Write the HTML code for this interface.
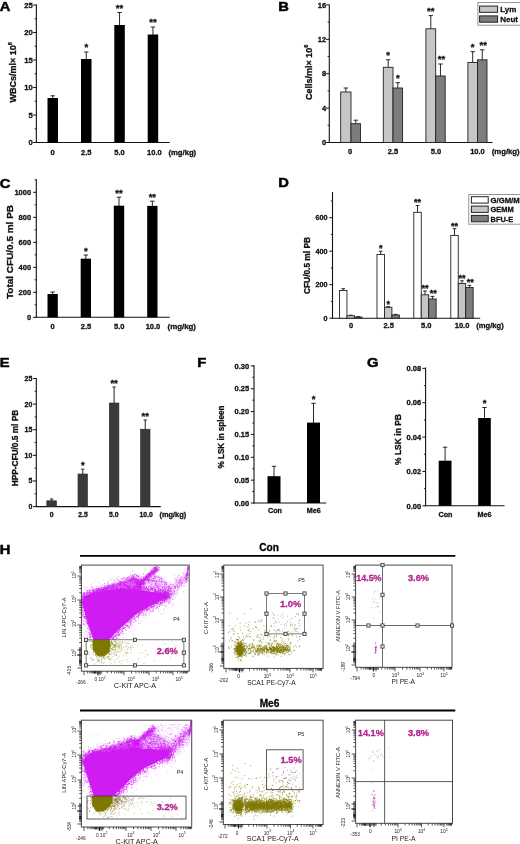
<!DOCTYPE html><html><head><meta charset="utf-8"><style>html,body{margin:0;padding:0;background:#fff}svg{display:block;filter:blur(0.35px)}</style></head><body><svg width="520" height="844" viewBox="0 0 520 844" font-family="Liberation Sans, sans-serif">
<rect width="520" height="844" fill="#fff"/>
<text x="-0.3" y="10.7" font-size="13.4" font-weight="bold" text-anchor="start" fill="#000" textLength="10.64" lengthAdjust="spacingAndGlyphs" stroke="#000" stroke-width="0.5">A</text>
<line x1="36.35" y1="4.5" x2="36.35" y2="143.0" stroke="#111" stroke-width="1.1"/>
<line x1="33.15" y1="142.5" x2="36.35" y2="142.5" stroke="#111" stroke-width="1"/>
<text x="32.75" y="145.272" font-size="7.7" font-weight="bold" text-anchor="end" fill="#111"  stroke="#111" stroke-width="0.3">0</text>
<line x1="33.15" y1="115.0" x2="36.35" y2="115.0" stroke="#111" stroke-width="1"/>
<text x="32.75" y="117.772" font-size="7.7" font-weight="bold" text-anchor="end" fill="#111"  stroke="#111" stroke-width="0.3">5</text>
<line x1="33.15" y1="87.5" x2="36.35" y2="87.5" stroke="#111" stroke-width="1"/>
<text x="32.75" y="90.272" font-size="7.7" font-weight="bold" text-anchor="end" fill="#111"  stroke="#111" stroke-width="0.3">10</text>
<line x1="33.15" y1="60.0" x2="36.35" y2="60.0" stroke="#111" stroke-width="1"/>
<text x="32.75" y="62.772" font-size="7.7" font-weight="bold" text-anchor="end" fill="#111"  stroke="#111" stroke-width="0.3">15</text>
<line x1="33.15" y1="32.5" x2="36.35" y2="32.5" stroke="#111" stroke-width="1"/>
<text x="32.75" y="35.272" font-size="7.7" font-weight="bold" text-anchor="end" fill="#111"  stroke="#111" stroke-width="0.3">20</text>
<line x1="33.15" y1="5.0" x2="36.35" y2="5.0" stroke="#111" stroke-width="1"/>
<text x="32.75" y="7.772" font-size="7.7" font-weight="bold" text-anchor="end" fill="#111"  stroke="#111" stroke-width="0.3">25</text>
<line x1="34.65" y1="128.75" x2="36.35" y2="128.75" stroke="#111" stroke-width="0.9"/>
<line x1="34.65" y1="101.25" x2="36.35" y2="101.25" stroke="#111" stroke-width="0.9"/>
<line x1="34.65" y1="73.75" x2="36.35" y2="73.75" stroke="#111" stroke-width="0.9"/>
<line x1="34.65" y1="46.25" x2="36.35" y2="46.25" stroke="#111" stroke-width="0.9"/>
<line x1="34.65" y1="18.75" x2="36.35" y2="18.75" stroke="#111" stroke-width="0.9"/>
<line x1="35.85" y1="142.5" x2="169.7" y2="142.5" stroke="#111" stroke-width="1.1"/>
<line x1="52.75" y1="95.8" x2="52.75" y2="99" stroke="#111" stroke-width="0.9"/>
<line x1="50.55" y1="95.8" x2="54.95" y2="95.8" stroke="#111" stroke-width="0.9"/>
<rect x="47.50" y="98.00" width="10.50" height="44.50" fill="#000"/>
<line x1="86.25" y1="52" x2="86.25" y2="60" stroke="#111" stroke-width="0.9"/>
<line x1="84.05" y1="52" x2="88.45" y2="52" stroke="#111" stroke-width="0.9"/>
<rect x="81.00" y="59.00" width="10.50" height="83.50" fill="#000"/>
<text x="86.25" y="50.4875" font-size="9.5" font-weight="bold" text-anchor="middle" fill="#111"  stroke="#111" stroke-width="0.3">*</text>
<line x1="119.55" y1="12.5" x2="119.55" y2="26" stroke="#111" stroke-width="0.9"/>
<line x1="117.35" y1="12.5" x2="121.75" y2="12.5" stroke="#111" stroke-width="0.9"/>
<rect x="114.30" y="25.00" width="10.50" height="117.50" fill="#000"/>
<text x="119.55" y="10.9875" font-size="9.5" font-weight="bold" text-anchor="middle" fill="#111"  stroke="#111" stroke-width="0.3">**</text>
<line x1="152.95" y1="27" x2="152.95" y2="35.5" stroke="#111" stroke-width="0.9"/>
<line x1="150.75" y1="27" x2="155.14999999999998" y2="27" stroke="#111" stroke-width="0.9"/>
<rect x="147.70" y="34.50" width="10.50" height="108.00" fill="#000"/>
<text x="152.95" y="25.4875" font-size="9.5" font-weight="bold" text-anchor="middle" fill="#111"  stroke="#111" stroke-width="0.3">**</text>
<text x="52.7" y="154.8" font-size="7.5" font-weight="bold" text-anchor="middle" fill="#111"  stroke="#111" stroke-width="0.3">0</text>
<text x="86.2" y="154.8" font-size="7.5" font-weight="bold" text-anchor="middle" fill="#111"  stroke="#111" stroke-width="0.3">2.5</text>
<text x="119.5" y="154.8" font-size="7.5" font-weight="bold" text-anchor="middle" fill="#111"  stroke="#111" stroke-width="0.3">5.0</text>
<text x="154.4" y="154.8" font-size="7.5" font-weight="bold" text-anchor="middle" fill="#111"  stroke="#111" stroke-width="0.3">10.0</text>
<text x="168.4" y="154.8" font-size="7.7" font-weight="bold" text-anchor="start" fill="#111" textLength="27.8" lengthAdjust="spacingAndGlyphs"  stroke="#111" stroke-width="0.3">(mg/kg)</text>
<text x="16.2" y="102.5" font-size="9" font-weight="bold" text-anchor="start" fill="#111" transform="rotate(-90 16.2 102.5)"  stroke="#111" stroke-width="0.3">WBCs/ml× 10<tspan dy="-4" font-size="5.6">6</tspan></text>
<text x="278.2" y="10.8" font-size="13.4" font-weight="bold" text-anchor="start" fill="#000" textLength="10.64" lengthAdjust="spacingAndGlyphs" stroke="#000" stroke-width="0.5">B</text>
<line x1="329.3" y1="4.5" x2="329.3" y2="143.0" stroke="#111" stroke-width="1.1"/>
<line x1="326.1" y1="142.5" x2="329.3" y2="142.5" stroke="#111" stroke-width="1"/>
<text x="326.1" y="145.2" font-size="7.5" font-weight="bold" text-anchor="end" fill="#111"  stroke="#111" stroke-width="0.3">0</text>
<line x1="326.1" y1="108.1" x2="329.3" y2="108.1" stroke="#111" stroke-width="1"/>
<text x="326.1" y="110.8" font-size="7.5" font-weight="bold" text-anchor="end" fill="#111"  stroke="#111" stroke-width="0.3">4</text>
<line x1="326.1" y1="73.7" x2="329.3" y2="73.7" stroke="#111" stroke-width="1"/>
<text x="326.1" y="76.4" font-size="7.5" font-weight="bold" text-anchor="end" fill="#111"  stroke="#111" stroke-width="0.3">8</text>
<line x1="326.1" y1="39.30000000000001" x2="329.3" y2="39.30000000000001" stroke="#111" stroke-width="1"/>
<text x="326.1" y="42.000000000000014" font-size="7.5" font-weight="bold" text-anchor="end" fill="#111"  stroke="#111" stroke-width="0.3">12</text>
<line x1="326.1" y1="4.900000000000006" x2="329.3" y2="4.900000000000006" stroke="#111" stroke-width="1"/>
<text x="326.1" y="7.600000000000005" font-size="7.5" font-weight="bold" text-anchor="end" fill="#111"  stroke="#111" stroke-width="0.3">16</text>
<line x1="327.6" y1="125.3" x2="329.3" y2="125.3" stroke="#111" stroke-width="0.9"/>
<line x1="327.6" y1="90.9" x2="329.3" y2="90.9" stroke="#111" stroke-width="0.9"/>
<line x1="327.6" y1="56.5" x2="329.3" y2="56.5" stroke="#111" stroke-width="0.9"/>
<line x1="327.6" y1="22.10000000000001" x2="329.3" y2="22.10000000000001" stroke="#111" stroke-width="0.9"/>
<line x1="328.8" y1="142.5" x2="492.5" y2="142.5" stroke="#111" stroke-width="1.1"/>
<line x1="345.85" y1="88" x2="345.85" y2="92" stroke="#111" stroke-width="0.9"/>
<line x1="343.65000000000003" y1="88" x2="348.05" y2="88" stroke="#111" stroke-width="0.9"/>
<line x1="355.75" y1="120.2" x2="355.75" y2="123.7" stroke="#111" stroke-width="0.9"/>
<line x1="353.55" y1="120.2" x2="357.95" y2="120.2" stroke="#111" stroke-width="0.9"/>
<rect x="340.70" y="92.00" width="10.30" height="50.50" fill="#c6c6c6" stroke="#222" stroke-width="0.9"/>
<rect x="351.00" y="123.70" width="9.50" height="18.80" fill="#7d7d7d" stroke="#222" stroke-width="0.9"/>
<line x1="388.15" y1="59.8" x2="388.15" y2="67.3" stroke="#111" stroke-width="0.9"/>
<line x1="385.95" y1="59.8" x2="390.34999999999997" y2="59.8" stroke="#111" stroke-width="0.9"/>
<line x1="397.8" y1="82.7" x2="397.8" y2="88" stroke="#111" stroke-width="0.9"/>
<line x1="395.6" y1="82.7" x2="400.0" y2="82.7" stroke="#111" stroke-width="0.9"/>
<rect x="383.30" y="67.30" width="9.70" height="75.20" fill="#c6c6c6" stroke="#222" stroke-width="0.9"/>
<rect x="393.00" y="88.00" width="9.60" height="54.50" fill="#7d7d7d" stroke="#222" stroke-width="0.9"/>
<text x="388.15" y="58.287499999999994" font-size="9.5" font-weight="bold" text-anchor="middle" fill="#111"  stroke="#111" stroke-width="0.3">*</text>
<text x="397.8" y="81.1875" font-size="9.5" font-weight="bold" text-anchor="middle" fill="#111"  stroke="#111" stroke-width="0.3">*</text>
<line x1="430.79999999999995" y1="15.6" x2="430.79999999999995" y2="28.8" stroke="#111" stroke-width="0.9"/>
<line x1="428.59999999999997" y1="15.6" x2="432.99999999999994" y2="15.6" stroke="#111" stroke-width="0.9"/>
<line x1="440.45" y1="64" x2="440.45" y2="76" stroke="#111" stroke-width="0.9"/>
<line x1="438.25" y1="64" x2="442.65" y2="64" stroke="#111" stroke-width="0.9"/>
<rect x="425.90" y="28.80" width="9.80" height="113.70" fill="#c6c6c6" stroke="#222" stroke-width="0.9"/>
<rect x="435.70" y="76.00" width="9.50" height="66.50" fill="#7d7d7d" stroke="#222" stroke-width="0.9"/>
<text x="430.79999999999995" y="14.087499999999999" font-size="9.5" font-weight="bold" text-anchor="middle" fill="#111"  stroke="#111" stroke-width="0.3">**</text>
<text x="441.45" y="62.4875" font-size="9.5" font-weight="bold" text-anchor="middle" fill="#111"  stroke="#111" stroke-width="0.3">**</text>
<line x1="472.7" y1="51.7" x2="472.7" y2="62.5" stroke="#111" stroke-width="0.9"/>
<line x1="470.5" y1="51.7" x2="474.9" y2="51.7" stroke="#111" stroke-width="0.9"/>
<line x1="482.25" y1="49.8" x2="482.25" y2="59.8" stroke="#111" stroke-width="0.9"/>
<line x1="480.05" y1="49.8" x2="484.45" y2="49.8" stroke="#111" stroke-width="0.9"/>
<rect x="467.90" y="62.50" width="9.60" height="80.00" fill="#c6c6c6" stroke="#222" stroke-width="0.9"/>
<rect x="477.50" y="59.80" width="9.50" height="82.70" fill="#7d7d7d" stroke="#222" stroke-width="0.9"/>
<text x="472.7" y="50.1875" font-size="9.5" font-weight="bold" text-anchor="middle" fill="#111"  stroke="#111" stroke-width="0.3">*</text>
<text x="483.25" y="48.287499999999994" font-size="9.5" font-weight="bold" text-anchor="middle" fill="#111"  stroke="#111" stroke-width="0.3">**</text>
<text x="350" y="153.5" font-size="7.5" font-weight="bold" text-anchor="middle" fill="#111"  stroke="#111" stroke-width="0.3">0</text>
<text x="393" y="153.5" font-size="7.5" font-weight="bold" text-anchor="middle" fill="#111"  stroke="#111" stroke-width="0.3">2.5</text>
<text x="436" y="153.5" font-size="7.5" font-weight="bold" text-anchor="middle" fill="#111"  stroke="#111" stroke-width="0.3">5.0</text>
<text x="477.5" y="153.5" font-size="7.5" font-weight="bold" text-anchor="middle" fill="#111"  stroke="#111" stroke-width="0.3">10.0</text>
<text x="491.7" y="153.5" font-size="7.6" font-weight="bold" text-anchor="start" fill="#111" textLength="28" lengthAdjust="spacingAndGlyphs"  stroke="#111" stroke-width="0.3">(mg/kg)</text>
<text x="311.9" y="100" font-size="9" font-weight="bold" text-anchor="start" fill="#111" transform="rotate(-90 311.9 100)"  stroke="#111" stroke-width="0.3">Cells/ml× 10<tspan dy="-4" font-size="5.6">6</tspan></text>
<rect x="477.90" y="2.60" width="43.10" height="22.60" fill="#fff" stroke="#8a8a8a" stroke-width="0.9"/>
<rect x="479.60" y="6.10" width="18.00" height="6.20" fill="#c6c6c6" stroke="#222" stroke-width="1.0"/>
<rect x="479.60" y="15.90" width="18.00" height="6.30" fill="#7d7d7d" stroke="#222" stroke-width="1.0"/>
<text x="500.2" y="12.2" font-size="8" font-weight="bold" text-anchor="start" fill="#111"  stroke="#111" stroke-width="0.3">Lym</text>
<text x="500.2" y="22.1" font-size="8" font-weight="bold" text-anchor="start" fill="#111"  stroke="#111" stroke-width="0.3">Neut</text>
<text x="-0.3" y="187.6" font-size="13.4" font-weight="bold" text-anchor="start" fill="#000" textLength="10.64" lengthAdjust="spacingAndGlyphs" stroke="#000" stroke-width="0.5">C</text>
<line x1="36.3" y1="179.3" x2="36.3" y2="317.8" stroke="#111" stroke-width="1.1"/>
<line x1="33.099999999999994" y1="317.3" x2="36.3" y2="317.3" stroke="#111" stroke-width="1"/>
<text x="31.099999999999998" y="320.0" font-size="7.5" font-weight="bold" text-anchor="end" fill="#111"  stroke="#111" stroke-width="0.3">0</text>
<line x1="33.099999999999994" y1="292.3" x2="36.3" y2="292.3" stroke="#111" stroke-width="1"/>
<text x="31.099999999999998" y="295.0" font-size="7.5" font-weight="bold" text-anchor="end" fill="#111"  stroke="#111" stroke-width="0.3">200</text>
<line x1="33.099999999999994" y1="267.3" x2="36.3" y2="267.3" stroke="#111" stroke-width="1"/>
<text x="31.099999999999998" y="270.0" font-size="7.5" font-weight="bold" text-anchor="end" fill="#111"  stroke="#111" stroke-width="0.3">400</text>
<line x1="33.099999999999994" y1="242.3" x2="36.3" y2="242.3" stroke="#111" stroke-width="1"/>
<text x="31.099999999999998" y="245.0" font-size="7.5" font-weight="bold" text-anchor="end" fill="#111"  stroke="#111" stroke-width="0.3">600</text>
<line x1="33.099999999999994" y1="217.3" x2="36.3" y2="217.3" stroke="#111" stroke-width="1"/>
<text x="31.099999999999998" y="220.0" font-size="7.5" font-weight="bold" text-anchor="end" fill="#111"  stroke="#111" stroke-width="0.3">800</text>
<line x1="33.099999999999994" y1="192.3" x2="36.3" y2="192.3" stroke="#111" stroke-width="1"/>
<text x="31.099999999999998" y="195.0" font-size="7.5" font-weight="bold" text-anchor="end" fill="#111"  stroke="#111" stroke-width="0.3">1000</text>
<line x1="34.599999999999994" y1="304.8" x2="36.3" y2="304.8" stroke="#111" stroke-width="0.9"/>
<line x1="34.599999999999994" y1="279.8" x2="36.3" y2="279.8" stroke="#111" stroke-width="0.9"/>
<line x1="34.599999999999994" y1="254.8" x2="36.3" y2="254.8" stroke="#111" stroke-width="0.9"/>
<line x1="34.599999999999994" y1="229.8" x2="36.3" y2="229.8" stroke="#111" stroke-width="0.9"/>
<line x1="34.599999999999994" y1="204.8" x2="36.3" y2="204.8" stroke="#111" stroke-width="0.9"/>
<line x1="34.599999999999994" y1="179.8" x2="36.3" y2="179.8" stroke="#111" stroke-width="0.9"/>
<line x1="35.8" y1="317.3" x2="169.7" y2="317.3" stroke="#111" stroke-width="1.1"/>
<line x1="52.65" y1="292" x2="52.65" y2="295" stroke="#111" stroke-width="0.9"/>
<line x1="50.449999999999996" y1="292" x2="54.85" y2="292" stroke="#111" stroke-width="0.9"/>
<rect x="47.50" y="294.00" width="10.30" height="23.30" fill="#000"/>
<line x1="85.85" y1="255" x2="85.85" y2="259.7" stroke="#111" stroke-width="0.9"/>
<line x1="83.64999999999999" y1="255" x2="88.05" y2="255" stroke="#111" stroke-width="0.9"/>
<rect x="80.70" y="258.70" width="10.30" height="58.60" fill="#000"/>
<text x="85.85" y="253.9875" font-size="9.5" font-weight="bold" text-anchor="middle" fill="#111"  stroke="#111" stroke-width="0.3">*</text>
<line x1="119.0" y1="197.2" x2="119.0" y2="206.7" stroke="#111" stroke-width="0.9"/>
<line x1="116.8" y1="197.2" x2="121.2" y2="197.2" stroke="#111" stroke-width="0.9"/>
<rect x="113.80" y="205.70" width="10.40" height="111.60" fill="#000"/>
<text x="119.0" y="196.1875" font-size="9.5" font-weight="bold" text-anchor="middle" fill="#111"  stroke="#111" stroke-width="0.3">**</text>
<line x1="152.35" y1="201.2" x2="152.35" y2="206.9" stroke="#111" stroke-width="0.9"/>
<line x1="150.15" y1="201.2" x2="154.54999999999998" y2="201.2" stroke="#111" stroke-width="0.9"/>
<rect x="147.20" y="205.90" width="10.30" height="111.40" fill="#000"/>
<text x="152.35" y="200.1875" font-size="9.5" font-weight="bold" text-anchor="middle" fill="#111"  stroke="#111" stroke-width="0.3">**</text>
<text x="52.7" y="329" font-size="7.5" font-weight="bold" text-anchor="middle" fill="#111"  stroke="#111" stroke-width="0.3">0</text>
<text x="86" y="329" font-size="7.5" font-weight="bold" text-anchor="middle" fill="#111"  stroke="#111" stroke-width="0.3">2.5</text>
<text x="119.3" y="329" font-size="7.5" font-weight="bold" text-anchor="middle" fill="#111"  stroke="#111" stroke-width="0.3">5.0</text>
<text x="153" y="329" font-size="7.5" font-weight="bold" text-anchor="middle" fill="#111"  stroke="#111" stroke-width="0.3">10.0</text>
<text x="167.5" y="329" font-size="7.6" font-weight="bold" text-anchor="start" fill="#111" textLength="28.5" lengthAdjust="spacingAndGlyphs"  stroke="#111" stroke-width="0.3">(mg/kg)</text>
<text x="12.6" y="299" font-size="9.9" font-weight="bold" text-anchor="start" fill="#111" transform="rotate(-90 12.6 299)" textLength="94" lengthAdjust="spacingAndGlyphs"  stroke="#111" stroke-width="0.3">Total CFU/0.5 ml PB</text>
<text x="278.2" y="187.2" font-size="13.4" font-weight="bold" text-anchor="start" fill="#000" textLength="10.64" lengthAdjust="spacingAndGlyphs" stroke="#000" stroke-width="0.5">D</text>
<line x1="332.5" y1="192.0" x2="332.5" y2="318.7" stroke="#111" stroke-width="1.1"/>
<line x1="329.3" y1="318.2" x2="332.5" y2="318.2" stroke="#111" stroke-width="1"/>
<text x="327.5" y="320.792" font-size="7.2" font-weight="bold" text-anchor="end" fill="#111"  stroke="#111" stroke-width="0.3">0</text>
<line x1="329.3" y1="284.7" x2="332.5" y2="284.7" stroke="#111" stroke-width="1"/>
<text x="327.5" y="287.292" font-size="7.2" font-weight="bold" text-anchor="end" fill="#111"  stroke="#111" stroke-width="0.3">200</text>
<line x1="329.3" y1="251.2" x2="332.5" y2="251.2" stroke="#111" stroke-width="1"/>
<text x="327.5" y="253.792" font-size="7.2" font-weight="bold" text-anchor="end" fill="#111"  stroke="#111" stroke-width="0.3">400</text>
<line x1="329.3" y1="217.7" x2="332.5" y2="217.7" stroke="#111" stroke-width="1"/>
<text x="327.5" y="220.292" font-size="7.2" font-weight="bold" text-anchor="end" fill="#111"  stroke="#111" stroke-width="0.3">600</text>
<line x1="330.8" y1="301.45" x2="332.5" y2="301.45" stroke="#111" stroke-width="0.9"/>
<line x1="330.8" y1="267.95" x2="332.5" y2="267.95" stroke="#111" stroke-width="0.9"/>
<line x1="330.8" y1="234.45" x2="332.5" y2="234.45" stroke="#111" stroke-width="0.9"/>
<line x1="330.8" y1="200.95" x2="332.5" y2="200.95" stroke="#111" stroke-width="0.9"/>
<line x1="332.0" y1="318.2" x2="480.2" y2="318.2" stroke="#111" stroke-width="1.1"/>
<line x1="343.225" y1="288.7" x2="343.225" y2="290.5" stroke="#111" stroke-width="0.9"/>
<line x1="341.425" y1="288.7" x2="345.02500000000003" y2="288.7" stroke="#111" stroke-width="0.9"/>
<rect x="339.50" y="290.50" width="7.45" height="27.70" fill="#fff" stroke="#222" stroke-width="0.9"/>
<line x1="350.67499999999995" y1="315.2" x2="350.67499999999995" y2="315.7" stroke="#111" stroke-width="0.9"/>
<line x1="348.87499999999994" y1="315.2" x2="352.47499999999997" y2="315.2" stroke="#111" stroke-width="0.9"/>
<rect x="346.95" y="315.70" width="7.45" height="2.50" fill="#c6c6c6" stroke="#222" stroke-width="0.9"/>
<line x1="358.125" y1="316.6" x2="358.125" y2="317" stroke="#111" stroke-width="0.9"/>
<line x1="356.325" y1="316.6" x2="359.925" y2="316.6" stroke="#111" stroke-width="0.9"/>
<rect x="354.40" y="317.00" width="7.45" height="1.20" fill="#7d7d7d" stroke="#222" stroke-width="0.9"/>
<line x1="380.725" y1="251.2" x2="380.725" y2="254.5" stroke="#111" stroke-width="0.9"/>
<line x1="378.925" y1="251.2" x2="382.52500000000003" y2="251.2" stroke="#111" stroke-width="0.9"/>
<rect x="377.00" y="254.50" width="7.45" height="63.70" fill="#fff" stroke="#222" stroke-width="0.9"/>
<text x="380.725" y="251.12499999999997" font-size="9" font-weight="bold" text-anchor="middle" fill="#111"  stroke="#111" stroke-width="0.3">*</text>
<line x1="388.17499999999995" y1="306.6" x2="388.17499999999995" y2="307.3" stroke="#111" stroke-width="0.9"/>
<line x1="386.37499999999994" y1="306.6" x2="389.97499999999997" y2="306.6" stroke="#111" stroke-width="0.9"/>
<rect x="384.45" y="307.30" width="7.45" height="10.90" fill="#c6c6c6" stroke="#222" stroke-width="0.9"/>
<text x="388.17499999999995" y="306.52500000000003" font-size="9" font-weight="bold" text-anchor="middle" fill="#111"  stroke="#111" stroke-width="0.3">*</text>
<line x1="395.625" y1="314.4" x2="395.625" y2="315" stroke="#111" stroke-width="0.9"/>
<line x1="393.825" y1="314.4" x2="397.425" y2="314.4" stroke="#111" stroke-width="0.9"/>
<rect x="391.90" y="315.00" width="7.45" height="3.20" fill="#7d7d7d" stroke="#222" stroke-width="0.9"/>
<line x1="417.525" y1="205.5" x2="417.525" y2="212.3" stroke="#111" stroke-width="0.9"/>
<line x1="415.72499999999997" y1="205.5" x2="419.325" y2="205.5" stroke="#111" stroke-width="0.9"/>
<rect x="413.80" y="212.30" width="7.45" height="105.90" fill="#fff" stroke="#222" stroke-width="0.9"/>
<text x="417.525" y="205.42499999999998" font-size="9" font-weight="bold" text-anchor="middle" fill="#111"  stroke="#111" stroke-width="0.3">**</text>
<line x1="424.975" y1="291" x2="424.975" y2="294.8" stroke="#111" stroke-width="0.9"/>
<line x1="423.175" y1="291" x2="426.77500000000003" y2="291" stroke="#111" stroke-width="0.9"/>
<rect x="421.25" y="294.80" width="7.45" height="23.40" fill="#c6c6c6" stroke="#222" stroke-width="0.9"/>
<text x="424.975" y="290.925" font-size="9" font-weight="bold" text-anchor="middle" fill="#111"  stroke="#111" stroke-width="0.3">**</text>
<line x1="432.42499999999995" y1="296.4" x2="432.42499999999995" y2="299" stroke="#111" stroke-width="0.9"/>
<line x1="430.62499999999994" y1="296.4" x2="434.22499999999997" y2="296.4" stroke="#111" stroke-width="0.9"/>
<rect x="428.70" y="299.00" width="7.45" height="19.20" fill="#7d7d7d" stroke="#222" stroke-width="0.9"/>
<text x="433.22499999999997" y="296.325" font-size="9" font-weight="bold" text-anchor="middle" fill="#111"  stroke="#111" stroke-width="0.3">**</text>
<line x1="454.525" y1="228.7" x2="454.525" y2="235.4" stroke="#111" stroke-width="0.9"/>
<line x1="452.72499999999997" y1="228.7" x2="456.325" y2="228.7" stroke="#111" stroke-width="0.9"/>
<rect x="450.80" y="235.40" width="7.45" height="82.80" fill="#fff" stroke="#222" stroke-width="0.9"/>
<text x="454.525" y="228.62499999999997" font-size="9" font-weight="bold" text-anchor="middle" fill="#111"  stroke="#111" stroke-width="0.3">**</text>
<line x1="461.975" y1="280.8" x2="461.975" y2="283.5" stroke="#111" stroke-width="0.9"/>
<line x1="460.175" y1="280.8" x2="463.77500000000003" y2="280.8" stroke="#111" stroke-width="0.9"/>
<rect x="458.25" y="283.50" width="7.45" height="34.70" fill="#c6c6c6" stroke="#222" stroke-width="0.9"/>
<text x="461.975" y="280.725" font-size="9" font-weight="bold" text-anchor="middle" fill="#111"  stroke="#111" stroke-width="0.3">**</text>
<line x1="469.42499999999995" y1="285.3" x2="469.42499999999995" y2="287.5" stroke="#111" stroke-width="0.9"/>
<line x1="467.62499999999994" y1="285.3" x2="471.22499999999997" y2="285.3" stroke="#111" stroke-width="0.9"/>
<rect x="465.70" y="287.50" width="7.45" height="30.70" fill="#7d7d7d" stroke="#222" stroke-width="0.9"/>
<text x="470.22499999999997" y="285.225" font-size="9" font-weight="bold" text-anchor="middle" fill="#111"  stroke="#111" stroke-width="0.3">**</text>
<text x="351.2" y="328" font-size="7.5" font-weight="bold" text-anchor="middle" fill="#111"  stroke="#111" stroke-width="0.3">0</text>
<text x="388.6" y="328" font-size="7.5" font-weight="bold" text-anchor="middle" fill="#111"  stroke="#111" stroke-width="0.3">2.5</text>
<text x="426.3" y="328" font-size="7.5" font-weight="bold" text-anchor="middle" fill="#111"  stroke="#111" stroke-width="0.3">5.0</text>
<text x="462.1" y="328" font-size="7.5" font-weight="bold" text-anchor="middle" fill="#111"  stroke="#111" stroke-width="0.3">10.0</text>
<text x="476.2" y="328" font-size="7.6" font-weight="bold" text-anchor="start" fill="#111" textLength="27.5" lengthAdjust="spacingAndGlyphs"  stroke="#111" stroke-width="0.3">(mg/kg)</text>
<text x="310.3" y="294" font-size="8.4" font-weight="bold" text-anchor="start" fill="#111" transform="rotate(-90 310.3 294)" textLength="57" lengthAdjust="spacingAndGlyphs"  stroke="#111" stroke-width="0.3">CFU/0.5 ml PB</text>
<rect x="468.80" y="194.50" width="52.20" height="29.70" fill="#fff" stroke="#8a8a8a" stroke-width="0.9"/>
<rect x="471.40" y="196.70" width="16.80" height="6.40" fill="#fff" stroke="#222" stroke-width="1.0"/>
<rect x="471.40" y="206.10" width="16.80" height="6.30" fill="#c6c6c6" stroke="#222" stroke-width="1.0"/>
<rect x="471.40" y="215.40" width="16.80" height="6.40" fill="#7d7d7d" stroke="#222" stroke-width="1.0"/>
<text x="490.6" y="202.8" font-size="7.4" font-weight="bold" text-anchor="start" fill="#111" textLength="29" lengthAdjust="spacingAndGlyphs"  stroke="#111" stroke-width="0.3">G/GM/M</text>
<text x="490.6" y="212.2" font-size="7.4" font-weight="bold" text-anchor="start" fill="#111"  stroke="#111" stroke-width="0.3">GEMM</text>
<text x="490.6" y="221.5" font-size="7.4" font-weight="bold" text-anchor="start" fill="#111"  stroke="#111" stroke-width="0.3">BFU-E</text>
<text x="-0.3" y="367.1" font-size="13.4" font-weight="bold" text-anchor="start" fill="#000" textLength="9.83" lengthAdjust="spacingAndGlyphs" stroke="#000" stroke-width="0.5">E</text>
<line x1="36.3" y1="378.0" x2="36.3" y2="507.1" stroke="#111" stroke-width="1.1"/>
<line x1="33.099999999999994" y1="506.6" x2="36.3" y2="506.6" stroke="#111" stroke-width="1"/>
<text x="32.4" y="509.12" font-size="7.0" font-weight="bold" text-anchor="end" fill="#111"  stroke="#111" stroke-width="0.3">0</text>
<line x1="33.099999999999994" y1="480.975" x2="36.3" y2="480.975" stroke="#111" stroke-width="1"/>
<text x="32.4" y="483.495" font-size="7.0" font-weight="bold" text-anchor="end" fill="#111"  stroke="#111" stroke-width="0.3">5</text>
<line x1="33.099999999999994" y1="455.35" x2="36.3" y2="455.35" stroke="#111" stroke-width="1"/>
<text x="32.4" y="457.87" font-size="7.0" font-weight="bold" text-anchor="end" fill="#111"  stroke="#111" stroke-width="0.3">10</text>
<line x1="33.099999999999994" y1="429.725" x2="36.3" y2="429.725" stroke="#111" stroke-width="1"/>
<text x="32.4" y="432.245" font-size="7.0" font-weight="bold" text-anchor="end" fill="#111"  stroke="#111" stroke-width="0.3">15</text>
<line x1="33.099999999999994" y1="404.1" x2="36.3" y2="404.1" stroke="#111" stroke-width="1"/>
<text x="32.4" y="406.62" font-size="7.0" font-weight="bold" text-anchor="end" fill="#111"  stroke="#111" stroke-width="0.3">20</text>
<line x1="33.099999999999994" y1="378.475" x2="36.3" y2="378.475" stroke="#111" stroke-width="1"/>
<text x="32.4" y="380.995" font-size="7.0" font-weight="bold" text-anchor="end" fill="#111"  stroke="#111" stroke-width="0.3">25</text>
<line x1="34.599999999999994" y1="493.7875" x2="36.3" y2="493.7875" stroke="#111" stroke-width="0.9"/>
<line x1="34.599999999999994" y1="468.1625" x2="36.3" y2="468.1625" stroke="#111" stroke-width="0.9"/>
<line x1="34.599999999999994" y1="442.5375" x2="36.3" y2="442.5375" stroke="#111" stroke-width="0.9"/>
<line x1="34.599999999999994" y1="416.9125" x2="36.3" y2="416.9125" stroke="#111" stroke-width="0.9"/>
<line x1="34.599999999999994" y1="391.2875" x2="36.3" y2="391.2875" stroke="#111" stroke-width="0.9"/>
<line x1="35.8" y1="506.6" x2="160.8" y2="506.6" stroke="#111" stroke-width="1.1"/>
<line x1="51.65" y1="499" x2="51.65" y2="501.8" stroke="#333" stroke-width="1.1"/>
<line x1="50.05" y1="499" x2="53.25" y2="499" stroke="#333" stroke-width="1.1"/>
<rect x="46.80" y="500.80" width="9.70" height="5.80" fill="#3a3a3a" stroke="#2a2a2a" stroke-width="0.6"/>
<line x1="82.75" y1="469.2" x2="82.75" y2="475" stroke="#333" stroke-width="1.1"/>
<line x1="81.15" y1="469.2" x2="84.35" y2="469.2" stroke="#333" stroke-width="1.1"/>
<rect x="78.00" y="474.00" width="9.50" height="32.60" fill="#3a3a3a" stroke="#2a2a2a" stroke-width="0.6"/>
<text x="82.75" y="468.1875" font-size="9.5" font-weight="bold" text-anchor="middle" fill="#111"  stroke="#111" stroke-width="0.3">*</text>
<line x1="114.1" y1="387" x2="114.1" y2="404" stroke="#333" stroke-width="1.1"/>
<line x1="112.5" y1="387" x2="115.69999999999999" y2="387" stroke="#333" stroke-width="1.1"/>
<rect x="109.30" y="403.00" width="9.60" height="103.60" fill="#3a3a3a" stroke="#2a2a2a" stroke-width="0.6"/>
<text x="114.1" y="385.9875" font-size="9.5" font-weight="bold" text-anchor="middle" fill="#111"  stroke="#111" stroke-width="0.3">**</text>
<line x1="145.25" y1="420" x2="145.25" y2="430.2" stroke="#333" stroke-width="1.1"/>
<line x1="143.65" y1="420" x2="146.85" y2="420" stroke="#333" stroke-width="1.1"/>
<rect x="140.50" y="429.20" width="9.50" height="77.40" fill="#3a3a3a" stroke="#2a2a2a" stroke-width="0.6"/>
<text x="145.25" y="418.9875" font-size="9.5" font-weight="bold" text-anchor="middle" fill="#111"  stroke="#111" stroke-width="0.3">**</text>
<text x="51.7" y="517" font-size="6.8" font-weight="bold" text-anchor="middle" fill="#111"  stroke="#111" stroke-width="0.3">0</text>
<text x="83" y="517" font-size="6.8" font-weight="bold" text-anchor="middle" fill="#111"  stroke="#111" stroke-width="0.3">2.5</text>
<text x="113.8" y="517" font-size="6.8" font-weight="bold" text-anchor="middle" fill="#111"  stroke="#111" stroke-width="0.3">5.0</text>
<text x="146.2" y="517" font-size="6.8" font-weight="bold" text-anchor="middle" fill="#111"  stroke="#111" stroke-width="0.3">10.0</text>
<text x="159.5" y="517" font-size="7.2" font-weight="bold" text-anchor="start" fill="#111" textLength="26.7" lengthAdjust="spacingAndGlyphs"  stroke="#111" stroke-width="0.3">(mg/kg)</text>
<text x="18.3" y="486.3" font-size="8.6" font-weight="bold" text-anchor="start" fill="#111" transform="rotate(-90 18.3 486.3)" textLength="76.5" lengthAdjust="spacingAndGlyphs"  stroke="#111" stroke-width="0.3">HPP-CFU/0.5 ml PB</text>
<text x="197.3" y="367.1" font-size="13.4" font-weight="bold" text-anchor="start" fill="#000" textLength="9.01" lengthAdjust="spacingAndGlyphs" stroke="#000" stroke-width="0.5">F</text>
<line x1="254" y1="365.2" x2="254" y2="503.5" stroke="#111" stroke-width="1.1"/>
<line x1="250.8" y1="503" x2="254" y2="503" stroke="#111" stroke-width="1"/>
<text x="249.1" y="505.7" font-size="7.5" font-weight="bold" text-anchor="end" fill="#111"  stroke="#111" stroke-width="0.3">0.00</text>
<line x1="250.8" y1="480.15" x2="254" y2="480.15" stroke="#111" stroke-width="1"/>
<text x="249.1" y="482.84999999999997" font-size="7.5" font-weight="bold" text-anchor="end" fill="#111"  stroke="#111" stroke-width="0.3">0.05</text>
<line x1="250.8" y1="457.3" x2="254" y2="457.3" stroke="#111" stroke-width="1"/>
<text x="249.1" y="460.0" font-size="7.5" font-weight="bold" text-anchor="end" fill="#111"  stroke="#111" stroke-width="0.3">0.10</text>
<line x1="250.8" y1="434.45" x2="254" y2="434.45" stroke="#111" stroke-width="1"/>
<text x="249.1" y="437.15" font-size="7.5" font-weight="bold" text-anchor="end" fill="#111"  stroke="#111" stroke-width="0.3">0.15</text>
<line x1="250.8" y1="411.6" x2="254" y2="411.6" stroke="#111" stroke-width="1"/>
<text x="249.1" y="414.3" font-size="7.5" font-weight="bold" text-anchor="end" fill="#111"  stroke="#111" stroke-width="0.3">0.20</text>
<line x1="250.8" y1="388.75" x2="254" y2="388.75" stroke="#111" stroke-width="1"/>
<text x="249.1" y="391.45" font-size="7.5" font-weight="bold" text-anchor="end" fill="#111"  stroke="#111" stroke-width="0.3">0.25</text>
<line x1="250.8" y1="365.9" x2="254" y2="365.9" stroke="#111" stroke-width="1"/>
<text x="249.1" y="368.59999999999997" font-size="7.5" font-weight="bold" text-anchor="end" fill="#111"  stroke="#111" stroke-width="0.3">0.30</text>
<line x1="252.3" y1="491.575" x2="254" y2="491.575" stroke="#111" stroke-width="0.9"/>
<line x1="252.3" y1="468.725" x2="254" y2="468.725" stroke="#111" stroke-width="0.9"/>
<line x1="252.3" y1="445.875" x2="254" y2="445.875" stroke="#111" stroke-width="0.9"/>
<line x1="252.3" y1="423.025" x2="254" y2="423.025" stroke="#111" stroke-width="0.9"/>
<line x1="252.3" y1="400.175" x2="254" y2="400.175" stroke="#111" stroke-width="0.9"/>
<line x1="252.3" y1="377.325" x2="254" y2="377.325" stroke="#111" stroke-width="0.9"/>
<line x1="253.5" y1="503" x2="326.3" y2="503" stroke="#111" stroke-width="1.1"/>
<line x1="274.0" y1="466.3" x2="274.0" y2="477.2" stroke="#111" stroke-width="0.9"/>
<line x1="271.8" y1="466.3" x2="276.2" y2="466.3" stroke="#111" stroke-width="0.9"/>
<rect x="267.50" y="476.20" width="13.00" height="26.80" fill="#000"/>
<line x1="313.5" y1="403.3" x2="313.5" y2="423.6" stroke="#111" stroke-width="0.9"/>
<line x1="311.3" y1="403.3" x2="315.7" y2="403.3" stroke="#111" stroke-width="0.9"/>
<rect x="307.00" y="422.60" width="13.00" height="80.40" fill="#000"/>
<text x="313.5" y="401.7875" font-size="9.5" font-weight="bold" text-anchor="middle" fill="#111"  stroke="#111" stroke-width="0.3">*</text>
<text x="275" y="512.6" font-size="7.2" font-weight="bold" text-anchor="middle" fill="#111"  stroke="#111" stroke-width="0.3">Con</text>
<text x="313.8" y="512.6" font-size="7.2" font-weight="bold" text-anchor="middle" fill="#111"  stroke="#111" stroke-width="0.3">Me6</text>
<text x="224.3" y="468.5" font-size="8.2" font-weight="bold" text-anchor="start" fill="#111" transform="rotate(-90 224.3 468.5)" textLength="63" lengthAdjust="spacingAndGlyphs"  stroke="#111" stroke-width="0.3">% LSK in spleen</text>
<text x="367" y="367.3" font-size="13.4" font-weight="bold" text-anchor="start" fill="#000" textLength="11.47" lengthAdjust="spacingAndGlyphs" stroke="#000" stroke-width="0.5">G</text>
<line x1="425.6" y1="367.5" x2="425.6" y2="506.3" stroke="#111" stroke-width="1.1"/>
<line x1="422.40000000000003" y1="505.8" x2="425.6" y2="505.8" stroke="#111" stroke-width="1"/>
<text x="421.20000000000005" y="508.5" font-size="7.5" font-weight="bold" text-anchor="end" fill="#111"  stroke="#111" stroke-width="0.3">0.00</text>
<line x1="422.40000000000003" y1="471.44" x2="425.6" y2="471.44" stroke="#111" stroke-width="1"/>
<text x="421.20000000000005" y="474.14" font-size="7.5" font-weight="bold" text-anchor="end" fill="#111"  stroke="#111" stroke-width="0.3">0.02</text>
<line x1="422.40000000000003" y1="437.08000000000004" x2="425.6" y2="437.08000000000004" stroke="#111" stroke-width="1"/>
<text x="421.20000000000005" y="439.78000000000003" font-size="7.5" font-weight="bold" text-anchor="end" fill="#111"  stroke="#111" stroke-width="0.3">0.04</text>
<line x1="422.40000000000003" y1="402.72" x2="425.6" y2="402.72" stroke="#111" stroke-width="1"/>
<text x="421.20000000000005" y="405.42" font-size="7.5" font-weight="bold" text-anchor="end" fill="#111"  stroke="#111" stroke-width="0.3">0.06</text>
<line x1="422.40000000000003" y1="368.36" x2="425.6" y2="368.36" stroke="#111" stroke-width="1"/>
<text x="421.20000000000005" y="371.06" font-size="7.5" font-weight="bold" text-anchor="end" fill="#111"  stroke="#111" stroke-width="0.3">0.08</text>
<line x1="423.90000000000003" y1="488.62" x2="425.6" y2="488.62" stroke="#111" stroke-width="0.9"/>
<line x1="423.90000000000003" y1="454.26" x2="425.6" y2="454.26" stroke="#111" stroke-width="0.9"/>
<line x1="423.90000000000003" y1="419.9" x2="425.6" y2="419.9" stroke="#111" stroke-width="0.9"/>
<line x1="423.90000000000003" y1="385.54" x2="425.6" y2="385.54" stroke="#111" stroke-width="0.9"/>
<line x1="425.1" y1="505.8" x2="504.5" y2="505.8" stroke="#111" stroke-width="1.1"/>
<line x1="445.1" y1="447.2" x2="445.1" y2="461.7" stroke="#111" stroke-width="0.9"/>
<line x1="442.90000000000003" y1="447.2" x2="447.3" y2="447.2" stroke="#111" stroke-width="0.9"/>
<rect x="438.70" y="460.70" width="12.80" height="45.10" fill="#000"/>
<line x1="484.5" y1="407.5" x2="484.5" y2="419" stroke="#111" stroke-width="0.9"/>
<line x1="482.3" y1="407.5" x2="486.7" y2="407.5" stroke="#111" stroke-width="0.9"/>
<rect x="478.20" y="418.00" width="12.60" height="87.80" fill="#000"/>
<text x="484.5" y="405.9875" font-size="9.5" font-weight="bold" text-anchor="middle" fill="#111"  stroke="#111" stroke-width="0.3">*</text>
<text x="445.5" y="516.8" font-size="7.2" font-weight="bold" text-anchor="middle" fill="#111"  stroke="#111" stroke-width="0.3">Con</text>
<text x="484.5" y="516.8" font-size="7.2" font-weight="bold" text-anchor="middle" fill="#111"  stroke="#111" stroke-width="0.3">Me6</text>
<text x="401" y="465" font-size="8.5" font-weight="bold" text-anchor="start" fill="#111" transform="rotate(-90 401 465)" textLength="51" lengthAdjust="spacingAndGlyphs"  stroke="#111" stroke-width="0.3">% LSK in PB</text>
<text x="-0.3" y="553.9" font-size="13.4" font-weight="bold" text-anchor="start" fill="#000" textLength="10.64" lengthAdjust="spacingAndGlyphs" stroke="#000" stroke-width="0.5">H</text>
<text x="269" y="551" font-size="10.1" font-weight="bold" text-anchor="middle" fill="#000"  stroke="#000" stroke-width="0.3">Con</text>
<text x="269.5" y="706.9" font-size="10.1" font-weight="bold" text-anchor="middle" fill="#000"  stroke="#000" stroke-width="0.3">Me6</text>
<line x1="80" y1="555.8" x2="455.3" y2="555.8" stroke="#000" stroke-width="1.7"/>
<line x1="80" y1="710.5" x2="455.3" y2="710.5" stroke="#000" stroke-width="1.9"/>
<defs><filter id="b6" x="-10%" y="-10%" width="120%" height="120%"><feGaussianBlur stdDeviation="0.6"/></filter><filter id="b10" x="-10%" y="-10%" width="120%" height="120%"><feGaussianBlur stdDeviation="1.0"/></filter><filter id="b8" x="-10%" y="-10%" width="120%" height="120%"><feGaussianBlur stdDeviation="0.8"/></filter><filter id="b3"><feGaussianBlur stdDeviation="0.35"/></filter></defs>
<clipPath id="c1"><rect x="81.4" y="565.1" width="107.79999999999998" height="106.10000000000002"/></clipPath><g clip-path="url(#c1)">
<path d="M158.7 594.0h0M130.2 611.4h0M101.1 592.3h0M86.5 606.4h0M120.3 589.3h0M124.8 624.2h0M87.0 598.2h0M141.3 590.2h0M119.6 628.5h0M81.1 603.0h0M131.0 620.1h0M157.6 603.4h0M114.4 592.9h0M155.0 600.2h0M84.7 601.9h0M150.6 605.7h0M132.7 616.4h0M161.2 593.1h0M78.9 602.8h0M84.2 616.6h0M106.1 638.7h0M122.2 631.2h0M84.5 599.3h0M149.4 605.4h0M91.0 594.0h0M159.0 598.1h0M116.9 591.6h0M115.4 588.6h0M131.9 591.6h0M128.3 627.4h0M114.4 630.1h0M82.0 601.0h0M109.9 593.4h0M83.3 602.8h0M165.5 595.2h0M166.3 597.7h0M165.2 596.3h0M156.2 603.5h0M152.9 593.7h0M147.4 607.8h0M92.5 593.7h0M150.3 588.9h0M131.7 588.7h0M120.5 587.5h0M122.0 585.5h0M113.8 586.5h0M112.4 590.1h0M88.1 628.0h0M106.8 636.9h0M164.8 596.3h0M117.9 592.4h0M109.6 634.7h0M109.0 630.7h0M109.7 595.2h0M153.0 590.8h0M161.2 600.5h0M104.9 592.6h0M157.5 607.2h0M145.6 609.7h0M85.7 593.9h0M86.0 598.7h0M112.7 592.3h0M141.2 588.9h0M136.3 621.0h0M163.2 590.8h0M143.7 609.2h0M129.4 614.3h0M97.6 591.7h0M86.9 593.3h0M153.3 592.5h0M85.7 599.0h0M81.9 612.7h0M81.2 604.0h0M142.4 612.7h0M148.9 609.6h0M134.7 589.2h0M161.1 602.9h0M81.5 605.1h0M146.2 590.7h0M161.0 600.5h0M150.9 603.2h0M157.8 602.0h0M161.9 593.5h0M131.3 614.7h0M138.3 611.6h0M126.3 590.9h0M86.5 614.8h0M158.2 594.4h0M169.3 593.7h0M152.8 593.5h0M160.7 600.6h0M87.4 605.9h0M84.1 607.7h0M135.5 615.0h0M86.4 617.8h0M96.1 599.7h0M111.4 634.4h0M138.2 616.6h0M128.4 590.0h0M108.3 593.8h0M166.1 598.6h0M120.1 586.3h0M119.2 635.3h0M80.6 594.2h0M170.0 600.1h0M138.4 613.8h0M135.4 592.4h0M99.4 634.0h0M138.5 617.2h0M108.7 591.3h0M149.7 603.7h0M94.1 636.9h0M129.2 622.0h0M120.3 588.6h0M87.4 590.8h0M166.1 593.5h0M143.7 590.9h0M138.7 607.0h0M90.3 591.9h0M84.8 624.4h0M94.0 638.7h0M87.2 623.4h0M153.7 599.8h0M79.8 603.7h0M101.0 636.7h0M83.3 607.3h0M125.3 589.2h0M168.1 594.0h0M85.3 614.4h0M84.1 593.8h0M116.0 632.5h0M135.2 591.4h0M147.8 605.1h0M158.1 603.0h0M148.1 591.8h0M151.1 600.4h0M133.7 586.9h0M85.3 607.4h0M162.2 591.0h0M84.4 604.6h0M153.3 611.2h0M164.1 595.7h0M157.7 592.1h0M112.5 589.3h0M156.4 597.0h0M81.8 607.6h0M91.0 621.5h0M142.5 605.7h0M162.2 596.7h0M131.1 617.0h0M163.8 594.8h0M143.6 589.4h0M94.6 595.4h0M110.2 634.5h0M133.0 621.3h0M86.5 606.1h0M117.1 593.6h0M166.3 598.5h0M153.6 595.1h0M130.9 623.6h0M164.0 595.4h0M153.6 593.2h0M157.1 593.7h0M104.7 590.3h0M115.7 635.7h0M143.9 608.6h0M139.2 612.5h0M87.0 606.6h0M83.5 594.5h0M159.4 600.7h0M89.1 595.5h0M145.2 589.7h0M162.8 600.1h0M137.2 615.1h0M110.3 626.8h0M130.3 586.1h0M148.1 606.3h0M161.8 600.0h0M144.9 607.3h0M123.2 588.9h0M85.1 611.6h0M167.6 591.3h0M142.3 609.1h0M105.3 595.9h0M133.0 588.1h0M120.3 589.3h0M116.4 630.9h0M118.7 630.0h0M166.0 593.7h0M86.4 597.0h0M94.9 592.6h0M141.5 593.2h0M154.1 593.4h0M85.0 606.4h0M106.7 589.0h0M165.7 595.7h0M129.0 623.1h0M148.9 606.7h0M167.2 595.3h0M87.4 615.1h0M149.1 598.1h0M87.0 618.3h0M127.1 586.4h0M89.6 598.3h0M170.8 594.1h0M92.2 599.5h0M146.0 588.2h0M153.9 594.5h0M119.7 633.4h0M117.0 587.4h0M138.5 615.4h0M84.9 608.0h0M146.3 608.4h0M84.2 594.1h0M128.0 619.1h0M135.8 589.8h0M126.8 591.7h0M87.5 596.2h0M86.7 606.2h0M123.7 591.5h0M83.4 623.7h0M155.9 604.2h0M78.7 598.7h0M110.0 593.9h0M156.5 598.8h0M90.5 635.9h0M101.6 592.6h0M124.7 583.9h0M87.5 628.6h0M118.1 635.2h0M128.0 619.8h0M100.0 638.7h0M94.0 601.5h0M106.5 638.9h0M119.4 628.2h0M162.0 596.2h0M92.4 634.1h0M85.8 604.4h0M93.6 595.1h0M164.5 593.4h0M142.2 610.8h0M103.0 594.1h0M105.8 590.7h0M147.6 603.2h0M79.2 599.2h0M99.9 590.2h0M114.1 632.8h0M103.4 591.3h0M160.9 597.9h0M98.0 590.2h0M84.6 616.7h0M154.7 600.8h0M164.7 600.7h0M162.3 594.4h0M109.6 635.7h0M112.2 634.2h0M152.0 606.9h0M157.7 594.8h0M92.4 628.2h0M156.5 593.2h0M134.3 609.3h0M93.6 626.6h0M85.9 600.7h0M97.8 591.1h0M163.8 596.8h0M117.6 629.2h0M132.9 613.8h0M115.2 632.7h0M93.7 592.2h0M161.0 597.4h0M88.8 600.4h0M151.5 599.8h0M78.0 599.7h0M165.1 593.8h0M163.7 595.0h0M118.6 635.0h0M132.9 588.7h0M95.1 635.3h0M114.0 588.1h0M144.3 611.3h0M114.7 633.0h0M158.7 593.6h0M161.3 598.1h0M113.7 634.5h0M121.0 590.0h0M90.5 592.8h0M138.2 592.0h0M160.6 592.8h0M138.3 617.8h0M90.0 623.8h0M91.5 594.4h0M131.2 621.2h0M135.6 611.5h0M116.9 632.0h0M83.8 606.6h0M138.3 610.0h0M158.5 599.4h0M82.2 599.8h0M131.1 593.5h0M168.2 595.9h0M144.8 591.0h0M144.3 610.7h0M113.7 587.8h0M166.9 601.3h0M114.2 638.7h0M134.1 613.8h0M91.1 629.7h0M142.4 593.8h0M119.9 628.6h0M87.4 605.5h0M85.5 613.0h0M122.9 633.2h0M133.1 622.6h0M166.7 596.4h0M88.2 607.9h0M81.4 601.6h0M83.8 597.7h0M138.0 591.2h0M137.6 591.7h0M154.9 591.5h0M145.3 591.9h0M165.7 600.5h0M87.4 621.4h0M82.7 607.7h0M143.4 602.5h0M95.4 636.6h0M95.7 588.5h0M144.4 609.2h0M113.9 591.7h0M101.8 639.1h0M127.5 618.0h0M170.1 594.2h0M162.5 600.4h0M127.3 589.5h0M108.4 637.0h0M113.3 634.8h0M86.8 596.4h0M145.9 594.0h0M123.5 626.3h0M119.4 594.1h0M118.9 631.4h0M154.1 594.5h0M113.0 589.1h0M103.2 593.6h0M89.2 592.9h0M104.7 590.7h0M171.6 596.3h0M158.4 599.4h0M159.7 604.8h0M92.3 626.9h0M119.3 621.7h0M101.4 636.5h0M118.5 624.3h0M156.8 606.0h0M161.8 600.3h0M90.9 595.6h0M109.4 633.9h0M100.2 592.7h0M146.9 609.5h0M104.8 585.6h0M143.3 608.0h0M107.1 590.3h0M157.9 597.7h0M115.6 592.9h0M81.0 596.6h0M127.1 590.1h0M157.9 597.4h0M125.8 627.6h0M142.9 613.1h0M161.7 604.5h0M109.1 632.8h0M83.5 593.3h0M162.7 601.8h0M84.9 596.5h0M115.9 591.3h0M157.5 599.9h0M126.9 588.0h0M147.0 603.1h0M160.1 596.2h0M86.7 600.6h0M85.8 599.2h0M112.5 638.5h0M126.0 587.7h0M98.3 593.9h0M169.4 601.3h0M117.2 638.1h0M130.1 618.3h0M108.3 588.1h0M83.4 601.6h0M84.6 595.5h0M88.9 597.5h0M118.2 634.5h0M153.1 603.0h0M151.7 605.0h0M81.6 610.9h0M88.2 624.9h0M160.2 595.0h0M83.8 594.3h0M147.8 590.2h0M141.6 610.2h0M148.5 591.1h0M136.6 591.1h0M131.9 591.8h0M145.3 609.7h0M136.9 590.4h0M84.4 617.6h0M126.9 622.0h0M107.8 591.0h0M88.2 610.7h0M116.0 626.2h0M91.6 621.7h0M94.0 629.9h0M131.0 617.8h0M83.9 621.3h0M81.7 616.3h0M165.4 597.6h0M83.5 624.8h0M77.3 602.4h0M116.2 635.4h0M85.4 596.6h0M86.9 601.8h0M119.0 583.9h0M163.7 589.7h0M80.9 606.1h0M92.3 624.7h0M116.7 633.2h0M102.9 589.1h0M149.9 591.3h0M107.8 639.3h0M112.7 633.1h0M154.3 600.5h0M135.2 588.2h0M111.0 626.5h0M87.2 598.8h0M117.1 586.6h0M122.9 589.8h0M130.6 594.7h0M90.8 624.4h0M130.7 621.8h0M132.2 617.7h0M80.8 605.5h0M120.2 590.8h0M113.2 590.0h0M170.5 598.4h0M79.0 605.0h0M140.1 610.2h0M105.7 595.3h0M160.8 597.9h0M88.6 595.8h0M82.2 600.6h0M153.4 595.6h0M121.4 624.2h0M133.0 588.5h0M112.5 635.7h0M114.0 590.4h0M88.2 614.0h0M79.1 598.3h0M80.4 606.0h0M167.9 594.9h0M85.4 610.0h0M128.6 620.0h0M133.9 606.1h0M88.0 623.2h0M109.2 594.0h0M111.1 637.5h0M81.2 602.3h0M92.5 593.4h0M114.6 594.5h0M86.4 598.3h0M95.1 594.1h0M164.7 594.6h0M152.0 593.8h0M161.1 594.7h0M159.5 606.6h0M128.8 590.5h0M119.4 629.0h0M149.4 605.3h0M95.8 597.0h0M90.5 637.8h0M83.8 603.2h0M135.0 589.9h0M142.4 595.2h0M134.2 588.5h0M141.8 610.5h0M141.7 610.7h0M164.0 597.1h0M96.6 595.0h0M121.3 631.2h0M147.3 608.8h0M99.7 636.4h0M100.5 589.0h0M85.2 618.4h0M109.0 639.0h0M151.1 602.9h0M119.2 628.7h0M165.2 592.5h0M155.6 604.9h0M124.6 588.0h0M168.3 594.9h0M81.1 598.3h0M139.0 614.0h0M84.4 608.8h0M130.5 589.9h0M106.8 588.3h0M156.1 601.2h0M85.1 599.4h0M148.3 605.5h0M85.6 602.9h0M112.2 588.0h0M104.6 592.6h0M162.2 598.7h0M84.2 614.4h0M158.4 590.3h0M158.3 592.6h0M142.3 607.2h0M163.5 599.4h0M88.7 596.1h0M90.5 637.4h0M157.7 597.7h0M87.2 622.4h0M96.4 636.2h0M85.9 618.3h0M166.4 598.1h0M166.6 596.9h0M139.8 614.8h0M81.8 596.3h0M162.2 603.2h0M129.7 616.9h0M122.6 593.6h0M153.0 606.4h0M133.6 591.9h0M132.4 616.3h0M163.2 593.1h0M152.2 600.3h0M138.1 590.9h0M112.3 634.7h0M164.0 600.2h0M146.8 608.7h0M86.3 595.5h0M112.3 586.9h0M147.4 604.5h0M148.4 602.6h0M89.1 598.4h0M124.3 618.2h0M127.3 620.8h0M112.8 634.6h0M156.6 603.4h0M138.1 612.9h0M148.9 608.9h0M85.8 598.0h0M154.6 588.4h0M145.3 594.9h0M147.4 588.7h0M159.4 598.4h0M170.3 596.9h0M152.1 601.0h0M79.5 600.2h0M127.1 625.1h0M160.4 589.8h0M156.3 592.0h0M166.8 593.4h0M141.9 607.7h0M163.3 593.0h0M157.8 598.5h0M108.7 592.5h0M112.8 638.7h0M92.3 634.8h0M139.9 591.3h0M89.6 636.7h0M135.3 588.4h0M86.9 597.0h0M95.7 593.4h0M79.2 607.4h0M117.2 628.0h0M165.3 594.7h0M128.2 625.3h0M96.4 636.6h0M85.3 616.5h0M86.5 621.3h0M90.0 624.0h0M122.7 625.7h0M80.7 610.2h0M115.5 592.3h0M89.8 629.2h0M167.8 594.4h0M169.0 598.2h0M162.6 590.3h0M160.0 601.5h0M106.0 593.4h0M130.2 591.4h0M84.3 602.6h0M83.4 597.3h0M113.7 593.3h0M164.7 595.2h0M149.3 609.2h0M93.9 595.1h0M154.7 604.0h0M118.5 635.1h0M99.3 639.1h0M166.0 593.6h0M93.3 634.5h0M117.2 588.8h0M129.6 616.6h0M101.7 593.6h0M87.6 597.0h0M158.6 599.7h0M91.5 597.4h0M99.1 639.2h0M159.7 599.4h0M111.4 637.6h0M113.9 632.8h0M82.0 617.2h0M89.0 597.4h0M107.5 638.6h0M147.0 610.1h0M101.5 639.1h0M116.3 637.8h0M118.2 632.6h0M86.6 618.1h0M83.2 597.0h0M113.2 635.2h0M162.1 601.1h0M106.3 637.7h0M101.1 590.7h0M89.9 602.5h0M127.2 613.6h0M93.1 594.8h0M134.7 587.9h0M151.3 608.2h0M156.5 597.9h0M92.2 597.9h0M157.6 594.9h0M102.1 599.0h0M168.3 598.1h0M168.4 595.8h0M135.9 588.0h0M79.7 602.3h0M136.7 590.8h0M151.0 597.3h0M121.1 618.2h0M151.2 604.8h0M79.0 600.1h0M109.4 637.4h0M157.9 590.0h0M107.5 634.8h0M118.6 635.3h0M154.6 596.8h0M130.4 590.7h0M111.9 639.3h0M81.5 610.3h0M98.5 589.8h0M90.2 598.3h0M169.1 595.9h0M103.9 592.0h0M113.9 631.6h0M138.9 591.9h0M155.2 592.5h0M101.6 594.2h0M153.0 600.3h0M151.2 607.0h0M132.9 615.4h0M115.1 631.9h0M102.2 636.8h0M156.6 600.8h0M142.5 591.1h0M104.1 587.6h0M86.2 598.5h0M164.5 601.1h0M128.3 594.6h0M130.4 624.3h0M110.0 635.2h0M148.1 605.9h0M86.7 597.2h0M162.6 598.1h0M138.9 607.1h0M86.7 598.6h0M153.1 604.4h0M109.0 589.5h0M118.6 631.7h0M93.0 628.2h0M78.9 601.6h0M112.8 636.4h0M161.0 591.5h0M142.2 610.9h0M83.6 614.1h0M162.1 597.1h0M88.4 626.3h0M93.2 633.1h0M86.9 600.2h0M165.0 595.6h0M135.9 590.6h0M86.8 596.6h0M85.6 620.8h0M114.7 631.5h0M159.8 599.3h0M81.5 606.3h0M89.7 596.7h0M163.2 597.2h0M160.5 596.6h0M107.3 591.9h0M85.7 613.5h0M164.4 595.5h0M121.2 624.9h0M85.6 610.0h0M109.1 587.7h0M165.5 592.9h0M87.3 600.1h0M161.6 592.5h0M127.8 622.7h0M107.1 639.4h0M168.8 586.7h0M90.4 597.8h0M153.7 604.6h0M99.6 596.5h0M125.7 588.2h0M151.1 597.6h0M119.1 619.0h0M164.6 591.1h0M82.2 604.5h0M130.1 586.4h0M122.4 592.3h0M112.5 593.2h0M82.3 594.4h0M122.8 631.2h0M125.6 625.2h0M132.8 618.8h0M107.1 634.4h0M90.7 595.2h0M111.5 630.3h0M166.0 595.6h0M155.6 592.8h0M115.0 632.0h0M82.1 608.5h0M96.6 638.3h0M115.5 636.1h0M147.0 605.4h0M125.6 621.8h0M139.7 613.2h0M129.4 613.5h0M159.1 591.9h0M81.8 601.3h0M130.1 616.9h0M117.4 632.5h0M94.0 596.7h0M149.6 604.0h0M164.3 596.0h0M93.3 637.0h0M108.2 637.1h0M115.5 592.9h0M131.5 592.6h0M155.7 591.5h0M150.0 604.4h0M135.0 592.0h0M78.3 607.4h0M89.2 589.9h0M110.4 589.6h0M160.7 590.9h0M163.1 600.0h0M93.0 632.1h0M92.7 598.7h0M81.3 599.5h0M168.1 596.2h0M161.6 594.0h0M113.0 639.0h0M119.2 585.8h0M82.2 614.4h0M87.3 597.6h0M92.5 635.5h0M133.5 619.0h0M151.1 611.7h0M121.9 591.3h0M129.1 589.5h0M84.5 617.5h0M95.0 635.4h0M139.0 584.4h0M127.5 592.4h0M84.8 598.6h0M88.9 593.9h0M136.5 616.7h0M168.5 593.6h0M84.1 597.4h0M83.2 617.0h0M153.5 608.8h0M89.7 630.1h0M157.0 592.9h0M111.3 636.9h0M80.1 605.8h0M104.1 638.3h0M143.8 610.9h0M129.2 627.7h0M141.9 612.0h0M163.8 598.2h0M163.6 599.5h0M167.1 599.1h0M81.6 597.7h0M142.6 592.5h0M152.5 603.9h0M101.2 595.9h0M161.1 591.2h0M141.3 610.7h0M101.3 595.5h0M143.7 593.8h0M114.4 591.1h0M146.6 610.6h0M142.1 592.0h0M161.6 602.9h0M162.3 597.3h0M113.3 587.0h0M116.3 587.3h0M82.7 605.2h0M154.4 601.3h0M113.2 639.1h0M152.8 601.1h0M154.1 605.9h0M89.4 593.0h0M110.5 592.2h0M131.0 618.0h0M88.2 610.0h0M84.5 598.4h0M157.9 597.0h0M141.7 606.7h0M125.5 622.9h0M110.2 638.6h0M89.9 636.0h0M83.6 612.2h0M135.6 614.0h0M141.4 587.4h0M134.0 616.3h0M133.9 617.1h0M128.3 621.4h0M153.0 603.4h0M153.9 594.7h0M149.0 594.8h0M111.9 587.3h0M157.0 600.2h0M98.9 593.4h0M91.5 619.2h0M154.6 603.3h0M94.3 590.0h0M143.7 591.4h0M106.5 591.3h0M79.4 604.1h0M128.8 591.1h0M85.7 611.7h0M158.4 604.9h0M156.1 590.9h0M128.7 588.6h0M165.4 599.0h0M84.9 609.2h0M159.8 596.3h0M84.7 603.0h0M139.5 613.6h0M147.0 607.3h0M130.1 588.4h0M79.6 608.7h0M119.5 593.0h0M80.8 603.3h0M151.0 603.5h0M144.9 588.9h0M136.4 616.6h0M87.3 623.9h0M82.9 605.2h0M98.1 593.2h0M108.0 639.2h0M82.9 602.9h0M132.0 592.0h0M98.8 593.8h0M97.9 588.8h0M120.3 589.3h0M85.4 600.7h0M125.5 621.9h0M92.4 595.2h0M169.2 598.4h0M81.1 600.6h0M109.0 633.4h0M114.7 591.0h0M107.8 586.3h0M149.2 588.7h0M93.4 594.0h0M166.9 595.7h0M140.2 613.9h0M89.1 595.6h0M83.4 598.9h0M148.2 607.3h0M115.8 636.3h0M168.4 597.0h0M164.7 591.6h0M154.9 599.2h0M87.7 609.2h0M123.2 625.1h0M145.1 609.4h0M116.4 634.8h0M132.9 588.6h0M123.7 627.8h0M164.2 590.9h0M169.7 597.8h0M158.2 591.5h0M133.6 590.4h0M81.5 598.9h0M139.5 592.7h0M161.8 594.3h0M148.5 596.1h0M155.4 601.5h0M115.1 591.9h0M94.2 595.1h0M95.9 592.0h0M164.2 600.4h0M118.3 628.7h0M145.3 607.8h0M120.0 588.0h0M168.5 594.1h0M141.7 615.2h0M134.2 591.8h0M157.6 603.6h0M114.4 636.4h0M82.2 610.8h0M95.7 635.3h0M131.6 619.4h0M89.0 595.1h0M159.9 593.0h0M123.4 587.9h0M85.9 612.5h0M130.9 594.6h0M95.5 632.7h0M164.1 596.1h0M126.2 626.0h0M85.9 596.5h0M145.4 593.6h0M90.5 614.8h0M166.9 597.0h0M150.3 607.4h0M82.3 601.0h0M152.5 610.7h0M155.3 603.1h0M147.9 595.2h0M98.5 635.8h0M128.0 587.4h0M148.0 593.7h0M95.3 636.0h0M159.2 600.1h0M85.7 604.8h0M159.7 594.1h0M101.3 592.3h0M79.1 602.7h0M150.4 592.6h0M101.1 596.2h0M163.4 598.5h0M157.0 592.6h0M87.7 623.8h0M165.8 590.9h0M98.0 638.3h0M146.4 587.0h0M166.5 597.2h0M111.3 632.5h0M115.6 592.5h0M83.4 605.7h0M146.4 593.5h0M160.8 602.5h0M134.0 618.9h0M159.8 604.5h0M157.7 593.2h0M130.4 624.6h0M127.2 626.2h0M89.3 629.9h0M112.5 637.1h0M165.0 595.0h0M87.4 611.8h0M124.3 589.9h0M156.0 601.4h0M106.9 593.8h0M149.6 594.2h0M92.9 636.8h0M112.9 594.6h0M150.0 589.7h0M115.8 634.1h0M86.8 623.6h0M132.8 616.8h0M110.5 637.6h0M97.6 593.2h0M151.9 607.5h0M157.1 596.1h0M152.8 594.0h0M87.9 595.1h0M166.4 596.0h0M117.6 588.1h0M161.3 598.2h0M167.7 597.6h0M127.5 626.2h0M88.8 607.3h0M129.6 618.9h0M124.7 620.9h0M102.3 594.3h0M87.3 597.1h0M153.7 600.2h0M151.1 601.4h0M148.8 600.6h0M116.8 590.7h0M120.8 627.8h0M84.8 598.9h0M93.0 629.0h0M108.7 636.9h0M112.7 590.6h0M128.7 588.5h0M80.8 606.0h0M122.5 590.2h0M84.8 598.1h0M91.2 598.2h0M85.9 599.2h0M97.3 639.2h0M80.9 603.2h0M138.4 615.2h0M138.8 588.2h0M104.1 587.8h0M157.5 597.1h0M131.0 616.6h0M124.1 588.7h0M160.9 596.0h0M152.4 606.3h0M111.8 635.1h0M116.1 636.7h0M84.9 598.9h0M94.2 633.8h0M90.5 620.8h0M85.2 599.5h0M153.4 593.9h0M106.6 638.7h0M151.3 595.1h0M89.8 633.8h0M148.3 590.1h0M156.3 593.0h0M152.6 593.5h0M85.9 600.8h0M139.8 611.8h0M104.5 586.2h0M133.5 594.2h0M114.4 627.9h0M144.6 593.6h0M96.0 635.4h0M110.4 632.2h0M114.4 636.6h0M84.6 609.1h0M156.6 592.2h0M108.3 637.5h0M160.6 602.4h0M165.7 606.4h0M81.8 599.1h0M102.8 590.3h0M110.9 588.6h0M90.4 627.3h0M94.1 626.6h0M169.3 597.3h0M93.4 624.0h0M88.4 597.8h0M92.7 592.7h0M158.3 589.3h0M90.6 597.2h0M124.6 586.9h0M163.1 592.7h0M91.2 634.6h0M114.5 590.4h0M83.1 598.9h0M88.5 597.3h0M164.5 599.2h0M163.0 596.6h0M89.0 627.6h0M128.1 625.9h0M169.3 594.1h0M117.7 589.6h0M82.2 607.4h0M157.9 606.7h0M159.6 590.9h0M130.4 590.0h0M134.4 609.9h0M86.6 619.4h0M116.2 631.6h0M158.4 591.2h0M84.8 604.3h0M89.0 597.6h0M110.5 592.4h0M91.1 634.3h0M166.1 593.4h0M110.6 595.6h0M106.0 589.4h0M149.6 594.5h0M91.2 629.1h0M94.5 634.0h0M148.0 605.3h0M120.0 592.4h0M92.3 596.7h0M86.9 622.5h0M154.6 606.6h0M125.5 589.1h0M161.7 599.2h0M93.0 627.8h0M97.3 593.9h0M143.5 589.1h0M80.2 600.1h0M102.3 635.6h0M105.5 590.0h0M165.7 593.5h0M120.8 589.3h0M86.8 605.5h0M110.3 590.3h0M150.7 599.1h0M92.7 599.8h0M169.4 596.7h0M168.3 595.8h0M159.9 594.2h0M122.1 588.9h0M141.2 610.9h0M81.3 606.5h0M132.2 613.6h0M98.1 588.9h0M97.7 596.3h0M143.4 588.9h0M120.6 632.7h0M143.6 592.3h0M156.7 601.0h0M110.9 588.7h0M133.9 615.8h0M91.7 596.3h0M91.8 586.8h0M101.8 594.4h0M151.4 587.2h0M150.0 592.9h0M90.8 611.2h0M89.1 593.3h0M145.8 599.8h0M86.8 610.8h0M144.6 596.2h0M150.9 603.6h0M155.0 601.5h0M80.2 603.6h0M91.9 636.1h0M110.8 634.1h0M139.9 610.6h0M157.3 601.6h0M149.0 591.2h0M88.3 616.3h0M95.2 637.4h0M152.7 597.0h0M152.0 593.1h0M84.1 596.1h0M95.2 638.7h0M136.0 610.2h0M145.6 592.3h0M170.8 597.8h0M141.5 612.5h0M159.6 601.7h0M157.7 594.7h0M131.4 615.3h0M145.5 588.4h0M155.5 594.0h0M83.8 598.4h0M97.4 590.9h0M116.6 587.2h0M154.6 590.8h0M134.7 618.7h0M169.9 595.0h0M143.3 592.7h0M91.8 594.2h0M141.7 612.3h0M143.8 601.1h0M118.7 634.7h0M155.7 592.3h0M89.0 626.4h0M135.6 586.3h0M148.5 597.3h0M160.0 592.3h0M136.4 596.2h0M162.1 596.3h0M122.6 589.0h0M99.6 590.9h0M109.2 637.5h0M117.7 593.9h0M166.7 596.9h0M94.9 593.9h0M135.4 620.2h0M130.3 620.3h0M155.9 601.9h0M153.5 593.1h0M91.6 626.4h0M118.3 627.5h0M154.5 605.5h0M162.7 591.5h0M147.7 609.6h0M166.3 596.5h0M143.6 609.2h0M86.1 617.3h0M89.7 598.4h0M136.7 613.9h0M114.6 639.2h0M165.0 596.8h0M164.7 599.9h0M96.1 593.1h0M84.7 599.6h0M95.5 592.7h0M80.3 603.0h0M112.2 588.0h0M111.2 589.6h0M84.7 597.8h0M88.1 598.3h0M164.7 597.1h0M90.9 626.6h0M120.7 594.6h0M122.3 588.8h0M123.4 628.6h0M113.5 638.3h0M146.8 608.0h0M85.5 600.8h0M162.2 598.4h0M133.3 614.2h0M106.1 589.8h0M165.7 599.6h0M82.9 607.6h0M133.8 591.0h0M126.0 624.0h0M104.6 590.9h0M113.2 583.5h0M166.1 592.9h0M161.8 597.4h0M138.4 610.1h0M162.3 590.5h0M164.7 602.3h0M90.4 627.2h0M163.4 594.5h0M159.4 596.0h0M91.6 627.7h0M130.2 588.4h0M126.4 625.2h0M80.5 602.9h0M125.5 588.7h0M151.6 604.2h0M104.1 590.2h0M139.1 591.5h0M78.6 596.4h0M85.9 607.5h0M87.0 611.2h0M82.8 603.0h0M91.5 595.3h0M80.8 605.2h0M92.9 596.1h0M118.1 630.5h0M81.9 599.1h0M128.4 590.0h0M86.8 592.9h0M156.1 601.7h0M156.6 602.1h0M152.1 602.2h0M167.0 596.7h0M127.6 617.7h0M102.9 593.1h0M137.9 611.2h0M165.3 591.9h0M119.1 628.8h0M112.9 585.7h0M119.7 630.5h0M130.4 593.1h0M130.9 623.2h0M83.8 605.0h0M156.5 597.1h0M123.0 624.9h0M122.4 628.4h0M78.7 601.6h0M123.4 590.5h0M86.2 615.3h0M111.8 634.6h0M139.2 613.2h0M120.2 624.8h0M149.7 609.9h0M100.4 636.5h0M89.6 592.8h0M135.2 590.9h0M85.5 603.6h0M103.5 591.9h0M140.3 590.3h0M88.7 592.3h0M145.3 614.8h0M119.9 587.9h0M90.6 619.2h0M78.2 603.6h0M156.0 602.7h0M156.1 591.2h0M155.0 601.9h0M125.1 586.7h0M171.5 593.9h0M148.7 608.8h0M134.0 617.1h0M154.2 598.3h0M87.1 598.8h0M122.4 626.0h0M110.2 590.3h0M167.3 593.1h0M164.6 593.5h0M137.1 586.9h0M130.1 622.1h0M105.9 587.3h0M119.1 584.3h0M110.3 590.5h0M86.2 610.9h0M119.0 626.3h0M124.2 628.4h0M100.8 594.0h0M85.3 598.6h0M150.0 598.5h0M97.2 632.2h0M86.4 596.7h0M160.9 592.8h0M81.6 606.8h0M93.9 594.9h0M162.6 595.1h0M85.4 596.4h0M138.1 589.7h0M163.7 594.4h0M119.3 594.2h0M121.1 593.1h0M145.5 608.0h0M85.3 616.8h0M153.3 604.7h0M92.6 598.9h0M87.6 608.9h0M85.2 604.8h0M79.9 600.0h0M82.4 599.8h0M90.7 616.7h0M100.1 590.5h0M90.6 622.0h0M110.0 594.3h0M163.2 598.5h0M160.4 603.1h0M104.7 590.7h0M161.7 597.9h0M110.6 592.5h0M87.0 609.6h0M135.8 592.1h0M155.8 608.6h0M118.9 633.2h0M154.7 605.7h0M97.6 636.4h0M85.5 611.6h0M152.0 598.6h0M127.3 587.5h0M124.9 590.4h0M84.1 592.6h0M108.2 637.5h0M80.0 604.0h0M93.9 636.5h0M145.6 597.2h0M122.7 616.7h0M111.4 635.9h0M138.9 591.5h0M154.9 591.2h0M113.9 630.5h0M163.2 598.1h0M138.4 586.8h0M163.3 600.3h0M137.9 610.7h0M80.9 612.6h0M113.6 587.4h0M157.7 597.5h0M115.0 590.1h0M135.0 614.5h0M112.1 626.2h0M114.0 590.6h0M94.6 595.0h0M154.4 605.9h0M158.4 601.0h0M147.3 589.1h0M166.3 591.6h0M148.8 592.8h0M165.9 595.2h0M82.4 604.5h0M115.0 634.9h0M97.4 594.0h0M150.4 589.2h0M101.2 590.0h0M119.2 594.7h0M114.0 588.2h0M146.6 590.8h0M116.4 629.8h0M155.7 602.8h0M117.6 589.8h0M163.0 596.5h0M84.3 616.0h0M138.9 608.6h0M82.3 615.3h0M100.9 589.9h0M173.3 593.4h0M155.2 602.2h0M115.7 592.9h0M91.9 595.2h0M145.4 593.9h0M90.6 594.5h0M147.4 596.9h0M162.7 592.8h0M133.1 593.1h0M160.3 600.4h0M155.4 593.0h0M120.7 593.1h0M94.5 593.9h0M167.5 595.6h0M154.8 590.4h0M145.4 607.5h0M98.0 596.7h0M89.4 592.1h0M147.5 591.6h0M117.7 631.7h0M105.2 587.9h0M118.2 623.8h0M154.8 590.4h0M156.7 603.2h0M80.3 599.0h0M137.8 617.2h0M101.0 592.1h0M108.5 636.3h0M157.5 601.0h0M113.5 637.1h0M86.9 603.1h0M87.4 624.1h0M85.6 602.6h0M130.9 590.1h0M142.2 594.0h0M127.5 614.1h0M162.2 597.4h0M156.1 602.7h0M132.7 588.5h0M139.8 592.8h0M161.2 596.7h0M113.7 628.3h0M164.2 596.7h0M157.5 600.8h0M110.0 594.1h0M82.3 601.9h0M137.7 590.1h0M162.8 598.2h0M85.0 594.2h0M90.7 599.3h0M81.9 594.5h0M160.5 597.2h0M85.5 606.1h0M152.4 590.4h0M84.1 592.8h0M93.2 592.9h0M146.3 615.3h0M110.2 588.7h0M84.4 604.2h0M137.7 588.0h0M95.7 595.2h0M83.9 603.8h0M129.8 588.8h0M121.8 628.5h0M84.9 605.7h0M92.6 597.0h0M163.5 592.1h0M126.8 592.5h0M156.9 594.5h0M105.1 593.7h0M84.8 600.7h0M103.0 634.7h0M153.5 600.3h0M167.1 598.3h0M122.7 628.0h0M79.1 605.4h0M91.4 636.8h0M109.1 592.7h0M154.4 593.8h0M84.7 618.9h0M144.6 590.2h0M88.6 606.4h0M93.3 625.8h0M113.5 631.3h0M79.9 602.0h0M155.7 602.6h0M102.7 587.4h0M161.9 594.3h0M122.0 623.4h0M100.8 594.0h0M158.2 593.5h0M133.3 593.6h0M163.3 594.8h0M142.7 593.5h0M85.9 599.7h0M86.6 630.9h0M85.3 610.8h0M79.6 602.1h0M85.2 605.9h0M127.7 596.3h0M126.1 630.5h0M165.9 598.5h0M165.2 594.0h0M130.3 593.4h0M90.6 634.2h0M129.6 590.0h0M140.5 612.4h0M136.9 614.9h0M120.5 588.5h0M119.2 634.1h0M136.4 586.7h0M87.9 591.2h0M135.7 617.7h0M160.4 592.8h0M157.5 599.3h0M80.9 598.6h0M168.9 603.3h0M167.9 600.0h0M128.1 617.2h0M121.9 625.9h0M92.0 587.1h0M163.2 602.6h0M87.6 602.1h0M130.8 590.9h0M117.9 626.4h0M131.0 620.1h0M117.7 626.0h0M142.9 607.6h0M159.4 594.6h0M109.4 591.4h0M163.1 597.3h0M96.0 637.3h0M118.1 592.4h0M124.1 627.9h0M108.7 595.7h0M80.8 596.9h0M119.3 624.3h0M164.4 594.8h0M172.7 599.3h0M94.8 636.2h0M139.2 596.6h0M165.1 594.8h0M111.0 639.1h0M136.5 611.9h0M158.4 592.0h0M80.8 595.8h0M86.6 601.1h0M116.7 590.0h0M89.1 621.1h0M96.2 593.9h0M145.7 607.5h0M124.1 586.3h0M116.2 587.9h0M83.5 614.7h0M112.0 634.6h0M96.6 634.9h0M152.0 606.2h0M121.5 630.2h0M110.7 635.7h0M132.4 618.4h0M106.9 635.0h0M118.3 626.1h0M137.4 587.8h0M134.0 590.2h0M117.0 590.1h0M108.1 637.0h0M135.2 613.0h0M119.0 625.0h0M129.3 617.8h0M151.2 605.0h0M149.5 592.1h0M85.5 618.7h0M99.6 595.1h0M120.9 582.6h0M158.3 596.6h0M80.5 600.6h0M156.2 595.4h0M149.1 592.1h0M156.3 607.7h0M86.2 631.8h0M86.0 608.0h0M146.7 592.6h0M159.5 606.0h0M87.4 599.2h0M129.4 591.6h0M126.3 585.2h0M113.1 630.7h0M88.8 598.9h0M105.6 637.1h0M131.9 593.4h0M165.8 598.9h0M94.1 636.2h0M102.6 638.2h0M81.4 602.4h0M102.5 590.7h0M82.5 612.8h0M92.9 636.9h0M162.6 596.4h0M92.5 596.5h0M144.9 593.8h0M139.9 587.4h0M144.7 588.1h0M157.0 601.7h0M153.4 607.1h0M104.5 639.2h0M149.1 602.4h0M155.2 595.2h0M81.5 600.5h0M141.3 613.7h0M151.7 588.6h0M146.8 605.8h0M132.6 588.2h0M89.5 634.8h0M115.5 592.2h0M110.1 589.6h0M162.2 594.9h0M154.9 603.6h0M87.0 609.9h0M159.0 597.7h0M121.6 587.9h0M157.0 604.8h0M156.6 600.6h0M83.2 607.2h0M153.0 604.2h0M84.3 609.2h0M91.2 593.2h0M82.8 610.8h0M82.0 601.7h0M166.1 599.0h0M115.8 590.2h0M157.1 601.3h0M86.7 594.1h0M134.6 616.3h0M129.0 589.1h0M150.9 591.1h0M94.7 629.5h0M162.3 598.1h0M134.7 588.3h0M151.3 599.7h0M168.6 592.6h0M89.5 627.3h0M132.7 625.4h0M147.2 610.5h0M89.2 632.9h0M84.5 597.6h0M99.3 594.9h0M146.6 597.6h0M111.0 594.6h0M77.6 596.8h0M135.5 590.6h0M152.7 608.0h0M129.3 610.4h0M162.7 601.4h0M116.8 637.0h0M123.8 592.5h0M150.3 594.0h0M117.0 628.3h0M137.6 610.1h0M110.9 632.7h0M159.0 595.5h0M83.0 602.9h0M110.8 593.8h0M146.3 605.7h0M110.5 593.8h0M151.4 604.2h0M125.0 590.2h0M98.9 589.8h0M91.2 596.7h0M155.8 591.8h0M166.5 594.9h0M146.5 611.3h0M77.2 600.8h0M126.1 593.6h0M79.4 599.7h0M160.6 596.9h0M84.0 616.7h0M157.6 600.1h0M129.5 621.6h0M111.5 587.8h0M86.2 604.1h0M91.9 615.9h0M152.5 602.1h0M88.9 632.1h0M130.5 589.6h0M108.3 592.2h0M90.7 630.1h0M79.1 597.4h0M89.8 621.7h0M87.7 594.2h0M89.5 595.6h0M80.3 608.5h0M128.5 619.5h0M101.5 592.5h0M150.9 593.2h0M93.8 593.5h0M98.0 635.3h0M143.5 590.5h0M100.3 638.0h0M164.1 596.6h0M82.6 599.5h0M156.4 590.0h0M134.4 613.9h0M125.9 590.2h0M125.2 625.0h0M81.3 605.2h0M166.2 597.5h0M122.3 629.8h0M167.1 597.2h0M92.8 621.4h0M143.5 586.7h0M123.4 591.7h0M150.6 607.2h0M154.4 589.6h0M156.5 603.2h0M103.8 588.3h0M150.5 606.0h0M82.6 596.3h0M117.8 579.9h0M123.6 625.9h0M145.3 588.9h0M147.8 608.1h0M160.4 593.6h0M112.7 629.9h0M157.7 600.3h0M145.8 597.1h0M125.5 588.7h0M85.7 595.4h0M118.2 631.2h0M113.2 594.8h0M137.1 591.5h0M160.5 597.5h0M128.6 588.6h0M106.3 592.6h0M167.6 592.2h0M118.5 632.2h0M166.6 597.4h0M81.8 598.0h0M126.9 585.5h0M98.1 635.7h0M122.4 626.8h0M97.6 592.5h0M108.6 638.6h0M129.1 620.1h0M138.3 589.7h0M110.4 635.4h0M88.7 597.5h0M113.7 631.0h0M130.9 594.6h0M82.3 606.1h0M164.1 601.8h0M107.0 639.2h0M121.1 628.9h0M117.0 589.7h0M160.0 600.3h0M83.7 610.6h0M119.3 631.2h0M86.5 604.5h0M110.6 634.0h0M85.7 597.2h0M136.3 590.0h0M167.3 592.6h0M116.6 630.4h0M127.6 614.1h0M129.5 626.3h0M159.5 593.5h0M99.7 588.4h0M130.5 593.3h0M82.4 601.6h0M157.8 599.9h0M158.3 594.5h0M86.2 616.7h0M162.5 593.8h0M131.0 591.9h0M90.3 623.0h0M137.2 613.3h0M91.4 596.1h0M98.9 636.2h0M89.3 625.7h0M124.7 588.6h0M79.8 596.6h0M121.9 624.6h0M120.2 593.7h0M148.0 608.9h0M85.6 597.0h0M148.1 606.5h0M148.2 605.1h0M91.8 630.2h0M82.6 609.8h0M125.2 619.3h0M139.4 615.2h0M113.4 591.0h0M158.9 593.1h0M98.3 639.1h0M116.3 591.1h0M89.9 635.3h0M132.0 612.2h0M120.8 623.6h0M153.2 604.2h0M114.7 628.5h0M90.6 624.0h0M90.8 596.9h0M120.5 629.6h0M162.5 587.9h0M151.0 587.8h0M88.8 596.7h0M85.8 605.7h0M126.3 591.2h0M165.1 598.3h0M89.7 637.6h0M105.8 633.9h0M166.5 601.6h0M94.3 634.7h0M90.4 633.1h0M143.8 615.1h0M83.4 606.5h0M84.1 598.8h0M160.4 602.2h0M131.2 619.0h0M148.9 604.9h0M131.5 617.0h0M91.6 630.7h0M153.4 604.4h0M141.2 591.1h0M134.7 619.3h0M90.4 630.9h0M165.1 599.2h0M162.1 603.1h0M85.8 602.9h0M82.0 603.3h0M97.8 592.9h0M167.2 597.7h0M109.2 634.5h0M81.8 601.5h0M83.6 595.4h0M153.3 609.7h0M148.4 605.6h0M110.2 634.4h0M121.5 588.0h0M157.9 602.9h0M146.4 601.8h0M105.6 589.5h0M79.5 607.7h0M111.2 637.4h0M169.0 595.8h0M89.9 624.2h0M165.0 593.6h0M119.1 629.3h0M93.0 624.2h0M143.9 608.6h0M89.5 600.0h0M158.7 603.5h0M88.7 621.7h0M90.8 600.4h0M106.8 635.3h0M130.7 622.5h0M99.2 637.8h0M94.0 628.1h0M147.4 603.3h0M79.0 604.2h0M127.0 619.9h0M115.7 590.1h0M141.7 606.1h0M122.4 621.9h0M118.9 589.9h0M85.6 616.6h0M151.4 605.2h0M102.2 593.5h0M120.2 586.4h0M127.8 622.0h0M83.6 609.9h0M88.3 613.5h0M86.9 616.6h0M113.4 630.3h0M120.4 594.1h0M113.6 637.2h0M141.7 609.5h0M122.4 588.0h0M111.2 634.6h0M116.9 634.6h0M89.0 597.6h0M114.9 636.2h0M87.9 635.0h0M153.1 606.0h0M149.4 594.5h0M86.6 594.3h0M146.9 606.3h0M150.6 610.8h0M81.8 597.6h0M83.9 604.8h0M107.8 589.0h0M84.3 607.6h0M135.3 588.9h0M154.4 591.1h0M167.3 598.1h0M84.0 601.8h0M81.8 599.9h0M125.6 588.5h0M109.6 590.5h0M94.5 595.7h0M157.4 594.0h0M123.3 628.7h0M121.7 625.0h0M158.8 592.2h0M152.1 589.3h0M135.5 611.3h0M100.2 636.0h0M84.5 608.0h0M126.3 622.8h0M150.5 602.1h0M163.7 600.6h0M161.0 603.7h0M150.2 608.1h0M141.2 609.4h0M137.2 590.9h0M98.4 593.1h0M128.7 590.9h0M92.8 631.4h0M84.8 600.8h0M148.6 605.5h0M113.6 592.5h0M87.4 596.4h0M81.8 612.1h0M156.0 591.7h0M124.4 624.3h0M161.2 604.9h0M159.4 593.7h0M143.6 605.9h0M79.1 599.2h0M162.6 596.9h0M86.0 606.9h0M121.8 587.9h0M133.8 589.6h0M99.2 595.8h0M114.9 630.1h0M82.6 596.2h0M115.9 586.5h0M147.3 593.0h0M98.3 589.4h0M119.4 628.7h0M120.4 581.2h0M91.0 593.2h0M141.4 583.5h0M87.1 592.0h0M140.3 587.0h0M141.2 584.5h0M138.3 579.0h0M96.6 590.5h0M94.0 592.1h0M101.4 589.2h0M100.8 590.4h0M127.1 593.6h0M133.2 578.9h0M140.7 580.5h0M92.5 597.0h0M134.6 574.9h0M141.1 594.0h0M118.7 585.5h0M102.8 589.3h0M101.1 590.5h0M91.0 593.7h0M104.0 595.2h0M139.6 582.9h0M119.5 584.6h0M127.7 577.5h0M140.2 579.6h0M98.0 589.0h0M137.9 583.4h0M137.8 579.4h0M143.4 587.4h0M124.5 577.6h0M141.8 591.8h0M106.7 586.2h0M140.5 586.9h0M133.6 577.7h0M96.7 590.1h0M93.9 594.3h0M124.0 582.8h0M92.6 595.1h0M138.4 593.1h0M107.1 594.3h0M138.3 581.4h0M142.9 583.8h0M136.0 581.2h0M128.6 594.3h0M105.7 589.0h0M117.5 593.6h0M141.3 579.2h0M85.6 595.8h0M108.1 581.5h0M85.7 598.1h0M142.2 584.2h0M135.4 579.0h0M113.7 593.0h0M133.5 579.3h0M144.1 587.3h0M124.1 580.2h0M111.3 593.1h0M97.2 589.6h0M127.2 595.4h0M129.7 576.7h0M131.5 580.5h0M100.6 588.4h0M98.3 589.8h0M96.9 596.6h0M132.5 575.4h0M141.7 593.0h0M99.4 591.3h0M93.7 590.3h0M143.8 584.1h0M100.6 597.2h0M99.9 593.5h0M129.4 580.2h0M96.9 593.0h0M115.6 584.4h0M97.6 589.1h0M140.6 581.4h0M133.9 578.7h0M96.2 598.1h0M130.9 575.9h0M133.7 578.3h0M133.8 578.2h0M139.9 591.3h0M87.6 593.5h0M83.1 596.7h0M137.2 583.5h0M138.2 579.6h0M127.0 592.6h0M92.4 589.7h0M84.5 596.9h0M129.2 592.9h0M139.2 574.5h0M121.9 579.0h0M83.2 596.1h0M96.5 588.8h0M128.2 579.2h0M145.3 588.9h0M138.5 580.1h0M119.1 582.8h0M132.9 592.2h0M103.3 587.7h0M144.2 583.1h0M111.1 579.7h0M137.8 594.4h0M139.2 588.5h0M125.3 594.6h0M112.8 584.7h0M132.4 576.4h0M132.9 580.6h0M92.8 589.9h0M132.3 579.1h0M106.2 594.4h0M94.3 593.1h0M88.0 601.2h0M120.2 581.9h0M105.6 594.4h0M138.7 585.6h0M142.3 588.1h0M135.5 579.1h0M98.7 590.7h0M124.1 594.5h0M93.2 589.8h0M141.2 591.2h0M102.8 589.1h0M128.0 579.8h0M108.8 585.9h0M128.3 576.5h0M131.3 578.0h0M91.5 589.9h0M135.9 582.0h0M97.3 596.5h0M84.9 596.8h0M99.5 588.4h0M132.9 592.2h0M139.3 589.7h0M139.1 582.6h0M132.9 575.3h0M143.7 584.7h0M140.2 590.9h0M107.0 596.4h0M116.7 577.9h0M93.7 597.8h0M142.4 590.8h0M143.6 587.1h0M109.0 597.1h0M105.7 587.1h0M140.0 586.7h0M137.1 581.2h0M128.1 597.6h0M99.0 592.2h0M90.1 594.3h0M136.1 582.4h0M102.8 594.1h0M140.0 588.6h0M90.1 594.5h0M84.8 597.7h0M136.2 579.3h0M142.3 588.4h0M141.2 588.9h0M133.4 577.0h0M116.3 590.4h0M139.7 585.4h0M109.4 591.8h0M131.3 578.4h0M136.3 580.8h0M138.1 575.9h0M124.0 583.2h0M105.4 588.4h0M114.5 585.2h0M94.3 595.1h0M129.1 580.1h0M117.6 593.8h0M116.6 593.5h0M116.8 591.6h0M138.3 576.8h0M101.9 592.0h0M129.1 589.7h0M126.1 579.0h0M95.9 589.6h0M101.2 585.6h0M94.5 595.5h0M107.4 588.6h0M103.7 591.0h0M120.2 584.1h0M138.3 580.9h0M125.4 597.6h0M119.2 582.0h0M133.4 576.4h0M86.2 594.1h0M134.9 576.2h0M88.0 596.2h0M104.6 593.4h0M132.1 577.5h0M135.6 592.6h0M131.0 592.2h0M140.4 590.7h0M141.5 589.9h0M142.7 579.2h0M134.1 579.4h0M84.7 592.9h0M139.9 593.6h0M112.2 596.1h0M104.5 583.6h0M84.8 596.8h0M122.4 594.3h0M136.2 575.9h0M137.8 582.0h0M130.0 580.8h0M127.9 578.6h0M92.9 595.5h0M138.6 580.6h0M129.6 580.8h0M105.1 592.9h0M135.1 582.7h0M134.6 592.7h0M131.5 581.2h0M120.3 592.7h0M140.6 577.4h0M86.6 592.5h0M136.7 575.6h0M142.0 589.6h0M140.1 584.3h0M98.6 593.9h0M136.9 578.8h0M134.4 592.5h0M133.5 574.6h0M95.9 591.9h0M121.8 592.6h0M138.2 576.2h0M93.8 590.6h0M142.1 583.7h0M85.0 599.6h0M109.3 585.8h0M113.1 587.2h0M122.2 593.9h0M101.1 595.2h0M111.9 594.5h0M107.7 584.9h0M105.9 590.4h0M120.4 590.4h0M91.5 598.0h0M142.4 584.0h0M84.6 596.8h0M93.1 595.5h0M121.5 582.7h0M115.1 596.4h0M133.9 590.5h0M129.4 595.4h0M117.0 584.5h0M101.6 587.7h0M122.9 591.2h0M137.5 590.7h0M92.9 593.9h0M126.2 579.8h0M120.1 583.8h0M130.5 574.6h0M143.0 584.3h0M105.9 585.4h0M135.2 574.5h0M125.8 595.2h0M82.1 602.2h0M94.1 598.3h0M139.4 580.7h0M127.0 577.7h0M132.2 580.3h0M89.1 590.9h0M86.0 595.9h0M107.4 583.3h0M123.6 578.5h0M108.2 589.4h0M93.4 591.5h0M95.0 591.4h0M101.4 587.2h0M88.0 593.7h0M82.8 598.0h0M117.1 579.6h0M92.4 591.6h0M142.3 591.9h0M99.6 596.4h0M141.0 579.3h0M109.9 593.7h0M81.7 599.0h0M83.5 597.5h0M141.3 576.9h0M120.1 582.1h0M102.8 589.3h0M142.6 580.0h0M140.4 590.0h0M117.3 592.6h0M108.3 584.0h0M113.6 587.2h0M106.6 589.6h0M97.2 593.5h0M130.9 578.5h0M81.8 596.7h0M93.7 590.9h0M96.8 586.8h0M87.0 597.3h0M124.8 585.0h0M113.1 584.6h0M139.8 581.4h0M142.6 582.9h0M102.2 590.6h0M134.7 592.3h0M120.7 584.1h0M138.5 576.6h0M86.8 590.9h0M137.4 579.5h0M129.4 577.8h0M139.0 580.6h0M134.0 582.7h0M139.2 582.4h0M138.2 585.0h0M117.4 586.0h0M106.4 587.0h0M88.9 596.4h0M97.1 590.3h0M83.8 596.0h0M136.0 579.4h0M104.5 596.8h0M138.7 583.2h0M89.8 596.5h0M119.0 594.7h0M111.0 585.0h0M144.4 586.0h0M145.2 588.1h0M125.9 582.0h0M134.5 577.3h0M138.3 591.4h0M120.3 597.5h0M141.1 584.6h0M136.2 578.7h0M144.9 591.8h0M141.6 581.2h0M113.6 593.2h0M141.7 579.7h0M118.0 592.2h0M134.1 578.7h0M137.8 580.3h0M132.1 578.8h0M96.6 588.4h0M100.1 589.7h0M142.9 583.4h0M138.1 582.3h0M86.4 597.9h0M102.9 591.7h0M133.8 584.0h0M94.7 590.8h0M90.7 595.1h0M87.9 594.8h0M140.8 583.3h0M104.9 590.8h0M142.3 586.0h0M132.1 580.2h0M123.3 594.3h0M88.5 598.4h0M92.3 590.1h0M90.9 594.0h0M114.6 594.0h0M134.3 577.8h0M90.9 593.9h0M88.0 595.9h0M130.4 581.2h0M127.6 581.0h0M88.5 595.4h0M141.2 591.5h0M89.0 596.5h0M117.4 585.0h0M109.0 587.2h0M136.0 574.1h0M139.5 591.9h0M141.7 584.4h0M89.3 590.2h0M95.3 590.9h0M113.8 586.1h0M104.3 587.7h0M84.3 593.5h0M137.8 582.3h0M89.2 600.3h0M140.0 578.4h0M143.9 582.4h0M139.6 582.5h0M133.3 577.5h0M136.0 577.2h0M132.0 577.7h0M125.1 595.6h0M126.5 578.1h0M135.6 579.4h0M140.6 586.6h0M95.0 595.6h0M133.2 579.9h0M97.7 595.7h0M113.1 595.0h0M132.5 580.4h0M140.3 590.1h0M86.3 600.7h0M88.5 598.0h0M142.7 593.4h0M122.6 582.5h0M113.6 596.5h0M137.6 580.6h0M135.4 580.2h0M123.2 577.9h0M100.9 595.2h0M103.6 590.4h0M81.3 599.8h0M107.9 587.0h0M128.3 584.0h0M91.6 595.3h0M82.6 603.1h0M132.3 570.9h0M112.9 593.3h0M140.9 587.7h0M136.6 582.8h0M110.4 585.1h0M138.8 576.9h0M136.5 575.5h0M121.6 595.6h0M134.2 579.7h0M127.9 582.4h0M87.3 592.6h0M89.7 590.9h0M136.1 593.1h0M110.0 590.8h0M137.3 581.8h0M137.9 576.4h0M93.6 593.0h0M108.6 592.4h0M141.7 590.5h0M136.7 575.8h0M141.1 584.6h0M111.4 587.9h0M121.4 590.4h0M137.1 580.0h0M107.3 588.4h0M105.7 596.4h0M118.9 580.6h0M88.9 598.2h0M129.3 577.8h0M95.6 595.6h0M116.6 583.9h0M134.8 581.1h0M115.0 581.9h0M91.8 596.1h0M141.6 580.3h0M98.6 587.7h0M92.5 596.5h0M115.0 594.2h0M134.6 578.6h0M122.0 581.9h0M94.0 589.1h0M124.7 594.5h0M136.6 584.7h0M143.0 582.4h0M141.9 580.2h0M140.4 592.2h0M88.7 595.6h0M96.7 596.6h0M95.3 593.0h0M122.5 578.9h0M111.7 586.6h0M132.0 577.1h0M144.1 581.0h0M90.2 590.5h0M109.0 593.9h0M142.0 579.6h0M108.2 593.6h0M141.4 582.9h0M121.5 582.8h0M106.3 595.5h0M114.4 580.5h0M140.4 587.5h0M126.9 579.9h0M137.5 589.2h0M137.8 591.0h0M142.1 591.3h0M140.0 579.9h0M128.3 582.5h0M119.2 583.1h0M125.0 595.0h0M84.3 596.1h0M99.1 591.5h0M121.4 590.7h0M99.5 591.9h0M127.8 592.2h0M121.3 585.9h0M129.4 594.1h0M118.3 595.0h0M93.7 594.8h0M113.5 586.1h0M139.2 591.8h0M103.5 589.6h0M114.8 583.4h0M122.3 594.4h0M93.9 589.7h0M108.4 585.8h0M135.9 580.2h0M106.4 587.6h0M121.0 581.9h0M121.2 582.5h0" fill="none" stroke="#cf1af2" stroke-width="0.8" stroke-linecap="square" opacity="0.7"/>
<path d="M163.1 593.9h0M91.7 595.9h0M83.3 623.8h0M85.8 607.3h0M163.9 601.8h0M77.6 604.7h0M164.6 604.1h0M94.7 595.7h0M126.5 625.5h0M113.8 583.7h0M107.4 588.8h0M165.0 596.0h0M89.7 593.3h0M88.3 605.2h0M146.2 607.3h0M160.0 602.5h0M135.4 619.0h0M100.0 583.5h0M66.5 602.1h0M103.7 630.4h0M77.3 606.8h0M162.0 614.2h0M109.9 638.4h0M141.2 605.8h0M152.3 581.4h0M139.8 622.9h0M106.7 587.8h0M141.7 619.8h0M133.2 608.3h0M163.4 593.6h0M157.8 586.5h0M139.8 611.3h0M85.4 590.1h0M168.9 596.7h0M168.4 601.5h0M69.8 627.5h0M152.6 593.7h0M112.7 622.3h0M153.7 603.4h0M84.7 616.9h0M143.5 615.2h0M159.8 598.8h0M69.9 604.3h0M105.6 592.1h0M89.4 632.5h0M78.5 601.3h0M118.3 628.4h0M100.2 625.0h0M129.5 599.7h0M157.7 591.1h0M127.8 621.7h0M89.8 593.9h0M103.5 595.4h0M110.0 625.0h0M84.5 626.0h0M77.2 605.8h0M88.6 600.8h0M145.7 612.9h0M138.3 615.5h0M109.3 629.7h0M172.9 594.7h0M85.6 597.3h0M91.1 637.7h0M83.8 607.3h0M168.7 597.4h0M132.3 616.7h0M132.9 597.1h0M89.5 599.8h0M121.7 599.1h0M86.9 601.2h0M121.8 590.0h0M84.5 599.5h0M108.4 587.5h0M164.2 609.3h0M104.4 628.4h0M123.3 628.9h0M104.2 635.9h0M155.8 596.8h0M85.6 611.5h0M172.0 593.2h0M87.7 614.8h0M155.3 602.7h0M110.5 592.9h0M126.9 615.6h0M134.3 629.4h0M90.5 593.0h0M148.2 605.8h0M116.1 639.1h0M124.5 590.2h0M153.1 590.0h0M135.2 592.4h0M88.5 602.3h0M133.5 596.5h0M91.7 618.9h0M109.8 587.5h0M138.9 604.8h0M170.4 589.9h0M152.1 602.9h0M160.8 589.2h0M163.1 598.5h0M92.8 599.7h0M115.5 586.3h0M79.6 590.9h0M87.9 612.6h0M139.3 592.2h0M82.1 593.0h0M86.1 620.3h0M139.3 613.1h0M153.2 596.7h0M97.8 631.5h0M106.5 623.1h0M171.3 601.7h0M147.8 606.7h0M73.8 600.4h0M142.7 606.8h0M121.0 593.9h0M165.4 600.0h0M141.7 583.0h0M127.1 578.8h0M96.7 631.8h0M117.4 633.7h0M76.9 606.9h0M106.3 595.7h0M79.0 598.1h0M173.9 599.2h0M105.0 593.7h0M121.8 634.1h0M96.5 591.4h0M71.5 607.0h0M167.9 607.8h0M164.6 591.9h0M80.3 600.3h0M81.4 591.4h0M110.4 628.2h0M78.8 602.8h0M136.5 607.2h0M96.6 637.0h0M163.4 597.2h0M144.6 593.3h0M155.7 591.1h0M141.6 590.0h0M136.3 587.4h0M119.5 602.4h0M170.6 588.4h0M91.9 587.3h0M124.6 619.1h0M130.8 603.7h0M160.1 603.1h0M148.9 612.6h0M163.5 595.6h0M159.0 608.5h0M81.5 622.0h0M163.4 592.4h0M125.1 622.8h0M151.9 593.5h0M147.1 603.5h0M76.6 602.2h0M168.2 599.8h0M158.3 597.4h0M104.1 572.9h0M162.9 587.3h0M111.2 627.2h0M112.2 624.9h0M134.3 586.7h0M149.2 614.7h0M135.3 622.0h0M99.7 594.8h0M121.8 591.8h0M138.8 597.5h0M87.7 601.8h0M98.6 588.6h0M102.8 597.1h0M133.2 634.1h0M170.3 584.2h0M159.4 593.5h0M159.8 610.7h0M162.3 596.1h0M161.1 597.5h0M159.6 595.3h0M160.8 602.2h0M86.7 589.4h0M123.5 597.8h0M164.1 594.4h0M97.4 633.2h0M155.3 597.7h0M152.2 599.6h0M133.3 594.2h0M114.2 633.4h0M120.9 584.3h0M92.8 593.7h0M161.5 599.5h0M131.8 594.8h0M87.9 610.3h0M165.8 592.9h0M137.0 607.2h0M108.3 586.8h0M89.6 608.1h0M84.8 587.7h0M78.6 602.3h0M119.2 591.0h0M116.2 639.1h0M125.9 619.3h0M75.9 617.6h0M135.9 614.7h0M155.7 590.0h0M110.0 622.2h0M135.0 607.9h0M87.3 586.9h0M130.9 620.8h0M113.7 621.9h0M112.3 593.2h0M93.3 638.3h0M152.4 611.0h0M171.2 603.7h0M89.1 610.9h0M127.6 621.0h0M119.7 638.5h0M135.6 591.2h0M166.1 596.4h0M87.7 590.7h0M78.6 598.9h0M86.3 606.3h0M80.8 629.2h0M127.8 625.1h0M84.9 587.5h0M104.1 592.7h0M153.0 596.1h0M90.7 591.2h0M102.9 584.9h0M130.6 589.0h0M158.2 602.7h0M154.2 597.9h0M103.1 634.3h0M85.8 608.1h0M169.2 587.3h0M143.6 614.0h0M89.6 638.7h0M151.4 592.0h0M158.8 591.1h0M144.1 604.1h0M85.0 614.6h0M137.9 610.9h0M163.5 586.8h0M112.1 586.3h0M158.8 590.3h0M164.7 601.0h0M133.3 618.1h0M69.6 614.7h0M135.3 613.0h0M139.1 606.8h0M159.5 590.7h0M89.8 608.8h0M119.8 635.3h0M133.1 595.9h0M107.4 632.7h0M86.2 598.9h0M76.2 617.7h0M163.1 593.8h0M154.1 607.6h0M88.7 629.3h0M90.4 607.2h0M120.5 623.2h0M102.8 584.6h0M125.3 627.5h0M157.2 607.6h0M145.0 613.2h0M153.5 602.0h0M140.5 607.9h0M174.0 592.5h0M125.4 629.2h0M173.0 605.2h0M138.1 623.3h0M114.9 591.8h0M78.9 618.5h0M117.7 622.0h0M119.0 588.4h0M120.4 633.8h0M151.4 607.0h0M171.6 598.2h0M134.1 621.6h0M165.8 598.3h0M96.4 594.9h0M127.6 617.8h0M127.4 618.6h0M134.9 582.8h0M166.3 587.0h0M131.9 576.1h0M78.9 603.0h0M158.7 590.5h0M128.0 613.6h0M164.0 608.8h0M140.2 607.1h0M139.9 593.9h0M151.0 585.6h0M89.8 596.3h0M130.2 622.9h0M106.2 589.3h0M76.0 608.5h0M84.3 636.7h0M125.5 613.9h0M167.5 595.4h0M141.5 579.9h0M159.4 592.9h0M145.3 599.7h0M119.6 622.8h0M116.9 600.7h0M131.6 610.0h0M147.5 604.7h0M126.5 635.3h0M146.5 610.6h0M143.4 600.5h0M124.3 583.7h0M137.7 587.5h0M98.5 635.9h0M92.1 625.3h0M124.0 618.8h0M109.4 586.3h0M164.1 602.7h0M112.1 595.6h0M98.8 597.7h0M151.7 606.2h0M93.2 633.1h0M163.3 589.5h0M126.6 594.0h0M92.0 593.2h0M78.1 606.8h0M88.5 603.6h0M125.0 633.8h0M158.8 587.8h0M102.3 632.8h0M163.2 598.7h0M170.1 601.9h0M131.1 611.3h0M165.7 598.9h0M113.6 627.2h0M158.1 612.3h0M81.3 617.7h0M84.4 592.9h0M162.8 590.8h0M92.4 606.2h0M133.9 613.0h0M82.8 612.6h0M115.7 624.5h0M156.9 596.6h0M166.3 605.3h0M179.7 600.1h0M131.1 625.7h0M161.9 594.1h0M91.8 636.9h0M97.7 628.6h0M162.5 593.9h0M78.4 597.8h0M76.7 604.3h0M88.5 613.5h0M74.3 600.9h0M156.7 600.6h0M82.0 596.7h0M83.9 612.7h0M96.0 597.1h0M122.3 634.1h0M149.5 591.1h0M116.7 623.4h0M169.0 602.1h0M133.7 593.4h0M111.7 630.7h0M167.8 590.2h0M84.0 618.7h0M156.8 594.5h0M130.6 581.2h0M88.0 605.5h0M100.3 634.2h0M152.3 596.8h0M131.6 620.0h0M156.6 584.2h0M86.6 607.9h0M91.5 617.6h0M126.7 587.1h0M160.0 599.5h0M116.0 629.2h0M88.0 601.1h0M159.1 586.0h0M140.6 583.4h0M120.9 588.1h0M160.1 595.6h0M162.7 600.6h0M142.6 610.4h0M131.4 598.7h0M107.2 622.4h0M99.4 628.6h0M91.9 607.2h0M98.3 589.9h0M78.6 590.2h0M151.3 604.7h0M159.9 599.0h0M149.1 593.9h0M124.6 614.6h0M95.2 631.9h0M174.0 604.5h0M158.6 597.2h0M165.9 576.6h0M120.1 634.0h0M113.7 635.5h0M164.7 605.5h0M161.0 599.3h0M129.2 628.7h0M172.4 602.3h0M88.7 606.3h0M165.0 600.6h0M98.4 582.0h0M160.9 602.5h0M172.6 599.0h0M85.8 604.3h0M138.4 606.6h0M92.9 622.0h0M113.1 579.2h0M78.4 584.2h0M138.0 607.5h0M83.5 593.6h0M135.1 615.1h0M97.1 624.4h0M92.1 603.1h0M170.6 594.1h0M167.5 597.6h0M96.0 594.7h0M85.5 606.1h0M80.6 592.6h0M87.4 601.4h0M137.9 580.6h0M131.8 609.2h0M94.5 629.9h0M100.4 594.6h0M135.3 591.1h0M110.6 594.9h0M79.8 586.3h0M88.3 592.0h0M129.6 614.4h0M138.4 591.7h0M127.4 585.5h0M157.8 609.0h0M92.5 592.9h0M164.3 593.1h0M155.3 588.5h0M130.4 621.0h0M77.7 619.9h0M86.3 621.4h0M72.4 608.7h0M139.4 599.3h0M126.4 595.3h0M92.9 633.2h0M82.2 593.8h0M121.5 632.4h0M85.8 626.9h0M84.4 608.2h0M168.6 594.2h0M173.6 595.3h0M95.6 621.3h0M151.7 588.5h0M84.3 632.6h0M118.1 599.2h0M119.3 622.8h0M129.7 626.5h0M91.5 594.9h0M114.9 636.4h0M172.2 606.5h0M93.4 588.6h0M122.8 622.6h0M145.7 599.8h0M127.9 595.7h0M145.1 600.2h0M167.4 593.4h0M78.9 587.9h0M124.2 628.2h0M131.2 617.5h0M119.8 635.0h0M105.8 601.9h0M123.0 637.0h0M123.8 637.3h0M168.4 596.6h0M85.5 609.3h0M128.2 590.7h0M146.9 611.9h0M162.8 605.6h0M75.2 593.7h0M158.8 600.6h0M121.2 590.5h0M148.6 590.8h0M144.1 613.1h0M120.2 584.0h0M138.2 593.7h0M126.7 594.9h0M103.2 580.5h0M139.6 604.5h0M118.5 596.6h0M106.6 597.3h0M139.2 589.6h0M80.2 601.7h0M138.4 620.1h0M137.1 588.3h0M118.8 591.3h0M82.6 621.9h0M85.9 622.9h0M110.1 595.8h0M119.0 585.7h0M124.9 601.8h0M159.4 598.7h0M87.3 622.1h0M157.6 623.0h0M163.5 613.1h0M133.5 613.8h0M125.5 629.2h0M88.1 628.8h0M75.5 588.5h0M140.6 623.3h0M112.8 636.7h0M165.9 581.1h0M160.2 595.7h0M71.1 613.6h0M103.4 596.3h0M159.0 602.9h0M83.8 614.8h0M164.0 597.3h0M151.0 606.6h0M125.4 619.3h0M148.3 601.5h0M92.8 603.6h0M94.8 616.1h0M161.6 581.3h0M135.1 592.9h0M77.6 596.2h0M86.6 600.1h0M132.4 614.9h0M154.8 594.4h0M79.6 593.3h0M94.8 581.0h0M120.3 587.2h0M78.0 589.0h0M117.3 586.5h0M163.3 598.4h0M147.7 607.0h0M83.1 620.3h0M113.0 591.3h0M116.2 626.4h0M127.9 624.9h0M82.6 599.5h0M123.5 633.6h0M143.2 604.8h0M159.4 594.8h0M164.2 598.6h0M101.6 636.5h0M160.2 613.7h0M118.8 576.6h0M140.4 586.8h0M84.8 634.6h0M91.8 611.0h0M128.5 587.6h0M161.6 596.2h0M142.7 611.5h0M142.9 617.3h0M111.8 594.7h0M167.3 588.6h0M159.9 599.1h0M160.7 603.6h0M126.1 615.1h0M169.5 586.6h0M93.9 624.7h0M130.6 592.2h0M129.8 627.3h0M160.7 585.0h0M162.5 595.1h0M140.5 590.7h0M125.9 625.3h0M114.8 587.6h0M151.7 611.4h0M100.7 597.6h0M92.6 582.7h0M119.0 630.3h0M139.7 579.7h0M108.7 626.9h0M109.7 635.9h0M139.5 614.3h0M138.4 600.0h0M137.8 614.5h0M145.6 594.1h0M117.5 629.1h0M92.8 629.6h0M146.9 599.6h0M100.7 595.9h0M118.0 638.5h0M91.0 584.5h0M125.5 601.9h0M91.3 619.4h0M113.1 590.5h0M77.9 601.1h0M161.4 601.9h0M166.9 595.7h0M162.4 595.6h0M112.6 637.9h0M87.6 636.2h0M169.4 599.7h0M169.9 595.8h0M120.0 636.6h0M114.2 592.1h0M124.8 628.0h0M125.5 625.6h0M120.5 578.5h0M138.5 592.2h0M96.4 602.9h0M78.8 606.1h0M107.3 636.4h0M125.2 593.1h0M91.5 628.8h0M99.2 586.4h0M96.1 638.1h0M154.4 593.9h0M162.4 596.7h0M80.7 593.6h0M114.2 637.5h0M145.7 606.1h0M151.4 590.0h0M76.5 595.5h0M81.0 636.6h0M171.3 588.8h0M116.5 590.7h0M87.2 621.1h0M133.5 614.8h0M82.6 619.8h0M124.5 626.6h0M133.4 591.9h0M112.3 634.1h0M105.5 639.2h0M91.3 594.8h0M108.6 584.4h0M112.2 581.4h0M152.8 596.3h0M148.6 600.9h0M86.0 639.2h0M121.7 588.8h0M169.0 603.3h0M159.5 598.4h0M126.7 586.9h0M85.8 599.1h0M111.9 596.2h0M92.5 593.2h0M148.4 597.1h0M152.5 599.4h0M164.8 601.3h0M150.1 599.4h0M118.5 625.1h0M99.6 588.4h0M120.8 625.1h0M143.9 604.2h0M96.3 626.4h0M120.2 589.2h0M136.3 596.2h0M154.2 602.6h0M85.3 604.7h0M145.6 616.9h0M83.3 606.7h0M115.3 586.1h0M116.5 633.6h0M137.7 616.4h0M140.4 604.4h0M134.1 609.7h0M125.3 578.8h0M111.8 583.7h0M131.9 592.6h0M158.9 589.4h0M168.8 603.5h0M88.2 596.2h0M126.8 590.4h0M145.0 595.0h0M98.0 634.6h0M120.9 625.6h0M121.4 614.1h0M152.0 607.0h0M122.0 631.9h0M88.5 606.1h0M84.1 604.6h0M167.5 595.1h0M136.8 591.1h0M94.8 635.3h0M119.2 628.7h0M162.5 597.8h0M88.1 605.6h0M160.9 604.8h0M103.8 634.4h0M86.1 616.2h0M104.2 589.4h0M113.2 639.0h0M90.4 598.5h0M158.1 600.8h0M127.1 619.8h0M85.6 625.5h0M153.3 599.4h0M122.1 612.8h0M113.0 639.0h0M94.8 605.1h0M85.1 600.5h0M156.7 593.7h0M135.1 613.3h0M158.4 604.7h0M112.8 631.6h0M90.0 632.9h0M143.4 587.9h0M124.7 602.1h0M137.7 605.6h0M87.3 616.0h0M128.1 618.1h0M109.7 585.3h0M73.3 603.4h0M157.9 597.4h0M131.2 625.0h0M82.5 598.2h0M170.5 594.4h0M99.2 596.0h0M97.5 631.6h0M101.2 627.5h0M106.3 638.1h0M148.7 604.7h0M156.2 609.4h0M79.2 601.8h0M124.3 589.8h0M144.1 586.4h0M92.1 605.6h0M115.4 589.9h0M82.4 596.7h0M128.2 590.3h0M109.6 623.6h0M118.3 599.1h0M122.3 630.6h0M94.8 625.5h0M158.9 602.6h0M102.0 600.7h0M93.3 597.6h0M163.9 592.8h0M140.4 613.5h0M141.3 591.8h0M145.7 609.5h0M151.3 600.0h0M135.1 590.5h0M146.7 593.4h0M105.3 620.8h0M159.1 593.2h0M94.9 625.2h0M78.2 591.0h0M96.9 638.8h0M79.5 629.1h0M90.5 611.8h0M126.1 602.6h0M150.9 588.5h0M167.1 599.1h0M142.4 589.6h0M133.0 598.7h0" fill="none" stroke="#cf1af2" stroke-width="0.7" stroke-linecap="square" opacity="0.4"/>
<polygon points="83.5,598.5 90.8,592.8 101.5,588.8 114.5,584.3 125.0,580.6 133.0,578.0 139.0,579.5 141.0,584.0 141.0,592.0 120.0,594.0 100.0,594.0" fill="#cf1af2" opacity="0.55" filter="url(#b10)" stroke="#cf1af2" stroke-width="1" stroke-linejoin="round"/>
<polygon points="141.0,584.0 150.0,576.0 156.0,574.0 165.0,580.0 170.0,588.0 168.0,594.5 141.0,592.0" fill="#cf1af2" opacity="0.15" filter="url(#b10)" stroke="#cf1af2" stroke-width="1" stroke-linejoin="round"/>
<path d="M105.2 588.5h0M127.7 586.7h0M132.2 589.5h0M128.0 590.8h0M126.7 582.4h0M126.4 592.9h0M123.2 584.5h0M98.7 592.4h0M137.8 591.5h0M125.2 581.2h0M119.7 589.8h0M103.5 589.3h0M93.6 594.5h0M138.7 591.8h0M134.8 582.1h0M133.4 585.1h0M129.2 586.9h0M122.4 588.3h0M86.6 597.3h0M106.8 588.4h0M137.9 581.6h0M119.8 591.7h0M126.0 589.3h0M90.9 593.9h0M107.8 587.5h0M133.3 588.2h0M130.3 583.5h0M106.6 592.9h0M124.5 585.0h0M90.2 596.0h0M135.3 589.1h0M103.2 592.6h0M128.1 590.5h0M115.2 592.6h0M130.3 581.5h0M138.6 584.7h0M124.9 585.6h0M130.8 582.3h0M114.3 587.5h0M115.4 589.2h0M127.6 591.2h0M120.8 583.1h0M124.6 583.5h0M118.1 590.0h0M116.9 590.7h0M136.2 587.3h0M117.6 589.2h0M128.5 586.8h0M96.9 590.6h0M126.8 585.4h0M109.1 591.6h0M97.7 590.8h0M124.4 590.2h0M133.6 589.2h0M128.0 586.1h0M126.7 585.1h0M112.6 585.5h0M126.9 582.5h0M123.9 581.9h0M136.0 583.0h0M133.0 579.1h0M113.7 591.9h0M119.5 590.2h0M117.0 591.6h0M86.5 597.6h0M127.3 592.6h0M127.3 592.1h0M128.4 593.2h0M102.8 593.1h0M116.9 588.1h0M93.1 592.3h0M109.8 587.7h0M136.0 582.9h0M117.1 586.7h0M133.6 589.8h0M112.5 585.6h0M130.7 582.4h0M136.7 582.1h0M112.1 591.1h0M120.1 584.5h0M95.3 595.1h0M121.7 590.0h0M107.5 591.2h0M119.1 592.2h0M125.7 584.8h0M124.7 583.4h0M93.5 594.6h0M93.1 592.8h0M113.7 586.2h0M104.2 593.9h0M131.5 589.8h0M131.9 586.8h0M114.3 590.2h0M140.1 588.5h0M97.2 592.2h0M128.9 587.6h0M121.2 584.0h0M137.9 581.2h0M99.0 592.8h0M118.7 588.6h0M132.2 582.1h0M136.9 589.9h0M131.5 590.3h0M140.2 588.5h0M94.0 593.9h0M129.2 592.1h0M96.3 592.4h0M98.3 592.7h0M134.9 579.8h0M125.9 591.7h0M135.9 586.7h0M124.5 592.7h0M129.5 591.2h0M111.3 586.1h0M86.4 596.5h0M120.6 590.9h0M128.8 587.1h0M137.5 589.7h0M140.7 586.7h0M108.7 587.9h0M134.4 589.0h0M133.5 587.4h0M124.9 585.5h0M96.0 594.7h0M139.8 586.1h0M130.6 584.6h0M121.2 590.8h0M110.9 585.7h0M105.5 591.0h0M117.7 592.6h0M104.6 588.0h0M139.5 591.2h0M129.5 587.5h0M123.0 590.7h0M133.0 588.9h0M126.2 581.3h0M107.7 591.5h0M129.3 588.0h0M102.0 593.2h0M118.2 590.5h0M128.8 590.4h0M122.5 592.4h0M113.8 588.3h0M124.3 592.1h0M117.7 589.0h0M101.8 592.8h0M88.7 595.4h0M135.7 587.4h0M94.0 593.2h0M88.1 595.4h0M109.9 586.8h0M121.8 590.3h0M117.9 583.7h0M140.1 584.6h0M125.8 581.9h0M122.9 582.7h0M132.9 590.3h0M111.4 587.9h0M118.2 592.9h0M90.5 596.4h0M96.4 592.4h0M139.9 587.2h0M129.7 581.2h0M122.1 592.0h0M113.3 585.0h0M129.0 592.3h0M109.0 587.0h0M138.1 590.9h0M88.1 595.6h0M127.2 586.2h0M116.6 590.2h0M111.8 585.3h0M112.8 586.8h0M101.2 591.0h0M115.5 590.6h0M136.1 590.6h0M122.0 585.9h0M125.5 590.0h0M111.2 589.0h0M129.8 585.5h0M99.5 593.5h0M102.7 592.3h0M137.6 591.9h0M136.8 588.3h0M117.7 593.8h0M136.1 581.7h0M121.3 590.9h0M121.8 582.7h0M120.8 585.2h0M123.1 593.6h0M103.5 590.2h0M128.8 591.6h0M117.6 588.1h0M128.3 588.9h0M131.7 589.3h0M124.3 585.7h0M99.8 589.8h0M120.0 583.2h0M138.4 585.6h0M137.3 591.1h0M128.2 586.9h0M118.9 593.6h0M122.5 593.7h0M109.4 592.4h0M135.2 588.2h0M100.9 590.9h0M134.0 578.9h0M118.3 591.6h0M132.7 589.4h0M126.2 586.3h0M116.2 591.7h0M102.8 593.0h0M107.5 589.3h0M138.6 580.0h0M113.4 593.0h0M137.4 579.6h0M123.7 591.3h0M108.9 590.5h0M117.7 590.3h0M99.9 593.4h0M133.9 584.7h0M124.0 583.3h0M139.9 587.6h0M131.1 579.6h0M117.4 588.8h0M140.9 585.0h0M113.6 586.3h0M136.2 590.4h0M106.1 593.1h0M140.4 585.8h0M103.7 589.5h0M127.9 580.5h0M134.9 590.7h0M134.5 583.2h0M137.1 579.0h0M123.8 581.9h0M130.5 586.4h0M124.1 586.0h0M135.5 581.5h0M123.8 585.8h0M128.8 580.9h0M110.0 592.9h0M114.2 592.5h0M124.4 591.4h0M90.5 596.0h0M132.9 583.8h0M114.4 585.6h0M128.2 586.2h0M115.1 593.8h0M130.2 587.8h0M109.3 586.8h0M134.5 581.8h0M137.9 584.3h0M131.4 590.3h0M138.4 590.0h0M134.7 579.2h0M132.7 586.6h0M105.1 592.8h0M99.4 590.9h0M130.6 579.5h0M123.9 582.5h0M138.0 582.7h0M126.8 592.1h0M110.5 593.4h0M106.6 589.7h0M90.8 595.3h0M105.9 592.3h0M133.9 580.6h0M121.5 591.9h0M137.2 590.1h0M110.0 591.3h0M131.2 591.8h0M140.7 588.2h0M129.0 592.1h0M135.4 590.3h0M122.2 588.7h0M107.3 589.9h0M123.4 589.5h0M121.8 582.8h0M140.7 590.6h0M105.6 592.3h0M102.2 592.9h0M140.8 583.6h0M126.6 584.0h0M117.5 591.0h0M93.4 592.2h0M130.4 588.3h0M138.4 589.5h0M139.6 590.3h0M139.9 587.5h0M110.3 593.9h0M95.8 591.0h0M109.5 586.8h0M121.6 590.8h0M133.4 582.3h0M111.4 589.0h0M131.9 581.1h0M125.1 584.7h0M127.5 588.2h0M101.3 590.6h0M111.4 594.0h0M124.5 584.6h0M107.8 591.3h0M114.8 588.9h0M137.9 581.7h0M117.1 588.9h0M120.3 584.2h0M91.3 594.0h0M125.2 592.7h0M132.3 583.7h0M134.4 586.6h0M105.3 590.8h0M135.1 585.1h0M133.9 582.9h0M100.1 593.5h0M87.9 595.9h0M97.8 591.8h0M94.8 594.0h0M109.4 593.6h0M124.2 588.6h0M118.6 584.9h0M125.1 592.9h0M122.2 588.9h0M123.1 585.9h0M130.7 579.9h0M87.5 596.9h0M121.5 584.3h0M128.1 585.7h0M98.2 590.1h0M131.5 585.8h0M108.5 586.6h0M131.5 580.6h0M119.9 592.1h0M117.4 583.4h0M107.3 587.6h0M120.8 585.1h0M136.2 579.1h0M99.8 591.7h0M104.5 588.5h0M129.1 587.1h0M118.7 589.6h0M131.2 587.9h0M120.9 588.6h0M129.5 589.4h0M108.1 587.6h0M101.4 588.8h0M85.8 597.0h0M121.9 589.0h0M116.4 586.2h0M93.5 592.0h0M122.9 585.2h0M138.1 588.8h0M123.7 591.1h0M132.3 581.7h0M115.2 592.6h0M133.5 589.2h0M102.6 589.8h0M115.4 585.3h0M116.5 588.0h0M131.4 579.1h0M95.2 593.3h0M105.3 590.9h0M113.5 591.9h0M97.3 593.9h0M128.1 583.0h0M103.8 589.1h0M135.9 590.3h0M105.1 591.3h0M97.2 591.0h0M123.5 590.5h0M137.6 586.3h0M94.0 592.2h0M102.0 590.8h0M130.1 591.7h0M129.7 584.9h0M128.2 589.6h0M118.0 591.2h0M104.6 590.6h0M125.8 589.9h0M92.7 593.9h0M130.0 584.3h0M127.7 587.1h0M140.8 589.4h0M137.3 591.3h0M113.7 584.9h0M118.6 590.6h0M113.0 584.9h0M125.9 592.7h0M130.4 579.7h0M118.0 585.8h0M131.3 579.2h0M103.5 593.3h0M127.3 587.8h0M136.9 583.4h0M132.7 591.1h0M132.1 585.9h0M99.6 593.0h0M112.6 591.7h0M112.8 589.2h0M125.3 582.4h0" fill="none" stroke="#cf1af2" stroke-width="0.8" stroke-linecap="square" opacity="0.8"/>
<path d="M146.6 588.8h0M148.3 589.5h0M155.5 590.3h0M153.8 578.6h0M154.2 578.4h0M145.1 586.0h0M158.7 587.5h0M153.1 588.9h0M146.9 579.1h0M162.9 590.1h0M154.0 580.5h0M149.0 580.6h0M152.0 592.8h0M152.2 578.7h0M157.7 586.8h0M150.5 589.7h0M157.7 587.7h0M144.5 591.0h0M155.0 588.3h0M147.9 590.7h0M160.1 582.1h0M164.0 581.6h0M158.1 581.3h0M159.4 583.1h0M154.6 576.3h0M144.1 591.8h0M163.3 586.5h0M145.1 592.1h0M160.7 589.7h0M151.8 588.9h0M154.7 585.0h0M157.6 578.0h0M142.9 586.6h0M147.4 591.9h0M167.9 590.4h0M152.3 589.3h0M163.8 582.0h0M154.9 583.4h0M153.0 580.4h0M149.3 592.4h0M141.8 589.0h0M148.6 582.4h0M158.6 584.6h0M161.7 579.2h0M152.7 588.3h0M160.9 577.7h0M161.7 590.4h0M153.5 586.9h0M150.9 576.7h0M153.5 580.6h0M147.4 588.7h0M141.7 585.1h0M160.5 590.2h0M155.0 577.0h0M165.3 588.8h0M153.1 578.6h0M160.0 588.9h0M156.4 581.2h0M160.0 580.8h0M155.3 583.0h0M155.2 589.7h0M152.5 592.1h0M162.8 579.1h0M155.8 585.5h0M153.7 587.1h0M158.1 586.2h0M164.5 592.4h0M161.6 581.2h0M166.6 587.5h0M159.5 579.4h0M156.9 587.2h0M162.0 589.1h0M155.8 576.3h0M152.2 580.6h0M158.7 577.7h0M156.9 582.0h0M155.4 578.4h0M162.7 593.7h0M167.1 593.0h0M145.3 584.5h0M142.6 591.4h0M159.9 588.6h0M151.9 583.3h0M151.3 587.2h0M148.9 579.3h0M165.6 582.5h0M146.2 588.3h0M155.5 584.3h0M152.8 581.0h0M154.6 576.7h0M144.5 591.1h0M164.9 584.3h0M152.1 581.3h0M148.6 587.0h0M163.7 591.5h0M148.6 581.3h0M150.0 579.9h0M158.4 587.1h0M168.6 588.7h0M161.0 578.6h0M145.1 583.3h0M141.7 586.2h0M161.8 586.4h0M156.3 581.8h0M160.3 590.8h0M141.6 591.0h0M154.3 592.6h0M159.1 593.3h0M148.5 592.7h0M148.6 577.4h0M166.0 592.3h0M152.1 584.2h0M166.2 588.9h0M159.2 577.3h0M166.0 593.5h0M165.2 589.8h0M145.4 592.2h0M168.4 593.0h0M165.9 582.6h0M153.8 577.8h0M151.5 580.9h0M149.9 592.5h0M158.6 588.9h0M164.9 586.1h0M163.1 593.2h0M162.6 589.2h0M151.5 584.4h0M166.4 590.3h0M148.3 589.3h0M165.8 588.0h0M146.4 586.9h0M157.5 583.8h0M158.1 592.1h0M154.7 588.2h0M150.0 580.3h0M152.5 588.2h0M157.4 593.0h0M150.9 576.9h0M151.6 579.5h0M150.6 587.1h0M162.3 587.5h0M147.4 589.7h0M157.0 585.5h0M161.9 581.5h0M166.8 584.5h0M161.4 578.8h0M155.4 589.7h0M169.7 588.1h0M156.7 585.5h0M164.5 587.5h0M162.3 584.5h0M159.9 590.6h0M156.9 590.6h0M143.0 591.5h0M164.9 585.7h0M155.6 591.3h0M166.3 583.9h0M156.5 583.8h0M156.0 580.6h0M159.7 586.0h0M148.3 590.0h0M144.2 586.5h0M156.1 587.8h0M148.6 581.1h0M154.3 575.9h0M148.5 588.3h0M158.7 577.1h0M166.7 585.4h0M148.9 582.7h0M145.4 580.4h0M159.5 580.2h0M151.5 589.9h0M160.0 584.3h0M156.5 580.6h0M164.6 587.2h0M148.9 592.4h0M162.0 593.8h0M146.3 587.8h0M151.7 577.2h0M144.9 590.6h0M146.0 588.3h0M156.8 585.8h0M165.2 584.2h0M166.1 583.1h0M161.3 582.9h0M147.7 579.6h0M154.5 580.1h0M155.2 586.3h0M149.2 583.3h0M160.8 586.4h0M148.7 586.6h0M144.4 589.0h0M149.7 579.5h0M146.4 583.1h0M159.6 592.1h0M149.3 581.2h0M164.4 583.2h0M161.2 592.6h0M153.0 581.5h0M153.1 586.5h0M150.6 582.0h0M143.1 584.7h0M150.4 590.2h0M156.6 576.6h0M158.8 588.3h0M165.0 587.5h0M153.1 588.6h0M147.4 579.3h0M155.3 582.0h0M149.8 585.8h0M162.2 581.8h0M166.9 592.1h0M158.4 581.3h0M153.9 590.6h0M167.7 586.5h0M165.2 593.7h0M141.0 587.2h0M143.5 584.3h0M155.0 581.4h0M143.6 586.8h0" fill="none" stroke="#cf1af2" stroke-width="0.8" stroke-linecap="square" opacity="0.7"/>
<line x1="137.5" y1="586.5" x2="156.5" y2="568.6" stroke="#cf1af2" stroke-width="3" opacity="0.72" stroke-linecap="round" filter="url(#b8)"/>
<path d="M145.0 579.9h0M156.4 572.1h0M154.3 567.8h0M149.7 573.7h0M156.9 569.8h0M149.7 575.2h0M154.1 568.9h0M144.8 578.3h0M146.4 577.3h0M147.6 578.3h0M157.5 570.1h0M147.5 578.2h0M143.4 584.0h0M136.7 585.8h0M137.0 586.0h0M156.2 568.6h0M144.6 578.5h0M136.8 583.7h0M149.7 575.8h0M145.9 578.9h0M137.8 583.6h0M143.5 581.9h0M155.8 570.7h0M149.3 579.2h0M149.3 574.6h0M138.2 584.0h0M140.8 586.3h0M156.7 568.5h0M156.8 571.2h0M147.3 579.8h0M137.8 584.5h0M150.6 573.9h0M145.3 577.6h0M143.7 584.3h0M144.3 580.8h0M141.4 583.3h0M156.6 570.6h0M141.1 581.5h0M140.9 583.8h0M150.2 575.4h0M140.8 582.4h0M148.5 575.7h0M153.5 572.4h0M150.5 572.7h0M147.9 580.0h0M155.8 570.2h0M139.0 584.2h0M139.0 584.4h0M151.7 572.6h0M142.6 580.8h0M145.1 577.8h0M143.8 580.3h0M144.3 579.6h0M139.6 584.8h0M141.8 583.1h0M159.5 569.4h0M133.5 586.9h0M151.6 572.4h0M145.6 577.0h0M142.8 583.4h0M155.8 567.7h0M136.5 589.3h0M143.4 580.1h0M146.3 576.0h0M141.9 581.9h0M150.1 572.7h0M146.3 578.0h0M149.2 579.7h0M155.0 571.1h0M147.0 581.1h0M155.1 568.2h0M155.0 572.1h0M147.0 577.5h0M147.9 577.3h0M148.6 574.9h0M149.9 574.7h0M147.0 576.1h0M153.2 571.2h0M136.2 585.8h0M149.8 579.4h0M143.9 578.9h0M146.4 575.2h0M154.1 569.9h0M138.9 589.4h0M140.0 587.2h0M138.9 584.9h0M141.0 584.4h0M151.9 572.6h0M152.0 572.8h0M139.4 585.0h0M156.9 570.6h0M138.6 586.7h0M148.1 576.5h0M148.9 573.3h0M154.2 567.3h0M143.7 576.6h0M134.3 588.1h0M154.8 571.9h0M143.3 578.0h0M139.9 586.1h0M147.8 578.6h0M147.6 579.1h0M139.5 583.3h0M141.3 582.0h0M152.4 569.3h0M147.5 575.9h0M154.1 574.2h0M144.2 583.7h0M152.6 571.3h0M139.8 582.1h0M147.6 580.3h0M144.6 582.6h0M155.1 572.4h0M145.2 578.6h0M149.3 574.4h0M153.3 570.7h0M143.4 584.2h0M145.3 580.1h0M159.5 567.3h0M156.9 569.5h0M153.6 572.6h0M155.3 570.4h0M154.6 570.0h0M155.7 568.6h0M146.9 576.2h0M152.3 572.3h0M146.2 576.6h0M147.9 573.9h0M142.3 578.7h0M150.5 574.4h0M141.3 584.4h0M145.0 579.9h0M139.5 585.2h0M150.8 572.9h0M143.3 580.1h0M149.7 575.6h0M157.0 570.5h0M146.5 578.6h0M152.7 573.6h0M149.3 579.7h0M149.9 575.7h0M142.9 580.1h0M156.7 569.4h0M136.8 586.9h0M143.7 577.8h0M139.3 583.7h0M146.0 579.6h0M153.9 574.6h0M142.4 582.6h0M146.4 576.8h0M139.9 583.4h0M141.3 581.9h0M147.9 578.0h0M151.8 575.4h0M153.7 573.4h0M157.0 569.2h0M152.2 571.1h0M153.4 567.9h0M151.9 572.7h0M144.5 579.2h0M150.9 572.9h0M140.7 581.2h0M148.5 573.6h0M150.9 574.0h0M149.2 577.0h0M153.3 568.6h0M157.0 566.2h0M135.6 586.1h0M138.5 587.8h0M139.6 583.8h0M155.8 568.8h0M148.4 575.1h0M147.6 574.4h0M155.6 567.7h0M143.0 580.5h0M146.1 577.8h0M147.7 573.7h0M149.3 573.6h0M149.0 577.5h0M136.7 584.2h0M145.9 577.2h0M135.5 585.9h0M153.6 572.6h0M140.5 581.5h0M143.0 581.6h0M156.0 565.7h0M151.9 574.3h0M150.1 575.9h0M135.1 586.5h0M154.9 573.9h0M148.5 576.7h0M139.2 583.7h0M148.4 580.6h0M145.9 576.2h0M136.6 584.2h0M141.0 584.4h0M150.6 571.2h0M151.6 571.1h0M143.5 579.6h0M144.0 581.1h0M143.5 574.0h0M149.5 573.7h0M143.9 579.2h0M151.2 570.0h0M147.1 578.1h0M143.4 582.2h0M156.0 568.4h0M154.9 570.7h0M156.2 567.0h0M140.1 586.5h0M154.4 570.6h0M140.2 585.2h0M143.1 583.0h0M157.7 570.6h0M157.6 571.7h0M154.0 571.6h0M151.3 574.7h0M141.7 582.0h0M152.7 574.4h0M155.0 568.7h0M149.9 575.8h0M154.9 567.4h0M141.3 581.2h0M151.6 571.6h0M146.5 579.9h0M141.3 583.6h0M155.5 570.4h0M153.2 573.5h0M154.6 571.3h0M139.2 585.8h0M154.7 571.5h0M155.6 569.1h0M139.4 585.0h0M156.2 568.1h0M139.8 586.5h0M144.9 583.0h0M138.7 587.2h0M149.4 573.5h0M158.3 567.6h0M154.2 572.4h0M141.5 581.7h0M155.5 568.8h0M152.0 571.9h0M140.5 580.3h0M140.2 584.4h0M158.4 563.9h0M153.9 573.7h0M158.6 569.0h0M157.0 566.4h0M148.0 574.4h0M153.8 570.7h0M153.3 572.1h0M146.2 579.7h0M153.5 572.4h0M158.6 570.2h0M138.5 585.9h0M154.3 572.5h0M146.0 576.0h0M139.6 584.8h0M141.2 580.6h0" fill="none" stroke="#cf1af2" stroke-width="0.8" stroke-linecap="square" opacity="0.8"/>
<polygon points="94.0,639.6 88.6,624.5 84.3,609.4 82.6,601.8 84.3,598.0 90.8,595.0 101.5,592.0 114.5,590.0 125.0,589.6 134.0,590.4 148.0,592.0 160.0,593.6 166.3,595.0 166.8,597.0 160.0,600.5 153.2,604.0 144.6,608.7 136.0,613.5 127.4,621.4 118.8,628.8 112.3,635.2 109.0,639.6" fill="#cf1af2" opacity="1" filter="url(#b6)" stroke="#cf1af2" stroke-width="1" stroke-linejoin="round"/>
<path d="M187.7 571.9h0M187.8 568.7h0M186.6 579.3h0M188.0 574.4h0M187.2 575.1h0M186.2 578.8h0M186.8 580.0h0M187.6 567.0h0M186.7 578.7h0M187.3 573.6h0M186.4 577.4h0M187.7 567.7h0M187.9 567.5h0M187.9 568.4h0M187.9 568.6h0M187.6 572.1h0M188.7 566.2h0M187.9 566.9h0M187.9 569.5h0M186.8 576.2h0M187.0 575.4h0M187.0 573.2h0M187.8 573.8h0M188.0 568.0h0M188.2 568.2h0M187.1 578.2h0M186.9 572.8h0M186.9 576.3h0M187.0 576.0h0M186.1 579.7h0M187.6 569.0h0M187.0 577.4h0M188.3 567.7h0M187.0 574.2h0M188.0 568.4h0M187.9 570.8h0M187.4 574.9h0M187.7 570.5h0M187.9 569.1h0M186.9 576.8h0M186.3 578.2h0M187.7 574.5h0M187.4 571.1h0M187.7 569.6h0M187.9 568.4h0M188.1 569.4h0M187.8 570.8h0M187.0 577.5h0M186.5 575.4h0M187.2 572.7h0M187.4 574.3h0M186.6 578.7h0M187.3 574.2h0M187.0 575.3h0M186.5 578.8h0M187.0 579.3h0M187.3 574.6h0M187.1 575.1h0M187.9 566.8h0M187.4 573.6h0M185.9 579.0h0M188.1 568.3h0M188.2 568.4h0M187.7 570.5h0M187.2 579.0h0M188.5 568.6h0M186.9 573.3h0M186.9 574.5h0M187.1 575.3h0M187.8 568.4h0M187.6 571.2h0M186.7 579.3h0M187.4 572.6h0M186.2 579.5h0M186.8 572.4h0M187.9 570.0h0M187.2 569.7h0M187.0 574.9h0M187.7 572.0h0M188.5 566.9h0M187.5 570.2h0M186.9 577.0h0M187.4 576.1h0M188.5 567.1h0M187.9 566.4h0M187.9 574.7h0M187.5 569.6h0M186.4 579.2h0M186.5 579.9h0M186.4 578.0h0" fill="none" stroke="#cf1af2" stroke-width="0.7" stroke-linecap="square" opacity="0.55"/>
<path d="M180.7 579.0h0M184.5 577.3h0M174.4 591.3h0M179.8 580.5h0M181.5 578.8h0M181.6 584.9h0M166.7 597.4h0M174.8 586.8h0M175.5 593.8h0M181.1 580.9h0M180.3 581.2h0M169.5 595.6h0M186.6 579.1h0M167.9 590.9h0M164.3 598.0h0M173.5 584.4h0M176.5 579.2h0M167.6 593.9h0M172.7 584.7h0M178.1 582.7h0M186.2 575.7h0M179.3 579.9h0M175.3 581.8h0M181.9 579.9h0M174.4 585.6h0M188.4 576.0h0M182.1 583.1h0M164.4 595.9h0M179.5 583.0h0M179.5 583.8h0M176.3 581.0h0M180.8 583.2h0M184.0 574.5h0M165.1 593.2h0M175.6 593.4h0M174.1 590.2h0M183.3 580.0h0M167.2 594.2h0M171.8 596.6h0M168.8 585.7h0M186.4 572.0h0M185.8 579.2h0M176.3 590.2h0M179.0 581.2h0M168.6 591.7h0M177.0 582.3h0M187.4 572.6h0M171.0 591.1h0M178.4 582.7h0M170.4 593.9h0M167.4 589.4h0M175.1 587.8h0M182.0 578.7h0M163.0 588.8h0M181.8 581.5h0M185.5 574.8h0M177.1 591.4h0M168.6 593.2h0M165.7 592.1h0M167.8 582.9h0M176.9 584.8h0M167.2 596.3h0M163.5 590.2h0M171.5 594.7h0M167.7 592.6h0M179.9 585.8h0M174.3 591.9h0M174.7 588.7h0M179.4 583.1h0M167.1 594.7h0M177.8 579.2h0M184.4 583.5h0M167.5 596.2h0M180.5 578.0h0M182.8 581.0h0M174.0 596.8h0M189.8 572.3h0M185.0 575.9h0M173.1 592.8h0M169.6 593.0h0M178.0 589.5h0M164.2 589.5h0M184.1 580.2h0M185.6 582.3h0M177.2 584.7h0M179.4 580.3h0M174.9 588.4h0M163.8 592.2h0M175.7 587.0h0M166.9 595.6h0M171.3 594.6h0M180.3 587.1h0M184.6 578.6h0M186.4 582.4h0M183.8 577.0h0M169.6 590.6h0M165.6 591.1h0M166.3 595.4h0M170.3 597.8h0M165.8 590.2h0M175.6 579.3h0M166.1 601.9h0M174.8 582.9h0M177.2 581.2h0M185.2 576.7h0M164.9 599.4h0M178.7 575.7h0M165.5 594.0h0M168.7 587.7h0M172.6 594.4h0M179.6 581.4h0M173.6 593.6h0M170.3 583.9h0M186.5 581.6h0M181.6 585.1h0M166.9 592.2h0M169.0 597.9h0M180.3 578.4h0M184.3 585.9h0M171.3 591.1h0M186.7 573.5h0M183.9 580.9h0M180.1 581.7h0M174.2 588.1h0M179.3 575.2h0M169.0 589.1h0M188.2 574.9h0M170.6 591.0h0M176.8 586.5h0M183.6 580.4h0M169.0 596.9h0M163.5 594.3h0M168.5 596.6h0M182.8 583.6h0M171.3 591.4h0M177.9 587.2h0M170.2 593.1h0M187.5 573.9h0M188.1 575.4h0M170.8 594.2h0M179.7 584.6h0M175.2 586.6h0M169.3 592.3h0M169.4 584.6h0M182.4 573.2h0M163.1 592.1h0M189.4 572.9h0M175.0 581.1h0M180.3 582.3h0M174.5 594.6h0M166.8 597.5h0M179.6 588.4h0M166.4 595.7h0M175.6 586.8h0M164.6 595.9h0M171.2 589.9h0M166.5 595.7h0M165.2 593.5h0M177.7 588.2h0M162.4 597.4h0M183.0 582.1h0M175.7 589.3h0M164.4 596.6h0M185.9 575.2h0M186.0 578.9h0M165.2 598.7h0M187.7 581.0h0M168.7 590.8h0M168.1 594.7h0M171.2 588.4h0M170.8 591.7h0M172.1 584.6h0M181.2 581.0h0M175.4 586.8h0M165.5 589.3h0M171.4 588.7h0M176.6 586.1h0M184.6 577.3h0M167.7 599.7h0M174.5 590.6h0M177.6 584.7h0M184.2 580.6h0M182.5 582.2h0M168.3 590.6h0M165.5 596.6h0M178.6 586.1h0M183.5 591.8h0M168.4 595.9h0M169.3 591.5h0M173.9 585.6h0M170.9 584.1h0M184.7 569.8h0M168.0 587.6h0M169.4 587.9h0M180.0 579.5h0M171.8 588.5h0M179.0 577.7h0M178.9 586.7h0M169.7 586.8h0M179.4 582.7h0M185.2 577.7h0M168.9 598.8h0M181.5 577.5h0M168.3 595.7h0M168.8 594.7h0M169.2 588.3h0M169.8 598.9h0M185.5 576.1h0M188.5 580.9h0M173.6 583.9h0M186.8 574.1h0M162.7 594.4h0M178.4 586.3h0M161.8 596.1h0M183.4 575.8h0M184.4 581.9h0M180.2 583.8h0M186.4 580.0h0M181.4 585.5h0M163.8 596.9h0M161.0 596.4h0M169.4 593.8h0M169.3 586.9h0M178.1 579.8h0M168.4 591.4h0M185.8 579.0h0M184.2 578.4h0M188.4 573.8h0M166.1 595.2h0M171.2 596.0h0M188.1 578.9h0M168.9 596.2h0M177.1 592.1h0M171.9 587.0h0M168.3 597.2h0M183.7 577.7h0M177.9 585.0h0M168.7 588.9h0M173.8 587.4h0M170.0 586.3h0M177.4 586.9h0M179.5 584.7h0M169.6 591.3h0M180.6 584.0h0M174.3 592.6h0M169.8 591.4h0M171.7 587.6h0M166.5 598.4h0M180.3 581.2h0M170.4 593.0h0M177.6 587.3h0M176.6 580.3h0M174.0 590.9h0M176.2 580.2h0M174.9 597.1h0M176.7 584.6h0M173.9 591.8h0M175.3 586.8h0M170.0 587.9h0M178.0 583.2h0M169.0 597.2h0M183.5 573.3h0M183.9 573.0h0M169.3 602.0h0M171.4 589.0h0M175.9 595.1h0M186.8 577.3h0M181.6 586.6h0M167.9 593.7h0M170.1 594.5h0M170.8 585.4h0M171.6 588.5h0M184.1 578.1h0M177.5 587.5h0M180.0 582.4h0M170.4 586.3h0M182.7 583.6h0M175.7 583.4h0M178.1 581.6h0M176.8 589.8h0M165.9 593.8h0M168.2 593.4h0M181.0 580.2h0M187.3 577.4h0M171.0 594.3h0M169.2 589.5h0M172.4 586.7h0M187.1 581.5h0M185.9 581.7h0M164.7 588.3h0M181.3 582.4h0M172.6 592.0h0M186.5 579.4h0M182.5 579.1h0M164.4 592.3h0M171.9 592.1h0M174.8 591.5h0M176.6 586.0h0M178.1 589.9h0M168.5 586.8h0M169.2 585.8h0M167.6 589.6h0M175.7 578.4h0M174.6 586.9h0M168.5 589.7h0M174.4 591.7h0M172.7 594.4h0M177.6 592.6h0M170.9 591.9h0M189.2 580.5h0M165.8 589.4h0M169.9 595.9h0M171.1 590.1h0M164.7 597.2h0M165.0 594.3h0M177.4 577.2h0M185.4 580.0h0M185.3 574.2h0M172.7 594.3h0M174.6 575.1h0M173.0 588.6h0M167.2 594.7h0M185.1 585.7h0M165.7 594.4h0M185.1 582.0h0M167.0 600.6h0M176.5 594.2h0M165.7 591.7h0M179.9 580.3h0M166.0 595.7h0M170.2 588.3h0M184.2 580.8h0M164.1 592.8h0M172.5 594.8h0M181.6 582.9h0M163.7 590.1h0M185.6 575.4h0M177.6 587.2h0M167.1 594.6h0M176.9 583.4h0M174.8 591.6h0M173.6 586.3h0M173.3 590.2h0M169.5 589.7h0M169.3 596.0h0M166.6 595.2h0M164.7 593.3h0M165.3 591.8h0M178.4 580.7h0M186.7 582.6h0M177.5 583.8h0M171.7 593.7h0M166.1 600.0h0M178.9 587.8h0M172.6 585.2h0M181.8 584.0h0M169.7 591.0h0M179.9 585.2h0M183.3 586.7h0M165.9 599.1h0M164.4 592.5h0M165.9 597.7h0M172.3 591.2h0M182.3 582.7h0M167.9 592.8h0M167.8 592.8h0M177.4 585.7h0M189.0 575.0h0M166.8 593.3h0M171.1 592.2h0M168.2 591.1h0M186.9 573.8h0M170.3 581.9h0M179.4 579.9h0M181.5 581.3h0M186.6 578.9h0M168.3 587.6h0M165.8 589.9h0M178.6 582.3h0M175.5 584.4h0M180.8 579.1h0M170.9 590.8h0M182.2 584.0h0M174.5 577.7h0M170.5 591.3h0M162.7 597.1h0M181.2 583.0h0M175.3 586.1h0M185.9 578.4h0M173.5 590.1h0M173.5 589.9h0M168.2 591.0h0M170.4 589.7h0M165.2 591.9h0M178.5 587.1h0M175.3 588.5h0M172.9 584.7h0M183.2 579.1h0M178.2 582.9h0M164.9 594.5h0M175.2 587.6h0M174.5 586.9h0M171.6 596.8h0M176.6 581.9h0M179.6 585.6h0M185.9 580.5h0M171.9 587.1h0M181.5 577.2h0M168.5 590.3h0M170.8 589.8h0M174.6 587.2h0M175.5 587.5h0M172.1 588.4h0M180.8 576.3h0M182.3 576.7h0M170.7 595.6h0M163.7 594.9h0M166.8 599.4h0M177.3 577.6h0M185.9 576.7h0" fill="none" stroke="#cf1af2" stroke-width="0.7" stroke-linecap="square" opacity="0.45"/>
<path d="M100.5 640.9h0M99.9 645.5h0M96.3 644.8h0M102.8 649.5h0M104.6 646.6h0M103.3 649.1h0M98.7 651.5h0M101.3 649.2h0M95.6 655.3h0M91.1 641.3h0M99.7 652.0h0M102.4 640.6h0M96.0 641.2h0M106.1 654.4h0M93.9 649.8h0M103.7 649.7h0M104.0 641.8h0M109.9 646.1h0M107.3 640.6h0M106.2 645.1h0M99.9 650.9h0M98.5 647.7h0M110.2 647.0h0M110.6 646.0h0M97.8 648.4h0M107.1 646.6h0M90.8 647.0h0M102.7 645.3h0M105.8 649.1h0M98.2 643.4h0M99.7 642.1h0M103.2 663.1h0M96.5 651.6h0M106.1 648.8h0M98.8 660.1h0M100.3 645.4h0M100.5 640.7h0M96.4 656.1h0M100.3 650.1h0M97.7 643.8h0M109.4 648.3h0M100.6 643.0h0M94.2 645.6h0M103.4 657.4h0M106.9 650.3h0M98.1 645.4h0M104.6 641.3h0M100.8 640.9h0M92.3 644.7h0M102.5 646.4h0M98.7 645.8h0M94.8 648.4h0M101.0 643.1h0M106.7 642.0h0M98.7 644.9h0M104.1 662.3h0M97.7 641.9h0M105.0 647.0h0M95.8 643.1h0M100.2 649.2h0M91.4 641.2h0M102.7 641.8h0M99.8 644.5h0M102.0 643.5h0M97.5 640.9h0M96.5 642.6h0M105.2 658.4h0M97.0 656.5h0M97.1 641.7h0M103.1 644.7h0M109.5 644.3h0M104.5 645.7h0M111.2 644.2h0M91.2 646.4h0M92.2 652.7h0M100.3 646.1h0M98.5 648.1h0M93.8 650.4h0M103.9 647.7h0M105.9 647.9h0M103.0 647.4h0M105.3 643.7h0M106.1 646.3h0M101.3 648.8h0M94.7 643.6h0M103.9 640.6h0M96.2 654.2h0M102.8 644.1h0M93.8 640.8h0M102.3 653.0h0M107.0 642.6h0M98.5 649.7h0M102.0 643.6h0M91.9 659.5h0M99.7 644.9h0M101.9 646.8h0M95.7 649.9h0M99.3 649.2h0M93.5 652.3h0M108.6 650.3h0M103.7 655.5h0M102.1 646.5h0M97.8 653.7h0M99.7 641.6h0M104.0 647.5h0M107.5 643.9h0M106.1 640.8h0M104.5 652.2h0M104.2 659.4h0M94.2 646.1h0M98.5 647.9h0M102.9 651.2h0M95.9 650.0h0M98.5 652.1h0M96.3 650.8h0M100.9 652.7h0M96.2 643.1h0M110.5 650.4h0M89.7 640.9h0M104.4 650.3h0M99.6 648.9h0M101.6 644.3h0M101.7 645.1h0M101.0 643.8h0M96.3 644.3h0M99.8 644.1h0M108.8 646.9h0M95.8 643.8h0M109.2 652.7h0M89.7 654.1h0M99.0 657.8h0M94.6 641.5h0M108.2 641.3h0M105.2 644.1h0M104.9 644.0h0M97.8 641.0h0M105.6 652.5h0M97.7 652.1h0M100.3 645.5h0M91.1 657.4h0M99.6 656.6h0M103.7 641.4h0M97.4 647.9h0M97.3 645.2h0M109.7 648.6h0M108.0 644.8h0M102.1 648.1h0M101.7 642.0h0M105.6 651.8h0M101.7 653.4h0M93.3 640.9h0M94.4 642.7h0M97.0 648.5h0M99.0 640.8h0M100.9 642.5h0M106.2 650.7h0M94.7 651.2h0M95.5 654.6h0M102.5 652.4h0M98.3 646.1h0M96.5 649.6h0M106.3 648.6h0M103.5 645.3h0M96.9 646.5h0M94.5 648.5h0M94.2 642.0h0M100.8 640.9h0M100.4 643.5h0M104.2 647.3h0M103.8 650.7h0M100.6 656.6h0M97.6 642.7h0M96.8 648.3h0M99.8 642.4h0M107.7 645.1h0M110.1 654.0h0M98.5 642.9h0M107.9 649.1h0M94.8 643.3h0M94.0 641.1h0M104.1 655.0h0M102.3 642.6h0M89.6 640.8h0M97.6 642.8h0M106.6 643.0h0M92.6 644.9h0M100.0 648.0h0M102.3 642.7h0M98.5 642.1h0M98.3 641.7h0M93.6 647.4h0M103.8 641.9h0M97.1 649.3h0M94.4 646.2h0M101.7 642.6h0M106.2 654.8h0M99.0 651.3h0M107.6 657.5h0M102.6 644.9h0M104.3 656.8h0M106.9 650.7h0M99.9 641.5h0M96.5 647.4h0M105.6 640.7h0M100.2 644.8h0M97.4 647.2h0M99.3 642.4h0M94.2 643.6h0M102.6 658.7h0M110.1 650.9h0M105.4 654.6h0M105.3 646.2h0M102.1 643.0h0M94.4 646.8h0M102.7 642.4h0M101.3 654.2h0M114.9 662.2h0M114.0 644.9h0M93.7 659.5h0M94.6 646.1h0M111.2 640.9h0M92.1 644.5h0M113.9 646.4h0M102.6 647.9h0M102.4 640.6h0M106.1 649.5h0M92.4 641.2h0M98.6 652.1h0M98.6 643.8h0M104.7 649.3h0M101.4 644.6h0M101.3 642.5h0M99.4 640.8h0M105.2 646.6h0M84.5 640.7h0M105.6 648.6h0M109.4 650.9h0M95.7 642.6h0M106.0 642.4h0M102.0 646.2h0M99.8 642.1h0M104.1 641.3h0M107.3 642.9h0M105.5 646.4h0M100.6 650.7h0M102.9 649.2h0M94.3 642.8h0M107.5 648.1h0M98.3 642.0h0M105.0 646.9h0M102.2 646.0h0M101.1 648.8h0M108.8 653.7h0M101.1 645.8h0M101.3 662.9h0M102.6 653.0h0M101.1 649.8h0M101.0 645.6h0M95.8 643.4h0M97.6 644.4h0M100.2 646.2h0M101.1 644.7h0M108.0 645.0h0M93.5 654.5h0M97.5 646.3h0M99.1 652.3h0M103.9 656.1h0M105.2 652.3h0M101.9 640.9h0M103.2 653.1h0M98.9 660.3h0M111.5 642.2h0M105.3 643.5h0M96.8 645.6h0M95.0 644.8h0M114.9 646.0h0M108.5 641.0h0M103.4 648.9h0M96.6 643.1h0M97.6 642.4h0M93.9 641.8h0M99.0 641.1h0M107.2 653.4h0M101.5 645.9h0M95.3 645.1h0M98.5 648.3h0M107.6 642.4h0M97.5 644.2h0M101.6 652.9h0M107.5 648.8h0M103.1 646.7h0M102.5 645.2h0M95.4 642.5h0M98.5 660.7h0M101.3 647.1h0M101.3 643.7h0M99.0 644.1h0M100.0 649.6h0M99.8 661.6h0M105.2 642.6h0M101.0 643.6h0M97.7 646.5h0M103.7 645.0h0M105.4 644.6h0M105.6 654.0h0M100.8 647.9h0M98.1 641.2h0M104.1 647.1h0M98.3 642.5h0M94.7 663.9h0M112.5 643.7h0M97.6 661.9h0M101.0 640.6h0M90.7 645.3h0M109.4 640.6h0M91.0 658.0h0M108.3 646.6h0M107.5 652.3h0M96.8 658.8h0M100.2 644.1h0M102.3 643.3h0M102.5 645.6h0M101.4 659.1h0M96.9 644.0h0M100.7 644.9h0M97.9 645.0h0M103.8 647.1h0M105.3 642.8h0M105.1 652.0h0M103.6 648.2h0M104.6 643.8h0M98.5 642.8h0M98.5 644.3h0M101.8 650.3h0M101.5 660.8h0M109.9 659.4h0M99.9 641.4h0M108.6 649.6h0M97.3 652.3h0M106.4 646.4h0M103.0 654.7h0M103.6 645.7h0M105.9 647.8h0M92.9 647.9h0M106.3 642.7h0M103.4 649.2h0M108.8 658.7h0M108.5 652.5h0M107.2 641.6h0M99.1 643.9h0M108.6 643.4h0M103.6 640.7h0M93.5 645.2h0M102.5 644.2h0M102.0 652.8h0M103.9 642.8h0M101.5 651.4h0M97.8 646.8h0M92.7 660.4h0M96.8 648.3h0M94.9 647.7h0M99.7 646.1h0M102.9 653.4h0M99.4 645.7h0M102.0 641.0h0M111.2 641.7h0M97.4 641.9h0M101.2 643.1h0M102.8 647.6h0M106.4 642.2h0M101.8 642.7h0M98.7 644.6h0M106.8 657.2h0M102.7 643.2h0M95.0 650.1h0M99.3 650.3h0M106.3 644.4h0M102.3 645.9h0M103.9 657.4h0M98.5 644.9h0M101.3 648.5h0M99.2 641.7h0M97.3 642.3h0M103.5 644.6h0M94.9 641.4h0M99.9 646.6h0M100.6 642.9h0M105.3 646.1h0M106.2 641.5h0M92.0 648.9h0M107.8 645.3h0M101.7 651.7h0M97.1 641.3h0M92.7 642.1h0M104.8 654.3h0M108.0 641.9h0M98.1 660.2h0M97.7 649.4h0M100.5 644.5h0M101.7 656.9h0M100.9 640.8h0M98.2 652.1h0M97.5 650.8h0M103.3 641.2h0M96.2 649.6h0M102.2 649.0h0M104.4 650.7h0M98.4 648.3h0M105.7 649.3h0M109.4 646.0h0M103.3 646.1h0M103.1 643.5h0M104.3 641.4h0M101.9 652.9h0M96.2 642.9h0M101.2 648.9h0M103.7 644.3h0" fill="none" stroke="#7f7800" stroke-width="0.8" stroke-linecap="square" opacity="0.75"/>
<path d="M111.9 651.8h0M119.9 661.2h0M118.1 646.2h0M119.3 647.5h0M111.3 642.8h0M113.7 652.9h0M111.1 653.7h0M111.0 642.6h0M109.7 641.5h0M112.6 643.7h0M109.3 651.0h0M114.4 647.2h0M108.1 653.5h0M117.2 641.2h0M127.5 649.6h0M115.4 650.6h0M109.0 651.5h0M128.4 652.6h0M118.9 647.9h0M116.1 649.6h0M109.5 643.4h0M116.2 643.3h0M108.5 658.9h0M116.6 644.7h0M120.4 650.7h0M108.2 643.2h0M108.2 653.1h0M109.4 644.8h0M115.6 647.9h0M108.3 643.2h0M113.2 644.0h0M119.5 642.9h0M109.1 641.8h0M108.2 656.5h0M114.4 653.3h0M112.5 644.2h0M110.5 644.5h0M118.0 644.4h0M109.0 641.4h0M112.3 642.8h0M126.6 652.2h0M126.0 642.9h0M115.6 645.6h0M109.7 651.2h0M126.1 652.7h0M110.0 644.6h0M121.1 643.8h0M109.6 654.5h0M114.4 650.9h0M113.8 647.2h0M118.1 648.6h0M115.2 644.7h0M121.2 646.8h0M113.1 645.5h0M142.3 652.6h0M140.0 653.1h0M122.2 642.5h0M109.0 654.7h0M119.1 662.1h0M119.1 643.6h0M121.3 663.1h0M117.7 646.7h0M118.3 658.5h0M117.0 644.9h0M127.2 652.3h0M114.4 644.5h0M111.5 649.2h0M117.2 655.8h0M121.2 651.6h0M109.3 661.3h0M108.0 643.5h0M124.5 641.8h0M120.4 642.0h0M111.7 641.5h0M119.5 645.4h0M108.4 643.6h0M121.1 648.3h0M118.9 652.0h0M117.4 643.2h0M116.2 642.5h0M118.6 646.7h0M108.9 647.9h0M123.7 647.3h0M128.8 647.4h0M109.2 644.8h0M115.8 646.6h0M108.1 647.8h0M113.8 649.8h0M118.8 651.5h0M117.6 651.3h0M116.0 642.4h0M109.3 656.8h0M114.6 645.2h0M118.5 645.9h0M108.3 645.2h0M115.9 646.1h0M109.8 659.3h0M133.3 647.4h0M122.5 642.2h0M112.9 649.8h0M113.3 642.6h0M116.3 655.2h0M108.0 643.1h0M110.0 650.5h0M132.3 646.1h0M112.1 653.9h0M114.9 648.4h0M125.9 647.1h0M130.5 646.2h0M122.5 642.9h0M116.5 646.6h0M111.8 660.2h0M120.2 644.7h0M108.2 649.6h0M112.9 649.4h0M127.7 643.1h0M128.7 643.3h0M113.4 647.2h0M131.1 647.6h0M120.4 645.6h0M122.2 641.8h0M116.0 652.7h0M108.1 650.7h0M142.7 645.5h0M108.6 642.4h0M112.4 649.5h0M115.9 643.8h0M109.5 641.4h0M131.2 653.0h0M124.2 653.0h0M108.2 648.3h0M109.8 645.3h0M116.0 655.0h0M114.2 641.4h0M108.5 641.5h0M108.7 642.8h0M121.7 647.5h0M122.6 649.8h0M128.2 643.3h0M115.1 641.0h0M114.7 651.2h0M113.1 649.6h0M116.9 652.0h0M115.2 641.1h0M131.0 649.4h0M111.0 644.8h0M111.0 648.5h0M112.8 647.9h0M110.7 643.3h0M112.3 656.6h0M108.3 650.4h0M108.3 642.0h0M112.3 647.8h0M133.1 642.3h0M108.8 644.2h0M108.2 641.7h0M115.9 647.4h0M123.4 656.0h0M111.2 642.0h0M121.8 645.0h0M115.3 644.6h0M125.1 650.2h0M118.6 644.8h0M113.9 645.4h0M119.7 649.1h0M115.9 654.8h0M113.3 646.3h0M110.8 646.7h0M114.5 655.0h0M111.1 663.3h0M108.7 642.0h0M111.0 644.9h0M108.3 652.1h0M115.5 649.9h0M119.5 646.6h0M109.5 644.3h0M126.6 646.1h0M114.2 645.8h0M112.1 643.0h0M111.2 648.4h0M109.0 643.7h0M114.9 645.2h0M130.7 647.9h0M126.0 643.5h0M109.3 651.1h0M109.2 642.3h0M111.8 641.6h0M109.2 652.2h0M115.4 641.6h0M108.1 656.3h0M115.2 641.4h0M145.6 650.5h0M111.4 648.6h0M111.1 657.8h0M127.8 661.8h0M127.1 653.2h0M125.8 646.5h0M112.8 649.1h0M128.0 648.2h0M165.4 644.5h0M147.0 654.6h0M136.7 662.8h0M170.5 657.9h0M164.1 651.4h0M119.5 656.2h0M145.1 657.1h0M174.7 654.3h0M126.2 654.9h0M163.9 642.7h0M174.8 647.8h0M121.7 648.8h0M148.1 654.5h0M183.9 655.5h0M113.8 659.6h0M143.2 663.3h0M126.9 659.5h0M138.6 661.1h0M172.0 641.6h0M145.1 662.6h0M182.8 642.9h0M118.7 641.5h0M122.5 660.4h0M168.5 647.3h0M116.4 659.0h0M138.3 658.6h0M173.7 653.7h0M174.8 645.3h0M137.6 645.4h0M154.4 660.8h0" fill="none" stroke="#7f7800" stroke-width="0.8" stroke-linecap="square" opacity="0.5"/>
<polygon points="93.0,640.4 109.3,640.4 110.0,646.0 108.3,652.0 104.0,656.0 97.5,655.6 93.2,650.0" fill="#7f7800" opacity="1" filter="url(#b6)" stroke="#7f7800" stroke-width="1" stroke-linejoin="round"/>
</g>
<rect x="81.40" y="565.10" width="107.80" height="106.10" fill="none" stroke="#4a4a4a" stroke-width="1.0"/>
<rect x="86.10" y="639.80" width="97.80" height="25.60" fill="none" stroke="#444" stroke-width="0.7"/>
<rect x="84.50" y="638.20" width="3.20" height="3.20" fill="#e4e4e4" stroke="#333" stroke-width="0.8"/>
<rect x="84.50" y="651.00" width="3.20" height="3.20" fill="#e4e4e4" stroke="#333" stroke-width="0.8"/>
<rect x="84.50" y="663.80" width="3.20" height="3.20" fill="#e4e4e4" stroke="#333" stroke-width="0.8"/>
<rect x="133.40" y="638.20" width="3.20" height="3.20" fill="#e4e4e4" stroke="#333" stroke-width="0.8"/>
<rect x="133.40" y="663.80" width="3.20" height="3.20" fill="#e4e4e4" stroke="#333" stroke-width="0.8"/>
<rect x="182.30" y="638.20" width="3.20" height="3.20" fill="#e4e4e4" stroke="#333" stroke-width="0.8"/>
<rect x="182.30" y="651.00" width="3.20" height="3.20" fill="#e4e4e4" stroke="#333" stroke-width="0.8"/>
<rect x="182.30" y="663.80" width="3.20" height="3.20" fill="#e4e4e4" stroke="#333" stroke-width="0.8"/>
<text x="167.3" y="654" font-size="9.3" font-weight="bold" text-anchor="middle" fill="#b3248f"  stroke="#b3248f" stroke-width="0.3">2.6%</text>
<text x="176.5" y="620.5" font-size="5.4" font-weight="normal" text-anchor="middle" fill="#222" >P4</text>
<line x1="84.0" y1="671.2" x2="84.0" y2="675.2" stroke="#222" stroke-width="0.75"/>
<line x1="87.61235994796778" y1="671.2" x2="87.61235994796778" y2="673.4000000000001" stroke="#222" stroke-width="0.75"/>
<line x1="89.72545505663595" y1="671.2" x2="89.72545505663595" y2="673.4000000000001" stroke="#222" stroke-width="0.75"/>
<line x1="91.22471989593555" y1="671.2" x2="91.22471989593555" y2="673.4000000000001" stroke="#222" stroke-width="0.75"/>
<line x1="92.38764005203222" y1="671.2" x2="92.38764005203222" y2="673.4000000000001" stroke="#222" stroke-width="0.75"/>
<line x1="93.33781500460373" y1="671.2" x2="93.33781500460373" y2="673.4000000000001" stroke="#222" stroke-width="0.75"/>
<line x1="94.14117648017108" y1="671.2" x2="94.14117648017108" y2="673.4000000000001" stroke="#222" stroke-width="0.75"/>
<line x1="94.83707984390333" y1="671.2" x2="94.83707984390333" y2="673.4000000000001" stroke="#222" stroke-width="0.75"/>
<line x1="95.4509101132719" y1="671.2" x2="95.4509101132719" y2="673.4000000000001" stroke="#222" stroke-width="0.75"/>
<line x1="100.0" y1="671.2" x2="100.0" y2="675.2" stroke="#222" stroke-width="0.75"/>
<line x1="107.22471989593555" y1="671.2" x2="107.22471989593555" y2="673.4000000000001" stroke="#222" stroke-width="0.75"/>
<line x1="111.4509101132719" y1="671.2" x2="111.4509101132719" y2="673.4000000000001" stroke="#222" stroke-width="0.75"/>
<line x1="114.4494397918711" y1="671.2" x2="114.4494397918711" y2="673.4000000000001" stroke="#222" stroke-width="0.75"/>
<line x1="116.77528010406445" y1="671.2" x2="116.77528010406445" y2="673.4000000000001" stroke="#222" stroke-width="0.75"/>
<line x1="118.67563000920745" y1="671.2" x2="118.67563000920745" y2="673.4000000000001" stroke="#222" stroke-width="0.75"/>
<line x1="120.28235296034217" y1="671.2" x2="120.28235296034217" y2="673.4000000000001" stroke="#222" stroke-width="0.75"/>
<line x1="121.67415968780665" y1="671.2" x2="121.67415968780665" y2="673.4000000000001" stroke="#222" stroke-width="0.75"/>
<line x1="122.9018202265438" y1="671.2" x2="122.9018202265438" y2="673.4000000000001" stroke="#222" stroke-width="0.75"/>
<line x1="124.0" y1="671.2" x2="124.0" y2="675.2" stroke="#222" stroke-width="0.75"/>
<line x1="131.52574989159953" y1="671.2" x2="131.52574989159953" y2="673.4000000000001" stroke="#222" stroke-width="0.75"/>
<line x1="135.92803136799157" y1="671.2" x2="135.92803136799157" y2="673.4000000000001" stroke="#222" stroke-width="0.75"/>
<line x1="139.05149978319906" y1="671.2" x2="139.05149978319906" y2="673.4000000000001" stroke="#222" stroke-width="0.75"/>
<line x1="141.47425010840047" y1="671.2" x2="141.47425010840047" y2="673.4000000000001" stroke="#222" stroke-width="0.75"/>
<line x1="143.4537812595911" y1="671.2" x2="143.4537812595911" y2="673.4000000000001" stroke="#222" stroke-width="0.75"/>
<line x1="145.12745100035642" y1="671.2" x2="145.12745100035642" y2="673.4000000000001" stroke="#222" stroke-width="0.75"/>
<line x1="146.5772496747986" y1="671.2" x2="146.5772496747986" y2="673.4000000000001" stroke="#222" stroke-width="0.75"/>
<line x1="147.85606273598313" y1="671.2" x2="147.85606273598313" y2="673.4000000000001" stroke="#222" stroke-width="0.75"/>
<line x1="149.0" y1="671.2" x2="149.0" y2="675.2" stroke="#222" stroke-width="0.75"/>
<line x1="156.22471989593555" y1="671.2" x2="156.22471989593555" y2="673.4000000000001" stroke="#222" stroke-width="0.75"/>
<line x1="160.4509101132719" y1="671.2" x2="160.4509101132719" y2="673.4000000000001" stroke="#222" stroke-width="0.75"/>
<line x1="163.4494397918711" y1="671.2" x2="163.4494397918711" y2="673.4000000000001" stroke="#222" stroke-width="0.75"/>
<line x1="165.77528010406445" y1="671.2" x2="165.77528010406445" y2="673.4000000000001" stroke="#222" stroke-width="0.75"/>
<line x1="167.67563000920745" y1="671.2" x2="167.67563000920745" y2="673.4000000000001" stroke="#222" stroke-width="0.75"/>
<line x1="169.28235296034217" y1="671.2" x2="169.28235296034217" y2="673.4000000000001" stroke="#222" stroke-width="0.75"/>
<line x1="170.67415968780665" y1="671.2" x2="170.67415968780665" y2="673.4000000000001" stroke="#222" stroke-width="0.75"/>
<line x1="171.9018202265438" y1="671.2" x2="171.9018202265438" y2="673.4000000000001" stroke="#222" stroke-width="0.75"/>
<line x1="173.0" y1="671.2" x2="173.0" y2="675.2" stroke="#222" stroke-width="0.75"/>
<line x1="177.51544993495972" y1="671.2" x2="177.51544993495972" y2="673.4000000000001" stroke="#222" stroke-width="0.75"/>
<line x1="180.15681882079494" y1="671.2" x2="180.15681882079494" y2="673.4000000000001" stroke="#222" stroke-width="0.75"/>
<line x1="182.03089986991944" y1="671.2" x2="182.03089986991944" y2="673.4000000000001" stroke="#222" stroke-width="0.75"/>
<line x1="183.48455006504028" y1="671.2" x2="183.48455006504028" y2="673.4000000000001" stroke="#222" stroke-width="0.75"/>
<line x1="184.67226875575466" y1="671.2" x2="184.67226875575466" y2="673.4000000000001" stroke="#222" stroke-width="0.75"/>
<line x1="185.67647060021386" y1="671.2" x2="185.67647060021386" y2="673.4000000000001" stroke="#222" stroke-width="0.75"/>
<line x1="186.54634980487916" y1="671.2" x2="186.54634980487916" y2="673.4000000000001" stroke="#222" stroke-width="0.75"/>
<line x1="187.31363764158988" y1="671.2" x2="187.31363764158988" y2="673.4000000000001" stroke="#222" stroke-width="0.75"/>
<line x1="77.4" y1="668.0" x2="81.4" y2="668.0" stroke="#222" stroke-width="0.75"/>
<line x1="79.2" y1="665.5917600346881" x2="81.4" y2="665.5917600346881" stroke="#222" stroke-width="0.75"/>
<line x1="79.2" y1="664.1830299622427" x2="81.4" y2="664.1830299622427" stroke="#222" stroke-width="0.75"/>
<line x1="79.2" y1="663.1835200693763" x2="81.4" y2="663.1835200693763" stroke="#222" stroke-width="0.75"/>
<line x1="79.2" y1="662.4082399653119" x2="81.4" y2="662.4082399653119" stroke="#222" stroke-width="0.75"/>
<line x1="79.2" y1="661.7747899969308" x2="81.4" y2="661.7747899969308" stroke="#222" stroke-width="0.75"/>
<line x1="79.2" y1="661.239215679886" x2="81.4" y2="661.239215679886" stroke="#222" stroke-width="0.75"/>
<line x1="79.2" y1="660.7752801040644" x2="81.4" y2="660.7752801040644" stroke="#222" stroke-width="0.75"/>
<line x1="79.2" y1="660.3660599244854" x2="81.4" y2="660.3660599244854" stroke="#222" stroke-width="0.75"/>
<line x1="77.4" y1="650.0" x2="81.4" y2="650.0" stroke="#222" stroke-width="0.75"/>
<line x1="79.2" y1="642.4742501084005" x2="81.4" y2="642.4742501084005" stroke="#222" stroke-width="0.75"/>
<line x1="79.2" y1="638.0719686320084" x2="81.4" y2="638.0719686320084" stroke="#222" stroke-width="0.75"/>
<line x1="79.2" y1="634.948500216801" x2="81.4" y2="634.948500216801" stroke="#222" stroke-width="0.75"/>
<line x1="79.2" y1="632.5257498915995" x2="81.4" y2="632.5257498915995" stroke="#222" stroke-width="0.75"/>
<line x1="79.2" y1="630.5462187404089" x2="81.4" y2="630.5462187404089" stroke="#222" stroke-width="0.75"/>
<line x1="79.2" y1="628.8725489996435" x2="81.4" y2="628.8725489996435" stroke="#222" stroke-width="0.75"/>
<line x1="79.2" y1="627.4227503252014" x2="81.4" y2="627.4227503252014" stroke="#222" stroke-width="0.75"/>
<line x1="79.2" y1="626.1439372640169" x2="81.4" y2="626.1439372640169" stroke="#222" stroke-width="0.75"/>
<line x1="77.4" y1="625.0" x2="81.4" y2="625.0" stroke="#222" stroke-width="0.75"/>
<line x1="79.2" y1="617.4742501084005" x2="81.4" y2="617.4742501084005" stroke="#222" stroke-width="0.75"/>
<line x1="79.2" y1="613.0719686320084" x2="81.4" y2="613.0719686320084" stroke="#222" stroke-width="0.75"/>
<line x1="79.2" y1="609.948500216801" x2="81.4" y2="609.948500216801" stroke="#222" stroke-width="0.75"/>
<line x1="79.2" y1="607.5257498915995" x2="81.4" y2="607.5257498915995" stroke="#222" stroke-width="0.75"/>
<line x1="79.2" y1="605.5462187404089" x2="81.4" y2="605.5462187404089" stroke="#222" stroke-width="0.75"/>
<line x1="79.2" y1="603.8725489996435" x2="81.4" y2="603.8725489996435" stroke="#222" stroke-width="0.75"/>
<line x1="79.2" y1="602.4227503252014" x2="81.4" y2="602.4227503252014" stroke="#222" stroke-width="0.75"/>
<line x1="79.2" y1="601.1439372640169" x2="81.4" y2="601.1439372640169" stroke="#222" stroke-width="0.75"/>
<line x1="77.4" y1="600.0" x2="81.4" y2="600.0" stroke="#222" stroke-width="0.75"/>
<line x1="79.2" y1="592.7752801040644" x2="81.4" y2="592.7752801040644" stroke="#222" stroke-width="0.75"/>
<line x1="79.2" y1="588.5490898867281" x2="81.4" y2="588.5490898867281" stroke="#222" stroke-width="0.75"/>
<line x1="79.2" y1="585.5505602081289" x2="81.4" y2="585.5505602081289" stroke="#222" stroke-width="0.75"/>
<line x1="79.2" y1="583.2247198959356" x2="81.4" y2="583.2247198959356" stroke="#222" stroke-width="0.75"/>
<line x1="79.2" y1="581.3243699907925" x2="81.4" y2="581.3243699907925" stroke="#222" stroke-width="0.75"/>
<line x1="79.2" y1="579.7176470396579" x2="81.4" y2="579.7176470396579" stroke="#222" stroke-width="0.75"/>
<line x1="79.2" y1="578.3258403121933" x2="81.4" y2="578.3258403121933" stroke="#222" stroke-width="0.75"/>
<line x1="79.2" y1="577.0981797734562" x2="81.4" y2="577.0981797734562" stroke="#222" stroke-width="0.75"/>
<line x1="77.4" y1="576.0" x2="81.4" y2="576.0" stroke="#222" stroke-width="0.75"/>
<line x1="79.2" y1="572.9897000433602" x2="81.4" y2="572.9897000433602" stroke="#222" stroke-width="0.75"/>
<line x1="79.2" y1="571.2287874528034" x2="81.4" y2="571.2287874528034" stroke="#222" stroke-width="0.75"/>
<line x1="79.2" y1="569.9794000867204" x2="81.4" y2="569.9794000867204" stroke="#222" stroke-width="0.75"/>
<line x1="79.2" y1="569.0102999566398" x2="81.4" y2="569.0102999566398" stroke="#222" stroke-width="0.75"/>
<line x1="79.2" y1="568.2184874961636" x2="81.4" y2="568.2184874961636" stroke="#222" stroke-width="0.75"/>
<line x1="79.2" y1="567.5490195998574" x2="81.4" y2="567.5490195998574" stroke="#222" stroke-width="0.75"/>
<line x1="79.2" y1="566.9691001300806" x2="81.4" y2="566.9691001300806" stroke="#222" stroke-width="0.75"/>
<line x1="79.2" y1="566.4575749056067" x2="81.4" y2="566.4575749056067" stroke="#222" stroke-width="0.75"/>
<line x1="94.5" y1="671.2" x2="94.5" y2="673.6" stroke="#222" stroke-width="0.6"/>
<line x1="95.4" y1="671.2" x2="95.4" y2="673.6" stroke="#222" stroke-width="0.6"/>
<line x1="96.30000000000001" y1="671.2" x2="96.30000000000001" y2="673.6" stroke="#222" stroke-width="0.6"/>
<line x1="97.20000000000002" y1="671.2" x2="97.20000000000002" y2="673.6" stroke="#222" stroke-width="0.6"/>
<line x1="98.10000000000002" y1="671.2" x2="98.10000000000002" y2="673.6" stroke="#222" stroke-width="0.6"/>
<line x1="99.00000000000003" y1="671.2" x2="99.00000000000003" y2="673.6" stroke="#222" stroke-width="0.6"/>
<line x1="99.90000000000003" y1="671.2" x2="99.90000000000003" y2="673.6" stroke="#222" stroke-width="0.6"/>
<line x1="100.80000000000004" y1="671.2" x2="100.80000000000004" y2="673.6" stroke="#222" stroke-width="0.6"/>
<line x1="101.70000000000005" y1="671.2" x2="101.70000000000005" y2="673.6" stroke="#222" stroke-width="0.6"/>
<line x1="98.0" y1="671.2" x2="98.0" y2="675.2" stroke="#111" stroke-width="1.2"/>
<line x1="79.0" y1="663" x2="81.4" y2="663" stroke="#222" stroke-width="0.6"/>
<line x1="79.0" y1="662.1" x2="81.4" y2="662.1" stroke="#222" stroke-width="0.6"/>
<line x1="79.0" y1="661.2" x2="81.4" y2="661.2" stroke="#222" stroke-width="0.6"/>
<line x1="79.0" y1="660.3000000000001" x2="81.4" y2="660.3000000000001" stroke="#222" stroke-width="0.6"/>
<line x1="79.0" y1="659.4000000000001" x2="81.4" y2="659.4000000000001" stroke="#222" stroke-width="0.6"/>
<line x1="79.0" y1="658.5000000000001" x2="81.4" y2="658.5000000000001" stroke="#222" stroke-width="0.6"/>
<line x1="79.0" y1="657.6000000000001" x2="81.4" y2="657.6000000000001" stroke="#222" stroke-width="0.6"/>
<line x1="79.0" y1="656.7000000000002" x2="81.4" y2="656.7000000000002" stroke="#222" stroke-width="0.6"/>
<line x1="79.0" y1="655.8000000000002" x2="81.4" y2="655.8000000000002" stroke="#222" stroke-width="0.6"/>
<line x1="79.0" y1="654.9000000000002" x2="81.4" y2="654.9000000000002" stroke="#222" stroke-width="0.6"/>
<line x1="79.0" y1="654.0000000000002" x2="81.4" y2="654.0000000000002" stroke="#222" stroke-width="0.6"/>
<line x1="79.0" y1="653.1000000000003" x2="81.4" y2="653.1000000000003" stroke="#222" stroke-width="0.6"/>
<line x1="79.0" y1="652.2000000000003" x2="81.4" y2="652.2000000000003" stroke="#222" stroke-width="0.6"/>
<line x1="79.0" y1="651.3000000000003" x2="81.4" y2="651.3000000000003" stroke="#222" stroke-width="0.6"/>
<line x1="79.0" y1="650.4000000000003" x2="81.4" y2="650.4000000000003" stroke="#222" stroke-width="0.6"/>
<line x1="79.0" y1="649.5000000000003" x2="81.4" y2="649.5000000000003" stroke="#222" stroke-width="0.6"/>
<line x1="79.0" y1="648.6000000000004" x2="81.4" y2="648.6000000000004" stroke="#222" stroke-width="0.6"/>
<line x1="79.0" y1="647.7000000000004" x2="81.4" y2="647.7000000000004" stroke="#222" stroke-width="0.6"/>
<line x1="77.2" y1="655.0" x2="81.4" y2="655.0" stroke="#111" stroke-width="1.2"/>
<text x="80.9" y="684.3000000000001" font-size="4.8" font-weight="normal" text-anchor="middle" fill="#222" >-266</text>
<text x="100" y="681.2" font-size="4.8" font-weight="normal" text-anchor="middle" fill="#222" >0 10<tspan dy="-2.6" font-size="3.4">2</tspan></text>
<text x="131" y="681.2" font-size="4.8" font-weight="normal" text-anchor="middle" fill="#222" >10<tspan dy="-2.6" font-size="3.4">3</tspan></text>
<text x="155.6" y="681.2" font-size="4.8" font-weight="normal" text-anchor="middle" fill="#222" >10<tspan dy="-2.6" font-size="3.4">4</tspan></text>
<text x="179" y="681.2" font-size="4.8" font-weight="normal" text-anchor="middle" fill="#222" >10<tspan dy="-2.6" font-size="3.4">5</tspan></text>
<text x="76.2" y="575" font-size="4.8" font-weight="normal" text-anchor="middle" fill="#222" transform="rotate(-90 76.2 575)" >10<tspan dy="-2.6" font-size="3.4">5</tspan></text>
<text x="76.2" y="599" font-size="4.8" font-weight="normal" text-anchor="middle" fill="#222" transform="rotate(-90 76.2 599)" >10<tspan dy="-2.6" font-size="3.4">4</tspan></text>
<text x="76.2" y="623.7" font-size="4.8" font-weight="normal" text-anchor="middle" fill="#222" transform="rotate(-90 76.2 623.7)" >10<tspan dy="-2.6" font-size="3.4">3</tspan></text>
<text x="76.2" y="653" font-size="4.8" font-weight="normal" text-anchor="middle" fill="#222" transform="rotate(-90 76.2 653)" >10<tspan dy="-2.6" font-size="3.4">2</tspan></text>
<text x="70.60000000000001" y="670.7" font-size="4.8" font-weight="normal" text-anchor="middle" fill="#222" transform="rotate(-90 70.60000000000001 670.7)" >-425</text>
<text x="135" y="687.7" font-size="6.3" font-weight="normal" text-anchor="middle" fill="#222" textLength="42.3" lengthAdjust="spacingAndGlyphs" >C-KIT APC-A</text>
<text x="66.3" y="617.5" font-size="5.8" font-weight="normal" text-anchor="middle" fill="#222" transform="rotate(-90 66.3 617.5)" textLength="40" lengthAdjust="spacingAndGlyphs" >LIN APC-Cy7-A</text>
<clipPath id="c2"><rect x="223.8" y="565.1" width="99.30000000000001" height="103.29999999999995"/></clipPath><g clip-path="url(#c2)">
<path d="M238.1 650.0h0M238.3 650.5h0M238.1 653.0h0M241.9 647.0h0M240.4 645.5h0M236.9 653.0h0M240.2 642.7h0M240.6 651.6h0M239.7 655.6h0M243.1 649.7h0M234.1 652.3h0M243.2 649.2h0M236.2 650.5h0M239.6 647.8h0M238.6 652.3h0M237.8 647.2h0M240.2 651.4h0M241.5 643.1h0M242.8 651.3h0M240.4 653.8h0M241.8 640.5h0M243.3 646.2h0M235.9 644.9h0M239.3 651.2h0M238.9 649.5h0M237.0 650.3h0M240.5 648.0h0M239.0 651.0h0M237.8 645.9h0M243.2 647.8h0M233.9 649.4h0M238.7 644.1h0M241.5 649.3h0M242.9 652.0h0M243.8 647.9h0M242.6 649.2h0M240.6 651.1h0M235.4 650.6h0M239.4 649.5h0M238.9 654.8h0M237.5 647.1h0M237.8 649.9h0M241.0 651.0h0M238.9 647.0h0M241.4 652.4h0M242.1 648.6h0M241.3 646.0h0M241.8 657.0h0M242.7 647.8h0M238.6 644.9h0M246.4 651.1h0M237.0 647.6h0M240.3 655.5h0M240.5 647.9h0M241.9 644.3h0M239.0 643.0h0M241.3 647.8h0M236.9 645.6h0M239.2 649.7h0M242.0 653.3h0M240.6 651.8h0M239.1 648.1h0M238.8 648.6h0M235.6 650.9h0M238.2 648.7h0M239.9 648.2h0M240.8 649.2h0M241.1 644.2h0M238.5 640.3h0M238.8 645.5h0M236.6 651.8h0M237.6 649.7h0M237.3 657.4h0M240.0 644.5h0M237.5 652.5h0M243.2 647.7h0M241.8 649.2h0M235.7 648.9h0M239.3 647.1h0M239.7 648.9h0M241.9 644.1h0M239.3 653.0h0M243.6 654.1h0M242.1 654.5h0M241.5 655.8h0M239.1 653.3h0M240.4 649.1h0M240.6 653.3h0M237.2 656.2h0M234.7 644.9h0M241.0 651.9h0M240.6 652.7h0M240.1 653.0h0M242.9 643.3h0M238.7 645.9h0M242.0 651.1h0M242.2 652.3h0M245.8 655.5h0M237.6 644.0h0M242.8 648.9h0M241.9 650.2h0M236.4 648.6h0M241.1 648.4h0M239.2 656.7h0M239.9 656.0h0M239.1 651.0h0M240.6 644.7h0M239.8 647.4h0M241.5 649.0h0M238.0 641.9h0M239.8 647.5h0M238.2 646.0h0M243.0 654.4h0M240.3 649.2h0M242.4 652.0h0M237.5 639.7h0M240.4 645.8h0M239.6 644.6h0M239.3 654.4h0M239.5 651.6h0M238.3 647.7h0M238.6 651.0h0M237.9 647.8h0M243.7 650.8h0M237.6 642.5h0M235.6 657.4h0M237.3 647.7h0M240.8 650.1h0M239.3 645.8h0M236.2 646.9h0M235.7 650.0h0M244.6 649.7h0M238.8 654.0h0M240.7 641.4h0M238.7 643.8h0M235.7 653.4h0M238.2 659.9h0M242.5 654.5h0M243.5 644.5h0M242.4 656.9h0M241.8 649.9h0M237.4 651.6h0M241.6 651.1h0M242.1 647.3h0M238.5 651.5h0M241.5 651.1h0M244.5 652.2h0M235.7 649.0h0M240.3 652.7h0M241.3 643.0h0M236.8 647.9h0M238.9 653.9h0M242.2 651.0h0M237.5 648.2h0M238.5 639.8h0M238.0 644.5h0M240.3 644.8h0M243.8 642.7h0M241.3 645.6h0M241.9 652.4h0M237.3 648.5h0M245.3 650.1h0M241.1 647.4h0M237.8 647.2h0M243.3 651.2h0M239.7 650.2h0M241.1 649.6h0M246.6 648.2h0M238.2 650.2h0M241.9 648.4h0M240.7 645.7h0M239.2 646.4h0M238.1 656.2h0M235.8 647.8h0M237.5 651.7h0M236.2 646.0h0M242.9 650.0h0M242.3 649.5h0M238.5 650.5h0M238.2 649.9h0M237.9 651.0h0M241.9 651.0h0M244.9 648.3h0M238.1 652.1h0M241.9 651.2h0M239.2 653.0h0M239.8 645.1h0M241.4 654.0h0M238.5 647.1h0M239.8 648.9h0M242.7 650.9h0M241.0 650.6h0M239.4 652.5h0M240.4 644.0h0M240.3 654.8h0M238.6 645.1h0M238.4 651.7h0M239.3 653.8h0M240.5 654.4h0M241.0 647.3h0M239.9 644.3h0M243.7 646.1h0M238.9 647.7h0M240.9 646.6h0M236.5 646.5h0M244.2 655.5h0M241.9 650.0h0M238.8 652.6h0M239.1 642.2h0M241.9 648.5h0M235.9 647.9h0M236.8 648.2h0M236.5 643.6h0M241.2 645.3h0M238.9 643.6h0M243.1 651.5h0M238.2 649.7h0M236.7 639.5h0M239.8 647.0h0M238.6 653.4h0M238.2 649.7h0M243.3 648.6h0M241.7 650.9h0M241.7 648.9h0M240.2 660.8h0M240.9 647.2h0M244.6 655.4h0M242.0 648.9h0M240.5 645.1h0M239.1 653.1h0M237.6 649.1h0M239.0 645.5h0M241.9 646.4h0M240.6 641.5h0M241.7 643.9h0M236.9 654.6h0M241.4 651.6h0M242.0 650.0h0M234.1 649.1h0M236.2 648.7h0M239.2 656.4h0M242.7 649.7h0M241.8 645.6h0M241.4 652.4h0M239.0 648.7h0M239.8 654.5h0M241.2 653.1h0M239.0 647.0h0M236.8 649.4h0M242.9 652.7h0M240.2 644.0h0M238.2 642.4h0M242.8 650.7h0M239.6 652.0h0M238.0 650.1h0M238.0 653.6h0M234.7 653.4h0M240.4 649.0h0M240.7 649.5h0M241.3 653.4h0M238.2 648.5h0M242.6 648.7h0M243.5 650.0h0M240.2 650.8h0M244.9 645.3h0M244.7 646.5h0M239.4 652.5h0M239.4 649.2h0M238.8 652.0h0M244.3 651.1h0M238.7 643.1h0M240.5 656.7h0M236.4 639.8h0M240.0 654.0h0M244.1 647.3h0M244.9 651.6h0M239.6 656.1h0M240.8 659.6h0M240.1 647.0h0M236.8 651.8h0M239.8 643.3h0M239.3 649.7h0M241.0 646.2h0M241.3 654.3h0M240.5 647.4h0M240.7 647.0h0M238.9 650.8h0M242.6 653.2h0M238.8 643.5h0M236.6 650.9h0M238.9 649.3h0M241.4 649.3h0M237.3 648.3h0M242.6 651.4h0M238.9 650.5h0M237.9 647.0h0M240.4 645.8h0M237.0 645.3h0M239.1 648.5h0M239.6 644.4h0M240.3 653.6h0M235.1 651.1h0M241.0 651.1h0M241.2 647.4h0M238.8 649.8h0M239.3 646.7h0M239.5 650.7h0M238.6 651.0h0M241.0 645.6h0M235.2 646.3h0M239.8 648.7h0M234.8 649.6h0M237.1 648.6h0M237.9 650.9h0M241.5 648.0h0M241.8 654.5h0M240.6 650.9h0M239.3 653.0h0M240.7 653.7h0M237.1 653.9h0M239.8 643.3h0M238.8 655.6h0M240.3 645.3h0M240.0 645.9h0M240.9 652.0h0M237.5 642.3h0M242.2 644.2h0M240.1 647.5h0M239.6 647.1h0M238.8 651.6h0M243.7 646.7h0M242.0 642.7h0M239.7 649.6h0M241.7 643.7h0M240.3 655.3h0M240.0 652.5h0M235.0 654.8h0M244.4 645.9h0M241.0 655.3h0M239.6 637.9h0M243.3 645.1h0M239.7 654.4h0M237.1 650.4h0M239.9 650.1h0M240.3 653.0h0M242.3 646.9h0M238.0 650.1h0M236.6 643.1h0M241.6 647.9h0M240.5 648.3h0M237.6 652.0h0M242.2 654.4h0M234.7 648.3h0M240.5 655.0h0M236.3 650.9h0M242.1 646.4h0M240.7 644.4h0M239.1 652.6h0M240.5 660.0h0M236.9 647.5h0M240.1 652.1h0M238.1 657.0h0M240.7 652.6h0M242.7 652.9h0M238.7 652.5h0M238.7 658.4h0M236.5 650.9h0M242.0 661.1h0M239.3 647.7h0M238.2 650.4h0M242.1 651.0h0M240.5 647.8h0M239.9 656.2h0M240.0 652.4h0M240.4 644.6h0M244.0 649.2h0M235.0 652.0h0M243.0 655.5h0M239.0 647.3h0M246.3 656.6h0M241.7 644.9h0M238.3 647.3h0M241.7 652.1h0M237.9 645.5h0M242.3 646.7h0M244.2 650.7h0M235.9 649.0h0M239.0 647.8h0M238.0 643.6h0M237.1 649.3h0M238.5 650.6h0M241.2 656.1h0M238.3 650.6h0M239.5 645.1h0M239.8 644.4h0M239.3 650.6h0M240.4 654.6h0M237.3 652.7h0M239.9 654.3h0M240.5 649.6h0M239.0 651.6h0M237.1 650.9h0M239.9 652.9h0M246.6 651.6h0M240.5 650.8h0M241.8 650.2h0M234.6 651.4h0M235.9 646.3h0M243.8 648.8h0M237.6 655.0h0M234.5 649.0h0M242.7 651.6h0M237.7 650.4h0M244.8 649.5h0M242.4 650.7h0M241.6 654.8h0M239.5 651.3h0M240.0 646.9h0M241.9 646.9h0M237.2 654.5h0M287.8 647.2h0M286.5 648.8h0M272.2 651.4h0M260.2 649.9h0M272.3 648.0h0M262.8 648.1h0M280.5 652.1h0M276.3 647.5h0M262.2 649.1h0M270.2 648.9h0M261.5 648.5h0M290.0 654.6h0M269.2 649.8h0M288.1 647.6h0M284.3 651.8h0M259.2 652.9h0M271.6 651.6h0M278.2 651.9h0M274.8 643.7h0M260.8 650.1h0M283.6 647.3h0M260.6 649.1h0M262.3 651.8h0M274.7 651.7h0M261.7 648.9h0M265.4 648.1h0M289.6 649.8h0M272.2 646.7h0M273.8 647.3h0M289.5 650.7h0M283.3 648.9h0M257.5 648.4h0M269.4 647.6h0M285.5 643.5h0M288.5 652.0h0M280.2 653.0h0M287.9 651.0h0M277.6 650.5h0M267.0 649.7h0M271.8 648.7h0M285.7 649.9h0M264.1 654.2h0M283.1 649.3h0M286.9 647.3h0M284.4 648.5h0M283.2 648.9h0M277.2 650.5h0M283.1 650.2h0M284.8 653.3h0M258.4 647.7h0M272.3 653.9h0M271.5 650.5h0M274.2 648.3h0M266.1 648.6h0M277.5 647.6h0M272.1 651.1h0M273.7 646.4h0M276.6 653.1h0M271.4 649.1h0M268.3 651.2h0M258.1 651.3h0M272.2 644.0h0M273.6 649.2h0M279.5 647.2h0M263.2 649.8h0M285.0 648.3h0M259.1 646.6h0M279.1 650.3h0M281.8 648.0h0M282.1 653.9h0M264.3 649.1h0M264.0 650.5h0M288.9 649.8h0M275.0 649.1h0M270.1 648.5h0M258.0 648.5h0M257.1 646.3h0M259.0 650.0h0M278.7 645.8h0M264.1 650.9h0M260.2 649.0h0M272.1 653.7h0M276.6 651.1h0M280.8 650.7h0M268.4 643.8h0M278.7 649.9h0M282.6 653.2h0M274.4 650.0h0M271.6 645.8h0M282.2 651.4h0M271.0 648.7h0M282.9 653.1h0M272.6 647.4h0M259.3 653.4h0M264.5 650.3h0M289.8 646.8h0M279.6 646.9h0M273.6 648.9h0M281.1 651.2h0M262.8 647.2h0M259.2 651.2h0M270.1 651.0h0M281.3 647.8h0M263.2 649.9h0M257.7 651.8h0M285.4 649.5h0M286.8 648.3h0M261.9 650.7h0M257.6 648.8h0M279.5 647.7h0M284.5 650.1h0M280.6 644.9h0M267.4 650.4h0M277.3 652.2h0M274.3 653.6h0M287.7 648.2h0M261.1 651.8h0M269.5 649.0h0M283.7 649.6h0M277.9 651.4h0M284.1 647.2h0M261.0 648.7h0M262.1 650.3h0M268.1 656.1h0M283.7 649.9h0M286.1 647.5h0M287.8 649.1h0M286.1 647.1h0M260.6 648.6h0M286.7 649.7h0M260.2 651.4h0M258.3 647.9h0M265.0 652.2h0M267.4 650.3h0M262.0 653.5h0M289.6 650.7h0M286.3 650.7h0M274.3 647.6h0M287.4 645.5h0M279.4 651.4h0M283.5 652.0h0M260.4 650.5h0M264.4 645.8h0M263.1 649.8h0M263.8 648.9h0M266.1 647.8h0M283.9 645.2h0M268.2 650.6h0M280.9 649.2h0M288.0 645.9h0M262.8 650.9h0M276.3 648.8h0M282.1 646.8h0M272.0 649.8h0M260.2 652.8h0M282.9 647.2h0M274.4 647.4h0M288.3 650.3h0M270.6 652.8h0M279.1 652.3h0M280.3 649.0h0M270.9 649.7h0M268.6 649.4h0M263.7 649.7h0M284.6 649.2h0M270.9 649.1h0M271.5 650.0h0M280.7 652.3h0M276.9 651.6h0M279.6 648.3h0M259.6 645.5h0M274.7 650.5h0M278.0 643.3h0M260.3 646.9h0M261.5 645.9h0M257.9 652.7h0M267.7 647.9h0M257.6 649.8h0M285.5 649.5h0M275.5 654.2h0M272.8 650.2h0M288.4 654.5h0M267.3 649.1h0M259.7 646.2h0M269.7 648.8h0M259.8 649.9h0M266.7 647.9h0M280.2 648.8h0M276.6 655.0h0M261.8 649.3h0M273.9 648.4h0M261.9 649.5h0M265.8 646.4h0M267.0 648.3h0M257.1 651.5h0M281.5 650.6h0M271.8 647.2h0M262.6 652.7h0M287.4 652.5h0M273.4 647.4h0M276.4 649.1h0M259.5 646.3h0M288.9 650.6h0M262.8 653.1h0M287.6 649.0h0M281.9 646.2h0M273.6 651.5h0M267.7 650.2h0M277.3 644.0h0M266.8 650.3h0M257.1 650.0h0M279.1 648.9h0M258.9 648.5h0M258.2 653.5h0M277.1 651.2h0M282.7 650.5h0M277.4 650.4h0M284.1 653.5h0M281.2 656.3h0M273.6 650.9h0M280.8 650.1h0M284.7 650.4h0M283.1 651.1h0M276.8 647.7h0M274.1 647.3h0M271.8 651.5h0M263.8 647.3h0M286.5 652.0h0M274.8 653.0h0M266.8 649.5h0M276.3 646.4h0M258.8 654.9h0M259.3 654.1h0M271.5 648.9h0M287.1 650.3h0M280.2 650.8h0M287.4 649.2h0M278.8 648.6h0M267.1 650.3h0M278.1 650.0h0M281.6 649.3h0M270.5 647.9h0M274.5 649.5h0M283.0 647.9h0M275.2 653.3h0M258.1 650.1h0M262.0 653.5h0M277.1 652.1h0M269.7 647.4h0M264.5 651.6h0M289.5 647.7h0M264.5 647.2h0M264.0 654.8h0M283.8 650.9h0M276.5 647.8h0M276.2 646.2h0M286.8 650.4h0M274.0 648.0h0M270.8 649.0h0M267.0 650.2h0M263.0 647.9h0M264.0 648.8h0M273.8 648.9h0M262.4 651.3h0M264.3 649.6h0M266.7 648.3h0M283.8 651.4h0M280.9 652.8h0M289.5 650.7h0M281.8 650.0h0M266.3 645.7h0M271.6 648.9h0M265.1 646.0h0M263.0 646.9h0M257.2 650.5h0M272.9 647.4h0M258.0 655.5h0M269.6 644.2h0M272.8 651.7h0M262.6 651.3h0M282.3 649.8h0M272.0 649.3h0M282.8 648.2h0M287.8 649.6h0M284.3 643.8h0M277.4 652.5h0M270.8 649.9h0M275.4 649.3h0M288.1 651.7h0M259.6 652.2h0M260.9 649.0h0M285.7 649.4h0M283.4 647.7h0M283.2 646.7h0M257.8 649.1h0M285.3 653.2h0M283.0 648.3h0M273.9 657.0h0M285.7 649.6h0M288.3 646.3h0M259.9 649.9h0M257.9 649.3h0M287.5 645.9h0M261.6 652.2h0M283.9 647.3h0M267.0 649.9h0M272.1 651.5h0M288.2 650.0h0M265.7 645.5h0M260.1 650.8h0M265.6 652.3h0M270.8 649.1h0M266.7 653.8h0M273.6 648.1h0M259.2 648.2h0M264.4 648.8h0M263.1 650.4h0M270.2 651.5h0M274.9 649.9h0M278.1 644.6h0M273.7 651.7h0M266.8 649.3h0M284.6 650.2h0M275.5 649.3h0M289.9 648.4h0M268.2 646.1h0M270.0 652.1h0M282.4 645.9h0M267.1 649.2h0M262.6 648.4h0M247.6 646.8h0M247.9 649.7h0M249.4 653.5h0M245.7 651.6h0M256.9 650.6h0M252.6 656.0h0M254.3 646.7h0M257.3 650.2h0M255.7 651.9h0M247.5 647.0h0M249.5 646.9h0M257.0 649.1h0M249.0 648.9h0M257.2 645.2h0M251.4 652.0h0M246.3 654.4h0M244.9 643.5h0M244.5 646.8h0M257.5 654.1h0M255.5 654.0h0M251.7 647.9h0M246.3 645.7h0M245.1 650.4h0M246.0 648.1h0M252.6 646.9h0M253.1 650.7h0M255.5 650.7h0M245.3 653.7h0M253.7 647.7h0M244.7 648.6h0M244.1 650.1h0M251.4 652.2h0M249.2 648.4h0M252.1 645.9h0M244.1 652.7h0M250.3 653.3h0M248.4 648.9h0M250.8 648.9h0M254.2 647.6h0M249.9 648.7h0M250.2 644.7h0M255.2 649.6h0M253.8 645.2h0M256.5 651.6h0M248.5 653.3h0M245.5 649.8h0M250.7 650.9h0M246.5 652.6h0M254.0 652.0h0M253.8 651.9h0M251.2 647.4h0M250.2 653.5h0M244.6 648.8h0M245.9 644.8h0M245.1 652.0h0M254.7 653.7h0M249.2 645.7h0M256.0 650.5h0M252.6 651.1h0M245.7 649.1h0M252.5 644.5h0M246.7 646.3h0M250.6 650.6h0M244.9 648.9h0M246.6 652.3h0M250.7 649.9h0M255.1 654.2h0M250.9 648.2h0M255.9 651.6h0M248.0 653.7h0M256.4 652.4h0M253.6 649.5h0M253.2 656.7h0M252.2 648.1h0M253.1 647.1h0M245.1 653.3h0M252.6 643.6h0M252.5 646.8h0M245.6 643.4h0M248.4 651.1h0M250.6 649.1h0M256.8 646.8h0M253.5 645.9h0M255.8 648.2h0M250.4 652.3h0M245.1 653.8h0M248.2 649.6h0M255.2 654.7h0M244.8 650.4h0M248.4 645.6h0M283.3 650.6h0M275.6 649.5h0M272.1 650.2h0M286.8 649.6h0M276.7 652.8h0M279.8 648.9h0M284.1 649.7h0M270.8 649.8h0M272.8 651.8h0M274.2 650.1h0M280.3 650.3h0M285.1 648.5h0M283.5 647.3h0M273.2 649.6h0M278.0 649.7h0M273.9 650.3h0M279.6 652.3h0M259.3 651.1h0M277.9 651.1h0M283.0 647.4h0M278.3 645.8h0M277.2 651.7h0M274.1 650.5h0M269.1 649.0h0M264.6 648.8h0M281.0 649.9h0M281.5 650.9h0M282.8 651.5h0M276.9 650.0h0M284.0 647.2h0M271.7 652.7h0M279.7 647.2h0M278.5 646.0h0M277.6 652.1h0M277.9 649.9h0M276.3 651.1h0M275.2 651.0h0M277.0 649.8h0M279.5 650.9h0M279.6 650.3h0M274.7 648.5h0M274.5 648.4h0M274.3 649.6h0M281.1 651.8h0M280.5 650.4h0M275.1 651.5h0M274.1 651.9h0M285.3 651.0h0M281.5 646.7h0M276.6 648.8h0M286.5 644.8h0M268.5 650.7h0M276.3 647.4h0M270.6 649.4h0M277.2 648.9h0M274.0 649.0h0M265.1 648.4h0M271.3 649.5h0M263.9 651.7h0M272.2 649.8h0M279.5 652.0h0M273.2 651.1h0M270.5 649.4h0M270.5 653.0h0M277.8 648.1h0M290.8 649.7h0M267.7 652.4h0M283.2 646.0h0M272.2 646.2h0M276.7 646.1h0M266.8 650.1h0M266.8 651.5h0M273.5 653.2h0M272.7 649.9h0M266.4 646.3h0M279.8 651.3h0M276.5 649.9h0M267.3 651.2h0M278.5 649.1h0M282.9 652.1h0M268.7 652.7h0M286.2 649.7h0M270.4 652.2h0M274.0 653.5h0M277.5 646.6h0M280.4 646.9h0M285.8 649.6h0M259.7 645.7h0M277.9 649.0h0M273.5 649.4h0M274.8 650.3h0M271.0 652.6h0M287.1 649.2h0M261.3 648.1h0M280.5 647.2h0M273.2 647.6h0M278.9 651.1h0M289.2 649.3h0M274.1 647.6h0M258.1 651.1h0M280.7 653.0h0M279.6 651.3h0M281.6 651.0h0M274.3 650.8h0M266.5 652.6h0M283.3 649.3h0M281.6 648.7h0M284.8 647.4h0M271.1 648.3h0M285.7 651.0h0M282.5 645.5h0M278.1 649.0h0M265.4 649.8h0M282.2 647.8h0M269.7 646.8h0M269.9 648.7h0M277.5 648.2h0M270.0 650.0h0M278.2 648.6h0M281.4 649.6h0M278.6 649.0h0M285.5 649.2h0M278.5 652.0h0M284.5 655.1h0M274.7 650.8h0M275.4 648.9h0M273.2 650.0h0M276.1 649.2h0M280.6 647.3h0M293.3 650.5h0M281.0 649.1h0M279.9 646.3h0M271.7 650.1h0M268.3 649.7h0M276.1 649.8h0M267.3 649.1h0M275.0 649.5h0M291.5 652.9h0M275.9 648.1h0M273.9 649.7h0M276.9 648.6h0M281.4 649.8h0M278.0 655.0h0M270.4 648.3h0M273.9 649.8h0M281.8 645.1h0M273.0 647.8h0M282.3 652.2h0M285.3 647.6h0M277.9 650.2h0M278.0 647.1h0M284.7 647.1h0M271.6 651.8h0M281.1 646.8h0M284.8 649.1h0M284.0 648.6h0M280.8 650.7h0M294.5 650.7h0M274.1 647.5h0M290.9 651.3h0M259.6 637.7h0M242.1 647.7h0M229.6 641.1h0M240.8 642.0h0M259.3 642.4h0M261.7 619.7h0M279.8 631.7h0M260.6 646.9h0M299.9 636.5h0M261.8 642.8h0M236.6 639.7h0M276.5 640.7h0M228.5 632.7h0M292.3 625.2h0M254.3 647.6h0M276.5 637.0h0M292.2 618.2h0M242.5 633.3h0M275.7 630.5h0M241.7 645.8h0M288.6 634.8h0M269.0 643.4h0M297.6 631.9h0M276.5 632.1h0M283.1 643.1h0M240.9 641.7h0M286.2 645.8h0M248.7 648.5h0M249.7 629.1h0M296.5 636.8h0M271.2 625.5h0M265.1 630.1h0M276.9 644.4h0M295.0 630.2h0M248.8 624.7h0M234.8 642.1h0M278.9 647.9h0M244.5 613.7h0M255.7 622.4h0M273.8 648.3h0M264.9 611.9h0M253.8 640.0h0M286.5 646.5h0M233.1 630.1h0M281.1 616.2h0M269.5 634.9h0M255.0 621.8h0M280.0 644.0h0M274.3 641.0h0M263.3 637.5h0M288.6 640.1h0M276.8 645.3h0M271.9 643.4h0M242.0 640.8h0M291.9 632.0h0M263.9 625.7h0M297.0 628.7h0M279.9 644.1h0M248.3 630.7h0M260.8 644.7h0M261.6 642.0h0M273.7 647.9h0M266.3 633.7h0M249.1 622.0h0M280.9 645.0h0M266.6 647.3h0M275.9 641.9h0M228.9 647.9h0M296.2 613.9h0M271.4 645.0h0M299.7 636.5h0M274.9 636.0h0M243.5 640.5h0M288.4 635.6h0M245.7 637.6h0M269.4 630.9h0M249.9 644.8h0M229.9 613.1h0M288.6 635.2h0M262.1 635.5h0M240.7 630.1h0M229.4 648.5h0M268.7 642.6h0M251.4 646.3h0M233.7 628.0h0M240.9 644.3h0M237.1 618.7h0M283.4 634.3h0M274.0 636.8h0M259.3 620.9h0M256.6 627.7h0M267.3 637.1h0M279.1 629.7h0M296.9 647.2h0M292.3 635.9h0M250.1 636.5h0M260.9 634.6h0M290.4 645.0h0M258.6 645.4h0M274.1 623.2h0M251.9 643.0h0M269.7 636.7h0M299.2 620.7h0M246.5 635.7h0M238.5 636.9h0M270.8 645.6h0M242.7 639.4h0M269.4 630.9h0M264.8 632.1h0M258.7 629.8h0M260.5 640.7h0M293.6 646.6h0M287.1 631.5h0M249.9 633.4h0M278.7 645.4h0M284.8 634.5h0M289.8 643.8h0M278.1 643.0h0M243.4 648.0h0M235.1 642.1h0M250.2 631.5h0M247.2 636.4h0M281.5 642.8h0M299.7 639.3h0M294.1 628.8h0M290.5 625.7h0M259.0 621.2h0M249.5 643.8h0M286.1 645.7h0M231.3 637.6h0M288.7 638.9h0M242.6 644.3h0M257.3 635.7h0M232.1 640.6h0M280.7 637.4h0M244.1 639.0h0M295.5 624.7h0M264.3 647.6h0M283.8 641.8h0M266.2 627.8h0M263.2 639.6h0M268.1 644.3h0M299.7 625.4h0M276.6 648.0h0M228.5 647.0h0M248.1 634.9h0M258.2 634.5h0M235.2 625.8h0M258.1 645.0h0M248.2 629.9h0M299.7 646.2h0M291.8 634.3h0M277.9 645.8h0M266.4 633.8h0M260.9 621.9h0M283.2 617.8h0M285.2 645.3h0M258.5 648.9h0M244.3 626.1h0M246.0 623.1h0M237.7 633.6h0M229.6 631.5h0M299.6 646.3h0M247.9 626.5h0M231.4 646.7h0M241.4 642.9h0M272.2 642.9h0M258.1 636.7h0M256.8 637.4h0M298.4 614.8h0M232.7 629.3h0M290.5 642.8h0M234.6 641.9h0M230.8 639.2h0M270.3 640.6h0M298.7 623.3h0M240.4 641.8h0M229.2 625.6h0M288.7 631.0h0M250.9 608.9h0M266.4 648.8h0M275.5 648.3h0M231.1 629.4h0M243.6 636.8h0M240.1 627.1h0M276.5 635.5h0M234.2 633.7h0M237.4 639.3h0M282.0 638.8h0M233.4 634.3h0M250.1 636.7h0M270.3 647.3h0M255.6 627.0h0M266.1 642.8h0M279.5 644.3h0M274.7 647.4h0M232.6 640.8h0M270.2 639.8h0M289.2 648.1h0M260.8 639.1h0M275.5 641.2h0M266.4 626.3h0M259.6 646.2h0M275.0 640.2h0M240.1 623.0h0M277.4 647.6h0M234.3 631.5h0M282.1 640.8h0M277.3 643.8h0M254.9 648.7h0M253.5 640.0h0M297.8 640.8h0M273.9 641.2h0M273.7 637.9h0M258.9 640.8h0M271.1 626.4h0M264.9 635.3h0M240.3 641.6h0M259.8 641.0h0M262.0 620.8h0M269.7 644.3h0M288.0 645.6h0M255.9 627.0h0M278.5 630.1h0M295.9 631.5h0M277.5 630.1h0M253.1 628.9h0M295.7 645.2h0M265.7 647.6h0M291.2 642.5h0" fill="none" stroke="#7f7800" stroke-width="0.8" stroke-linecap="square" opacity="0.8"/>
<ellipse cx="239.7" cy="649.8" rx="3.3" ry="5.8" fill="#7f7800" filter="url(#b6)"/>
<path d="M299.2 627.9h0M274.0 618.0h0M285.6 623.7h0M297.1 613.7h0M295.5 616.5h0M295.9 628.4h0M294.4 626.4h0M277.7 614.9h0M272.7 612.7h0M282.5 630.9h0M290.5 624.4h0M274.7 626.0h0M279.3 621.7h0M299.7 619.9h0M287.5 621.5h0M293.0 624.1h0M275.5 620.9h0M278.3 618.9h0M278.6 629.6h0M273.6 614.8h0M284.6 625.0h0M284.5 628.6h0M281.4 624.3h0M287.4 616.2h0M273.0 618.2h0M298.6 614.4h0M274.2 630.0h0M282.4 614.2h0M289.9 619.6h0M296.0 629.2h0M274.3 615.0h0M276.3 622.2h0M276.5 622.7h0M290.8 622.7h0M286.3 626.0h0" fill="none" stroke="#8a5aa0" stroke-width="0.8" stroke-linecap="square" opacity="0.7"/>
</g>
<rect x="223.80" y="565.10" width="99.30" height="103.30" fill="none" stroke="#4a4a4a" stroke-width="1.0"/>
<rect x="266.50" y="593.50" width="38.00" height="40.40" fill="none" stroke="#444" stroke-width="0.7"/>
<rect x="264.90" y="591.90" width="3.20" height="3.20" fill="#e4e4e4" stroke="#333" stroke-width="0.8"/>
<rect x="264.90" y="612.10" width="3.20" height="3.20" fill="#e4e4e4" stroke="#333" stroke-width="0.8"/>
<rect x="264.90" y="632.30" width="3.20" height="3.20" fill="#e4e4e4" stroke="#333" stroke-width="0.8"/>
<rect x="283.90" y="591.90" width="3.20" height="3.20" fill="#e4e4e4" stroke="#333" stroke-width="0.8"/>
<rect x="283.90" y="632.30" width="3.20" height="3.20" fill="#e4e4e4" stroke="#333" stroke-width="0.8"/>
<rect x="302.90" y="591.90" width="3.20" height="3.20" fill="#e4e4e4" stroke="#333" stroke-width="0.8"/>
<rect x="302.90" y="612.10" width="3.20" height="3.20" fill="#e4e4e4" stroke="#333" stroke-width="0.8"/>
<rect x="302.90" y="632.30" width="3.20" height="3.20" fill="#e4e4e4" stroke="#333" stroke-width="0.8"/>
<text x="290.6" y="607.3" font-size="9.3" font-weight="bold" text-anchor="middle" fill="#b3248f"  stroke="#b3248f" stroke-width="0.3">1.0%</text>
<text x="301.5" y="581.5" font-size="5.4" font-weight="normal" text-anchor="middle" fill="#222" >P5</text>
<line x1="226.0" y1="668.4" x2="226.0" y2="672.4" stroke="#222" stroke-width="0.75"/>
<line x1="229.3113299523038" y1="668.4" x2="229.3113299523038" y2="670.6" stroke="#222" stroke-width="0.75"/>
<line x1="231.2483338019163" y1="668.4" x2="231.2483338019163" y2="670.6" stroke="#222" stroke-width="0.75"/>
<line x1="232.6226599046076" y1="668.4" x2="232.6226599046076" y2="670.6" stroke="#222" stroke-width="0.75"/>
<line x1="233.6886700476962" y1="668.4" x2="233.6886700476962" y2="670.6" stroke="#222" stroke-width="0.75"/>
<line x1="234.55966375422008" y1="668.4" x2="234.55966375422008" y2="670.6" stroke="#222" stroke-width="0.75"/>
<line x1="235.29607844015683" y1="668.4" x2="235.29607844015683" y2="670.6" stroke="#222" stroke-width="0.75"/>
<line x1="235.93398985691138" y1="668.4" x2="235.93398985691138" y2="670.6" stroke="#222" stroke-width="0.75"/>
<line x1="236.49666760383258" y1="668.4" x2="236.49666760383258" y2="670.6" stroke="#222" stroke-width="0.75"/>
<line x1="242.0" y1="668.4" x2="242.0" y2="672.4" stroke="#222" stroke-width="0.75"/>
<line x1="249.52574989159953" y1="668.4" x2="249.52574989159953" y2="670.6" stroke="#222" stroke-width="0.75"/>
<line x1="253.92803136799157" y1="668.4" x2="253.92803136799157" y2="670.6" stroke="#222" stroke-width="0.75"/>
<line x1="257.05149978319906" y1="668.4" x2="257.05149978319906" y2="670.6" stroke="#222" stroke-width="0.75"/>
<line x1="259.4742501084005" y1="668.4" x2="259.4742501084005" y2="670.6" stroke="#222" stroke-width="0.75"/>
<line x1="261.4537812595911" y1="668.4" x2="261.4537812595911" y2="670.6" stroke="#222" stroke-width="0.75"/>
<line x1="263.1274510003564" y1="668.4" x2="263.1274510003564" y2="670.6" stroke="#222" stroke-width="0.75"/>
<line x1="264.57724967479857" y1="668.4" x2="264.57724967479857" y2="670.6" stroke="#222" stroke-width="0.75"/>
<line x1="265.85606273598313" y1="668.4" x2="265.85606273598313" y2="670.6" stroke="#222" stroke-width="0.75"/>
<line x1="267.0" y1="668.4" x2="267.0" y2="672.4" stroke="#222" stroke-width="0.75"/>
<line x1="273.92368990027154" y1="668.4" x2="273.92368990027154" y2="670.6" stroke="#222" stroke-width="0.75"/>
<line x1="277.9737888585522" y1="668.4" x2="277.9737888585522" y2="670.6" stroke="#222" stroke-width="0.75"/>
<line x1="280.84737980054314" y1="668.4" x2="280.84737980054314" y2="670.6" stroke="#222" stroke-width="0.75"/>
<line x1="283.07631009972846" y1="668.4" x2="283.07631009972846" y2="670.6" stroke="#222" stroke-width="0.75"/>
<line x1="284.8974787588238" y1="668.4" x2="284.8974787588238" y2="670.6" stroke="#222" stroke-width="0.75"/>
<line x1="286.4372549203279" y1="668.4" x2="286.4372549203279" y2="670.6" stroke="#222" stroke-width="0.75"/>
<line x1="287.7710697008147" y1="668.4" x2="287.7710697008147" y2="670.6" stroke="#222" stroke-width="0.75"/>
<line x1="288.9475777171045" y1="668.4" x2="288.9475777171045" y2="670.6" stroke="#222" stroke-width="0.75"/>
<line x1="290.0" y1="668.4" x2="290.0" y2="672.4" stroke="#222" stroke-width="0.75"/>
<line x1="296.92368990027154" y1="668.4" x2="296.92368990027154" y2="670.6" stroke="#222" stroke-width="0.75"/>
<line x1="300.9737888585522" y1="668.4" x2="300.9737888585522" y2="670.6" stroke="#222" stroke-width="0.75"/>
<line x1="303.84737980054314" y1="668.4" x2="303.84737980054314" y2="670.6" stroke="#222" stroke-width="0.75"/>
<line x1="306.07631009972846" y1="668.4" x2="306.07631009972846" y2="670.6" stroke="#222" stroke-width="0.75"/>
<line x1="307.8974787588238" y1="668.4" x2="307.8974787588238" y2="670.6" stroke="#222" stroke-width="0.75"/>
<line x1="309.4372549203279" y1="668.4" x2="309.4372549203279" y2="670.6" stroke="#222" stroke-width="0.75"/>
<line x1="310.7710697008147" y1="668.4" x2="310.7710697008147" y2="670.6" stroke="#222" stroke-width="0.75"/>
<line x1="311.9475777171045" y1="668.4" x2="311.9475777171045" y2="670.6" stroke="#222" stroke-width="0.75"/>
<line x1="313.0" y1="668.4" x2="313.0" y2="672.4" stroke="#222" stroke-width="0.75"/>
<line x1="315.7092699609758" y1="668.4" x2="315.7092699609758" y2="670.6" stroke="#222" stroke-width="0.75"/>
<line x1="317.29409129247693" y1="668.4" x2="317.29409129247693" y2="670.6" stroke="#222" stroke-width="0.75"/>
<line x1="318.41853992195166" y1="668.4" x2="318.41853992195166" y2="670.6" stroke="#222" stroke-width="0.75"/>
<line x1="319.2907300390242" y1="668.4" x2="319.2907300390242" y2="670.6" stroke="#222" stroke-width="0.75"/>
<line x1="320.0033612534528" y1="668.4" x2="320.0033612534528" y2="670.6" stroke="#222" stroke-width="0.75"/>
<line x1="320.6058823601283" y1="668.4" x2="320.6058823601283" y2="670.6" stroke="#222" stroke-width="0.75"/>
<line x1="321.12780988292747" y1="668.4" x2="321.12780988292747" y2="670.6" stroke="#222" stroke-width="0.75"/>
<line x1="321.5881825849539" y1="668.4" x2="321.5881825849539" y2="670.6" stroke="#222" stroke-width="0.75"/>
<line x1="219.8" y1="666.0" x2="223.8" y2="666.0" stroke="#222" stroke-width="0.75"/>
<line x1="221.60000000000002" y1="663.5917600346881" x2="223.8" y2="663.5917600346881" stroke="#222" stroke-width="0.75"/>
<line x1="221.60000000000002" y1="662.1830299622427" x2="223.8" y2="662.1830299622427" stroke="#222" stroke-width="0.75"/>
<line x1="221.60000000000002" y1="661.1835200693763" x2="223.8" y2="661.1835200693763" stroke="#222" stroke-width="0.75"/>
<line x1="221.60000000000002" y1="660.4082399653119" x2="223.8" y2="660.4082399653119" stroke="#222" stroke-width="0.75"/>
<line x1="221.60000000000002" y1="659.7747899969308" x2="223.8" y2="659.7747899969308" stroke="#222" stroke-width="0.75"/>
<line x1="221.60000000000002" y1="659.239215679886" x2="223.8" y2="659.239215679886" stroke="#222" stroke-width="0.75"/>
<line x1="221.60000000000002" y1="658.7752801040644" x2="223.8" y2="658.7752801040644" stroke="#222" stroke-width="0.75"/>
<line x1="221.60000000000002" y1="658.3660599244854" x2="223.8" y2="658.3660599244854" stroke="#222" stroke-width="0.75"/>
<line x1="219.8" y1="646.0" x2="223.8" y2="646.0" stroke="#222" stroke-width="0.75"/>
<line x1="221.60000000000002" y1="638.1732201127365" x2="223.8" y2="638.1732201127365" stroke="#222" stroke-width="0.75"/>
<line x1="221.60000000000002" y1="633.5948473772888" x2="223.8" y2="633.5948473772888" stroke="#222" stroke-width="0.75"/>
<line x1="221.60000000000002" y1="630.346440225473" x2="223.8" y2="630.346440225473" stroke="#222" stroke-width="0.75"/>
<line x1="221.60000000000002" y1="627.8267798872635" x2="223.8" y2="627.8267798872635" stroke="#222" stroke-width="0.75"/>
<line x1="221.60000000000002" y1="625.7680674900253" x2="223.8" y2="625.7680674900253" stroke="#222" stroke-width="0.75"/>
<line x1="221.60000000000002" y1="624.0274509596293" x2="223.8" y2="624.0274509596293" stroke="#222" stroke-width="0.75"/>
<line x1="221.60000000000002" y1="622.5196603382095" x2="223.8" y2="622.5196603382095" stroke="#222" stroke-width="0.75"/>
<line x1="221.60000000000002" y1="621.1896947545775" x2="223.8" y2="621.1896947545775" stroke="#222" stroke-width="0.75"/>
<line x1="219.8" y1="620.0" x2="223.8" y2="620.0" stroke="#222" stroke-width="0.75"/>
<line x1="221.60000000000002" y1="613.0763100997284" x2="223.8" y2="613.0763100997284" stroke="#222" stroke-width="0.75"/>
<line x1="221.60000000000002" y1="609.0262111414478" x2="223.8" y2="609.0262111414478" stroke="#222" stroke-width="0.75"/>
<line x1="221.60000000000002" y1="606.1526201994569" x2="223.8" y2="606.1526201994569" stroke="#222" stroke-width="0.75"/>
<line x1="221.60000000000002" y1="603.9236899002716" x2="223.8" y2="603.9236899002716" stroke="#222" stroke-width="0.75"/>
<line x1="221.60000000000002" y1="602.1025212411762" x2="223.8" y2="602.1025212411762" stroke="#222" stroke-width="0.75"/>
<line x1="221.60000000000002" y1="600.5627450796721" x2="223.8" y2="600.5627450796721" stroke="#222" stroke-width="0.75"/>
<line x1="221.60000000000002" y1="599.2289302991853" x2="223.8" y2="599.2289302991853" stroke="#222" stroke-width="0.75"/>
<line x1="221.60000000000002" y1="598.0524222828956" x2="223.8" y2="598.0524222828956" stroke="#222" stroke-width="0.75"/>
<line x1="219.8" y1="597.0" x2="223.8" y2="597.0" stroke="#222" stroke-width="0.75"/>
<line x1="221.60000000000002" y1="590.0763100997284" x2="223.8" y2="590.0763100997284" stroke="#222" stroke-width="0.75"/>
<line x1="221.60000000000002" y1="586.0262111414478" x2="223.8" y2="586.0262111414478" stroke="#222" stroke-width="0.75"/>
<line x1="221.60000000000002" y1="583.1526201994569" x2="223.8" y2="583.1526201994569" stroke="#222" stroke-width="0.75"/>
<line x1="221.60000000000002" y1="580.9236899002716" x2="223.8" y2="580.9236899002716" stroke="#222" stroke-width="0.75"/>
<line x1="221.60000000000002" y1="579.1025212411762" x2="223.8" y2="579.1025212411762" stroke="#222" stroke-width="0.75"/>
<line x1="221.60000000000002" y1="577.5627450796721" x2="223.8" y2="577.5627450796721" stroke="#222" stroke-width="0.75"/>
<line x1="221.60000000000002" y1="576.2289302991853" x2="223.8" y2="576.2289302991853" stroke="#222" stroke-width="0.75"/>
<line x1="221.60000000000002" y1="575.0524222828956" x2="223.8" y2="575.0524222828956" stroke="#222" stroke-width="0.75"/>
<line x1="219.8" y1="574.0" x2="223.8" y2="574.0" stroke="#222" stroke-width="0.75"/>
<line x1="221.60000000000002" y1="571.5917600346881" x2="223.8" y2="571.5917600346881" stroke="#222" stroke-width="0.75"/>
<line x1="221.60000000000002" y1="570.1830299622427" x2="223.8" y2="570.1830299622427" stroke="#222" stroke-width="0.75"/>
<line x1="221.60000000000002" y1="569.1835200693763" x2="223.8" y2="569.1835200693763" stroke="#222" stroke-width="0.75"/>
<line x1="221.60000000000002" y1="568.4082399653119" x2="223.8" y2="568.4082399653119" stroke="#222" stroke-width="0.75"/>
<line x1="221.60000000000002" y1="567.7747899969308" x2="223.8" y2="567.7747899969308" stroke="#222" stroke-width="0.75"/>
<line x1="221.60000000000002" y1="567.239215679886" x2="223.8" y2="567.239215679886" stroke="#222" stroke-width="0.75"/>
<line x1="221.60000000000002" y1="566.7752801040644" x2="223.8" y2="566.7752801040644" stroke="#222" stroke-width="0.75"/>
<line x1="221.60000000000002" y1="566.3660599244854" x2="223.8" y2="566.3660599244854" stroke="#222" stroke-width="0.75"/>
<line x1="235.5" y1="668.4" x2="235.5" y2="670.8" stroke="#222" stroke-width="0.6"/>
<line x1="236.4" y1="668.4" x2="236.4" y2="670.8" stroke="#222" stroke-width="0.6"/>
<line x1="237.3" y1="668.4" x2="237.3" y2="670.8" stroke="#222" stroke-width="0.6"/>
<line x1="238.20000000000002" y1="668.4" x2="238.20000000000002" y2="670.8" stroke="#222" stroke-width="0.6"/>
<line x1="239.10000000000002" y1="668.4" x2="239.10000000000002" y2="670.8" stroke="#222" stroke-width="0.6"/>
<line x1="240.00000000000003" y1="668.4" x2="240.00000000000003" y2="670.8" stroke="#222" stroke-width="0.6"/>
<line x1="240.90000000000003" y1="668.4" x2="240.90000000000003" y2="670.8" stroke="#222" stroke-width="0.6"/>
<line x1="241.80000000000004" y1="668.4" x2="241.80000000000004" y2="670.8" stroke="#222" stroke-width="0.6"/>
<line x1="242.70000000000005" y1="668.4" x2="242.70000000000005" y2="670.8" stroke="#222" stroke-width="0.6"/>
<line x1="243.60000000000005" y1="668.4" x2="243.60000000000005" y2="670.8" stroke="#222" stroke-width="0.6"/>
<line x1="239.5" y1="668.4" x2="239.5" y2="672.4" stroke="#111" stroke-width="1.2"/>
<line x1="221.4" y1="661" x2="223.8" y2="661" stroke="#222" stroke-width="0.6"/>
<line x1="221.4" y1="660.1" x2="223.8" y2="660.1" stroke="#222" stroke-width="0.6"/>
<line x1="221.4" y1="659.2" x2="223.8" y2="659.2" stroke="#222" stroke-width="0.6"/>
<line x1="221.4" y1="658.3000000000001" x2="223.8" y2="658.3000000000001" stroke="#222" stroke-width="0.6"/>
<line x1="221.4" y1="657.4000000000001" x2="223.8" y2="657.4000000000001" stroke="#222" stroke-width="0.6"/>
<line x1="221.4" y1="656.5000000000001" x2="223.8" y2="656.5000000000001" stroke="#222" stroke-width="0.6"/>
<line x1="221.4" y1="655.6000000000001" x2="223.8" y2="655.6000000000001" stroke="#222" stroke-width="0.6"/>
<line x1="221.4" y1="654.7000000000002" x2="223.8" y2="654.7000000000002" stroke="#222" stroke-width="0.6"/>
<line x1="221.4" y1="653.8000000000002" x2="223.8" y2="653.8000000000002" stroke="#222" stroke-width="0.6"/>
<line x1="221.4" y1="652.9000000000002" x2="223.8" y2="652.9000000000002" stroke="#222" stroke-width="0.6"/>
<line x1="221.4" y1="652.0000000000002" x2="223.8" y2="652.0000000000002" stroke="#222" stroke-width="0.6"/>
<line x1="221.4" y1="651.1000000000003" x2="223.8" y2="651.1000000000003" stroke="#222" stroke-width="0.6"/>
<line x1="221.4" y1="650.2000000000003" x2="223.8" y2="650.2000000000003" stroke="#222" stroke-width="0.6"/>
<line x1="221.4" y1="649.3000000000003" x2="223.8" y2="649.3000000000003" stroke="#222" stroke-width="0.6"/>
<line x1="221.4" y1="648.4000000000003" x2="223.8" y2="648.4000000000003" stroke="#222" stroke-width="0.6"/>
<line x1="221.4" y1="647.5000000000003" x2="223.8" y2="647.5000000000003" stroke="#222" stroke-width="0.6"/>
<line x1="221.4" y1="646.6000000000004" x2="223.8" y2="646.6000000000004" stroke="#222" stroke-width="0.6"/>
<line x1="221.4" y1="645.7000000000004" x2="223.8" y2="645.7000000000004" stroke="#222" stroke-width="0.6"/>
<line x1="221.4" y1="644.8000000000004" x2="223.8" y2="644.8000000000004" stroke="#222" stroke-width="0.6"/>
<line x1="221.4" y1="643.9000000000004" x2="223.8" y2="643.9000000000004" stroke="#222" stroke-width="0.6"/>
<line x1="221.4" y1="643.0000000000005" x2="223.8" y2="643.0000000000005" stroke="#222" stroke-width="0.6"/>
<line x1="219.60000000000002" y1="652.0" x2="223.8" y2="652.0" stroke="#111" stroke-width="1.2"/>
<text x="223.3" y="681.5" font-size="4.8" font-weight="normal" text-anchor="middle" fill="#222" >-202</text>
<text x="238.5" y="678.4" font-size="4.8" font-weight="normal" text-anchor="middle" fill="#222" >0</text>
<text x="267.3" y="678.4" font-size="4.8" font-weight="normal" text-anchor="middle" fill="#222" >10<tspan dy="-2.6" font-size="3.4">3</tspan></text>
<text x="290.2" y="678.4" font-size="4.8" font-weight="normal" text-anchor="middle" fill="#222" >10<tspan dy="-2.6" font-size="3.4">4</tspan></text>
<text x="313" y="678.4" font-size="4.8" font-weight="normal" text-anchor="middle" fill="#222" >10<tspan dy="-2.6" font-size="3.4">5</tspan></text>
<text x="218.60000000000002" y="574.4" font-size="4.8" font-weight="normal" text-anchor="middle" fill="#222" transform="rotate(-90 218.60000000000002 574.4)" >10<tspan dy="-2.6" font-size="3.4">5</tspan></text>
<text x="218.60000000000002" y="596.7" font-size="4.8" font-weight="normal" text-anchor="middle" fill="#222" transform="rotate(-90 218.60000000000002 596.7)" >10<tspan dy="-2.6" font-size="3.4">4</tspan></text>
<text x="218.60000000000002" y="619.6" font-size="4.8" font-weight="normal" text-anchor="middle" fill="#222" transform="rotate(-90 218.60000000000002 619.6)" >10<tspan dy="-2.6" font-size="3.4">3</tspan></text>
<text x="218.60000000000002" y="649" font-size="4.8" font-weight="normal" text-anchor="middle" fill="#222" transform="rotate(-90 218.60000000000002 649)" >10<tspan dy="-2.6" font-size="3.4">2</tspan></text>
<text x="213.0" y="667.9" font-size="4.8" font-weight="normal" text-anchor="middle" fill="#222" transform="rotate(-90 213.0 667.9)" >-266</text>
<text x="271.4" y="684.8" font-size="6.3" font-weight="normal" text-anchor="middle" fill="#222" textLength="48.5" lengthAdjust="spacingAndGlyphs" >SCA1 PE-Cy7-A</text>
<text x="207.8" y="618" font-size="5.8" font-weight="normal" text-anchor="middle" fill="#222" transform="rotate(-90 207.8 618)" textLength="32" lengthAdjust="spacingAndGlyphs" >C-KIT APC-A</text>
<rect x="355.60" y="565.10" width="96.40" height="102.20" fill="none" stroke="#4a4a4a" stroke-width="1.0"/>
<line x1="382.5" y1="565.1" x2="382.5" y2="667.3" stroke="#444" stroke-width="0.8"/>
<line x1="355.6" y1="625.5" x2="452" y2="625.5" stroke="#444" stroke-width="0.8"/>
<rect x="380.90" y="563.50" width="3.20" height="3.20" fill="#e4e4e4" stroke="#333" stroke-width="0.8"/>
<rect x="380.90" y="593.20" width="3.20" height="3.20" fill="#e4e4e4" stroke="#333" stroke-width="0.8"/>
<rect x="366.90" y="623.90" width="3.20" height="3.20" fill="#e4e4e4" stroke="#333" stroke-width="0.8"/>
<rect x="380.90" y="623.90" width="3.20" height="3.20" fill="#e4e4e4" stroke="#333" stroke-width="0.8"/>
<rect x="415.90" y="623.90" width="3.20" height="3.20" fill="#e4e4e4" stroke="#333" stroke-width="0.8"/>
<rect x="450.40" y="623.90" width="3.20" height="3.20" fill="#e4e4e4" stroke="#333" stroke-width="0.8"/>
<rect x="380.90" y="644.90" width="3.20" height="3.20" fill="#e4e4e4" stroke="#333" stroke-width="0.8"/>
<path d="M375.8 646.7h0M375.7 647.4h0M375.6 651.1h0M375.5 643.1h0M376.5 647.4h0M375.6 648.2h0M375.7 650.4h0M375.7 653.5h0M375.3 647.8h0M375.6 651.4h0M375.6 652.5h0M375.7 642.9h0M375.6 648.9h0M376.1 650.6h0M376.1 646.1h0M375.2 647.5h0M377.0 647.9h0M374.4 652.7h0M375.7 650.1h0M375.7 650.1h0M375.7 648.0h0M375.6 649.4h0" fill="none" stroke="#c030c0" stroke-width="0.8" stroke-linecap="square" opacity="0.85"/>
<path d="M373.9 617.7h0M375.3 591.5h0M379.8 612.3h0M373.4 602.4h0M378.5 606.6h0M373.2 601.6h0M373.8 592.9h0M377.2 607.0h0M378.4 603.2h0M371.5 607.7h0M377.7 590.9h0M379.6 597.5h0M376.2 602.6h0M375.7 599.7h0M375.1 607.8h0M377.3 606.2h0M378.0 606.1h0M373.0 598.8h0" fill="none" stroke="#999" stroke-width="0.8" stroke-linecap="square" opacity="0.7"/>
<text x="368.9" y="581.2" font-size="9.3" font-weight="bold" text-anchor="middle" fill="#b3248f" textLength="25.3" lengthAdjust="spacingAndGlyphs"  stroke="#b3248f" stroke-width="0.3">14.5%</text>
<text x="418.5" y="581.2" font-size="9.3" font-weight="bold" text-anchor="middle" fill="#b3248f"  stroke="#b3248f" stroke-width="0.3">3.6%</text>
<line x1="357.0" y1="667.3" x2="357.0" y2="671.3" stroke="#222" stroke-width="0.75"/>
<line x1="361.21441993929574" y1="667.3" x2="361.21441993929574" y2="669.5" stroke="#222" stroke-width="0.75"/>
<line x1="363.6796975660753" y1="667.3" x2="363.6796975660753" y2="669.5" stroke="#222" stroke-width="0.75"/>
<line x1="365.4288398785915" y1="667.3" x2="365.4288398785915" y2="669.5" stroke="#222" stroke-width="0.75"/>
<line x1="366.78558006070426" y1="667.3" x2="366.78558006070426" y2="669.5" stroke="#222" stroke-width="0.75"/>
<line x1="367.894117505371" y1="667.3" x2="367.894117505371" y2="669.5" stroke="#222" stroke-width="0.75"/>
<line x1="368.8313725601996" y1="667.3" x2="368.8313725601996" y2="669.5" stroke="#222" stroke-width="0.75"/>
<line x1="369.6432598178872" y1="667.3" x2="369.6432598178872" y2="669.5" stroke="#222" stroke-width="0.75"/>
<line x1="370.35939513215055" y1="667.3" x2="370.35939513215055" y2="669.5" stroke="#222" stroke-width="0.75"/>
<line x1="376.0" y1="667.3" x2="376.0" y2="671.3" stroke="#222" stroke-width="0.75"/>
<line x1="381.7195699176156" y1="667.3" x2="381.7195699176156" y2="669.5" stroke="#222" stroke-width="0.75"/>
<line x1="385.06530383967356" y1="667.3" x2="385.06530383967356" y2="669.5" stroke="#222" stroke-width="0.75"/>
<line x1="387.4391398352313" y1="667.3" x2="387.4391398352313" y2="669.5" stroke="#222" stroke-width="0.75"/>
<line x1="389.2804300823844" y1="667.3" x2="389.2804300823844" y2="669.5" stroke="#222" stroke-width="0.75"/>
<line x1="390.78487375728923" y1="667.3" x2="390.78487375728923" y2="669.5" stroke="#222" stroke-width="0.75"/>
<line x1="392.05686276027086" y1="667.3" x2="392.05686276027086" y2="669.5" stroke="#222" stroke-width="0.75"/>
<line x1="393.1587097528469" y1="667.3" x2="393.1587097528469" y2="669.5" stroke="#222" stroke-width="0.75"/>
<line x1="394.1306076793472" y1="667.3" x2="394.1306076793472" y2="669.5" stroke="#222" stroke-width="0.75"/>
<line x1="395.0" y1="667.3" x2="395.0" y2="671.3" stroke="#222" stroke-width="0.75"/>
<line x1="402.5257498915995" y1="667.3" x2="402.5257498915995" y2="669.5" stroke="#222" stroke-width="0.75"/>
<line x1="406.92803136799154" y1="667.3" x2="406.92803136799154" y2="669.5" stroke="#222" stroke-width="0.75"/>
<line x1="410.05149978319906" y1="667.3" x2="410.05149978319906" y2="669.5" stroke="#222" stroke-width="0.75"/>
<line x1="412.4742501084005" y1="667.3" x2="412.4742501084005" y2="669.5" stroke="#222" stroke-width="0.75"/>
<line x1="414.4537812595911" y1="667.3" x2="414.4537812595911" y2="669.5" stroke="#222" stroke-width="0.75"/>
<line x1="416.1274510003564" y1="667.3" x2="416.1274510003564" y2="669.5" stroke="#222" stroke-width="0.75"/>
<line x1="417.57724967479857" y1="667.3" x2="417.57724967479857" y2="669.5" stroke="#222" stroke-width="0.75"/>
<line x1="418.85606273598313" y1="667.3" x2="418.85606273598313" y2="669.5" stroke="#222" stroke-width="0.75"/>
<line x1="420.0" y1="667.3" x2="420.0" y2="671.3" stroke="#222" stroke-width="0.75"/>
<line x1="427.22471989593555" y1="667.3" x2="427.22471989593555" y2="669.5" stroke="#222" stroke-width="0.75"/>
<line x1="431.4509101132719" y1="667.3" x2="431.4509101132719" y2="669.5" stroke="#222" stroke-width="0.75"/>
<line x1="434.4494397918711" y1="667.3" x2="434.4494397918711" y2="669.5" stroke="#222" stroke-width="0.75"/>
<line x1="436.77528010406445" y1="667.3" x2="436.77528010406445" y2="669.5" stroke="#222" stroke-width="0.75"/>
<line x1="438.67563000920745" y1="667.3" x2="438.67563000920745" y2="669.5" stroke="#222" stroke-width="0.75"/>
<line x1="440.28235296034217" y1="667.3" x2="440.28235296034217" y2="669.5" stroke="#222" stroke-width="0.75"/>
<line x1="441.67415968780665" y1="667.3" x2="441.67415968780665" y2="669.5" stroke="#222" stroke-width="0.75"/>
<line x1="442.9018202265438" y1="667.3" x2="442.9018202265438" y2="669.5" stroke="#222" stroke-width="0.75"/>
<line x1="444.0" y1="667.3" x2="444.0" y2="671.3" stroke="#222" stroke-width="0.75"/>
<line x1="446.40823996531185" y1="667.3" x2="446.40823996531185" y2="669.5" stroke="#222" stroke-width="0.75"/>
<line x1="447.8169700377573" y1="667.3" x2="447.8169700377573" y2="669.5" stroke="#222" stroke-width="0.75"/>
<line x1="448.8164799306237" y1="667.3" x2="448.8164799306237" y2="669.5" stroke="#222" stroke-width="0.75"/>
<line x1="449.59176003468815" y1="667.3" x2="449.59176003468815" y2="669.5" stroke="#222" stroke-width="0.75"/>
<line x1="450.22521000306915" y1="667.3" x2="450.22521000306915" y2="669.5" stroke="#222" stroke-width="0.75"/>
<line x1="450.76078432011406" y1="667.3" x2="450.76078432011406" y2="669.5" stroke="#222" stroke-width="0.75"/>
<line x1="451.22471989593555" y1="667.3" x2="451.22471989593555" y2="669.5" stroke="#222" stroke-width="0.75"/>
<line x1="451.6339400755146" y1="667.3" x2="451.6339400755146" y2="669.5" stroke="#222" stroke-width="0.75"/>
<line x1="351.6" y1="665.0" x2="355.6" y2="665.0" stroke="#222" stroke-width="0.75"/>
<line x1="353.40000000000003" y1="662.8927900303521" x2="355.6" y2="662.8927900303521" stroke="#222" stroke-width="0.75"/>
<line x1="353.40000000000003" y1="661.6601512169624" x2="355.6" y2="661.6601512169624" stroke="#222" stroke-width="0.75"/>
<line x1="353.40000000000003" y1="660.7855800607043" x2="355.6" y2="660.7855800607043" stroke="#222" stroke-width="0.75"/>
<line x1="353.40000000000003" y1="660.1072099696479" x2="355.6" y2="660.1072099696479" stroke="#222" stroke-width="0.75"/>
<line x1="353.40000000000003" y1="659.5529412473145" x2="355.6" y2="659.5529412473145" stroke="#222" stroke-width="0.75"/>
<line x1="353.40000000000003" y1="659.0843137199003" x2="355.6" y2="659.0843137199003" stroke="#222" stroke-width="0.75"/>
<line x1="353.40000000000003" y1="658.6783700910564" x2="355.6" y2="658.6783700910564" stroke="#222" stroke-width="0.75"/>
<line x1="353.40000000000003" y1="658.3203024339248" x2="355.6" y2="658.3203024339248" stroke="#222" stroke-width="0.75"/>
<line x1="351.6" y1="646.0" x2="355.6" y2="646.0" stroke="#222" stroke-width="0.75"/>
<line x1="353.40000000000003" y1="638.1732201127365" x2="355.6" y2="638.1732201127365" stroke="#222" stroke-width="0.75"/>
<line x1="353.40000000000003" y1="633.5948473772888" x2="355.6" y2="633.5948473772888" stroke="#222" stroke-width="0.75"/>
<line x1="353.40000000000003" y1="630.346440225473" x2="355.6" y2="630.346440225473" stroke="#222" stroke-width="0.75"/>
<line x1="353.40000000000003" y1="627.8267798872635" x2="355.6" y2="627.8267798872635" stroke="#222" stroke-width="0.75"/>
<line x1="353.40000000000003" y1="625.7680674900253" x2="355.6" y2="625.7680674900253" stroke="#222" stroke-width="0.75"/>
<line x1="353.40000000000003" y1="624.0274509596293" x2="355.6" y2="624.0274509596293" stroke="#222" stroke-width="0.75"/>
<line x1="353.40000000000003" y1="622.5196603382095" x2="355.6" y2="622.5196603382095" stroke="#222" stroke-width="0.75"/>
<line x1="353.40000000000003" y1="621.1896947545775" x2="355.6" y2="621.1896947545775" stroke="#222" stroke-width="0.75"/>
<line x1="351.6" y1="620.0" x2="355.6" y2="620.0" stroke="#222" stroke-width="0.75"/>
<line x1="353.40000000000003" y1="613.0763100997284" x2="355.6" y2="613.0763100997284" stroke="#222" stroke-width="0.75"/>
<line x1="353.40000000000003" y1="609.0262111414478" x2="355.6" y2="609.0262111414478" stroke="#222" stroke-width="0.75"/>
<line x1="353.40000000000003" y1="606.1526201994569" x2="355.6" y2="606.1526201994569" stroke="#222" stroke-width="0.75"/>
<line x1="353.40000000000003" y1="603.9236899002716" x2="355.6" y2="603.9236899002716" stroke="#222" stroke-width="0.75"/>
<line x1="353.40000000000003" y1="602.1025212411762" x2="355.6" y2="602.1025212411762" stroke="#222" stroke-width="0.75"/>
<line x1="353.40000000000003" y1="600.5627450796721" x2="355.6" y2="600.5627450796721" stroke="#222" stroke-width="0.75"/>
<line x1="353.40000000000003" y1="599.2289302991853" x2="355.6" y2="599.2289302991853" stroke="#222" stroke-width="0.75"/>
<line x1="353.40000000000003" y1="598.0524222828956" x2="355.6" y2="598.0524222828956" stroke="#222" stroke-width="0.75"/>
<line x1="351.6" y1="597.0" x2="355.6" y2="597.0" stroke="#222" stroke-width="0.75"/>
<line x1="353.40000000000003" y1="590.0763100997284" x2="355.6" y2="590.0763100997284" stroke="#222" stroke-width="0.75"/>
<line x1="353.40000000000003" y1="586.0262111414478" x2="355.6" y2="586.0262111414478" stroke="#222" stroke-width="0.75"/>
<line x1="353.40000000000003" y1="583.1526201994569" x2="355.6" y2="583.1526201994569" stroke="#222" stroke-width="0.75"/>
<line x1="353.40000000000003" y1="580.9236899002716" x2="355.6" y2="580.9236899002716" stroke="#222" stroke-width="0.75"/>
<line x1="353.40000000000003" y1="579.1025212411762" x2="355.6" y2="579.1025212411762" stroke="#222" stroke-width="0.75"/>
<line x1="353.40000000000003" y1="577.5627450796721" x2="355.6" y2="577.5627450796721" stroke="#222" stroke-width="0.75"/>
<line x1="353.40000000000003" y1="576.2289302991853" x2="355.6" y2="576.2289302991853" stroke="#222" stroke-width="0.75"/>
<line x1="353.40000000000003" y1="575.0524222828956" x2="355.6" y2="575.0524222828956" stroke="#222" stroke-width="0.75"/>
<line x1="351.6" y1="574.0" x2="355.6" y2="574.0" stroke="#222" stroke-width="0.75"/>
<line x1="353.40000000000003" y1="571.5917600346881" x2="355.6" y2="571.5917600346881" stroke="#222" stroke-width="0.75"/>
<line x1="353.40000000000003" y1="570.1830299622427" x2="355.6" y2="570.1830299622427" stroke="#222" stroke-width="0.75"/>
<line x1="353.40000000000003" y1="569.1835200693763" x2="355.6" y2="569.1835200693763" stroke="#222" stroke-width="0.75"/>
<line x1="353.40000000000003" y1="568.4082399653119" x2="355.6" y2="568.4082399653119" stroke="#222" stroke-width="0.75"/>
<line x1="353.40000000000003" y1="567.7747899969308" x2="355.6" y2="567.7747899969308" stroke="#222" stroke-width="0.75"/>
<line x1="353.40000000000003" y1="567.239215679886" x2="355.6" y2="567.239215679886" stroke="#222" stroke-width="0.75"/>
<line x1="353.40000000000003" y1="566.7752801040644" x2="355.6" y2="566.7752801040644" stroke="#222" stroke-width="0.75"/>
<line x1="353.40000000000003" y1="566.3660599244854" x2="355.6" y2="566.3660599244854" stroke="#222" stroke-width="0.75"/>
<line x1="369.5" y1="667.3" x2="369.5" y2="669.6999999999999" stroke="#222" stroke-width="0.6"/>
<line x1="370.4" y1="667.3" x2="370.4" y2="669.6999999999999" stroke="#222" stroke-width="0.6"/>
<line x1="371.29999999999995" y1="667.3" x2="371.29999999999995" y2="669.6999999999999" stroke="#222" stroke-width="0.6"/>
<line x1="372.19999999999993" y1="667.3" x2="372.19999999999993" y2="669.6999999999999" stroke="#222" stroke-width="0.6"/>
<line x1="373.0999999999999" y1="667.3" x2="373.0999999999999" y2="669.6999999999999" stroke="#222" stroke-width="0.6"/>
<line x1="373.9999999999999" y1="667.3" x2="373.9999999999999" y2="669.6999999999999" stroke="#222" stroke-width="0.6"/>
<line x1="374.89999999999986" y1="667.3" x2="374.89999999999986" y2="669.6999999999999" stroke="#222" stroke-width="0.6"/>
<line x1="375.79999999999984" y1="667.3" x2="375.79999999999984" y2="669.6999999999999" stroke="#222" stroke-width="0.6"/>
<line x1="376.6999999999998" y1="667.3" x2="376.6999999999998" y2="669.6999999999999" stroke="#222" stroke-width="0.6"/>
<line x1="377.5999999999998" y1="667.3" x2="377.5999999999998" y2="669.6999999999999" stroke="#222" stroke-width="0.6"/>
<line x1="378.4999999999998" y1="667.3" x2="378.4999999999998" y2="669.6999999999999" stroke="#222" stroke-width="0.6"/>
<line x1="373.5" y1="667.3" x2="373.5" y2="671.3" stroke="#111" stroke-width="1.2"/>
<line x1="353.20000000000005" y1="661" x2="355.6" y2="661" stroke="#222" stroke-width="0.6"/>
<line x1="353.20000000000005" y1="660.1" x2="355.6" y2="660.1" stroke="#222" stroke-width="0.6"/>
<line x1="353.20000000000005" y1="659.2" x2="355.6" y2="659.2" stroke="#222" stroke-width="0.6"/>
<line x1="353.20000000000005" y1="658.3000000000001" x2="355.6" y2="658.3000000000001" stroke="#222" stroke-width="0.6"/>
<line x1="353.20000000000005" y1="657.4000000000001" x2="355.6" y2="657.4000000000001" stroke="#222" stroke-width="0.6"/>
<line x1="353.20000000000005" y1="656.5000000000001" x2="355.6" y2="656.5000000000001" stroke="#222" stroke-width="0.6"/>
<line x1="353.20000000000005" y1="655.6000000000001" x2="355.6" y2="655.6000000000001" stroke="#222" stroke-width="0.6"/>
<line x1="353.20000000000005" y1="654.7000000000002" x2="355.6" y2="654.7000000000002" stroke="#222" stroke-width="0.6"/>
<line x1="353.20000000000005" y1="653.8000000000002" x2="355.6" y2="653.8000000000002" stroke="#222" stroke-width="0.6"/>
<line x1="353.20000000000005" y1="652.9000000000002" x2="355.6" y2="652.9000000000002" stroke="#222" stroke-width="0.6"/>
<line x1="353.20000000000005" y1="652.0000000000002" x2="355.6" y2="652.0000000000002" stroke="#222" stroke-width="0.6"/>
<line x1="353.20000000000005" y1="651.1000000000003" x2="355.6" y2="651.1000000000003" stroke="#222" stroke-width="0.6"/>
<line x1="353.20000000000005" y1="650.2000000000003" x2="355.6" y2="650.2000000000003" stroke="#222" stroke-width="0.6"/>
<line x1="353.20000000000005" y1="649.3000000000003" x2="355.6" y2="649.3000000000003" stroke="#222" stroke-width="0.6"/>
<line x1="353.20000000000005" y1="648.4000000000003" x2="355.6" y2="648.4000000000003" stroke="#222" stroke-width="0.6"/>
<line x1="353.20000000000005" y1="647.5000000000003" x2="355.6" y2="647.5000000000003" stroke="#222" stroke-width="0.6"/>
<line x1="353.20000000000005" y1="646.6000000000004" x2="355.6" y2="646.6000000000004" stroke="#222" stroke-width="0.6"/>
<line x1="353.20000000000005" y1="645.7000000000004" x2="355.6" y2="645.7000000000004" stroke="#222" stroke-width="0.6"/>
<line x1="353.20000000000005" y1="644.8000000000004" x2="355.6" y2="644.8000000000004" stroke="#222" stroke-width="0.6"/>
<line x1="353.20000000000005" y1="643.9000000000004" x2="355.6" y2="643.9000000000004" stroke="#222" stroke-width="0.6"/>
<line x1="353.20000000000005" y1="643.0000000000005" x2="355.6" y2="643.0000000000005" stroke="#222" stroke-width="0.6"/>
<line x1="351.40000000000003" y1="652.0" x2="355.6" y2="652.0" stroke="#111" stroke-width="1.2"/>
<text x="355.1" y="680.4" font-size="4.8" font-weight="normal" text-anchor="middle" fill="#222" >-794</text>
<text x="373.8" y="677.3" font-size="4.8" font-weight="normal" text-anchor="middle" fill="#222" >0</text>
<text x="395.4" y="677.3" font-size="4.8" font-weight="normal" text-anchor="middle" fill="#222" >10<tspan dy="-2.6" font-size="3.4">3</tspan></text>
<text x="420.2" y="677.3" font-size="4.8" font-weight="normal" text-anchor="middle" fill="#222" >10<tspan dy="-2.6" font-size="3.4">4</tspan></text>
<text x="443.9" y="677.3" font-size="4.8" font-weight="normal" text-anchor="middle" fill="#222" >10<tspan dy="-2.6" font-size="3.4">5</tspan></text>
<text x="350.40000000000003" y="574.4" font-size="4.8" font-weight="normal" text-anchor="middle" fill="#222" transform="rotate(-90 350.40000000000003 574.4)" >10<tspan dy="-2.6" font-size="3.4">5</tspan></text>
<text x="350.40000000000003" y="596.7" font-size="4.8" font-weight="normal" text-anchor="middle" fill="#222" transform="rotate(-90 350.40000000000003 596.7)" >10<tspan dy="-2.6" font-size="3.4">4</tspan></text>
<text x="350.40000000000003" y="619.6" font-size="4.8" font-weight="normal" text-anchor="middle" fill="#222" transform="rotate(-90 350.40000000000003 619.6)" >10<tspan dy="-2.6" font-size="3.4">3</tspan></text>
<text x="350.40000000000003" y="648" font-size="4.8" font-weight="normal" text-anchor="middle" fill="#222" transform="rotate(-90 350.40000000000003 648)" >10<tspan dy="-2.6" font-size="3.4">2</tspan></text>
<text x="344.8" y="666.8" font-size="4.8" font-weight="normal" text-anchor="middle" fill="#222" transform="rotate(-90 344.8 666.8)" >-199</text>
<text x="403.3" y="684.3" font-size="6.3" font-weight="normal" text-anchor="middle" fill="#222" textLength="23.4" lengthAdjust="spacingAndGlyphs" >PI PE-A</text>
<text x="340.3" y="616" font-size="5.8" font-weight="normal" text-anchor="middle" fill="#222" transform="rotate(-90 340.3 616)" textLength="51.7" lengthAdjust="spacingAndGlyphs" >ANNEXIN V FITC-A</text>
<clipPath id="c4"><rect x="81.4" y="720.2" width="110.29999999999998" height="106.79999999999995"/></clipPath><g clip-path="url(#c4)">
<path d="M112.2 749.6h0M112.1 794.4h0M131.1 781.5h0M134.5 749.6h0M129.7 752.3h0M127.1 749.3h0M170.9 748.7h0M120.8 749.3h0M136.0 780.6h0M95.4 755.7h0M138.5 770.0h0M86.5 764.4h0M131.9 749.0h0M162.1 749.2h0M93.8 754.2h0M165.4 761.8h0M115.9 792.6h0M172.3 757.2h0M133.5 748.9h0M89.3 767.8h0M164.4 757.5h0M167.4 752.4h0M88.8 770.8h0M142.2 750.7h0M126.7 748.6h0M154.3 752.3h0M87.6 765.4h0M113.3 754.0h0M155.2 762.4h0M93.9 754.0h0M92.4 788.3h0M128.3 750.6h0M162.0 750.1h0M138.1 756.4h0M123.7 790.5h0M149.3 758.3h0M129.6 783.5h0M115.3 749.9h0M84.7 780.9h0M135.9 775.1h0M125.3 750.0h0M109.3 795.3h0M144.2 766.0h0M100.5 750.6h0M116.4 789.5h0M127.0 780.8h0M139.0 767.9h0M128.2 784.4h0M164.1 755.4h0M87.7 763.7h0M150.3 762.2h0M101.9 795.4h0M108.0 753.4h0M113.7 794.9h0M91.4 756.1h0M157.1 763.9h0M158.9 760.4h0M171.0 755.2h0M144.7 772.3h0M114.1 787.4h0M82.2 768.2h0M147.5 750.8h0M152.1 746.1h0M133.1 777.9h0M118.4 751.0h0M154.5 749.7h0M97.2 791.8h0M79.2 756.6h0M92.2 785.5h0M163.0 758.2h0M130.1 773.1h0M168.1 756.9h0M115.4 750.0h0M122.5 790.8h0M125.9 788.9h0M136.8 748.1h0M118.4 749.4h0M87.7 756.7h0M92.1 776.2h0M91.6 754.3h0M140.2 766.1h0M164.3 754.4h0M174.0 750.1h0M120.6 749.4h0M88.1 753.1h0M130.2 747.5h0M155.1 767.8h0M156.7 763.0h0M154.9 762.3h0M134.3 776.7h0M108.0 749.4h0M134.5 773.0h0M157.4 758.5h0M118.0 794.1h0M89.3 750.2h0M83.4 763.8h0M87.3 757.7h0M119.6 790.8h0M170.3 757.7h0M95.3 792.7h0M142.1 766.7h0M165.3 757.8h0M151.0 767.5h0M123.6 786.8h0M82.7 760.3h0M88.2 772.2h0M119.2 787.8h0M157.6 763.6h0M82.3 762.0h0M168.3 761.9h0M99.2 795.7h0M137.1 768.0h0M133.8 743.6h0M147.9 768.9h0M117.6 795.8h0M162.6 760.6h0M142.0 767.3h0M147.0 747.8h0M167.9 754.2h0M103.5 752.5h0M163.7 753.1h0M149.4 751.0h0M159.4 758.3h0M155.7 750.7h0M88.3 755.4h0M90.7 753.6h0M88.4 764.8h0M130.6 782.3h0M104.1 754.5h0M119.4 790.7h0M123.6 782.8h0M121.1 748.8h0M108.0 754.0h0M129.3 752.0h0M136.1 747.7h0M98.3 757.3h0M103.4 755.4h0M170.0 759.5h0M113.4 749.4h0M96.1 790.0h0M119.6 793.0h0M85.9 766.8h0M145.3 770.4h0M91.9 757.8h0M131.4 780.6h0M119.2 748.0h0M155.8 752.2h0M136.2 770.7h0M146.7 765.1h0M85.0 771.9h0M131.7 748.4h0M153.5 759.6h0M123.6 785.8h0M123.9 783.6h0M129.2 749.0h0M154.2 763.8h0M91.2 782.4h0M91.9 756.1h0M163.4 748.9h0M110.0 751.8h0M166.1 753.9h0M152.6 762.2h0M98.2 794.2h0M103.1 754.1h0M132.0 749.7h0M87.7 764.2h0M121.4 749.0h0M135.4 775.7h0M85.5 771.0h0M92.7 754.1h0M110.7 793.5h0M92.4 750.6h0M123.0 783.6h0M156.6 762.2h0M111.4 794.1h0M128.6 747.3h0M171.8 756.0h0M118.5 795.2h0M94.2 787.1h0M167.6 748.0h0M132.1 748.4h0M92.1 758.5h0M135.0 745.9h0M134.5 745.0h0M165.8 754.0h0M144.6 749.3h0M166.8 759.8h0M82.8 760.0h0M135.3 774.3h0M89.5 781.7h0M161.6 748.5h0M83.1 760.2h0M151.0 748.6h0M130.7 747.0h0M167.8 757.5h0M128.3 752.4h0M137.4 770.5h0M168.7 757.5h0M157.8 745.3h0M125.9 753.7h0M95.8 755.8h0M123.9 784.0h0M83.5 765.0h0M151.2 761.9h0M148.7 745.7h0M110.9 753.7h0M168.2 753.1h0M124.2 751.5h0M118.9 791.2h0M139.8 767.6h0M90.2 756.3h0M97.5 794.6h0M133.7 774.0h0M127.2 784.8h0M159.9 748.1h0M136.9 750.3h0M141.9 762.9h0M114.9 749.9h0M87.0 764.8h0M98.8 757.5h0M168.0 758.7h0M119.0 791.6h0M100.7 751.7h0M159.1 749.2h0M129.6 750.1h0M108.5 752.4h0M118.5 751.9h0M107.0 751.2h0M91.6 772.2h0M153.9 747.4h0M88.7 755.5h0M158.9 753.1h0M118.2 794.3h0M93.6 789.4h0M150.5 748.0h0M82.6 766.1h0M134.2 778.1h0M133.4 749.5h0M141.0 774.8h0M160.7 755.0h0M103.1 794.5h0M150.8 749.7h0M96.2 784.6h0M135.2 775.7h0M91.2 786.9h0M124.3 748.3h0M89.9 753.6h0M121.7 789.9h0M169.0 760.0h0M169.4 758.5h0M166.7 758.4h0M85.6 757.4h0M83.0 765.7h0M107.4 753.1h0M133.0 779.1h0M114.3 748.9h0M119.7 782.5h0M147.5 745.7h0M87.0 763.5h0M137.1 749.4h0M94.9 787.2h0M132.9 747.7h0M167.1 754.5h0M133.0 750.1h0M114.4 794.5h0M171.9 751.2h0M132.6 773.1h0M149.7 766.3h0M143.2 769.6h0M134.9 754.7h0M125.4 783.7h0M156.7 753.2h0M113.0 791.7h0M92.1 788.1h0M160.7 752.3h0M120.6 752.5h0M118.5 788.4h0M95.7 792.9h0M91.4 760.1h0M117.2 749.2h0M104.8 793.8h0M141.8 747.4h0M170.5 755.0h0M132.1 777.1h0M150.5 764.6h0M151.2 761.7h0M151.7 750.2h0M132.3 776.4h0M135.6 770.3h0M166.2 753.4h0M125.0 780.0h0M86.1 764.8h0M130.6 771.2h0M88.7 773.8h0M119.3 753.3h0M88.1 771.7h0M117.9 785.3h0M161.0 762.6h0M146.2 766.3h0M122.0 787.5h0M156.8 743.3h0M123.4 792.6h0M165.1 752.5h0M164.3 748.8h0M114.3 791.7h0M131.5 784.7h0M123.7 783.3h0M147.0 766.7h0M119.6 791.4h0M126.3 789.1h0M115.4 795.6h0M108.9 754.7h0M170.1 755.7h0M111.4 793.0h0M96.9 795.2h0M93.5 755.8h0M102.9 756.3h0M138.5 775.3h0M164.1 747.2h0M167.0 754.2h0M136.8 741.5h0M144.9 764.4h0M85.5 768.0h0M118.6 791.0h0M141.0 763.8h0M151.3 759.1h0M144.4 765.4h0M163.8 744.3h0M165.1 750.4h0M157.5 754.2h0M155.6 760.5h0M151.0 767.2h0M91.6 757.7h0M168.9 750.8h0M158.7 750.7h0M83.1 763.5h0M138.4 772.6h0M153.4 763.4h0M89.0 757.0h0M85.4 767.3h0M92.3 789.0h0M91.7 794.2h0M109.9 747.6h0M151.7 762.9h0M129.7 749.6h0M86.0 758.7h0M90.3 774.6h0M83.1 761.7h0M168.4 750.9h0M131.8 750.2h0M89.4 752.1h0M119.7 750.4h0M112.3 753.7h0M160.7 746.2h0M86.2 764.1h0M114.9 794.5h0M147.0 765.4h0M84.7 777.0h0M130.2 779.4h0M151.0 753.0h0M86.6 782.1h0M134.8 771.9h0M130.6 748.1h0M160.4 762.0h0M137.3 750.4h0M133.4 781.0h0M84.8 782.8h0M119.1 792.8h0M168.4 755.7h0M153.3 751.8h0M89.6 765.3h0M91.7 784.1h0M161.4 753.5h0M166.3 762.0h0M103.7 793.8h0M102.2 754.7h0M113.3 752.9h0M140.2 772.1h0M125.6 784.8h0M88.6 759.1h0M124.0 751.5h0M152.3 755.0h0M121.3 780.9h0M115.3 791.1h0M135.9 782.3h0M137.5 771.1h0M140.4 774.0h0M129.3 749.1h0M125.9 754.0h0M100.2 754.3h0M123.1 747.5h0M90.5 788.9h0M120.0 752.3h0M134.7 749.6h0M92.5 782.8h0M85.1 755.6h0M103.6 752.0h0M124.9 789.3h0M168.0 750.7h0M92.0 791.5h0M161.1 759.0h0M83.0 762.1h0M119.1 791.7h0M84.9 758.2h0M142.4 748.8h0M105.9 754.0h0M96.2 758.1h0M151.2 749.1h0M102.4 754.0h0M92.9 794.6h0M103.7 753.3h0M117.6 785.3h0M133.9 752.7h0M167.0 746.9h0M91.4 787.0h0M127.3 786.8h0M119.9 787.1h0M143.0 768.0h0M133.2 780.9h0M127.9 754.2h0M109.4 755.6h0M134.8 745.0h0M153.3 750.1h0M92.4 752.6h0M83.5 760.7h0M134.7 774.5h0M78.4 763.4h0M153.8 763.8h0M92.0 753.6h0M89.3 760.9h0M132.4 775.0h0M167.8 755.9h0M92.8 784.6h0M166.7 749.9h0M95.1 754.4h0M167.8 754.6h0M150.7 761.6h0M100.9 794.3h0M111.7 750.5h0M112.3 793.8h0M111.4 756.3h0M100.4 795.5h0M135.0 780.5h0M128.4 775.3h0M166.9 757.5h0M164.6 757.9h0M113.9 791.8h0M118.9 788.5h0M84.8 756.9h0M97.0 784.4h0M126.9 777.2h0M140.3 772.7h0M127.2 787.8h0M125.6 781.1h0M150.7 751.3h0M114.8 794.1h0M161.8 760.4h0M118.0 790.6h0M88.7 764.0h0M137.0 746.1h0M154.7 750.6h0M146.7 764.8h0M164.4 752.3h0M109.6 752.2h0M105.3 748.6h0M165.5 757.6h0M122.2 788.2h0M163.0 753.6h0M89.7 758.6h0M160.4 749.3h0M128.7 783.7h0M163.8 761.1h0M84.1 770.5h0M95.0 759.1h0M129.0 752.8h0M126.9 745.6h0M110.9 795.6h0M83.1 762.5h0M150.8 747.9h0M105.6 795.3h0M130.8 776.7h0M169.6 756.4h0M138.9 770.0h0M157.6 763.0h0M165.1 752.2h0M87.9 777.3h0M89.0 751.2h0M83.6 764.5h0M131.2 772.8h0M140.3 772.0h0M139.8 770.6h0M96.9 753.0h0M89.6 757.5h0M139.9 770.6h0M98.2 792.0h0M126.8 776.6h0M158.4 747.7h0M86.4 775.2h0M124.3 789.3h0M92.8 780.9h0M143.9 766.7h0M85.7 763.0h0M149.5 760.5h0M100.7 752.2h0M142.3 750.2h0M90.1 755.6h0M169.9 757.5h0M169.8 753.9h0M163.0 750.3h0M133.6 750.8h0M160.3 752.8h0M130.8 751.8h0M112.0 792.0h0M162.3 759.7h0M156.1 750.3h0M152.6 747.2h0M103.5 794.9h0M169.4 752.4h0M117.3 791.4h0M130.8 748.2h0M109.6 791.8h0M168.0 756.3h0M111.1 792.5h0M135.7 778.0h0M152.9 747.7h0M86.9 767.4h0M168.0 753.2h0M131.1 784.1h0M144.4 751.9h0M122.2 788.4h0M88.1 768.0h0M128.9 783.7h0M89.4 757.4h0M152.6 749.3h0M125.8 785.9h0M168.6 759.2h0M164.1 753.1h0M145.7 749.7h0M139.2 748.8h0M83.5 779.1h0M120.8 791.3h0M135.5 748.1h0M166.6 755.6h0M108.5 750.4h0M116.3 751.0h0M83.9 755.7h0M150.8 749.7h0M85.1 768.7h0M160.8 756.1h0M92.1 792.2h0M86.3 768.7h0M161.7 748.8h0M94.7 791.9h0M159.9 761.4h0M116.0 795.5h0M131.2 781.0h0M166.8 753.8h0M161.9 759.3h0M109.5 748.9h0M162.3 746.9h0M89.3 760.8h0M133.6 746.8h0M155.9 761.0h0M91.8 758.4h0M163.9 758.4h0M161.3 757.5h0M157.0 756.7h0M122.8 750.3h0M89.6 772.6h0M167.1 753.3h0M119.8 750.7h0M116.1 794.5h0M161.6 760.0h0M140.7 770.7h0M152.2 747.2h0M145.2 765.2h0M160.3 758.8h0M113.4 751.2h0M132.6 747.6h0M166.3 752.4h0M167.4 753.0h0M113.4 793.0h0M105.8 751.8h0M96.4 752.0h0M110.7 749.6h0M104.7 754.7h0M82.4 777.7h0M116.0 788.5h0M156.1 760.3h0M98.5 751.3h0M131.1 777.7h0M126.0 745.0h0M125.0 784.3h0M85.1 759.2h0M110.5 794.2h0M118.6 785.6h0M127.4 751.0h0M88.5 766.1h0M84.6 762.4h0M116.8 751.1h0M116.5 795.2h0M122.5 748.7h0M86.2 756.7h0M135.3 747.1h0M151.1 764.5h0M170.3 752.7h0M81.9 761.8h0M166.7 751.9h0M83.4 763.3h0M121.9 792.4h0M113.0 792.3h0M133.8 780.4h0M84.2 767.8h0M89.1 761.7h0M91.1 791.8h0M160.3 750.0h0M163.5 756.1h0M130.9 750.9h0M159.7 754.6h0M123.9 750.2h0M80.0 760.4h0M161.7 748.2h0M150.2 754.9h0M82.2 770.6h0M154.7 765.9h0M157.2 761.4h0M145.3 772.7h0M159.6 759.8h0M80.8 756.7h0M152.4 749.0h0M119.5 788.8h0M83.2 761.2h0M116.3 790.7h0M151.5 751.3h0M136.4 770.2h0M93.0 751.2h0M88.8 779.6h0M109.6 794.6h0M96.5 757.9h0M135.8 750.2h0M116.7 790.4h0M137.9 773.4h0M161.2 760.6h0M156.8 757.8h0M84.8 765.1h0M150.5 748.6h0M115.1 795.2h0M79.5 763.2h0M115.2 788.3h0M131.7 752.0h0M104.6 757.6h0M85.8 763.0h0M125.5 777.5h0M80.8 759.0h0M89.9 784.1h0M87.2 760.1h0M164.9 756.7h0M145.5 761.2h0M114.3 746.5h0M138.8 772.4h0M98.9 752.7h0M130.7 750.1h0M117.4 791.7h0M83.2 757.8h0M117.2 749.7h0M164.3 758.1h0M81.6 763.0h0M164.2 755.7h0M120.3 789.2h0M147.4 753.2h0M86.6 762.1h0M88.5 773.4h0M149.2 761.7h0M131.6 748.5h0M159.9 757.6h0M126.0 750.1h0M89.4 761.1h0M119.9 792.6h0M130.2 747.5h0M87.5 767.3h0M112.9 752.6h0M82.5 761.2h0M124.3 781.4h0M163.3 754.2h0M167.8 752.1h0M121.4 786.7h0M151.4 749.1h0M117.6 789.6h0M92.8 781.1h0M90.0 773.5h0M132.2 778.6h0M139.3 747.2h0M86.6 773.2h0M125.7 780.7h0M165.8 754.3h0M137.1 766.8h0M84.1 752.3h0M125.0 787.1h0M164.9 746.9h0M141.6 768.5h0M132.8 784.0h0M92.2 789.6h0M90.4 780.6h0M165.3 756.5h0M111.2 753.6h0M145.6 747.5h0M124.2 782.0h0M100.5 755.1h0M90.0 755.2h0M102.1 752.6h0M168.4 757.4h0M93.6 750.9h0M131.7 750.0h0M166.8 748.6h0M123.3 790.3h0M127.7 781.9h0M84.9 760.4h0M122.1 785.8h0M170.0 757.3h0M167.1 752.0h0M95.5 752.9h0M80.5 762.3h0M148.8 749.8h0M167.3 756.7h0M85.4 778.2h0M87.9 761.8h0M110.1 752.5h0M107.8 795.5h0M147.5 749.5h0M165.4 756.1h0M118.9 749.0h0M88.3 781.3h0M130.9 747.8h0M144.2 763.6h0M127.4 748.7h0M127.4 781.0h0M138.9 775.3h0M111.2 795.5h0M125.1 784.3h0M165.8 753.2h0M123.9 780.7h0M168.6 754.0h0M171.3 755.3h0M100.2 753.4h0M158.7 750.7h0M149.1 748.6h0M164.8 746.4h0M127.1 781.5h0M164.4 750.0h0M129.7 747.0h0M120.2 787.9h0M136.1 771.8h0M84.1 755.8h0M157.0 748.6h0M114.9 795.6h0M90.2 755.4h0M115.5 795.8h0M90.6 787.5h0M159.2 749.0h0M90.3 778.2h0M166.8 756.0h0M92.9 789.0h0M106.4 754.9h0M83.4 754.7h0M158.3 757.5h0M88.2 752.3h0M128.2 775.9h0M113.4 747.1h0M172.4 758.4h0M84.5 759.4h0M171.3 753.1h0M82.1 757.4h0M138.0 747.7h0M119.8 751.2h0M149.6 750.9h0M93.2 776.7h0M134.3 776.3h0M113.7 753.9h0M166.3 757.5h0M172.3 751.7h0M154.7 750.4h0M120.2 789.0h0M166.2 756.4h0M131.4 753.9h0M162.4 758.0h0M127.7 775.9h0M141.4 749.6h0M85.4 769.1h0M130.2 749.3h0M86.3 765.9h0M88.4 779.2h0M166.7 750.8h0M154.3 764.0h0M129.6 778.1h0M92.8 753.1h0M88.8 751.8h0M162.6 749.8h0M165.8 749.0h0M88.6 754.4h0M121.9 786.3h0M124.3 789.9h0M121.9 751.4h0M84.2 763.6h0M90.0 757.7h0M89.3 758.8h0M118.8 789.7h0M93.1 754.7h0M160.8 759.4h0M114.1 795.4h0M96.9 754.1h0M124.4 748.4h0M153.9 761.8h0M174.4 757.0h0M131.3 751.7h0M171.0 754.9h0M101.5 755.9h0M164.3 754.8h0M141.8 767.6h0M94.4 791.7h0M85.7 767.8h0M82.7 763.8h0M102.0 750.6h0M124.0 786.8h0M84.6 763.0h0M124.4 781.1h0M144.7 753.9h0M165.5 750.1h0M159.3 757.5h0M128.1 780.3h0M93.8 753.1h0M160.2 761.5h0M144.7 765.5h0M140.7 744.5h0M116.8 790.1h0M169.3 760.0h0M87.8 757.7h0M107.1 793.0h0M143.3 750.8h0M143.8 765.2h0M117.1 792.0h0M100.0 755.2h0M84.4 766.3h0M119.9 787.7h0M95.4 755.2h0M166.2 749.1h0M87.5 776.7h0M161.6 746.0h0M127.8 785.9h0M96.2 794.0h0M88.8 752.3h0M151.0 747.9h0M92.0 754.6h0M84.7 760.2h0M88.7 765.7h0M129.0 779.2h0M139.9 770.4h0M135.3 773.0h0M166.8 754.2h0M152.4 765.2h0M82.6 758.3h0M91.3 778.6h0M89.4 759.9h0M134.3 746.0h0M97.1 755.8h0M84.3 754.9h0M154.0 770.0h0M142.0 770.7h0M139.2 773.4h0M80.0 755.3h0M144.4 772.1h0M151.0 761.4h0M123.9 791.6h0M150.0 749.3h0M126.3 784.5h0M80.8 771.8h0M159.9 749.5h0M97.4 755.3h0M91.8 769.1h0M83.7 762.5h0M140.3 770.8h0M108.2 791.3h0M120.6 745.4h0M120.4 757.5h0M90.7 784.8h0M81.8 766.3h0M132.9 750.8h0M162.8 748.1h0M146.2 765.8h0M161.1 762.2h0M175.5 761.1h0M91.9 794.3h0M91.9 754.8h0M128.5 781.8h0M97.2 757.7h0M164.8 757.5h0M140.2 769.0h0M111.8 791.9h0M165.3 752.8h0M115.6 789.1h0M131.8 775.8h0M155.3 762.3h0M122.6 786.6h0M167.7 760.3h0M114.7 793.0h0M86.5 755.8h0M162.4 761.0h0M84.1 774.3h0M138.7 748.1h0M82.8 768.9h0M128.1 751.7h0M131.6 748.9h0M126.7 783.7h0M132.9 746.3h0M135.8 780.7h0M120.2 745.8h0M159.5 758.5h0M165.1 759.8h0M101.8 755.5h0M79.9 762.4h0M149.9 765.0h0M161.4 758.5h0M157.5 747.4h0M162.4 763.6h0M165.8 752.0h0M171.4 754.1h0M143.6 768.6h0M99.7 750.9h0M144.7 750.9h0M83.9 769.4h0M132.9 748.4h0M147.6 770.2h0M153.6 761.0h0M131.2 780.0h0M111.6 754.2h0M118.1 791.2h0M80.9 767.5h0M86.7 755.6h0M161.6 755.5h0M154.1 765.5h0M123.8 784.8h0M86.4 755.7h0M139.6 770.1h0M89.1 755.6h0M94.9 752.7h0M169.3 753.7h0M89.8 757.3h0M119.0 750.4h0M134.4 770.3h0M164.7 755.1h0M123.8 753.1h0M82.0 770.4h0M92.8 754.7h0M165.3 755.9h0M118.5 790.5h0M141.8 752.1h0M101.8 754.0h0M171.4 760.2h0M157.7 750.7h0M96.7 754.6h0M123.1 790.1h0M121.6 749.2h0M118.6 790.6h0M81.3 764.1h0M154.6 745.4h0M92.4 787.6h0M153.8 761.1h0M119.7 754.8h0M164.9 757.7h0M110.5 752.0h0M118.9 787.0h0M154.1 751.0h0M92.6 788.6h0M87.3 780.3h0M86.6 774.2h0M163.9 751.1h0M121.0 748.2h0M132.9 752.0h0M169.5 757.0h0M124.5 786.7h0M146.7 745.9h0M123.6 787.0h0M148.7 765.4h0M94.0 793.7h0M112.4 794.3h0M158.4 747.6h0M84.0 750.8h0M127.9 772.0h0M83.3 762.7h0M163.6 758.5h0M116.2 748.8h0M165.0 753.9h0M157.5 751.6h0M121.9 787.1h0M130.9 747.5h0M113.6 792.1h0M120.2 750.3h0M115.9 792.7h0M90.1 771.9h0M102.9 753.1h0M149.7 752.8h0M124.1 749.7h0M168.0 750.3h0M82.1 764.7h0M101.3 753.6h0M150.6 760.2h0M159.9 761.3h0M152.5 766.6h0M170.1 751.9h0M156.3 753.8h0M109.3 792.0h0M100.4 753.0h0M90.7 758.0h0M87.0 768.2h0M85.6 780.7h0M91.3 792.5h0M108.2 794.4h0M93.4 751.1h0M163.9 750.3h0M112.5 789.1h0M135.6 751.3h0M111.9 792.7h0M114.3 790.2h0M134.4 747.4h0M98.4 753.1h0M82.3 762.4h0M124.1 784.8h0M90.1 783.2h0M88.4 757.8h0M130.8 775.4h0M85.5 768.6h0M114.6 790.0h0M94.5 794.1h0M126.3 747.9h0M165.2 752.7h0M148.7 749.2h0M88.6 763.2h0M171.1 753.5h0M85.5 768.5h0M135.7 771.7h0M172.8 756.9h0M171.7 751.1h0M163.2 751.8h0M122.0 782.2h0M91.9 784.5h0M149.4 753.9h0M165.2 754.2h0M166.7 750.5h0M80.5 760.8h0M127.1 750.4h0M97.2 793.2h0M85.5 754.0h0M142.9 744.9h0M126.0 779.4h0M170.4 756.9h0M84.8 765.3h0M137.0 775.1h0M138.8 773.2h0M159.5 754.7h0M127.7 752.8h0M113.2 792.9h0M139.9 767.3h0M92.5 778.8h0M83.2 759.4h0M148.1 764.7h0M158.0 754.8h0M95.8 795.5h0M161.8 757.3h0M121.1 783.3h0M132.3 774.4h0M84.6 768.2h0M146.7 769.1h0M103.5 753.3h0M171.2 751.3h0M158.6 757.3h0M106.1 752.6h0M93.0 753.8h0M152.3 761.9h0M85.0 775.9h0M92.0 776.7h0M113.8 792.8h0M133.8 782.5h0M93.6 791.8h0M132.2 749.2h0M91.4 768.3h0M170.0 751.8h0M118.1 785.7h0M85.7 753.2h0M112.8 793.4h0M125.4 744.1h0M151.6 767.0h0M138.4 753.1h0M96.1 792.7h0M100.5 753.5h0M87.8 762.0h0M166.4 753.1h0M92.1 759.4h0M149.1 752.6h0M166.6 751.3h0M162.9 747.7h0M87.0 758.7h0M158.1 752.9h0M112.7 793.5h0M124.3 751.5h0M158.0 755.2h0M129.2 783.2h0M122.2 749.5h0M132.9 750.7h0M84.3 758.7h0M82.4 761.8h0M111.0 794.9h0M129.0 750.1h0M89.7 757.2h0M136.1 774.2h0M80.2 760.8h0M121.7 750.9h0M129.8 776.3h0M112.0 794.7h0M151.2 764.5h0M134.0 748.3h0M109.6 752.7h0M141.3 768.2h0M128.4 781.3h0M146.5 749.8h0M115.9 752.7h0M90.1 784.7h0M148.6 746.0h0M87.1 765.0h0M86.1 771.5h0M143.6 763.1h0M131.5 773.9h0M114.1 794.0h0M133.5 750.2h0M126.1 787.4h0M131.2 751.5h0M120.7 780.3h0M136.4 778.2h0M110.4 792.4h0M134.8 753.6h0M161.8 750.8h0M132.7 775.1h0M141.1 750.1h0M155.8 757.8h0M88.4 760.4h0M120.5 756.1h0M122.5 754.3h0M172.3 757.2h0M101.4 753.1h0M116.1 792.5h0M107.8 749.5h0M165.8 757.3h0M118.6 750.1h0M133.0 777.4h0M147.5 767.8h0M164.8 756.1h0M123.6 786.0h0M167.1 758.8h0M118.8 793.6h0M148.8 764.3h0M117.5 750.4h0M154.3 761.9h0M86.1 764.5h0M132.7 752.4h0M131.8 746.9h0M140.5 773.5h0M105.2 750.2h0M115.9 790.9h0M166.6 750.4h0M110.2 752.1h0M105.4 752.1h0M114.9 795.5h0M137.9 770.0h0M85.1 761.1h0M80.8 761.8h0M83.4 756.1h0M114.4 794.8h0M128.9 749.2h0M147.6 749.8h0M169.1 750.7h0M167.9 757.6h0M168.9 749.3h0M85.9 763.9h0M134.5 782.5h0M94.5 755.5h0M84.2 771.9h0M168.8 752.8h0M160.0 758.9h0M124.4 780.6h0M145.6 761.2h0M101.4 752.4h0M123.6 748.6h0M81.9 759.4h0M145.1 768.6h0M111.2 749.5h0M138.3 751.3h0M156.7 762.7h0M100.2 749.5h0M153.6 766.2h0M98.8 754.8h0M93.1 753.9h0M91.8 791.4h0M119.4 793.6h0M132.4 779.4h0M157.3 747.7h0M128.8 750.3h0M123.1 749.5h0M147.2 765.6h0M87.0 771.2h0M82.2 757.1h0M89.4 781.0h0M110.2 792.0h0M141.9 752.1h0M161.3 756.7h0M140.1 771.1h0M140.2 744.9h0M98.4 793.0h0M121.3 794.0h0M164.2 753.3h0M164.9 752.4h0M131.9 787.5h0M96.3 750.8h0M108.3 749.7h0M118.4 788.5h0M168.1 758.7h0M135.1 778.2h0M165.6 755.2h0M86.5 764.9h0M116.6 790.6h0M132.5 784.4h0M167.8 753.6h0M147.8 753.3h0M154.8 747.1h0M90.6 783.5h0M88.2 759.6h0M167.7 750.4h0M159.6 764.3h0M94.6 749.2h0M143.4 769.6h0M132.3 749.2h0M122.4 750.5h0M92.6 751.5h0M141.6 769.8h0M151.9 761.2h0M154.9 768.6h0M86.4 761.8h0M158.8 752.0h0M130.5 747.6h0M80.4 759.6h0M109.1 750.6h0M158.7 752.7h0M170.2 757.6h0M84.4 760.4h0M122.1 745.4h0M116.8 752.4h0M85.3 769.9h0M133.8 778.1h0M136.7 768.2h0M113.8 748.7h0M132.3 771.0h0M131.6 751.7h0M138.7 751.0h0M94.2 759.0h0M110.4 792.4h0M140.5 749.5h0M162.3 751.3h0M89.1 792.6h0M94.1 791.0h0M163.8 751.4h0M83.7 763.2h0M120.9 748.4h0M124.4 751.0h0M162.4 755.8h0M87.9 768.0h0M86.1 755.7h0M149.2 767.4h0M156.1 755.3h0M145.9 772.6h0M83.7 763.1h0M122.0 784.8h0M158.0 747.6h0M169.4 754.3h0M90.3 756.3h0M143.7 771.0h0M138.4 774.1h0M102.2 792.2h0M119.6 749.2h0M115.3 752.7h0M146.5 764.6h0M168.7 752.3h0M134.0 773.1h0M161.6 753.7h0M88.2 756.2h0M84.7 774.9h0M150.6 751.8h0M94.2 794.6h0M100.9 795.8h0M87.2 773.9h0M103.3 749.8h0M136.3 747.4h0M145.8 767.1h0M121.4 791.9h0M121.5 791.8h0M168.3 751.4h0M159.9 763.7h0M129.7 749.2h0M111.5 793.3h0M166.2 754.2h0M151.9 759.4h0M152.2 751.9h0M159.6 758.5h0M143.7 771.0h0M154.1 762.8h0M94.0 793.9h0M148.3 759.9h0M158.6 762.9h0M104.0 752.2h0M105.5 750.0h0M98.5 753.4h0M122.0 786.6h0M161.2 751.7h0M141.8 750.7h0M154.3 765.6h0M86.5 773.8h0M118.8 747.5h0M166.8 753.5h0M155.3 748.2h0M116.0 790.5h0M130.8 777.0h0M124.1 785.5h0M145.2 766.8h0M88.1 781.1h0M117.6 791.1h0M128.5 783.3h0M118.0 752.3h0M131.4 770.2h0M95.8 753.8h0M85.1 769.2h0M148.2 747.6h0M103.4 752.0h0M164.7 757.0h0M149.6 749.9h0M143.7 770.4h0M137.4 780.2h0M81.8 767.5h0M112.9 791.1h0M146.8 767.6h0M130.3 768.8h0M123.5 785.5h0M130.8 784.8h0M126.2 782.1h0M162.6 762.8h0M109.8 793.3h0M108.8 794.6h0M121.2 780.4h0M169.1 752.4h0M143.0 771.1h0M114.0 793.4h0M85.4 770.3h0M166.7 757.0h0M169.3 750.4h0M168.7 751.1h0M88.9 763.9h0M153.0 760.7h0M130.1 751.8h0M125.1 752.2h0M134.3 749.9h0M120.4 785.5h0M116.5 754.7h0M155.4 760.6h0M168.4 758.2h0M120.0 751.0h0M114.8 791.7h0M163.9 750.4h0M127.4 746.5h0M88.9 756.5h0M84.5 764.8h0M159.5 761.3h0M165.7 751.7h0M125.4 751.5h0M160.3 748.9h0M109.3 748.2h0M121.1 791.3h0M113.5 752.1h0M82.8 771.5h0M150.5 749.3h0M107.8 754.2h0M163.0 762.5h0M168.6 748.3h0M134.0 745.8h0M81.2 754.3h0M122.4 788.2h0M163.4 757.9h0M153.7 750.7h0M165.6 752.9h0M89.9 762.5h0M133.0 754.8h0M119.4 746.8h0M81.7 771.0h0M148.5 761.4h0M84.5 771.9h0M151.5 750.3h0M114.4 753.3h0M119.0 752.2h0M85.1 754.8h0M156.5 761.9h0M115.7 752.3h0M87.4 757.7h0M88.8 782.1h0M82.8 755.9h0M132.4 772.4h0M102.4 757.1h0M145.7 762.8h0M150.7 763.8h0M120.5 747.5h0M161.2 759.5h0M132.4 748.0h0M117.6 794.3h0M167.3 754.4h0M90.0 784.3h0M132.6 776.4h0M163.2 751.8h0M157.3 759.4h0M123.9 787.0h0M148.9 765.3h0M101.5 794.1h0M132.5 747.7h0M89.6 759.2h0M145.0 764.7h0M140.7 748.0h0M128.5 747.7h0M145.7 751.0h0M91.0 757.2h0M111.5 756.4h0M147.9 761.8h0M109.0 793.1h0M92.8 790.6h0M118.4 789.0h0M148.9 745.2h0M132.0 769.7h0M145.3 771.1h0M133.2 774.3h0M123.7 788.2h0M103.7 754.2h0M124.7 779.1h0M85.4 772.0h0M98.3 752.2h0M166.5 756.2h0M157.9 753.5h0M96.0 754.8h0M129.4 751.1h0M85.0 759.5h0M101.3 756.3h0M132.4 748.0h0M125.0 749.7h0M80.8 768.0h0M90.4 794.5h0M168.5 754.6h0M91.0 789.2h0M153.6 751.3h0M90.5 791.4h0M165.1 752.2h0M114.8 795.6h0M140.4 766.5h0M96.3 756.9h0M87.1 782.4h0M146.0 747.3h0M138.8 764.8h0M84.4 762.5h0M86.4 760.2h0M119.3 752.9h0M128.2 780.1h0M115.8 795.4h0M90.1 755.3h0M113.6 750.1h0M92.6 785.5h0M144.5 766.5h0M134.5 749.8h0M151.6 766.3h0M86.0 764.0h0M163.1 748.9h0M159.1 747.6h0M94.8 792.6h0M92.1 786.0h0M146.1 771.0h0M114.6 795.6h0M100.5 795.1h0M156.9 749.9h0M156.2 748.2h0M92.0 758.1h0M158.6 756.2h0M150.8 753.2h0M120.2 749.0h0M84.5 760.6h0M113.3 749.6h0M108.8 750.4h0M103.5 795.3h0M164.0 750.6h0M120.2 788.8h0M155.7 751.2h0M149.7 762.0h0M112.2 753.6h0M111.2 794.4h0M82.0 758.7h0M100.2 747.9h0M107.4 794.2h0M88.9 766.5h0M166.4 756.2h0M129.1 747.0h0M90.3 786.7h0M87.4 776.4h0M100.6 752.7h0M100.0 754.1h0M110.6 793.6h0M113.1 791.3h0M124.6 751.3h0M97.2 753.7h0M129.3 783.7h0M122.0 786.5h0M95.3 793.3h0M103.2 752.1h0M164.7 757.6h0M88.2 771.9h0M127.1 750.1h0M88.4 775.2h0M132.3 747.5h0M85.5 771.7h0M116.4 785.9h0M85.7 760.9h0M84.6 762.6h0M161.9 759.1h0M166.6 750.4h0M162.5 759.1h0M113.1 788.1h0M125.4 749.4h0M85.2 763.1h0M163.3 748.8h0M103.8 754.5h0M152.6 759.6h0M120.1 752.1h0M106.0 794.8h0M94.3 753.3h0M148.5 752.4h0M88.2 756.1h0M159.5 749.0h0M156.4 762.8h0M139.3 773.2h0M127.2 744.7h0M170.8 751.3h0M119.2 786.4h0M151.3 759.7h0M88.3 759.1h0M107.9 750.7h0M86.0 762.3h0M122.2 782.6h0M88.6 753.3h0M124.0 747.9h0M158.9 752.8h0M116.1 795.2h0M83.8 759.8h0M81.9 771.6h0M158.7 760.3h0M95.9 753.6h0M93.1 758.8h0M141.8 749.9h0M160.1 755.7h0M85.0 772.1h0M167.7 750.7h0M111.0 749.2h0M114.9 751.6h0M114.1 791.2h0M102.2 752.4h0M85.6 756.6h0M166.4 751.7h0M150.4 765.5h0M92.1 758.8h0M162.1 752.8h0M116.5 784.3h0M159.4 754.3h0M157.4 750.1h0M164.0 752.1h0M164.1 751.7h0M118.3 749.8h0M125.8 782.7h0M141.4 748.8h0M163.3 754.0h0M86.0 763.9h0M86.5 756.2h0M133.8 750.0h0M87.7 758.2h0M120.0 752.6h0M99.4 746.2h0M87.6 756.9h0M135.3 777.3h0M131.6 755.6h0M165.3 751.7h0M102.0 757.0h0M153.5 763.3h0M121.7 748.9h0M90.8 790.3h0M85.3 754.2h0M168.0 752.6h0M128.4 778.5h0M157.0 753.7h0M93.4 790.3h0M94.4 787.5h0M119.9 790.8h0M119.2 791.9h0M146.9 766.2h0M144.5 766.9h0M79.7 764.1h0M124.9 751.7h0M88.1 759.7h0M79.9 763.7h0M92.8 795.6h0M96.1 795.4h0M98.4 752.8h0M120.9 749.4h0M168.9 757.5h0M111.8 751.3h0M162.8 750.4h0M103.4 745.2h0M123.5 790.3h0M127.8 782.0h0M126.7 780.7h0M168.2 753.5h0M113.8 793.0h0M133.7 780.1h0M149.7 763.6h0M118.0 789.8h0M167.4 757.3h0M129.7 749.2h0M114.3 753.8h0M153.6 753.2h0M129.8 781.7h0M165.4 757.1h0M80.2 765.9h0M86.8 782.2h0M154.6 764.9h0M124.8 780.1h0M108.9 754.5h0M118.0 789.8h0M117.8 794.7h0M86.2 764.0h0M147.9 766.1h0M167.8 749.0h0M138.2 771.4h0M164.6 748.7h0M135.3 751.6h0M122.5 787.6h0M140.4 767.3h0M168.7 749.3h0M95.8 752.7h0M107.0 795.7h0M106.7 757.7h0M139.2 772.0h0M163.1 757.3h0M95.6 755.7h0M144.2 766.9h0M94.0 757.9h0M118.7 790.4h0M85.5 759.8h0M101.9 750.5h0M159.1 749.9h0M147.6 767.7h0M165.4 754.0h0M161.4 754.4h0M104.9 753.1h0M106.5 747.7h0M88.1 765.0h0M158.9 760.2h0M115.2 758.0h0M87.1 772.4h0M81.6 780.7h0M150.8 762.9h0M126.3 786.6h0M168.3 756.5h0M164.2 751.3h0M84.6 771.5h0M143.4 774.1h0M132.9 748.8h0M133.8 747.9h0M162.0 754.3h0M165.2 748.9h0M164.3 749.4h0M90.2 760.9h0M89.5 758.6h0M87.9 759.3h0M130.4 748.2h0M119.5 790.9h0M162.0 752.7h0M126.3 788.1h0M142.3 771.1h0M86.5 764.0h0M82.3 763.5h0M163.3 757.7h0M91.3 755.7h0M151.7 751.8h0M170.0 758.2h0M142.2 751.6h0M145.2 742.5h0M169.8 747.9h0M86.0 772.9h0M117.2 743.1h0M119.3 756.0h0M84.3 765.3h0M99.8 753.0h0M142.2 772.6h0M123.3 788.8h0M88.0 756.0h0M146.7 752.4h0M136.9 773.3h0M88.8 758.3h0M92.0 787.6h0M115.3 794.5h0M149.6 763.7h0M156.7 750.9h0M152.2 768.5h0M120.7 788.7h0M127.4 790.1h0M147.9 749.6h0M84.0 754.7h0M127.0 780.2h0M84.2 766.3h0M82.3 761.0h0M161.7 759.0h0M119.7 792.4h0M167.0 759.0h0M95.0 754.2h0M92.6 794.7h0M140.3 764.4h0M101.2 795.7h0M151.2 764.6h0M168.4 746.4h0M90.2 791.6h0M158.9 766.7h0M133.6 748.3h0M158.8 755.9h0M117.7 750.3h0M172.1 754.2h0M156.3 761.2h0M152.3 764.5h0M160.2 756.3h0M162.0 749.4h0M106.8 754.8h0M120.4 793.9h0M117.7 754.3h0M83.9 763.8h0M165.7 752.4h0M165.6 756.1h0M138.9 777.9h0M83.1 758.7h0M167.6 755.3h0M119.5 791.8h0M141.2 766.4h0M127.1 784.3h0M122.9 788.6h0M80.2 763.1h0M114.6 788.7h0M128.8 747.9h0M163.7 755.4h0M151.8 763.4h0M138.2 772.2h0M121.8 788.1h0M164.2 760.3h0M117.7 785.9h0M148.0 748.2h0M87.2 757.1h0M135.9 769.6h0M124.8 783.3h0M130.3 751.1h0M126.3 749.5h0M118.9 754.0h0M85.6 760.4h0M80.3 762.1h0M149.2 767.2h0M166.3 756.0h0M124.4 780.7h0M82.3 754.2h0M163.6 757.2h0M166.2 751.9h0M151.0 759.9h0M127.8 785.2h0M116.9 790.6h0M130.5 749.9h0M89.3 761.6h0M127.0 776.5h0M126.1 789.8h0M170.4 756.4h0M91.2 760.2h0M158.2 755.2h0M116.8 788.6h0M139.6 765.4h0M155.1 765.4h0M102.5 795.2h0M165.3 751.6h0M85.9 766.0h0M166.5 760.6h0M120.2 790.9h0M157.6 760.6h0M116.6 795.2h0M168.8 754.2h0M107.5 753.2h0M105.3 757.5h0M89.6 756.4h0M92.1 754.8h0M86.5 762.6h0M120.2 788.8h0M119.6 752.6h0M147.4 768.5h0M131.9 775.3h0M164.1 759.5h0M112.6 752.0h0M167.4 754.5h0M151.8 745.4h0M144.5 771.7h0M136.5 771.7h0M95.8 752.6h0M87.4 754.2h0M154.2 762.1h0M82.0 757.8h0M147.6 755.3h0M118.8 784.4h0M88.6 758.8h0M89.4 775.9h0M89.3 795.0h0M144.8 747.0h0M106.6 794.0h0M96.8 793.2h0M113.7 748.7h0M83.5 753.1h0M161.8 752.4h0M118.5 793.8h0M114.6 793.5h0M114.6 789.4h0M107.4 749.9h0M123.8 783.5h0M151.5 760.0h0M106.4 752.2h0M89.4 759.2h0M159.1 746.6h0M106.0 756.3h0M109.9 791.4h0M157.0 754.9h0M89.2 786.6h0M135.3 749.5h0M85.5 780.8h0M98.1 754.6h0M102.0 792.1h0M161.1 749.0h0M169.6 753.6h0M149.7 750.6h0M124.6 776.8h0M165.9 753.6h0M94.0 756.6h0M124.9 782.8h0M86.5 760.2h0M87.7 778.5h0M163.4 751.5h0M142.0 768.0h0M89.0 787.2h0M143.9 765.8h0M118.1 793.6h0M127.1 749.5h0M114.8 747.6h0M130.6 749.8h0M166.4 754.0h0M142.1 772.6h0M148.3 750.2h0M161.5 753.2h0M82.9 761.2h0M162.0 749.6h0M98.6 757.3h0M123.8 750.1h0M85.1 760.0h0M112.6 750.3h0M163.1 749.8h0M135.3 772.8h0M124.2 781.2h0M141.5 747.5h0M116.1 793.3h0M152.0 761.4h0M135.7 779.6h0M151.6 766.5h0M88.2 757.9h0M131.6 782.5h0M129.0 753.4h0M133.4 748.8h0M133.5 783.0h0M81.6 764.5h0M126.1 742.5h0M92.7 754.0h0M152.6 763.6h0M134.8 746.9h0M147.7 748.5h0M155.5 750.0h0M164.2 752.0h0M112.1 791.8h0M94.1 756.9h0M115.8 791.8h0M109.8 793.4h0M161.1 762.8h0M155.9 748.9h0M122.8 750.7h0M119.3 793.4h0M118.1 794.0h0M151.4 766.2h0M100.2 756.4h0M128.4 747.7h0M127.8 748.6h0M143.5 750.1h0M167.4 757.8h0M123.2 780.1h0M139.5 748.2h0M110.7 794.1h0M103.7 793.4h0M159.8 758.0h0M163.0 750.7h0M131.5 747.7h0M166.4 758.7h0M169.9 756.3h0M133.7 740.0h0M91.6 756.6h0M102.3 748.9h0M93.9 759.1h0M136.2 741.5h0M141.6 744.4h0M140.2 742.8h0M93.7 752.8h0M127.5 738.3h0M114.5 745.3h0M134.7 752.3h0M103.4 749.8h0M139.4 741.7h0M130.3 738.3h0M130.1 741.0h0M138.6 740.7h0M101.1 756.8h0M139.4 745.6h0M95.4 749.6h0M108.8 748.7h0M129.6 741.4h0M122.4 752.4h0M136.8 741.7h0M89.6 754.5h0M131.5 752.4h0M96.8 752.8h0M85.4 756.0h0M110.6 749.7h0M131.4 740.8h0M129.3 739.5h0M137.4 742.8h0M141.5 742.6h0M90.3 756.9h0M139.4 744.0h0M91.7 756.2h0M104.7 749.3h0M93.2 760.2h0M113.7 740.4h0M132.9 741.1h0M89.7 750.8h0M126.2 752.2h0M131.2 737.1h0M111.1 746.9h0M119.0 743.2h0M112.3 744.4h0M136.0 741.4h0M133.8 737.5h0M95.1 752.0h0M131.2 736.3h0M137.4 739.4h0M94.6 751.3h0M134.5 753.0h0M99.9 758.2h0M107.9 745.3h0M131.5 737.1h0M138.6 753.5h0M138.4 749.5h0M137.2 742.1h0M121.6 746.7h0M98.8 755.7h0M134.4 740.3h0M137.3 743.5h0M121.1 744.3h0M99.3 751.8h0M136.8 741.5h0M134.7 744.1h0M134.6 740.4h0M87.1 754.3h0M95.8 758.6h0M94.5 753.9h0M102.3 748.7h0M95.0 757.4h0M91.7 751.7h0M112.8 747.9h0M128.6 741.1h0M129.9 742.6h0M85.5 757.8h0M129.2 740.7h0M130.8 740.1h0M129.1 742.1h0M127.1 741.4h0M134.5 741.1h0M138.4 751.2h0M103.3 745.7h0M129.7 752.2h0M89.8 753.4h0M98.9 752.2h0M113.6 753.0h0M109.4 743.5h0M141.8 744.5h0M87.1 755.5h0M135.4 743.5h0M100.9 750.2h0M112.3 748.2h0M120.1 744.2h0M138.9 743.8h0M97.2 755.4h0M139.0 745.5h0M115.0 749.0h0M101.3 753.0h0M96.1 753.8h0M87.6 761.0h0M137.9 748.6h0M124.5 738.9h0M139.0 741.9h0M136.8 740.8h0M97.8 750.4h0M131.5 752.5h0M134.6 738.5h0M110.3 742.5h0M93.8 752.5h0M123.1 742.8h0M134.8 744.4h0M119.4 751.5h0M90.2 754.5h0M87.5 759.6h0M106.4 754.1h0M117.8 741.7h0M136.5 751.8h0M101.9 753.4h0M135.9 739.4h0M115.4 746.3h0M94.7 750.2h0M89.2 749.4h0M106.0 751.9h0M135.1 738.6h0M118.9 753.6h0M140.0 749.9h0M120.7 752.9h0M104.0 748.9h0M124.5 756.3h0M100.5 750.2h0M141.5 745.7h0M126.3 753.4h0M121.7 742.2h0M140.1 750.5h0M137.5 743.3h0M89.6 759.4h0M132.9 742.0h0M113.5 745.2h0M100.9 750.5h0M126.9 754.0h0M118.6 741.3h0M142.8 743.9h0M90.8 755.8h0M139.5 741.2h0M135.7 738.2h0M85.9 757.1h0M131.1 740.2h0M94.0 752.1h0M98.9 757.4h0M137.4 743.8h0M121.7 745.9h0M105.2 745.3h0M104.6 750.7h0M139.7 745.8h0M140.2 750.0h0M121.8 745.0h0M89.6 756.8h0M137.1 741.1h0M90.8 752.9h0M131.6 740.9h0M132.4 749.8h0M91.9 750.3h0M126.9 739.8h0M127.8 741.7h0M86.9 757.9h0M110.9 751.7h0M126.0 740.8h0M93.1 755.3h0M94.5 749.4h0M138.7 741.9h0M134.4 735.7h0M135.3 745.8h0M122.5 750.5h0M93.5 757.9h0M111.8 746.4h0M89.1 752.8h0M109.3 754.5h0M138.7 753.3h0M136.1 751.2h0M107.3 750.2h0M130.6 752.6h0M118.5 743.0h0M134.4 740.0h0M137.9 740.5h0M101.5 752.4h0M139.2 743.5h0M134.7 745.5h0M126.7 750.0h0M133.6 743.4h0M126.8 743.2h0M138.6 750.9h0M112.7 754.4h0M90.7 748.1h0M115.0 746.1h0M110.9 746.7h0M133.2 740.2h0M83.9 758.7h0M109.3 749.5h0M89.0 754.3h0M136.2 750.0h0M126.5 741.4h0M128.3 741.3h0M115.2 746.5h0M113.9 741.6h0M129.2 742.2h0M98.0 751.6h0M132.1 736.0h0M124.7 752.5h0M128.2 737.7h0M110.8 745.4h0M116.6 755.6h0M101.8 747.8h0M140.5 748.1h0M85.1 754.6h0M106.5 752.7h0M118.4 744.2h0M137.4 740.1h0M125.2 753.8h0M137.9 742.4h0M139.1 752.0h0M93.0 752.3h0M134.2 740.0h0M132.2 739.4h0M141.2 747.2h0M131.2 735.7h0M89.6 755.6h0M104.3 751.3h0M132.2 741.1h0M97.1 749.3h0M140.2 743.6h0M131.1 739.8h0M88.0 756.3h0M99.5 752.3h0M135.9 736.3h0M139.2 746.8h0M118.7 753.0h0M99.4 750.7h0M137.1 743.4h0M95.2 751.0h0M97.8 750.1h0M138.6 739.3h0M132.2 740.5h0M135.9 752.8h0M134.0 741.5h0M107.5 743.3h0M137.5 742.4h0M119.4 742.8h0M132.2 741.2h0M84.9 756.5h0M114.7 749.2h0M134.6 738.0h0M137.8 742.0h0M123.9 740.9h0M95.8 757.4h0M108.2 754.0h0M126.4 742.0h0M139.9 741.9h0M119.9 741.4h0M107.3 753.3h0M126.9 740.4h0M139.4 748.3h0M91.6 755.4h0M102.0 755.9h0M130.3 738.4h0M98.7 749.3h0M101.0 748.0h0M89.5 756.4h0M93.1 759.1h0M129.6 739.9h0M104.2 753.5h0M131.1 747.9h0M92.1 756.0h0M135.1 739.4h0M137.4 748.8h0M113.3 742.8h0M118.6 751.0h0M90.6 758.3h0M138.6 744.3h0M86.0 759.2h0M87.6 754.0h0M140.9 740.4h0M139.3 743.1h0M136.2 746.2h0M131.9 737.2h0M130.4 741.2h0M123.7 744.4h0M87.0 758.4h0M139.9 746.9h0M133.6 737.5h0M129.7 738.7h0M120.3 740.9h0M123.7 738.2h0M98.7 755.7h0M142.0 749.5h0M101.0 756.3h0M95.5 760.2h0M104.0 743.8h0M141.6 743.2h0M123.7 741.2h0M85.7 758.2h0M132.0 751.3h0M87.3 755.2h0M103.2 748.8h0M118.9 741.7h0M118.8 750.0h0M131.5 749.4h0M95.8 748.9h0M136.2 743.2h0M126.3 741.7h0M116.2 753.6h0M107.6 745.7h0M104.6 755.1h0M121.3 751.1h0M91.2 753.8h0M99.4 750.5h0M111.8 753.8h0M92.5 754.6h0M106.3 746.5h0M101.5 754.3h0M122.1 754.3h0M140.9 746.6h0M130.1 746.0h0M114.2 743.0h0M126.1 739.0h0M97.2 751.7h0M134.2 740.5h0M106.7 747.6h0M111.9 751.6h0M137.4 745.4h0M131.1 742.5h0M90.1 754.3h0M87.9 752.1h0M115.3 756.6h0M92.3 756.9h0M114.6 742.0h0M95.2 751.4h0M138.5 749.1h0M129.8 751.6h0M105.2 757.3h0M131.4 752.8h0M102.1 756.5h0M108.8 749.3h0M95.4 756.8h0M126.6 742.5h0M118.9 750.2h0M131.4 738.9h0M138.7 744.3h0M138.5 749.6h0M137.5 742.6h0M130.1 750.5h0M98.0 752.4h0M140.7 746.8h0M134.9 746.9h0M90.3 753.6h0M127.9 738.8h0M85.4 757.0h0M119.0 738.3h0M104.6 749.8h0M116.1 746.4h0M138.4 743.8h0M93.1 751.1h0M135.1 740.3h0M138.3 741.2h0M127.7 740.5h0M121.2 744.3h0M138.5 742.9h0M137.7 747.4h0M95.9 754.7h0M125.1 748.3h0M113.5 746.4h0M97.3 752.0h0M88.9 751.9h0M135.8 743.6h0M92.8 753.3h0M114.1 747.9h0M135.5 741.8h0M111.4 748.0h0M89.4 751.3h0M137.5 743.2h0M100.7 749.9h0M137.7 745.2h0M141.2 747.9h0M91.2 755.6h0M119.1 747.8h0M93.8 753.2h0M101.4 746.9h0M111.9 745.8h0M116.8 752.2h0M139.5 747.2h0M137.2 748.2h0M122.3 751.8h0M120.0 744.5h0M93.2 750.0h0M139.7 748.0h0M102.7 751.7h0M141.7 745.9h0M133.6 752.0h0M110.3 748.9h0M104.0 754.4h0M138.0 748.9h0M90.1 754.9h0M96.3 758.1h0M88.9 756.7h0M91.0 755.8h0M112.2 755.4h0M86.4 755.0h0M140.1 752.8h0M113.4 745.4h0M137.2 743.4h0M135.9 746.8h0M109.8 746.4h0M130.3 739.1h0M96.4 751.2h0M92.0 754.7h0M89.1 758.2h0M117.9 745.4h0M132.0 739.9h0M132.2 742.9h0M87.9 754.8h0M139.0 744.3h0M122.7 751.4h0M96.6 755.1h0M140.0 740.0h0M87.2 757.7h0M106.4 748.6h0M113.0 751.9h0M143.6 746.3h0M137.7 743.2h0M138.1 747.2h0M86.2 760.3h0M132.0 750.6h0M128.1 755.7h0M138.1 744.7h0M103.2 750.5h0M134.7 742.6h0M109.2 748.3h0M102.0 746.1h0M85.4 753.8h0M140.8 742.1h0M127.6 739.2h0M95.3 754.1h0M115.1 748.1h0M107.9 756.7h0M102.7 748.5h0M97.1 756.5h0M122.7 753.8h0M129.0 739.4h0M109.8 754.9h0M112.2 745.2h0M100.9 747.5h0M129.3 742.0h0M95.2 758.1h0M110.7 752.7h0M105.9 754.1h0M117.8 744.0h0M111.9 758.2h0M124.3 739.7h0M108.0 747.6h0M97.5 755.8h0M114.7 745.9h0M91.0 750.6h0M84.5 756.6h0M105.1 749.8h0M130.4 753.2h0M88.3 747.2h0M96.6 753.6h0M121.4 749.0h0M102.0 748.3h0M139.1 745.8h0M134.0 739.7h0M138.0 750.1h0M110.2 749.4h0M88.3 757.7h0M109.1 743.6h0M97.1 749.0h0M123.0 741.4h0M97.1 752.6h0M137.0 750.1h0M90.1 758.0h0M89.2 757.9h0M100.5 746.1h0M135.5 752.3h0M105.6 744.0h0M105.9 752.6h0M137.5 744.2h0M99.4 753.5h0M92.5 755.3h0M137.7 743.0h0M106.4 745.4h0M106.0 751.0h0M87.2 758.0h0M139.5 748.7h0M115.9 744.6h0M98.4 752.0h0M137.4 749.2h0M109.3 747.8h0M95.7 751.3h0M137.2 743.8h0" fill="none" stroke="#cf1af2" stroke-width="0.8" stroke-linecap="square" opacity="0.7"/>
<path d="M165.7 755.6h0M130.6 751.6h0M83.3 757.3h0M76.0 756.1h0M93.9 767.8h0M116.4 784.1h0M101.2 760.7h0M160.7 757.3h0M86.4 755.5h0M92.2 767.9h0M139.5 780.1h0M77.2 752.0h0M127.8 780.1h0M117.4 794.5h0M167.2 755.1h0M86.5 753.5h0M166.5 753.8h0M91.5 758.9h0M137.1 770.7h0M148.1 754.6h0M137.6 761.4h0M132.0 787.4h0M106.5 790.4h0M143.4 751.7h0M147.8 749.5h0M83.1 751.3h0M84.0 784.2h0M114.9 795.6h0M156.6 760.5h0M85.3 778.9h0M98.3 762.0h0M123.8 757.2h0M92.7 752.7h0M149.7 754.9h0M101.1 754.8h0M80.9 759.7h0M161.6 757.0h0M159.2 752.2h0M82.4 785.1h0M128.3 757.0h0M110.3 748.5h0M92.6 774.8h0M92.9 755.5h0M104.5 757.9h0M123.4 795.8h0M78.4 789.8h0M150.9 763.9h0M119.9 750.6h0M159.4 752.3h0M164.7 767.2h0M123.7 783.5h0M166.1 756.3h0M167.5 751.0h0M138.5 753.4h0M164.9 764.0h0M146.2 757.4h0M99.4 760.2h0M105.8 791.4h0M174.8 752.2h0M163.0 766.3h0M157.5 747.4h0M131.6 745.1h0M139.9 764.2h0M118.4 750.9h0M87.8 762.8h0M109.4 795.8h0M108.6 793.3h0M140.6 751.8h0M148.6 751.3h0M167.2 761.3h0M90.6 774.4h0M159.9 759.0h0M86.5 772.8h0M173.6 752.9h0M169.9 747.8h0M155.3 765.7h0M159.3 757.1h0M121.5 774.9h0M154.1 758.6h0M84.0 756.8h0M105.0 749.3h0M146.8 758.6h0M84.4 754.7h0M148.6 773.4h0M146.4 759.1h0M119.9 754.7h0M163.6 751.3h0M92.9 777.5h0M91.2 755.6h0M165.1 752.8h0M173.8 750.8h0M145.8 761.5h0M96.1 753.0h0M133.2 754.3h0M154.1 751.1h0M84.3 781.9h0M144.8 754.4h0M143.0 776.5h0M134.7 776.0h0M116.2 760.5h0M130.8 773.1h0M73.4 756.5h0M169.8 747.8h0M117.0 788.7h0M154.6 765.5h0M142.3 759.7h0M109.7 791.6h0M156.1 767.7h0M81.7 756.5h0M137.4 773.6h0M127.3 781.2h0M99.9 789.5h0M126.6 778.9h0M162.7 762.1h0M106.4 754.5h0M83.7 770.4h0M72.9 757.1h0M121.7 789.3h0M93.5 747.0h0M168.7 759.9h0M95.0 756.3h0M161.0 757.0h0M103.9 754.5h0M115.1 778.9h0M138.4 767.7h0M96.5 757.7h0M146.3 750.2h0M107.9 781.2h0M103.7 754.5h0M139.7 764.2h0M145.8 763.6h0M170.6 750.1h0M162.1 747.0h0M86.5 753.0h0M109.9 742.0h0M133.4 781.7h0M135.8 754.9h0M116.6 785.6h0M94.8 755.8h0M147.9 776.6h0M142.4 742.0h0M77.9 769.1h0M161.5 739.1h0M143.2 738.2h0M137.0 743.5h0M151.5 750.3h0M80.1 790.8h0M97.2 745.7h0M106.9 749.1h0M82.0 760.8h0M129.0 780.0h0M104.9 740.3h0M155.4 751.2h0M159.6 764.3h0M89.9 757.1h0M161.5 753.7h0M111.4 795.0h0M101.7 752.1h0M130.2 784.5h0M142.0 755.2h0M116.5 749.5h0M77.6 763.6h0M127.5 742.8h0M84.6 760.5h0M97.1 794.3h0M120.7 759.5h0M167.5 763.7h0M132.7 770.9h0M130.9 757.6h0M113.5 795.4h0M101.6 778.2h0M83.2 791.3h0M164.7 758.1h0M119.6 758.0h0M128.2 745.6h0M97.7 761.2h0M127.9 782.3h0M165.4 760.2h0M142.5 764.9h0M129.1 759.7h0M163.9 743.0h0M126.9 791.4h0M87.6 781.8h0M105.0 761.7h0M89.5 752.0h0M113.1 749.6h0M157.4 754.2h0M88.9 764.7h0M127.5 775.3h0M85.2 762.2h0M81.6 757.2h0M128.6 786.8h0M79.3 767.5h0M96.9 744.7h0M123.7 751.3h0M141.6 758.0h0M162.6 762.2h0M148.0 749.5h0M90.2 766.9h0M162.8 760.2h0M142.5 747.8h0M86.7 778.9h0M84.9 752.6h0M174.6 759.2h0M113.4 792.4h0M156.0 767.4h0M83.4 786.2h0M89.2 776.3h0M107.1 746.4h0M163.3 761.6h0M111.7 751.9h0M127.4 744.3h0M123.6 745.5h0M110.5 751.5h0M152.2 762.8h0M91.1 735.6h0M145.4 776.4h0M86.0 760.2h0M89.4 766.3h0M92.3 751.2h0M94.1 754.8h0M82.2 757.2h0M138.7 750.2h0M81.1 765.0h0M79.2 750.7h0M140.1 768.8h0M129.5 744.6h0M169.4 758.5h0M133.0 754.6h0M87.2 793.7h0M115.6 747.7h0M88.4 788.9h0M137.0 775.2h0M101.8 743.0h0M151.8 748.3h0M98.4 785.8h0M111.0 790.5h0M115.5 754.8h0M88.8 771.3h0M151.9 758.7h0M125.7 778.5h0M118.6 794.7h0M81.9 786.4h0M91.5 769.1h0M87.8 758.1h0M81.1 777.9h0M85.6 766.4h0M147.0 771.6h0M75.7 767.2h0M123.4 793.2h0M83.3 761.2h0M139.4 776.2h0M120.8 780.9h0M117.9 787.8h0M165.0 760.1h0M140.1 771.2h0M132.1 755.2h0M107.7 756.7h0M146.2 768.2h0M122.2 773.8h0M87.5 757.7h0M105.1 755.7h0M136.3 749.2h0M143.7 757.8h0M96.9 767.3h0M109.7 790.4h0M93.7 774.0h0M168.4 761.1h0M102.4 752.6h0M137.2 749.6h0M114.5 779.0h0M86.8 764.0h0M170.0 762.7h0M113.9 760.1h0M153.0 762.9h0M127.8 748.9h0M95.5 759.3h0M116.4 752.2h0M102.9 763.5h0M92.3 765.6h0M155.1 758.1h0M82.3 764.8h0M154.9 757.2h0M153.5 758.1h0M90.2 754.2h0M90.7 766.0h0M159.6 767.0h0M78.0 748.4h0M98.4 762.0h0M108.2 761.4h0M145.3 776.5h0M122.2 744.1h0M146.3 776.9h0M105.6 787.9h0M89.4 763.7h0M148.9 763.4h0M109.5 768.5h0M128.7 743.7h0M146.8 771.8h0M124.4 747.1h0M109.8 759.4h0M174.6 747.2h0M132.0 767.4h0M117.8 788.9h0M78.5 756.4h0M137.1 770.1h0M167.7 755.8h0M154.6 756.2h0M84.0 785.3h0M109.2 780.9h0M155.9 775.0h0M153.9 758.7h0M118.3 789.4h0M149.5 757.0h0M147.3 766.1h0M87.8 754.1h0M101.9 794.8h0M85.7 764.8h0M112.6 748.9h0M85.1 765.9h0M129.5 740.8h0M130.5 744.7h0M117.1 756.0h0M115.3 753.9h0M173.8 751.5h0M118.3 773.9h0M163.1 753.9h0M114.4 749.7h0M116.0 762.1h0M120.4 790.5h0M157.3 750.6h0M81.9 742.6h0M93.2 784.0h0M129.4 746.9h0M100.5 745.5h0M139.7 749.2h0M164.7 742.2h0M80.7 763.6h0M166.1 750.7h0M131.6 786.3h0M106.3 760.2h0M138.3 762.4h0M126.8 792.5h0M126.1 791.5h0M141.3 765.3h0M81.4 751.7h0M95.1 767.9h0M119.5 786.5h0M81.1 768.1h0M119.2 751.4h0M173.7 761.1h0M113.0 750.2h0M163.0 754.1h0M143.4 744.5h0M93.8 753.2h0M118.9 759.3h0M159.1 756.1h0M170.3 752.7h0M169.0 747.5h0M102.9 789.7h0M104.8 752.8h0M101.6 788.5h0M132.4 793.6h0M154.4 772.1h0M129.3 751.6h0M126.1 758.4h0M82.4 790.3h0M81.0 765.8h0M86.1 761.6h0M116.4 752.1h0M104.7 747.7h0M125.3 772.4h0M142.9 747.2h0M133.9 775.4h0M102.6 745.3h0M85.4 767.7h0M156.8 751.2h0M164.1 753.9h0M127.9 757.5h0M100.1 790.9h0M99.3 755.6h0M113.6 791.1h0M116.2 795.5h0M127.6 748.2h0M92.0 760.3h0M122.4 793.5h0M83.9 766.1h0M146.8 757.0h0M165.7 754.0h0M152.7 754.2h0M152.4 756.9h0M99.9 754.3h0M88.1 750.1h0M106.2 788.1h0M124.5 775.8h0M116.9 790.2h0M82.2 763.1h0M167.8 744.7h0M110.2 746.6h0M148.9 757.0h0M163.1 756.4h0M108.5 750.2h0M118.0 757.0h0M86.2 752.7h0M95.0 775.8h0M121.5 792.1h0M132.4 738.6h0M148.1 772.8h0M88.1 772.7h0M147.5 762.1h0M88.9 765.7h0M85.8 758.5h0M92.3 762.2h0M164.7 753.7h0M140.5 764.7h0M143.4 768.9h0M140.9 771.4h0M112.3 788.1h0M77.5 757.1h0M85.9 774.3h0M146.6 761.9h0M136.3 751.2h0M162.0 751.7h0M123.6 760.8h0M155.5 729.4h0M95.0 751.2h0M111.2 755.3h0M140.6 765.6h0M159.2 755.8h0M111.6 793.6h0M110.4 794.6h0M123.1 748.9h0M114.7 745.4h0M84.6 766.7h0M143.1 743.1h0M101.2 786.0h0M168.8 748.0h0M165.1 755.2h0M116.1 738.5h0M91.5 750.3h0M162.1 748.3h0M95.5 777.1h0M80.9 758.6h0M90.2 791.1h0M130.9 766.8h0M87.8 759.6h0M131.4 743.0h0M129.6 780.0h0M115.6 755.6h0M151.1 751.3h0M133.6 774.2h0M164.3 760.4h0M94.4 764.9h0M72.6 768.7h0M89.5 793.7h0M168.6 758.7h0M137.6 782.6h0M124.8 743.4h0M157.3 759.7h0M93.7 757.9h0M116.0 793.7h0M136.5 749.3h0M143.2 780.8h0M131.8 781.9h0M93.9 753.0h0M122.8 743.6h0M112.2 793.2h0M112.6 787.2h0M138.2 768.4h0M150.6 767.0h0M88.3 760.4h0M138.2 765.3h0M147.9 749.8h0M126.1 759.2h0M129.4 755.0h0M85.2 777.4h0M92.9 766.1h0M85.9 765.9h0M119.5 781.0h0M95.6 754.9h0M156.7 768.6h0M101.0 792.9h0M170.6 755.3h0M153.1 763.1h0M102.2 752.6h0M151.6 777.4h0M121.5 778.2h0M113.1 751.5h0M124.8 778.2h0M145.9 753.9h0M152.9 758.7h0M129.5 753.1h0M111.8 749.2h0M112.1 755.8h0M72.6 768.7h0M113.6 752.1h0M124.9 794.2h0M138.9 770.6h0M89.4 755.5h0M170.9 765.6h0M133.5 747.9h0M116.4 783.0h0M125.2 771.4h0M83.8 751.0h0M110.5 748.0h0M125.3 752.1h0M113.3 789.8h0M171.2 747.4h0M126.2 786.3h0M105.2 755.5h0M86.4 754.9h0M149.3 749.4h0M82.6 751.9h0M149.8 750.8h0M123.6 791.5h0M84.0 748.5h0M87.0 787.7h0M131.4 754.2h0M140.0 763.3h0M106.7 748.2h0M85.7 765.2h0M157.2 751.9h0M89.1 786.6h0M91.2 758.5h0M137.4 749.8h0M157.1 746.6h0M133.0 746.1h0M81.8 753.9h0M111.9 788.3h0M129.8 752.6h0M136.3 761.1h0M136.2 789.7h0M165.1 743.2h0M83.2 771.1h0M80.2 759.3h0M125.7 747.1h0M121.9 751.1h0M140.2 778.2h0M115.1 784.8h0M165.3 750.0h0M83.3 763.0h0M100.7 752.0h0M110.4 748.0h0M91.8 752.5h0M105.5 786.0h0M163.3 753.8h0M90.2 773.5h0M80.0 745.1h0M88.8 765.8h0M172.4 750.9h0M86.2 754.2h0M98.1 735.4h0M96.3 758.4h0M152.1 751.9h0M162.0 758.9h0M130.2 736.3h0M96.3 794.3h0M129.3 739.6h0M105.7 757.5h0M90.1 776.3h0M158.8 755.7h0M132.7 741.2h0M110.6 747.3h0M123.1 750.8h0M70.6 757.8h0M89.0 751.0h0M165.2 749.0h0M133.2 775.9h0M171.7 767.4h0M171.4 755.7h0M152.3 745.6h0M168.0 746.6h0M131.2 752.0h0M149.3 753.9h0M152.3 756.5h0M83.3 774.7h0M151.8 767.9h0M106.3 793.6h0M122.8 752.7h0M82.8 760.1h0M113.1 777.5h0M87.2 768.3h0M113.9 790.7h0M99.4 754.6h0M83.6 751.5h0M140.5 778.0h0M108.4 788.3h0M129.9 748.8h0M153.9 768.2h0M117.9 747.6h0M127.8 783.9h0M129.1 740.4h0M104.5 792.0h0M136.3 784.3h0M86.5 761.0h0M134.3 756.0h0M164.5 762.9h0M174.1 751.2h0M146.4 740.6h0M159.7 758.9h0M156.6 766.6h0M150.9 741.2h0M159.4 757.5h0M135.7 746.3h0M162.8 755.5h0M170.7 763.5h0M94.1 792.8h0M146.3 774.9h0M95.8 749.7h0M173.2 749.3h0M126.5 784.7h0M131.7 749.8h0M131.9 771.4h0M161.2 753.7h0M164.1 756.2h0M102.9 763.6h0M95.3 761.1h0M158.7 756.8h0M79.8 761.4h0M163.2 749.7h0M163.6 747.4h0M134.2 758.7h0M147.8 748.1h0M152.9 753.4h0M93.6 793.6h0M100.5 752.3h0M152.4 744.7h0M120.5 781.0h0M120.1 794.5h0M117.1 789.1h0M148.4 748.1h0M147.4 740.0h0M91.8 778.7h0M90.5 753.3h0M160.2 753.9h0M100.6 758.2h0M144.7 767.0h0M103.0 750.1h0M121.6 790.3h0M81.7 777.7h0M104.0 750.0h0M151.1 761.2h0M163.7 750.3h0M82.8 783.5h0M159.3 763.1h0M107.1 759.3h0M165.4 745.0h0M163.9 756.4h0M141.6 747.9h0M136.4 770.9h0M131.5 748.0h0M157.9 755.7h0M99.2 754.2h0M128.5 743.4h0M164.2 759.0h0M89.0 786.0h0M83.6 779.4h0M151.1 743.7h0M103.4 762.1h0M153.4 746.4h0M131.5 788.8h0M84.3 760.7h0M81.3 765.3h0M80.3 757.7h0M86.6 776.7h0M135.1 763.7h0M132.3 746.6h0M86.9 760.3h0M100.1 778.4h0M99.1 790.9h0M124.7 782.0h0M124.9 746.6h0M167.6 771.4h0M140.5 760.6h0M136.5 748.9h0M88.7 781.8h0M89.3 750.9h0M115.3 777.9h0M109.1 791.9h0M156.1 761.3h0M93.9 795.7h0M166.7 749.0h0M100.0 754.7h0M154.2 757.5h0M171.8 754.2h0M114.4 779.0h0M115.1 755.3h0M111.1 758.1h0M161.0 757.7h0M172.1 759.7h0M133.6 773.3h0M97.4 746.8h0M110.7 783.0h0M151.1 758.8h0M95.8 783.6h0M111.4 748.5h0M135.5 760.6h0M111.7 791.5h0M134.1 746.8h0M113.0 792.7h0M147.9 756.5h0M154.6 745.5h0M159.2 758.1h0M90.5 754.0h0M163.9 751.6h0M117.8 786.9h0M86.0 768.9h0M141.6 766.6h0M80.5 756.5h0M154.1 735.7h0M148.0 755.0h0M117.3 756.6h0M111.8 790.2h0M118.5 757.0h0M86.3 745.9h0M165.8 745.8h0M139.6 748.5h0M82.0 760.5h0M96.0 749.4h0M120.4 757.0h0M147.4 767.7h0M105.7 752.3h0M98.4 747.7h0M179.1 753.5h0M114.6 752.9h0M171.9 760.7h0M90.6 794.5h0M138.9 749.1h0M159.6 747.5h0M94.1 762.6h0M116.5 761.6h0M171.2 745.1h0M148.8 758.4h0M108.1 790.5h0M164.7 752.2h0M167.5 761.6h0M98.1 743.0h0M89.2 774.7h0M134.9 744.5h0M78.8 792.5h0M76.8 770.5h0M183.0 745.5h0M93.9 752.2h0M143.3 758.4h0M120.6 783.5h0M115.2 757.6h0M153.3 755.6h0M140.6 763.8h0M153.5 767.7h0M165.3 750.1h0M139.2 771.5h0M120.9 756.4h0M157.0 758.6h0M93.1 792.5h0M136.9 745.2h0M89.9 755.7h0M163.6 756.2h0M133.4 771.4h0M172.1 748.9h0M109.6 751.7h0M166.6 759.3h0M114.4 748.9h0M113.9 794.7h0M72.8 757.1h0" fill="none" stroke="#cf1af2" stroke-width="0.7" stroke-linecap="square" opacity="0.4"/>
<path d="M181.1 735.1h0M183.6 731.4h0M174.4 749.1h0M163.2 754.5h0M163.5 753.9h0M168.6 752.8h0M178.9 742.6h0M171.2 747.1h0M174.4 752.2h0M182.0 738.0h0M181.5 741.6h0M174.2 751.9h0M169.5 759.8h0M179.7 740.6h0M185.7 735.7h0M180.1 746.0h0M170.8 749.5h0M168.7 751.4h0M183.0 739.9h0M192.3 727.2h0M174.5 741.2h0M170.2 747.4h0M168.9 746.5h0M168.4 748.9h0M173.6 753.7h0M171.1 748.1h0M169.8 743.2h0M180.2 735.2h0M170.2 756.0h0M185.9 728.2h0M174.9 755.5h0M183.6 735.8h0M179.7 734.4h0M173.3 745.2h0M178.8 740.7h0M175.5 740.9h0M168.3 753.8h0M176.5 744.5h0M167.7 755.4h0M189.4 735.4h0M177.8 747.3h0M170.7 744.6h0M177.6 738.7h0M174.1 746.2h0M187.9 732.9h0M169.7 751.5h0M194.1 738.1h0M172.9 743.4h0M176.0 744.5h0M180.9 733.0h0M173.3 754.9h0M187.5 732.6h0M179.0 738.1h0M171.4 750.4h0M177.8 736.0h0M166.9 750.1h0M169.1 746.9h0M171.4 752.9h0M178.0 752.4h0M180.1 737.9h0M175.5 742.0h0M185.4 725.3h0M186.6 728.6h0M166.0 755.1h0M176.9 748.8h0M179.7 743.9h0M170.6 750.0h0M169.5 756.0h0M188.3 731.3h0M167.2 757.4h0M180.8 733.5h0M185.0 737.1h0M172.2 754.6h0M169.5 751.6h0M172.7 749.4h0M173.1 747.7h0M188.6 729.6h0M173.5 749.9h0M175.1 736.0h0M191.1 732.6h0M191.8 740.6h0M175.1 738.2h0M166.2 756.3h0M180.8 744.0h0M167.1 750.4h0M186.2 737.2h0M174.9 750.9h0M182.2 744.5h0M171.1 749.5h0M173.4 743.2h0M175.7 748.0h0M167.1 757.1h0M174.5 742.8h0M172.7 746.9h0M175.9 740.9h0M180.3 745.9h0M184.8 730.3h0M171.9 752.3h0M170.5 751.0h0M184.1 733.1h0M175.0 751.7h0M172.7 748.6h0M184.8 734.1h0M184.3 732.5h0M182.3 749.4h0M178.8 741.0h0M182.3 729.8h0M176.4 739.1h0M184.7 739.7h0M166.6 750.5h0M184.7 742.8h0M185.2 730.5h0M186.3 735.3h0M171.5 750.0h0M169.3 757.3h0M173.8 748.5h0M180.4 733.3h0M170.7 748.4h0M170.7 749.1h0M178.2 742.4h0M170.1 755.9h0M173.6 752.3h0M169.6 749.6h0M176.2 742.4h0M178.1 742.3h0M187.3 732.8h0M166.9 753.3h0M181.6 740.6h0M173.5 746.4h0M168.7 748.6h0M181.0 740.0h0M181.9 744.4h0M167.8 754.4h0M169.0 750.2h0M172.8 748.9h0M171.5 748.7h0M167.0 744.4h0M169.9 751.6h0M172.8 745.1h0M174.7 751.3h0M164.5 749.1h0M169.1 742.4h0M189.4 740.1h0M164.4 741.6h0M179.2 749.5h0M179.9 740.2h0M166.0 752.9h0M173.4 755.0h0M178.2 751.2h0M169.2 755.7h0M168.3 753.3h0M173.1 740.5h0M174.6 738.7h0M176.6 745.2h0M187.4 730.5h0M177.3 743.5h0M168.3 749.2h0M183.7 744.8h0M185.3 732.8h0M167.4 750.2h0M174.6 757.5h0M187.2 729.4h0M174.8 750.9h0M183.5 742.0h0M170.7 747.3h0M176.6 743.9h0M175.5 748.0h0M181.6 740.4h0M188.6 739.5h0M183.5 738.5h0M166.0 760.4h0M177.3 745.9h0M183.6 739.3h0M182.2 738.1h0M171.9 752.6h0M171.4 745.4h0M170.1 743.3h0M182.8 737.0h0M175.2 751.7h0M179.4 739.6h0M181.8 740.3h0M185.3 732.4h0M169.5 751.8h0M175.8 744.1h0M186.4 725.2h0M183.4 738.0h0M182.4 733.3h0M169.5 751.2h0M168.9 750.6h0M183.1 732.2h0M168.4 751.9h0M168.3 757.8h0M184.0 732.8h0M174.0 749.0h0M190.2 731.3h0M187.6 735.0h0M175.5 749.9h0M168.1 760.0h0M180.9 740.8h0M171.7 748.1h0M183.6 734.0h0M185.5 730.7h0M183.4 745.5h0M172.3 751.6h0M171.9 748.0h0M162.1 746.7h0M172.9 745.8h0M185.7 732.4h0M170.4 754.8h0M178.8 748.9h0M171.7 752.6h0M176.0 747.1h0M180.6 737.2h0M169.2 755.2h0M188.2 734.7h0M188.6 732.9h0M165.2 754.1h0M181.0 742.7h0M192.0 734.3h0M182.4 742.7h0M179.7 742.1h0M168.6 754.9h0M179.6 737.2h0M171.5 752.2h0M171.7 746.3h0M169.9 751.4h0M182.6 736.5h0M182.4 736.1h0M171.4 754.8h0M173.5 752.7h0M178.8 741.7h0M166.8 758.8h0M187.2 733.0h0M168.3 754.5h0M178.0 754.3h0M186.7 738.6h0M174.8 743.6h0M180.4 739.9h0M187.1 740.5h0M173.6 754.1h0M175.4 740.7h0M179.3 745.3h0M188.1 737.1h0M188.5 729.9h0M189.1 728.9h0M185.3 736.9h0M171.7 742.3h0M170.2 754.2h0M175.2 742.2h0M170.2 749.8h0M169.3 753.7h0M169.5 750.9h0M177.2 755.2h0M186.4 734.7h0M191.0 730.6h0M182.8 745.2h0M167.2 750.0h0M189.5 736.1h0M173.5 743.9h0M175.5 750.2h0M183.8 736.3h0M178.9 742.1h0M183.7 739.4h0M178.9 745.1h0M184.3 751.7h0M174.3 745.8h0M181.6 743.7h0M188.6 732.4h0M168.4 751.7h0M179.6 746.0h0M175.9 747.5h0M166.9 756.2h0M174.5 742.9h0M169.0 749.7h0M181.5 738.6h0M180.3 741.1h0M186.7 727.5h0M189.5 726.6h0M167.9 754.5h0M175.4 746.9h0M167.5 751.7h0M172.8 739.7h0M176.2 746.4h0M172.1 750.8h0M174.8 735.3h0M188.0 731.4h0M166.9 747.2h0M170.7 758.4h0M181.0 746.6h0M180.1 751.4h0M183.4 733.9h0M167.3 761.5h0M171.1 743.5h0M178.7 739.8h0M180.7 736.9h0M170.6 748.3h0M167.2 750.2h0M174.5 748.8h0M173.4 755.6h0M181.4 739.4h0M172.8 749.9h0M182.1 736.3h0M175.4 736.9h0M172.6 747.0h0M173.5 745.7h0M190.5 733.3h0M191.6 735.2h0M172.7 747.1h0M180.1 734.2h0M169.4 740.3h0M175.6 741.6h0M183.2 739.4h0M168.0 752.1h0M183.1 742.7h0M186.5 742.3h0M170.8 749.3h0M174.3 745.1h0M171.5 744.5h0M170.7 746.7h0M189.5 736.7h0M166.4 756.4h0M178.0 746.6h0M189.1 735.0h0M173.9 749.2h0M185.3 730.8h0M170.8 749.2h0M163.4 755.1h0M171.1 751.7h0M189.8 739.2h0M184.4 737.8h0M188.3 731.5h0M165.6 751.5h0M169.9 749.8h0M174.1 743.2h0M181.4 736.9h0M167.4 750.7h0M182.8 730.2h0M186.3 732.6h0M182.1 746.9h0M165.9 752.5h0M179.8 739.4h0M168.0 748.3h0M173.0 740.2h0M185.6 733.3h0M171.3 753.5h0M177.9 739.9h0M186.9 739.5h0M181.7 740.6h0M172.7 749.0h0M173.5 750.7h0M175.0 743.3h0M169.0 757.2h0M166.2 749.7h0M177.5 743.4h0M179.9 743.9h0M172.4 748.7h0M188.6 734.4h0M176.2 745.1h0M192.0 730.6h0M168.3 750.8h0M180.3 743.2h0M181.2 747.3h0M168.4 757.8h0M168.7 751.8h0M173.3 746.6h0M180.4 743.4h0M182.4 735.4h0M179.0 738.5h0M184.4 734.0h0M167.6 751.7h0M183.6 739.3h0M186.2 733.0h0M169.2 751.5h0M175.8 745.1h0M166.6 740.9h0M172.4 749.1h0M176.2 750.6h0M174.0 746.1h0M174.4 745.4h0M178.7 739.8h0M180.6 740.6h0M175.9 738.8h0M175.9 741.6h0M166.5 747.1h0M172.9 746.0h0M188.3 730.0h0M188.9 731.2h0M171.8 754.9h0M176.6 750.3h0M179.3 744.1h0M179.7 739.6h0M171.5 756.1h0M180.1 744.9h0M169.1 743.1h0M183.4 733.8h0M176.7 744.9h0M172.5 750.1h0M190.6 728.8h0M174.8 741.2h0M188.2 735.9h0M183.2 740.9h0M186.3 727.5h0M178.8 745.5h0M178.0 735.1h0M169.1 746.8h0M173.9 745.7h0M181.0 739.0h0M167.2 755.9h0M181.0 744.9h0M170.6 750.8h0M184.2 734.4h0M189.4 729.4h0M188.4 731.7h0M170.5 749.0h0M174.3 744.8h0M176.1 746.3h0M179.3 740.0h0M185.8 733.4h0M173.1 742.8h0M183.0 736.4h0M169.5 753.2h0M184.6 732.9h0M171.9 747.3h0M172.1 748.8h0M167.9 754.4h0M165.0 756.1h0M172.0 749.8h0M178.8 742.0h0M184.4 733.4h0M172.4 743.5h0M189.6 734.5h0M172.1 751.0h0M182.7 744.4h0M183.2 736.2h0M187.7 728.7h0M169.3 749.7h0M180.1 738.2h0M168.7 758.0h0M166.6 760.3h0M169.9 750.9h0M175.2 749.2h0M190.5 738.2h0M183.2 735.0h0M173.9 745.4h0M184.0 738.3h0M188.6 726.9h0M175.8 752.1h0M169.7 758.2h0M171.1 749.1h0M174.6 745.1h0M172.9 739.3h0M183.3 738.4h0M180.0 742.3h0M176.2 741.2h0M182.0 741.8h0M166.8 758.6h0M172.1 746.7h0M189.9 727.9h0M179.4 744.9h0M172.2 755.0h0M171.7 754.7h0M186.9 725.7h0M189.6 735.3h0M174.3 757.2h0M187.1 743.8h0M189.5 733.4h0M188.7 734.6h0M185.5 734.4h0M184.9 728.1h0M176.3 740.0h0M176.6 747.4h0M196.9 729.9h0M186.5 734.1h0M177.0 743.6h0M189.2 728.1h0M164.5 748.7h0M167.0 751.8h0M171.5 752.6h0M171.2 750.1h0M171.8 739.3h0M171.1 749.4h0M172.7 754.8h0M164.9 751.5h0M180.0 750.2h0M179.1 744.0h0M176.1 743.7h0M175.3 746.6h0M181.7 740.4h0M175.7 750.8h0M181.7 743.1h0M176.4 748.9h0M188.0 737.9h0M170.8 752.8h0M175.1 745.7h0M170.4 755.7h0M182.9 730.9h0M169.4 748.8h0M170.3 747.3h0M167.2 750.8h0M175.6 746.2h0M185.7 739.0h0M181.0 741.2h0M175.5 746.6h0M177.2 744.4h0M184.2 733.4h0M169.6 753.4h0M179.3 733.2h0M164.5 752.5h0M184.0 747.1h0M166.0 753.0h0M179.1 743.3h0M175.2 740.6h0M185.7 732.4h0M188.4 738.1h0M163.9 760.9h0M169.9 751.9h0M165.7 747.3h0M179.0 740.3h0M174.2 744.3h0M187.3 746.2h0M165.9 754.6h0M190.3 725.0h0M174.7 745.1h0M170.9 752.9h0M184.0 736.5h0M173.6 763.1h0M169.6 755.5h0M172.9 747.4h0M178.9 741.3h0M185.4 741.0h0M172.9 754.7h0M188.9 731.0h0M175.2 745.0h0M176.2 746.4h0M172.0 750.0h0M173.2 750.5h0M185.5 736.3h0M169.0 746.1h0M179.0 744.6h0M181.4 754.1h0M173.8 755.6h0M182.0 733.5h0M187.6 731.1h0M170.8 748.8h0M178.5 742.6h0M184.6 738.8h0M180.9 736.4h0M188.7 730.1h0M189.5 732.6h0M180.8 740.3h0M168.0 745.8h0M165.1 753.0h0M175.5 741.5h0M168.3 751.1h0M179.8 747.4h0M165.3 748.3h0M176.3 746.4h0M183.9 735.0h0M172.1 756.4h0M175.5 748.7h0M169.3 756.2h0M164.6 753.7h0M186.6 731.9h0M165.5 752.3h0M182.8 739.6h0M176.3 752.1h0M167.9 749.6h0M172.7 739.9h0M180.1 743.6h0M187.1 733.5h0M183.5 748.1h0M181.1 735.2h0M171.3 749.4h0M183.7 736.8h0M188.1 739.5h0M185.0 735.2h0M180.3 745.5h0M179.1 741.3h0M178.1 743.0h0M176.6 745.2h0M171.5 754.2h0M178.9 741.3h0M177.5 738.0h0M175.9 734.8h0M186.9 734.7h0M166.5 756.9h0M178.5 744.9h0M184.0 744.9h0M184.1 734.6h0M184.9 736.3h0M175.1 741.5h0M189.4 732.6h0M183.7 735.5h0M190.1 729.5h0M177.6 749.9h0M183.0 732.0h0M170.3 747.9h0M167.1 755.9h0M184.1 736.4h0M183.8 736.4h0M177.6 749.3h0M173.9 750.2h0M175.4 746.4h0M175.9 742.8h0M173.6 746.7h0M187.8 729.9h0M184.1 731.4h0M169.9 757.3h0M180.3 736.8h0M169.0 756.0h0M185.0 728.3h0M167.9 757.5h0M186.1 732.0h0M175.4 748.7h0M179.4 738.7h0M168.5 742.9h0M183.9 741.9h0M186.2 737.2h0M173.6 753.2h0M177.0 741.6h0M165.6 758.3h0M169.8 742.8h0M166.3 752.7h0M174.3 748.4h0M180.3 733.3h0M185.3 731.8h0M175.4 746.6h0M179.8 737.1h0M170.2 749.3h0M188.3 735.1h0M178.7 741.5h0M164.7 760.1h0M177.1 738.2h0M182.4 745.8h0M167.0 746.9h0M175.0 745.2h0M173.4 751.3h0M180.0 736.9h0M180.1 740.3h0M185.9 745.1h0M179.3 737.1h0M174.0 743.6h0M176.2 745.5h0M187.1 731.4h0M172.8 758.4h0M166.9 748.6h0M173.9 753.6h0M170.7 754.4h0M181.2 736.6h0M178.0 736.7h0M182.3 735.8h0M188.6 727.0h0M176.6 748.0h0M175.4 748.6h0M180.5 736.2h0M175.7 740.6h0M165.1 754.8h0M176.8 741.7h0M181.0 744.5h0M171.7 745.7h0M170.7 750.5h0M183.8 736.3h0M178.8 743.8h0M176.8 739.1h0M177.2 749.6h0M178.9 747.1h0M172.3 747.3h0M164.2 751.5h0M178.7 745.7h0M177.6 739.4h0M177.3 740.9h0M192.1 732.3h0M183.8 735.7h0M172.4 742.1h0M170.7 751.5h0M179.2 742.1h0M172.4 748.8h0M188.4 735.4h0M171.2 743.7h0M182.2 729.6h0M170.3 752.9h0M170.9 751.5h0M178.5 747.6h0M189.8 734.3h0M174.9 757.7h0M176.0 741.4h0M188.0 735.7h0M179.5 738.5h0M186.8 731.3h0M195.5 731.3h0M182.5 742.2h0M179.3 747.7h0M184.9 734.2h0M169.6 748.0h0M174.9 736.5h0M185.3 742.5h0M168.1 756.5h0M186.1 729.9h0M181.6 744.9h0M165.9 753.5h0M170.3 748.1h0M174.6 748.0h0M168.6 757.6h0M179.1 745.0h0M180.5 739.2h0M167.3 751.9h0M179.1 741.1h0M177.3 738.3h0M174.5 741.4h0M180.9 739.7h0M172.8 740.8h0M171.4 755.0h0M184.9 734.8h0M178.3 739.2h0M183.6 736.6h0M174.6 738.7h0M181.6 738.9h0M189.4 728.0h0M181.3 737.7h0M182.4 741.4h0M169.2 746.0h0M178.5 741.4h0M186.3 733.7h0M166.6 755.9h0M181.8 742.4h0M168.1 753.8h0M169.0 755.6h0M173.4 748.1h0M188.1 737.2h0M162.6 760.2h0M179.6 739.2h0M187.3 736.2h0M182.3 736.2h0M177.0 735.2h0M185.3 735.1h0M166.5 756.8h0M161.8 755.3h0M185.7 725.5h0M166.8 764.5h0M183.7 744.7h0M173.5 753.9h0M193.0 729.5h0M170.5 741.6h0M168.0 757.4h0M172.6 754.7h0M190.8 735.1h0M167.5 762.7h0M178.6 740.8h0M186.8 727.6h0M181.4 733.9h0M183.2 736.8h0M168.7 747.6h0M177.4 744.0h0M182.8 737.6h0M165.3 755.0h0M188.4 730.2h0M171.6 744.6h0M168.6 749.4h0M167.2 755.8h0M176.3 743.8h0M186.5 739.3h0M175.2 748.3h0M166.1 747.3h0M184.6 727.4h0M169.6 750.8h0M188.0 729.4h0M182.7 731.5h0M171.2 754.0h0M184.7 740.4h0M170.3 756.8h0M179.6 751.8h0M181.5 735.9h0M176.5 744.4h0M184.0 737.7h0M173.4 746.2h0M171.4 744.1h0M190.2 735.9h0M186.5 732.7h0M163.8 749.9h0M176.4 740.2h0M187.3 734.4h0M180.4 734.1h0M178.5 737.6h0M168.9 748.6h0M174.5 748.5h0M179.0 748.0h0M186.1 728.9h0M180.2 740.9h0M183.0 739.6h0M188.4 732.2h0M189.5 733.9h0M174.1 739.7h0M178.4 731.7h0M176.8 744.4h0M182.3 726.9h0M175.4 741.4h0M182.2 739.1h0M189.7 733.3h0M180.0 742.3h0M184.0 735.1h0M165.3 738.3h0M153.5 724.5h0M173.4 740.6h0M169.2 730.0h0M184.5 727.6h0M170.9 738.9h0M151.1 734.3h0M178.2 732.2h0M158.0 741.7h0M189.1 737.0h0M168.6 742.6h0M150.6 738.4h0M171.2 727.7h0M153.7 731.7h0M182.6 740.2h0M163.4 732.3h0M161.2 725.8h0M170.3 737.5h0M154.6 728.7h0M153.2 725.9h0M170.1 734.4h0M188.2 744.9h0M180.5 741.6h0M159.6 739.8h0M156.7 744.5h0M182.6 733.3h0M180.9 734.0h0M175.6 736.5h0M162.7 725.2h0M160.1 743.8h0M185.7 728.2h0M187.3 724.8h0M184.8 732.4h0M150.4 733.9h0M159.3 732.0h0M188.0 740.3h0M187.4 730.2h0M170.9 733.3h0M187.7 742.4h0M186.3 733.4h0M181.9 731.4h0M168.1 740.1h0M168.4 743.6h0M158.9 739.9h0M171.0 733.9h0M181.4 740.7h0M169.8 728.4h0M178.2 738.0h0M153.9 739.5h0M151.8 738.0h0M156.6 738.4h0M150.7 736.2h0M178.6 727.8h0M167.3 741.7h0M182.0 733.7h0M151.0 740.2h0M161.5 725.0h0M182.8 741.7h0M172.7 743.6h0M150.8 729.9h0M174.5 743.4h0M181.1 741.5h0M169.5 735.0h0M154.9 739.9h0M178.7 743.8h0M177.8 725.3h0M172.1 737.6h0M167.3 744.9h0M177.1 728.8h0M162.0 727.8h0M175.4 724.6h0M181.6 729.4h0M171.7 725.1h0M171.2 740.7h0M167.9 733.1h0M166.4 738.1h0M158.3 726.9h0M176.0 741.6h0M157.1 728.6h0M158.8 726.1h0M179.1 737.0h0M165.4 730.5h0M153.7 739.3h0M185.4 741.0h0M151.6 725.6h0M183.0 744.4h0M159.9 740.1h0M161.5 729.6h0M178.7 743.2h0M189.7 731.4h0M184.6 742.2h0M165.1 737.7h0M183.5 727.2h0M188.1 742.0h0M157.6 740.1h0M151.0 742.6h0M179.6 739.5h0M153.2 734.9h0M157.7 742.4h0M161.0 741.3h0M186.8 744.0h0M171.9 729.0h0M172.0 730.3h0M154.6 734.1h0M163.7 726.8h0M150.9 744.1h0M173.3 725.6h0M188.4 733.6h0M154.0 736.6h0M161.0 744.9h0M166.4 736.5h0M162.7 738.3h0M162.8 736.0h0M150.9 737.2h0M157.1 728.1h0M183.4 731.1h0M150.8 732.1h0M153.0 730.1h0M178.1 728.8h0M189.7 729.0h0M163.2 730.9h0M169.7 734.3h0M161.8 729.2h0M171.5 738.7h0M173.0 731.9h0M159.8 742.2h0M188.2 733.6h0M176.5 736.8h0M184.5 730.7h0M187.0 733.3h0M150.3 731.7h0M185.4 737.7h0M168.8 726.9h0M179.4 741.5h0M151.3 732.6h0M168.3 739.2h0M158.2 731.0h0M161.2 744.4h0M185.8 731.9h0M167.6 728.7h0M160.1 741.2h0M180.7 734.3h0M173.0 742.2h0M182.7 742.1h0M151.1 736.8h0M160.7 724.1h0M187.3 724.8h0M184.8 725.2h0M163.1 739.2h0M168.3 737.5h0M174.1 724.3h0M187.1 743.1h0M186.8 735.1h0M190.6 743.5h0M158.3 730.9h0M175.4 735.8h0M171.6 724.3h0M188.6 730.9h0M155.8 744.5h0M153.1 733.5h0M189.0 729.5h0M188.6 729.6h0M167.6 741.2h0M178.4 737.8h0M175.4 740.2h0M160.9 734.4h0M173.6 740.1h0M151.4 740.6h0M178.2 739.6h0M171.3 734.7h0M158.6 730.2h0M154.8 743.1h0M174.5 727.6h0M156.6 728.1h0M171.9 725.0h0M164.9 739.8h0M154.9 737.5h0M156.1 730.7h0M189.3 742.6h0M179.3 724.8h0M167.0 744.8h0M175.9 727.3h0M169.1 728.1h0M169.5 724.6h0M157.7 730.2h0M158.7 731.0h0M180.8 734.6h0M169.8 741.5h0M183.4 741.8h0M163.9 738.8h0M159.2 740.7h0M180.2 738.1h0M184.3 739.4h0M155.8 739.8h0M166.2 740.7h0M154.0 731.4h0M190.2 728.6h0M159.1 728.1h0M186.2 724.4h0M165.4 741.8h0M150.3 725.6h0M157.4 742.7h0M165.8 725.1h0M151.0 735.6h0M154.8 731.9h0M180.5 730.1h0M155.3 731.7h0M167.9 736.7h0M179.9 739.2h0M184.3 735.4h0M180.3 742.5h0M161.8 730.2h0M165.4 735.6h0M189.3 729.4h0M180.2 724.0h0M171.6 743.9h0M190.6 725.3h0M160.6 743.0h0M182.0 736.6h0M163.1 739.7h0" fill="none" stroke="#cf1af2" stroke-width="0.7" stroke-linecap="square" opacity="0.45"/>
<polygon points="85.5,757.8 93.3,752.0 104.3,749.0 117.6,744.5 128.7,740.5 134.0,739.0 138.0,741.0 139.0,745.0 139.0,750.5 120.0,753.5 100.0,755.0" fill="#cf1af2" opacity="0.55" filter="url(#b10)" stroke="#cf1af2" stroke-width="1" stroke-linejoin="round"/>
<polygon points="139.0,745.0 148.0,734.0 154.0,732.0 164.0,738.0 170.0,746.0 168.5,752.0 139.0,750.5" fill="#cf1af2" opacity="0.25" filter="url(#b10)" stroke="#cf1af2" stroke-width="1" stroke-linejoin="round"/>
<path d="M124.2 750.7h0M128.4 746.4h0M100.8 754.5h0M129.0 744.7h0M131.5 745.8h0M94.1 755.8h0M114.6 750.1h0M110.2 751.2h0M103.2 753.9h0M117.2 747.3h0M132.5 745.1h0M92.1 755.3h0M108.1 754.2h0M113.4 752.0h0M116.3 749.7h0M131.8 749.5h0M136.4 749.8h0M112.6 751.4h0M129.8 747.7h0M131.2 744.7h0M99.9 753.9h0M127.1 751.3h0M94.3 754.6h0M116.5 748.0h0M129.6 740.9h0M133.3 742.4h0M120.9 748.1h0M123.0 745.6h0M111.4 747.9h0M120.0 751.9h0M122.4 751.9h0M130.7 745.0h0M97.2 751.2h0M133.3 748.9h0M131.4 739.8h0M100.3 755.0h0M129.4 742.8h0M136.1 744.9h0M130.5 749.2h0M109.5 750.4h0M133.6 741.2h0M117.2 748.7h0M121.7 747.9h0M119.0 752.7h0M94.2 752.1h0M126.7 751.4h0M126.4 750.6h0M128.5 745.5h0M113.8 748.2h0M103.9 749.5h0M126.5 751.0h0M97.7 752.9h0M118.9 752.1h0M126.4 745.9h0M138.6 748.4h0M135.3 746.6h0M112.7 753.6h0M130.0 744.8h0M126.4 746.7h0M106.3 752.2h0M127.6 743.1h0M126.9 747.3h0M135.5 742.5h0M105.2 748.7h0M125.3 749.2h0M108.5 749.4h0M137.3 747.3h0M106.6 751.8h0M134.6 741.9h0M136.7 741.0h0M116.8 750.6h0M117.4 747.1h0M91.5 753.5h0M136.8 746.0h0M91.2 754.4h0M118.6 751.3h0M109.8 750.0h0M126.8 748.7h0M132.8 742.0h0M124.1 750.8h0M113.4 751.2h0M110.1 749.2h0M137.7 748.4h0M106.9 752.3h0M130.7 740.9h0M118.4 747.5h0M113.1 752.1h0M120.2 747.2h0M137.8 741.6h0M134.3 745.1h0M137.0 745.7h0M109.2 753.8h0M104.3 752.3h0M103.4 754.2h0M116.3 751.7h0M127.8 746.0h0M89.3 755.4h0M120.9 744.3h0M105.6 753.0h0M104.5 752.5h0M113.0 749.3h0M128.5 744.9h0M130.8 740.6h0M117.0 747.8h0M137.8 748.2h0M132.6 739.8h0M100.8 752.3h0M93.2 752.2h0M115.3 747.9h0M138.7 748.3h0M115.1 750.8h0M111.6 751.0h0M114.7 750.3h0M101.8 752.0h0M130.0 744.4h0M93.8 751.9h0M132.4 743.1h0M106.6 751.1h0M106.7 749.8h0M127.0 747.9h0M128.1 746.6h0M137.8 744.6h0M136.6 748.9h0M122.5 748.9h0M138.4 745.5h0M135.0 743.0h0M123.7 745.2h0M120.0 750.5h0M130.9 748.5h0M130.5 751.7h0M121.0 744.6h0M90.3 754.5h0M104.5 754.4h0M112.4 751.0h0M105.1 754.1h0M111.0 747.8h0M134.7 749.1h0M121.1 746.5h0M110.7 748.2h0M109.7 750.8h0M104.4 749.1h0M137.4 744.7h0M131.3 748.1h0M116.6 745.5h0M131.2 750.9h0M120.8 744.4h0M118.4 750.4h0M116.9 751.5h0M109.2 753.4h0M136.4 750.6h0M135.9 747.4h0M126.7 743.1h0M134.6 750.9h0M111.4 753.1h0M113.7 751.2h0M114.7 752.5h0M134.4 742.8h0M133.3 750.5h0M100.6 751.3h0M137.5 749.0h0M105.5 752.8h0M118.6 750.8h0M134.2 749.3h0M91.1 756.2h0M108.1 752.6h0M112.7 748.0h0M104.1 752.0h0M106.7 753.0h0M125.0 743.3h0M131.6 744.2h0M135.7 744.2h0M103.1 754.0h0M97.7 755.3h0M109.9 753.0h0M115.7 747.2h0M127.5 751.6h0M120.3 749.2h0M92.7 754.7h0M125.4 746.1h0M90.2 755.6h0M122.9 752.2h0M136.5 743.6h0M119.2 753.4h0M126.2 747.3h0M123.9 746.7h0M138.7 748.5h0M128.8 744.3h0M131.9 750.9h0M109.4 749.2h0M91.7 756.5h0M109.7 754.2h0M93.9 753.6h0M124.5 743.8h0M114.8 751.8h0M115.2 750.7h0M126.4 745.1h0M120.2 752.4h0M123.6 742.6h0M97.4 753.2h0M127.7 741.7h0M91.7 754.8h0M116.3 750.3h0M134.5 743.0h0M105.5 750.6h0M117.7 750.5h0M132.5 743.3h0M129.4 743.9h0M133.6 747.2h0M138.2 747.7h0M114.3 747.7h0M137.5 743.4h0M89.7 755.4h0M129.4 749.8h0M127.1 751.6h0M110.7 753.1h0M133.3 747.2h0M128.3 744.9h0M133.1 746.9h0M122.1 749.7h0M102.5 753.0h0M127.0 743.5h0M135.4 749.1h0M124.4 746.9h0M131.8 740.9h0M129.6 745.5h0M127.8 744.5h0M131.0 746.8h0M134.3 742.5h0M98.2 753.9h0M124.3 742.8h0M106.1 750.6h0M119.8 749.7h0M137.9 747.7h0M138.3 749.1h0M91.8 756.2h0M119.8 745.5h0M121.2 745.0h0M100.7 750.6h0M127.4 751.8h0M121.5 748.1h0M128.1 745.0h0M129.4 746.5h0M91.5 754.1h0M94.4 753.4h0M110.0 753.5h0M115.2 753.1h0M132.2 744.8h0M95.4 753.4h0M125.0 747.1h0M132.5 745.0h0M100.7 754.6h0M134.1 746.6h0M116.0 752.7h0M112.4 751.1h0M125.6 751.8h0M134.6 748.2h0M106.0 751.1h0M94.8 751.9h0M92.9 753.1h0M90.1 756.1h0M135.7 746.3h0M103.1 750.7h0M134.2 741.5h0M134.6 741.3h0M106.2 749.2h0M111.4 750.2h0M128.9 751.3h0M124.4 746.8h0M137.4 743.5h0M98.8 751.0h0M95.9 755.4h0M127.6 742.1h0M88.9 756.2h0M133.3 745.6h0M90.8 754.8h0M131.7 740.9h0M93.3 752.2h0M132.0 748.9h0M105.9 748.9h0M124.1 751.5h0M134.5 750.1h0M124.1 747.0h0M124.2 748.5h0M118.4 752.1h0M119.8 744.4h0M122.1 744.7h0M106.2 751.0h0M136.5 744.8h0M94.4 755.7h0M109.7 751.9h0M129.1 744.6h0M117.1 747.3h0M120.9 744.1h0M97.0 754.4h0M123.8 751.4h0M92.5 754.5h0M135.1 745.4h0M128.8 746.9h0M133.3 744.1h0M112.3 750.4h0M107.8 752.4h0M110.8 747.1h0M138.5 746.2h0M106.3 751.6h0M101.7 750.0h0M128.5 744.7h0M138.6 744.4h0M106.5 752.9h0M132.0 742.1h0M96.8 754.4h0M114.6 750.4h0M91.4 754.1h0M129.5 745.8h0M121.9 744.5h0M100.9 751.6h0M97.3 755.2h0M109.6 754.1h0M117.1 751.9h0M106.9 752.9h0M119.1 746.5h0M136.2 741.7h0M114.4 749.5h0M119.9 753.2h0M91.1 756.0h0M114.7 746.8h0M129.9 747.7h0M126.0 744.1h0M123.1 749.0h0M128.3 742.8h0M123.9 746.3h0M123.4 747.6h0M119.0 749.4h0M115.1 748.3h0M99.5 754.8h0M107.7 749.9h0M91.7 755.8h0M138.5 750.2h0M126.9 751.2h0M108.0 754.3h0M119.9 744.0h0M121.3 753.3h0M125.9 752.2h0M114.2 750.7h0M129.2 747.9h0M123.2 746.8h0M122.6 751.1h0M129.9 751.2h0M127.8 743.0h0M92.0 755.4h0M116.9 752.7h0M122.3 743.3h0M123.5 745.6h0M135.4 741.9h0M133.1 746.0h0M134.2 750.3h0M125.4 747.0h0M125.0 750.2h0M97.5 751.6h0M129.7 748.7h0M101.2 751.3h0M113.5 750.5h0M127.9 742.7h0M138.7 744.4h0M121.2 743.4h0M101.7 752.9h0M90.3 755.1h0M135.1 740.5h0M130.4 750.0h0M111.7 752.5h0M128.2 746.3h0M135.3 746.1h0M105.6 748.6h0M109.0 748.7h0M91.7 756.3h0M120.1 752.0h0M133.6 750.6h0M136.0 749.4h0M132.7 751.1h0M138.6 745.5h0M137.0 747.6h0M121.6 752.0h0M96.1 753.8h0M104.5 754.6h0M106.4 754.0h0M117.6 750.1h0M109.5 748.1h0M117.8 747.3h0M129.3 746.2h0M96.6 751.4h0M127.4 744.1h0M120.2 753.3h0M129.8 747.6h0M136.0 740.6h0M118.8 752.8h0M131.0 749.5h0M99.6 751.5h0M96.6 751.8h0M109.0 753.5h0M102.8 750.7h0M129.8 741.7h0" fill="none" stroke="#cf1af2" stroke-width="0.8" stroke-linecap="square" opacity="0.8"/>
<path d="M165.4 745.3h0M164.4 740.2h0M162.6 750.7h0M158.5 749.7h0M143.4 743.6h0M153.3 744.2h0M150.3 747.7h0M158.3 736.0h0M141.8 745.3h0M147.5 741.1h0M142.8 749.8h0M160.9 746.1h0M159.8 741.0h0M152.2 749.9h0M146.0 743.3h0M149.9 746.8h0M142.1 745.2h0M142.7 746.5h0M161.0 746.2h0M139.5 750.1h0M148.3 738.2h0M150.7 742.1h0M162.2 750.1h0M152.9 749.6h0M146.1 741.4h0M143.9 749.0h0M152.3 734.9h0M151.9 738.7h0M142.4 749.4h0M152.4 745.3h0M150.0 733.9h0M167.3 746.3h0M149.8 737.7h0M165.9 741.3h0M160.8 744.0h0M166.4 751.6h0M146.7 745.0h0M165.2 747.5h0M161.5 748.0h0M144.0 745.7h0M155.1 735.4h0M165.0 744.8h0M148.0 747.6h0M164.4 743.6h0M149.9 743.0h0M147.3 747.0h0M162.9 743.3h0M154.8 734.2h0M153.7 734.1h0M152.4 739.4h0M152.3 743.5h0M156.6 741.1h0M164.0 745.0h0M146.4 750.8h0M160.0 743.7h0M150.1 743.5h0M148.4 736.4h0M158.3 746.0h0M150.7 749.4h0M163.0 751.6h0M154.1 736.5h0M149.5 742.7h0M150.6 747.7h0M156.9 736.7h0M147.1 741.5h0M142.7 746.9h0M139.1 745.4h0M146.4 739.7h0M150.3 750.3h0M155.9 742.7h0M153.5 741.2h0M140.1 744.9h0M160.1 737.2h0M147.7 738.3h0M153.3 750.5h0M159.7 744.1h0M152.1 741.9h0M142.0 744.4h0M161.3 745.5h0M154.8 743.7h0M160.4 748.6h0M147.1 745.2h0M156.7 741.4h0M148.5 734.3h0M148.8 750.5h0M141.9 749.0h0M156.7 739.1h0M163.4 741.7h0M158.8 735.0h0M163.3 743.6h0M145.1 739.5h0M160.9 742.5h0M142.5 742.8h0M166.2 748.0h0M141.9 741.6h0M160.0 739.1h0M154.5 743.5h0M156.4 741.3h0M145.9 741.8h0M145.7 744.2h0M157.1 744.4h0M145.1 743.3h0M143.7 743.6h0M162.1 751.0h0M144.6 738.8h0M163.1 746.4h0M150.4 736.4h0M146.1 748.6h0M149.9 745.4h0M158.1 737.2h0M149.1 736.5h0M149.8 743.3h0M155.3 741.9h0M166.0 749.6h0M147.3 742.1h0M145.2 744.4h0M141.6 749.3h0M168.9 748.2h0M163.0 746.8h0M156.1 748.3h0M150.4 738.7h0M141.0 745.6h0M151.7 749.7h0M165.7 749.5h0M144.6 740.4h0M145.9 739.8h0M147.3 749.9h0M155.9 748.0h0M140.4 749.9h0M151.9 733.1h0M163.2 750.9h0M167.5 742.7h0M155.6 749.7h0M144.3 744.9h0M163.6 740.6h0M166.1 748.8h0M164.4 751.1h0M151.6 744.6h0M149.1 743.6h0M168.9 750.2h0M145.5 737.8h0M148.0 743.3h0M157.6 744.1h0M151.4 739.3h0M161.8 739.0h0M152.8 733.4h0M155.3 744.3h0M161.2 743.5h0M165.5 747.6h0M153.0 736.9h0M153.7 736.1h0M148.4 746.4h0M139.7 747.1h0M139.9 748.3h0M154.4 745.0h0M141.2 747.3h0M160.3 739.0h0M158.7 744.8h0M165.0 744.0h0M160.9 746.0h0M150.7 743.8h0M165.1 743.6h0M168.7 750.3h0M161.2 738.4h0M155.8 734.5h0M154.4 743.2h0M157.4 739.4h0M150.8 735.4h0M154.4 736.9h0M153.0 741.0h0M166.0 750.2h0M150.3 737.5h0M158.2 735.3h0M153.3 741.5h0M152.1 751.1h0M153.1 741.3h0M152.8 750.1h0M139.2 750.0h0M160.8 748.0h0M154.1 740.1h0M146.0 740.0h0M150.7 742.3h0M148.0 746.7h0M164.8 748.9h0M160.0 747.2h0M151.0 749.8h0M149.0 747.0h0M151.6 739.1h0M140.1 743.9h0M167.4 749.3h0M162.7 748.2h0M169.3 746.9h0M142.8 750.5h0M159.1 737.7h0M149.2 743.5h0M154.3 738.5h0M158.9 746.3h0M156.3 736.6h0M167.3 750.2h0M163.3 741.1h0M164.1 747.2h0M159.7 749.0h0M149.1 747.7h0M153.5 738.9h0M143.0 747.5h0M154.1 748.0h0M150.3 747.5h0M152.8 736.7h0M155.1 746.5h0M149.9 747.8h0M160.4 747.4h0M149.5 735.4h0M158.0 743.6h0M156.2 747.7h0M161.8 750.1h0M155.3 749.2h0M149.4 738.7h0M157.5 751.2h0M157.8 735.7h0M164.4 748.8h0M162.7 743.1h0M150.0 742.9h0M161.4 746.9h0M157.2 737.8h0M155.8 743.4h0M154.7 741.8h0M148.2 747.5h0M169.6 746.0h0M155.1 748.1h0M169.0 746.6h0M155.5 737.0h0M164.0 750.9h0M157.8 747.7h0M163.5 746.1h0M158.6 738.8h0M161.6 746.7h0M165.4 746.0h0M164.5 741.4h0M147.1 743.3h0M143.2 740.6h0M164.7 745.6h0M145.0 745.8h0M143.1 743.0h0M148.6 743.7h0M158.7 745.6h0M149.3 745.4h0M151.8 734.5h0M158.4 737.2h0M148.7 746.0h0M143.8 746.7h0M154.0 749.8h0M145.6 741.1h0M141.7 750.3h0M143.3 749.5h0M152.9 742.4h0M168.6 749.5h0M162.0 744.4h0M153.2 743.7h0M168.4 744.6h0M151.4 741.9h0" fill="none" stroke="#cf1af2" stroke-width="0.8" stroke-linecap="square" opacity="0.7"/>
<line x1="135" y1="744" x2="152" y2="729.8" stroke="#cf1af2" stroke-width="2.8" opacity="0.72" stroke-linecap="round" filter="url(#b8)"/>
<path d="M135.5 743.1h0M143.1 735.1h0M139.9 741.1h0M145.4 735.3h0M136.3 741.8h0M141.2 738.6h0M144.3 737.4h0M133.7 746.3h0M147.2 735.3h0M137.7 743.6h0M139.5 737.8h0M149.3 731.4h0M144.8 732.2h0M152.9 727.8h0M144.6 732.2h0M155.3 730.7h0M143.2 735.9h0M153.3 728.3h0M146.6 735.4h0M134.6 743.0h0M147.4 731.5h0M147.4 733.8h0M149.8 734.4h0M139.1 736.4h0M147.7 733.5h0M138.3 741.8h0M144.8 735.4h0M136.0 743.7h0M135.8 744.1h0M143.0 735.6h0M144.7 738.3h0M155.2 728.2h0M143.4 739.4h0M154.4 728.8h0M146.2 736.7h0M136.6 743.8h0M151.8 729.8h0M143.7 739.6h0M151.7 729.5h0M144.6 738.5h0M147.6 732.6h0M142.9 736.8h0M155.3 727.7h0M148.2 732.9h0M144.4 739.4h0M148.5 728.5h0M138.3 741.5h0M149.7 731.8h0M148.3 732.6h0M141.3 736.6h0M136.7 739.4h0M133.7 742.5h0M149.3 731.5h0M138.2 741.6h0M140.4 737.4h0M136.2 743.1h0M153.5 728.8h0M144.2 738.0h0M147.9 731.6h0M136.3 744.5h0M147.3 735.1h0M150.5 730.2h0M149.4 732.6h0M138.4 741.9h0M141.6 737.9h0M154.7 729.3h0M151.1 730.2h0M149.6 728.9h0M138.3 741.3h0M147.7 731.3h0M153.1 731.6h0M147.2 732.7h0M152.1 731.4h0M144.3 736.3h0M142.8 738.3h0M146.4 731.9h0M141.0 738.6h0M150.1 732.5h0M148.5 731.8h0M144.6 738.6h0M132.2 744.2h0M153.4 727.7h0M144.5 734.7h0M149.9 734.1h0M150.5 730.8h0M137.5 742.7h0M151.6 730.0h0M139.3 741.6h0M152.6 726.0h0M136.1 741.7h0M139.8 740.2h0M137.0 740.8h0M144.2 735.3h0M147.3 733.0h0M137.5 741.4h0M145.4 735.9h0M152.9 731.8h0M137.3 741.8h0M140.6 738.9h0M142.7 736.9h0M151.5 729.4h0M152.0 729.4h0M137.9 739.3h0M148.0 732.7h0M138.2 741.3h0M134.2 743.6h0M151.7 735.4h0M133.9 742.6h0M141.3 743.8h0M150.6 735.0h0M139.8 740.7h0M145.7 737.4h0M135.8 742.5h0M150.1 730.8h0M142.3 737.7h0M148.1 734.1h0M148.3 730.7h0M154.5 727.2h0M146.4 736.4h0M144.3 738.3h0M142.7 735.2h0M142.7 734.1h0M140.4 739.7h0M147.3 731.2h0M148.6 732.3h0M139.1 741.2h0M148.4 735.3h0M153.1 729.4h0M137.5 740.8h0M151.2 730.0h0M145.2 736.5h0M142.9 736.6h0M146.9 734.9h0M141.6 739.9h0M144.5 737.1h0M133.1 745.8h0M150.8 734.8h0M149.1 735.6h0M149.9 732.3h0M143.3 737.0h0M139.2 739.8h0M137.8 740.7h0M140.8 738.7h0M141.6 738.6h0M153.2 728.5h0M148.6 729.6h0M148.9 728.9h0M142.7 735.3h0M152.0 730.2h0M139.9 738.0h0M150.0 734.6h0M146.8 736.5h0M141.9 737.1h0M138.2 744.5h0M139.9 740.1h0M137.4 737.4h0M137.2 742.1h0M138.6 740.1h0M147.6 734.3h0M150.7 730.6h0M144.0 735.4h0M147.7 735.3h0M152.0 728.2h0M152.2 731.9h0M153.2 727.0h0M151.3 731.5h0M137.2 744.2h0M151.5 732.0h0M151.0 731.5h0M147.6 737.5h0M143.4 740.3h0M145.4 734.9h0M143.5 733.3h0M150.3 728.3h0M143.6 735.8h0M148.9 734.4h0M147.7 734.5h0M143.3 735.8h0M148.7 732.2h0M150.1 733.0h0M149.3 730.7h0M138.3 745.1h0M147.4 731.9h0M140.7 742.1h0M147.8 734.3h0M139.0 739.9h0M144.7 735.5h0M153.3 726.0h0M149.2 739.0h0M147.3 732.9h0M134.0 745.3h0M148.1 733.3h0M152.6 726.4h0M145.9 734.0h0M143.5 735.3h0M150.6 732.1h0M154.7 730.2h0M146.3 733.3h0M144.6 735.1h0M148.6 736.1h0M147.2 735.0h0M152.3 734.1h0M135.8 744.2h0M147.2 732.9h0M152.7 730.8h0M140.9 735.8h0M152.2 731.3h0M137.8 744.5h0M145.0 733.5h0M149.4 731.9h0M144.7 732.7h0M143.4 737.7h0M152.2 729.1h0M144.8 736.7h0M137.2 740.4h0M145.1 737.6h0M145.9 734.3h0M147.9 734.5h0M137.1 742.9h0M137.2 741.2h0M143.6 735.4h0M134.9 743.0h0M148.9 729.6h0M154.9 728.6h0M135.3 745.1h0M154.2 727.0h0M146.3 731.9h0M149.3 731.7h0M142.9 732.1h0M133.7 743.1h0M146.0 736.7h0M136.8 744.9h0M153.4 728.3h0M151.0 728.4h0M140.7 738.4h0M153.1 730.5h0M152.7 730.0h0M155.3 728.4h0M139.6 740.3h0M143.3 738.4h0M138.5 742.2h0M139.6 740.5h0M151.6 729.9h0M147.4 730.9h0M143.4 738.1h0M145.5 733.4h0M138.6 739.9h0M138.1 744.7h0M148.2 735.6h0M143.5 736.0h0M147.5 733.0h0M146.5 733.8h0M151.6 733.7h0M152.9 731.9h0M137.2 739.6h0M153.6 731.9h0M149.6 730.3h0M145.2 738.1h0M151.1 727.8h0M142.2 740.8h0" fill="none" stroke="#cf1af2" stroke-width="0.8" stroke-linecap="square" opacity="0.8"/>
<polygon points="94.4,796.0 90.0,783.3 85.5,769.0 84.0,761.2 86.2,757.6 93.3,754.6 104.3,752.6 117.6,751.0 128.0,749.6 134.4,748.6 148.8,749.5 160.0,750.5 166.5,751.8 168.0,754.5 166.0,757.2 156.0,761.7 146.0,766.5 137.5,772.5 129.0,780.0 121.0,788.0 116.5,792.5 112.0,796.0" fill="#cf1af2" opacity="1" filter="url(#b6)" stroke="#cf1af2" stroke-width="1" stroke-linejoin="round"/>
<path d="M191.1 723.8h0M189.1 732.7h0M190.6 721.5h0M191.0 724.3h0M190.4 726.7h0M191.3 723.8h0M190.3 730.5h0M190.9 721.0h0M190.7 721.9h0M191.1 723.1h0M190.4 725.9h0M191.1 722.8h0M190.4 726.3h0M189.6 731.7h0M191.0 724.0h0M189.3 732.1h0M191.1 723.6h0M189.7 732.8h0M190.4 725.4h0M191.2 722.5h0M190.7 729.5h0M190.5 729.8h0M191.0 724.9h0M192.1 721.3h0M190.5 726.2h0M190.1 731.0h0M190.3 729.9h0M189.6 732.6h0M190.5 726.1h0M189.7 730.5h0M191.1 722.4h0M190.3 728.8h0M190.0 731.9h0M191.2 724.3h0M190.5 725.6h0M190.9 727.6h0M190.5 722.2h0M190.9 726.1h0M190.3 728.7h0M190.4 726.2h0M189.8 729.8h0M189.4 733.1h0M191.1 722.8h0M190.5 726.7h0M190.5 728.8h0M189.6 730.8h0M190.8 727.1h0M190.0 731.2h0M189.8 733.3h0M190.6 728.3h0M191.2 724.7h0M190.9 724.6h0M190.7 727.1h0M191.0 724.3h0M191.8 721.0h0M191.5 721.7h0M190.2 731.1h0M190.1 730.9h0M191.1 721.8h0M190.6 729.9h0M190.2 729.8h0M190.0 730.7h0M190.7 724.7h0M189.6 732.4h0M189.5 731.8h0M191.4 722.6h0M191.1 724.2h0M191.0 722.5h0M189.4 733.5h0M189.7 733.0h0M189.2 733.6h0M190.5 729.8h0M190.3 728.3h0M190.9 724.8h0M191.7 721.6h0M190.1 728.1h0M190.9 726.2h0M190.9 721.7h0M190.9 725.9h0M191.5 722.6h0M190.4 726.6h0M189.9 730.7h0M190.9 730.4h0M190.4 731.0h0M189.1 733.9h0M189.6 730.9h0M190.6 721.1h0M191.0 724.5h0M189.8 731.4h0M191.5 721.5h0M189.9 732.4h0M190.2 732.4h0M190.1 726.8h0M191.3 723.2h0M190.8 722.2h0M190.9 725.2h0M190.9 724.9h0M190.1 728.7h0M190.6 730.1h0M189.5 733.1h0M190.7 727.2h0M189.6 733.5h0M188.8 733.9h0M191.3 723.6h0M189.5 733.7h0M190.1 731.2h0M189.8 732.7h0M191.6 722.0h0M190.4 726.3h0M189.5 733.3h0M191.3 723.3h0M190.7 728.3h0M191.0 723.7h0M189.9 730.7h0M189.3 731.3h0M191.0 724.2h0M190.9 723.7h0M190.4 728.7h0M190.9 723.0h0M189.7 729.9h0" fill="none" stroke="#cf1af2" stroke-width="0.7" stroke-linecap="square" opacity="0.5"/>
<path d="M94.2 797.4h0M98.1 802.3h0M110.3 799.3h0M104.6 801.5h0M99.6 800.2h0M100.4 797.0h0M94.2 798.5h0M101.0 800.6h0M102.7 803.0h0M104.1 798.7h0M100.9 801.7h0M97.0 803.6h0M102.3 801.7h0M98.5 801.6h0M96.0 799.5h0M101.9 802.5h0M117.9 803.2h0M96.4 796.9h0M84.2 797.2h0M103.0 800.0h0M96.1 802.3h0M100.9 798.7h0M101.9 807.9h0M99.2 806.6h0M115.4 803.6h0M96.2 801.7h0M106.8 802.9h0M99.9 801.1h0M106.2 809.9h0M101.4 797.1h0M105.7 802.5h0M93.9 804.4h0M106.1 799.7h0M116.7 801.6h0M105.1 801.0h0M97.4 798.3h0M100.9 797.5h0M96.1 797.3h0M96.7 802.4h0M101.4 797.4h0M103.0 805.2h0M100.3 806.6h0M100.5 799.7h0M101.3 806.3h0M106.2 800.5h0M102.9 802.8h0M96.8 798.2h0M101.2 801.5h0M103.2 800.3h0M98.2 807.1h0M94.7 797.9h0M99.9 805.3h0M104.0 805.3h0M97.0 798.0h0M108.4 807.7h0M107.2 799.2h0M99.8 815.2h0M97.5 797.6h0M97.0 799.6h0M106.6 798.0h0M106.6 801.5h0M99.4 801.8h0M97.4 798.6h0M104.2 804.8h0M105.7 797.9h0M102.3 807.8h0M95.8 806.1h0M95.1 801.6h0M98.1 803.3h0M100.0 799.7h0M98.1 797.9h0M105.4 801.9h0M102.0 804.2h0M101.3 802.7h0M104.3 798.4h0M96.4 804.7h0M106.8 804.0h0M111.1 799.9h0M107.0 812.7h0M100.3 805.7h0M101.8 798.8h0M103.2 797.5h0M98.5 801.9h0M100.5 802.7h0M100.1 797.2h0M104.7 798.7h0M93.2 797.1h0M107.5 800.1h0M100.3 798.9h0M102.7 803.4h0M102.5 798.8h0M105.8 803.6h0M100.3 799.0h0M102.4 802.4h0M97.3 798.0h0M97.2 802.4h0M107.1 798.4h0M104.3 804.1h0M97.0 800.7h0M110.1 806.5h0M97.2 802.1h0M104.1 804.9h0M97.3 811.5h0M99.0 810.3h0M102.2 807.1h0M95.6 803.2h0M105.3 802.1h0M100.3 804.8h0M118.1 799.0h0M107.1 798.9h0M91.9 798.3h0M96.3 802.1h0M110.5 798.7h0M100.7 799.4h0M106.0 802.3h0M108.8 808.5h0M99.3 802.5h0M105.1 798.1h0M108.9 802.9h0M104.5 800.9h0M95.7 801.1h0M101.5 800.3h0M107.7 810.6h0M100.3 804.2h0M87.4 801.1h0M103.7 802.5h0M101.6 797.4h0M104.4 805.7h0M98.7 801.8h0M95.9 797.4h0M107.7 809.2h0M106.6 805.1h0M99.5 803.8h0M99.2 798.4h0M99.4 797.1h0M99.4 799.6h0M101.7 803.9h0M99.2 797.3h0M104.4 797.9h0M102.3 802.8h0M101.1 809.2h0M97.8 803.4h0M107.3 801.0h0M103.8 817.0h0M100.2 808.7h0M106.6 802.0h0M102.8 810.3h0M101.4 807.7h0M103.0 805.9h0M108.3 817.4h0M101.7 808.0h0M102.2 806.4h0M94.7 799.8h0M96.9 801.0h0M99.2 796.9h0M106.0 805.3h0M106.0 799.9h0M102.1 813.9h0M103.3 797.0h0M101.5 808.7h0M103.3 798.6h0M102.2 801.6h0M100.9 810.7h0M102.1 802.3h0M102.1 806.7h0M118.9 799.0h0M108.8 806.6h0M101.5 797.7h0M96.3 803.9h0M96.5 798.1h0M108.5 801.6h0M102.1 805.8h0M105.4 797.4h0M99.9 809.5h0M105.0 801.1h0M103.8 799.6h0M102.1 799.0h0M103.6 805.0h0M101.3 808.4h0M95.0 802.3h0M103.4 804.1h0M95.0 805.1h0M94.4 808.9h0M103.7 807.2h0M92.6 800.4h0M114.4 809.1h0M104.7 797.0h0M94.6 803.3h0M93.8 805.2h0M107.4 797.0h0M103.2 803.2h0M96.6 799.3h0M100.8 804.9h0M104.9 815.7h0M102.7 802.0h0M105.2 809.5h0M98.6 798.4h0M116.2 804.1h0M100.5 800.9h0M105.7 799.7h0M100.4 801.8h0M104.1 797.9h0M98.6 804.7h0M99.1 805.5h0M101.6 799.2h0M109.4 806.6h0M103.5 803.3h0M100.2 798.0h0M97.3 800.2h0M94.6 800.3h0M101.0 804.0h0M102.5 800.0h0M103.9 806.3h0M97.1 799.0h0M100.0 806.7h0M105.4 808.0h0M109.0 798.7h0M98.4 808.2h0M98.7 808.4h0M105.1 802.6h0M102.3 797.1h0M100.6 798.7h0M106.4 803.5h0M99.9 799.6h0M94.9 804.3h0M105.2 803.8h0M93.3 800.0h0M98.3 800.6h0M105.8 809.6h0M90.6 807.6h0M101.2 798.3h0M95.8 807.5h0M100.3 807.1h0M100.9 797.5h0M106.4 800.9h0M95.4 807.7h0M98.3 802.2h0M103.7 809.9h0M98.7 797.1h0M102.9 807.0h0M107.1 809.3h0M107.2 810.1h0M99.4 805.1h0M101.0 807.9h0M101.2 802.9h0M107.3 798.3h0M101.8 800.5h0M100.4 797.4h0M107.7 803.3h0M97.8 800.4h0M101.1 801.0h0M99.8 797.9h0M92.2 796.9h0M94.5 800.6h0M103.1 802.7h0M111.0 800.2h0M97.5 797.8h0M111.4 803.4h0M98.5 800.8h0M100.2 798.5h0M109.2 806.4h0M98.5 798.0h0M92.7 804.9h0M93.3 801.5h0M103.1 805.3h0M109.6 802.3h0M90.5 803.4h0M98.1 800.8h0M103.4 803.1h0M103.8 804.6h0M105.3 810.2h0M106.5 801.3h0M107.3 799.8h0M111.7 813.6h0M97.8 799.8h0M102.9 801.4h0M108.6 805.5h0M110.6 805.3h0M102.3 803.8h0M97.2 809.1h0M99.5 798.2h0M99.9 798.0h0M98.3 811.2h0M102.3 798.5h0M106.3 800.6h0M107.6 817.2h0M100.3 810.6h0M98.9 800.5h0M98.2 798.4h0M107.0 800.0h0M105.5 804.7h0M97.5 800.3h0M109.0 802.6h0M105.0 803.9h0M95.4 797.6h0M114.6 805.2h0M96.2 802.5h0M106.5 806.6h0M100.3 807.8h0M102.3 798.4h0M101.0 799.7h0M102.5 805.4h0M95.3 800.5h0M98.8 803.1h0M106.2 806.8h0M101.9 804.8h0M105.8 800.7h0M96.3 804.3h0M111.2 806.0h0M101.3 808.8h0M103.9 800.7h0M96.4 804.9h0M99.5 800.0h0M101.8 798.4h0M105.2 802.3h0M106.0 807.4h0M95.7 799.0h0M115.2 803.2h0M108.1 802.7h0M97.6 800.5h0M109.8 803.8h0M100.5 799.4h0M103.0 806.5h0M106.4 796.9h0M94.2 799.3h0M96.4 798.1h0M101.3 809.0h0M98.4 800.8h0M99.2 807.5h0M103.4 811.5h0M106.4 800.9h0M99.7 808.0h0M93.2 798.6h0M103.6 806.3h0M96.2 802.0h0M107.9 805.7h0M102.6 797.0h0M88.1 808.7h0M92.7 806.8h0M96.1 801.0h0M100.5 801.4h0M96.7 803.7h0M95.2 797.1h0M103.7 805.4h0M100.9 804.0h0M99.4 813.1h0M99.4 802.5h0M105.1 799.0h0M105.5 801.7h0M106.4 798.7h0M97.8 800.8h0M108.0 802.5h0M100.3 798.6h0M102.1 805.9h0M90.4 798.0h0M102.6 802.7h0M108.3 797.2h0M99.5 805.5h0M107.3 797.5h0M107.9 804.8h0M99.0 797.4h0M106.1 798.6h0M105.7 801.8h0M103.6 804.3h0M105.4 802.1h0M104.5 812.2h0M94.9 799.6h0M87.7 807.7h0M104.9 799.1h0M108.5 805.4h0M106.2 799.1h0M96.8 806.1h0M104.2 800.6h0M106.6 797.4h0M106.9 801.5h0M108.5 804.7h0M111.4 803.3h0M90.7 800.6h0M102.6 798.9h0M101.6 801.1h0M108.4 797.7h0M99.1 797.0h0M106.4 799.6h0M96.2 800.3h0M106.3 798.5h0M103.8 809.5h0M104.3 806.8h0M98.3 799.8h0M105.3 797.8h0M98.2 800.0h0M100.3 805.4h0M109.1 809.2h0M88.0 800.7h0M98.0 803.2h0M98.3 805.0h0M105.7 800.6h0M95.6 797.6h0M96.1 798.2h0M107.2 797.4h0M104.0 805.4h0M100.4 805.2h0M103.6 806.5h0M95.9 811.7h0M100.1 803.0h0M103.9 803.8h0M100.1 813.0h0M96.7 803.4h0M108.7 801.2h0M97.6 800.5h0M105.5 813.5h0M98.8 799.4h0M99.0 799.6h0M98.0 798.9h0M96.4 801.8h0M97.6 802.9h0M104.1 809.5h0M89.5 811.7h0M95.5 797.6h0M100.5 809.4h0M97.5 799.2h0M98.3 799.3h0M111.4 800.0h0M97.0 806.0h0M95.4 802.7h0M102.6 800.7h0M102.9 808.0h0M97.7 799.6h0M105.9 802.6h0M101.6 796.8h0M97.7 799.7h0M94.0 797.5h0M110.7 803.0h0M93.4 799.5h0M97.3 796.9h0M92.3 802.3h0M104.1 804.3h0M105.6 814.2h0M98.8 811.2h0M102.5 801.3h0M98.3 811.7h0M87.3 802.5h0M101.6 800.9h0M104.1 802.8h0M100.2 800.5h0M94.1 813.6h0M112.7 797.7h0M93.7 801.1h0M107.9 802.2h0M101.0 800.9h0M94.8 804.8h0M93.8 798.6h0M103.1 801.8h0M110.8 800.4h0M104.7 803.4h0M102.0 805.3h0M103.6 803.6h0M96.8 804.4h0M98.8 806.2h0M103.8 811.1h0M95.8 798.0h0M105.0 803.0h0M95.3 802.8h0M89.3 810.6h0M104.5 798.0h0M102.0 803.5h0M98.3 804.6h0M107.9 806.2h0M98.8 807.1h0M96.6 806.4h0M105.7 807.9h0M98.5 805.5h0M105.9 806.8h0M112.1 801.2h0M96.6 798.5h0M99.3 802.2h0M101.6 799.8h0M97.6 800.2h0M107.3 804.9h0" fill="none" stroke="#7f7800" stroke-width="0.8" stroke-linecap="square" opacity="0.75"/>
<path d="M113.1 806.6h0M126.0 799.0h0M123.5 797.2h0M111.9 798.0h0M126.3 797.5h0M110.0 807.3h0M119.9 800.5h0M117.7 806.1h0M116.7 801.1h0M119.4 808.9h0M116.8 804.0h0M117.4 804.2h0M118.3 797.0h0M112.2 803.2h0M112.7 797.8h0M132.4 802.9h0M117.0 798.6h0M141.8 803.8h0M111.4 807.2h0M116.4 800.6h0M123.3 804.9h0M113.8 806.6h0M124.7 804.3h0M113.4 802.0h0M111.9 805.8h0M119.7 800.1h0M113.7 805.1h0M120.0 797.3h0M116.1 800.1h0M121.2 804.0h0M111.9 797.0h0M114.5 806.6h0M111.6 808.3h0M115.1 798.7h0M118.8 797.3h0M110.7 807.1h0M113.9 799.4h0M121.1 808.2h0M112.9 803.0h0M111.2 798.5h0M126.0 797.8h0M116.8 798.9h0M112.0 801.5h0M150.4 804.5h0M117.4 806.2h0M124.2 805.5h0M133.5 799.6h0M125.5 797.9h0M119.4 798.1h0M111.7 808.5h0M116.2 801.4h0M111.2 800.9h0M131.1 804.7h0M110.9 797.7h0M112.8 803.9h0M118.3 798.1h0M117.2 802.4h0M115.7 799.5h0M112.0 801.8h0M118.0 802.2h0M110.2 798.6h0M113.0 805.2h0M110.3 799.8h0M116.7 800.4h0M114.4 806.0h0M119.0 812.6h0M134.4 807.2h0M116.8 804.9h0M119.2 804.1h0M131.8 801.0h0M114.9 802.0h0M124.8 808.5h0M110.7 807.4h0M131.5 800.7h0M124.6 798.0h0M110.8 806.0h0M116.2 800.2h0M112.5 811.2h0M113.9 800.5h0M122.8 798.6h0M121.4 801.5h0M119.0 802.1h0M114.5 805.5h0M124.0 797.4h0M112.2 803.6h0M114.8 797.1h0M119.0 803.5h0M112.6 805.3h0M112.7 803.1h0M120.7 800.8h0M112.8 806.3h0M129.8 802.6h0M110.7 810.7h0M118.5 799.3h0M124.4 801.8h0M114.3 800.7h0M116.7 807.8h0M122.6 803.5h0M117.5 802.4h0M119.2 799.7h0M124.9 798.9h0M123.4 797.1h0M117.4 802.1h0M110.1 801.4h0M114.2 805.2h0M119.5 797.8h0M117.1 800.8h0M114.5 800.5h0M125.5 802.8h0M147.4 801.7h0M126.2 809.3h0M116.8 797.1h0M128.8 808.4h0M134.2 803.1h0M119.5 815.1h0M115.9 799.0h0M112.0 805.7h0M111.0 803.5h0M114.1 806.4h0M121.1 800.8h0M118.9 807.0h0M110.7 802.0h0M111.8 799.6h0M129.1 803.9h0M124.1 801.7h0M125.8 801.9h0M137.9 806.0h0M112.9 803.7h0M128.6 798.3h0M120.5 799.0h0M113.6 799.1h0M112.5 799.4h0M137.5 802.9h0M121.3 804.3h0M113.1 810.4h0M114.3 803.8h0M118.0 801.7h0M128.6 805.9h0M116.9 801.5h0M113.6 813.7h0M112.8 806.7h0M114.9 799.2h0M122.2 807.1h0M123.9 806.2h0M120.8 802.3h0M117.4 801.5h0M112.3 798.7h0M117.2 799.8h0M128.3 810.7h0M115.2 799.4h0M122.1 800.2h0M122.7 798.6h0M117.9 805.5h0M118.8 803.4h0M113.6 808.9h0M116.4 799.6h0M110.5 809.3h0M129.5 806.0h0M124.6 803.2h0M110.6 813.8h0M110.3 811.4h0M110.3 804.5h0M123.7 801.3h0M115.3 806.4h0M120.3 798.4h0M111.1 802.6h0M110.8 805.9h0M112.1 803.8h0M126.5 801.5h0M124.2 797.2h0M117.8 802.2h0M115.3 809.8h0M110.2 799.0h0M110.7 801.5h0M114.2 800.3h0M141.7 801.1h0M115.1 800.2h0M117.0 802.3h0M122.3 801.4h0M114.8 808.4h0M110.3 801.4h0M116.1 805.0h0M119.3 800.0h0M110.0 800.3h0M114.4 805.8h0M113.9 799.7h0M118.4 798.9h0M120.5 799.2h0M119.5 798.8h0M133.6 804.8h0M117.3 806.4h0M111.5 798.4h0M118.1 813.7h0M126.3 802.4h0M128.0 797.3h0M126.5 801.4h0M115.9 799.6h0M123.9 797.3h0M114.3 813.0h0M111.5 798.8h0M140.4 809.2h0M119.1 805.2h0M128.2 801.3h0M138.9 798.7h0M123.1 802.0h0M121.0 803.9h0M149.9 799.7h0M111.0 807.6h0M112.8 798.6h0M115.6 797.8h0M146.2 802.2h0M114.2 799.3h0M126.9 800.0h0M111.2 811.9h0M110.0 816.8h0M111.8 802.9h0M110.7 802.6h0M111.4 808.4h0M113.4 802.3h0M116.7 797.8h0M115.8 799.0h0M112.7 801.0h0M141.0 797.4h0M110.4 799.7h0M116.9 802.8h0M113.7 810.7h0M115.5 800.9h0M118.0 801.0h0M133.2 801.1h0M110.8 816.5h0M123.2 797.3h0M127.2 799.9h0M111.0 803.8h0M114.9 805.8h0M117.3 808.9h0M114.2 808.4h0M133.7 798.2h0M117.9 801.0h0M113.7 797.3h0M115.5 801.7h0M124.9 799.6h0M110.0 800.3h0M118.5 799.0h0M112.9 803.1h0M111.1 804.2h0M111.0 809.6h0M127.9 810.0h0M110.0 799.6h0M116.8 799.5h0M116.4 801.9h0M114.1 802.3h0M111.4 798.0h0M113.5 814.7h0M111.1 801.1h0M112.3 816.7h0M115.0 803.1h0M115.5 798.5h0M146.4 798.1h0M141.3 802.1h0M134.0 813.6h0M115.9 808.6h0M116.7 815.9h0M162.7 808.0h0M117.5 798.1h0M112.2 799.2h0M177.3 814.5h0M142.0 813.7h0M170.4 798.3h0M149.9 813.9h0M173.6 804.9h0M121.3 800.0h0M138.7 798.6h0M143.0 798.2h0M181.7 817.7h0M147.8 812.9h0M112.3 811.7h0M123.8 808.6h0M164.1 815.4h0M163.3 802.9h0M115.8 798.1h0M163.2 816.7h0M172.0 816.3h0M115.5 812.7h0M178.9 810.9h0M162.0 801.8h0M125.0 814.9h0M159.7 805.3h0M152.7 810.4h0M122.2 806.6h0" fill="none" stroke="#7f7800" stroke-width="0.8" stroke-linecap="square" opacity="0.5"/>
<path d="M119.3 808.5h0M114.7 806.4h0M125.6 798.7h0M140.5 797.8h0M117.1 797.2h0M112.8 797.7h0M115.7 799.9h0M118.9 802.7h0M128.6 798.1h0M121.9 802.5h0M114.5 807.9h0M118.5 803.7h0M112.5 801.5h0M120.4 800.2h0M124.1 801.8h0M129.8 799.9h0M119.0 810.2h0M155.5 803.8h0M130.9 803.3h0M126.7 799.5h0M131.8 799.3h0M119.3 799.8h0M131.2 803.8h0M130.8 799.6h0M116.7 799.6h0M118.2 802.9h0M128.6 800.9h0M124.1 805.3h0M122.4 800.7h0M130.4 799.9h0M122.1 801.4h0M121.9 801.7h0M121.9 802.2h0M112.2 798.5h0M132.6 798.9h0M118.7 800.9h0M125.4 798.3h0M116.7 799.6h0M114.3 800.6h0M115.1 807.6h0M118.0 798.5h0M151.3 802.3h0M133.2 797.1h0M114.4 801.7h0M126.3 799.8h0M115.6 801.1h0M120.7 798.0h0M114.5 799.7h0M121.5 807.0h0M143.9 798.4h0" fill="none" stroke="#a050b0" stroke-width="0.8" stroke-linecap="square" opacity="0.5"/>
<polygon points="92.0,796.7 111.8,796.7 112.0,802.0 108.5,807.0 103.0,811.0 96.5,811.0 92.5,805.0" fill="#7f7800" opacity="1" filter="url(#b6)" stroke="#7f7800" stroke-width="1" stroke-linejoin="round"/>
</g>
<rect x="81.40" y="720.20" width="110.30" height="106.80" fill="none" stroke="#4a4a4a" stroke-width="1.0"/>
<rect x="87.00" y="796.10" width="99.00" height="22.90" fill="none" stroke="#333" stroke-width="0.8"/>
<text x="167.3" y="809.8" font-size="9.3" font-weight="bold" text-anchor="middle" fill="#b3248f"  stroke="#b3248f" stroke-width="0.3">3.2%</text>
<text x="180" y="774.3" font-size="5.4" font-weight="normal" text-anchor="middle" fill="#222" >P4</text>
<line x1="84.0" y1="827" x2="84.0" y2="831" stroke="#222" stroke-width="0.75"/>
<line x1="87.91338994363176" y1="827" x2="87.91338994363176" y2="829.2" stroke="#222" stroke-width="0.75"/>
<line x1="90.20257631135561" y1="827" x2="90.20257631135561" y2="829.2" stroke="#222" stroke-width="0.75"/>
<line x1="91.82677988726351" y1="827" x2="91.82677988726351" y2="829.2" stroke="#222" stroke-width="0.75"/>
<line x1="93.08661005636824" y1="827" x2="93.08661005636824" y2="829.2" stroke="#222" stroke-width="0.75"/>
<line x1="94.11596625498737" y1="827" x2="94.11596625498737" y2="829.2" stroke="#222" stroke-width="0.75"/>
<line x1="94.98627452018533" y1="827" x2="94.98627452018533" y2="829.2" stroke="#222" stroke-width="0.75"/>
<line x1="95.74016983089527" y1="827" x2="95.74016983089527" y2="829.2" stroke="#222" stroke-width="0.75"/>
<line x1="96.40515262271123" y1="827" x2="96.40515262271123" y2="829.2" stroke="#222" stroke-width="0.75"/>
<line x1="102.0" y1="827" x2="102.0" y2="831" stroke="#222" stroke-width="0.75"/>
<line x1="109.22471989593555" y1="827" x2="109.22471989593555" y2="829.2" stroke="#222" stroke-width="0.75"/>
<line x1="113.4509101132719" y1="827" x2="113.4509101132719" y2="829.2" stroke="#222" stroke-width="0.75"/>
<line x1="116.4494397918711" y1="827" x2="116.4494397918711" y2="829.2" stroke="#222" stroke-width="0.75"/>
<line x1="118.77528010406445" y1="827" x2="118.77528010406445" y2="829.2" stroke="#222" stroke-width="0.75"/>
<line x1="120.67563000920745" y1="827" x2="120.67563000920745" y2="829.2" stroke="#222" stroke-width="0.75"/>
<line x1="122.28235296034217" y1="827" x2="122.28235296034217" y2="829.2" stroke="#222" stroke-width="0.75"/>
<line x1="123.67415968780665" y1="827" x2="123.67415968780665" y2="829.2" stroke="#222" stroke-width="0.75"/>
<line x1="124.9018202265438" y1="827" x2="124.9018202265438" y2="829.2" stroke="#222" stroke-width="0.75"/>
<line x1="126.0" y1="827" x2="126.0" y2="831" stroke="#222" stroke-width="0.75"/>
<line x1="133.52574989159953" y1="827" x2="133.52574989159953" y2="829.2" stroke="#222" stroke-width="0.75"/>
<line x1="137.92803136799157" y1="827" x2="137.92803136799157" y2="829.2" stroke="#222" stroke-width="0.75"/>
<line x1="141.05149978319906" y1="827" x2="141.05149978319906" y2="829.2" stroke="#222" stroke-width="0.75"/>
<line x1="143.47425010840047" y1="827" x2="143.47425010840047" y2="829.2" stroke="#222" stroke-width="0.75"/>
<line x1="145.4537812595911" y1="827" x2="145.4537812595911" y2="829.2" stroke="#222" stroke-width="0.75"/>
<line x1="147.12745100035642" y1="827" x2="147.12745100035642" y2="829.2" stroke="#222" stroke-width="0.75"/>
<line x1="148.5772496747986" y1="827" x2="148.5772496747986" y2="829.2" stroke="#222" stroke-width="0.75"/>
<line x1="149.85606273598313" y1="827" x2="149.85606273598313" y2="829.2" stroke="#222" stroke-width="0.75"/>
<line x1="151.0" y1="827" x2="151.0" y2="831" stroke="#222" stroke-width="0.75"/>
<line x1="158.52574989159953" y1="827" x2="158.52574989159953" y2="829.2" stroke="#222" stroke-width="0.75"/>
<line x1="162.92803136799157" y1="827" x2="162.92803136799157" y2="829.2" stroke="#222" stroke-width="0.75"/>
<line x1="166.05149978319906" y1="827" x2="166.05149978319906" y2="829.2" stroke="#222" stroke-width="0.75"/>
<line x1="168.47425010840047" y1="827" x2="168.47425010840047" y2="829.2" stroke="#222" stroke-width="0.75"/>
<line x1="170.4537812595911" y1="827" x2="170.4537812595911" y2="829.2" stroke="#222" stroke-width="0.75"/>
<line x1="172.12745100035642" y1="827" x2="172.12745100035642" y2="829.2" stroke="#222" stroke-width="0.75"/>
<line x1="173.5772496747986" y1="827" x2="173.5772496747986" y2="829.2" stroke="#222" stroke-width="0.75"/>
<line x1="174.85606273598313" y1="827" x2="174.85606273598313" y2="829.2" stroke="#222" stroke-width="0.75"/>
<line x1="176.0" y1="827" x2="176.0" y2="831" stroke="#222" stroke-width="0.75"/>
<line x1="180.8164799306237" y1="827" x2="180.8164799306237" y2="829.2" stroke="#222" stroke-width="0.75"/>
<line x1="183.6339400755146" y1="827" x2="183.6339400755146" y2="829.2" stroke="#222" stroke-width="0.75"/>
<line x1="185.6329598612474" y1="827" x2="185.6329598612474" y2="829.2" stroke="#222" stroke-width="0.75"/>
<line x1="187.1835200693763" y1="827" x2="187.1835200693763" y2="829.2" stroke="#222" stroke-width="0.75"/>
<line x1="188.4504200061383" y1="827" x2="188.4504200061383" y2="829.2" stroke="#222" stroke-width="0.75"/>
<line x1="189.5215686402281" y1="827" x2="189.5215686402281" y2="829.2" stroke="#222" stroke-width="0.75"/>
<line x1="190.4494397918711" y1="827" x2="190.4494397918711" y2="829.2" stroke="#222" stroke-width="0.75"/>
<line x1="191.2678801510292" y1="827" x2="191.2678801510292" y2="829.2" stroke="#222" stroke-width="0.75"/>
<line x1="77.4" y1="824.0" x2="81.4" y2="824.0" stroke="#222" stroke-width="0.75"/>
<line x1="79.2" y1="821.5917600346881" x2="81.4" y2="821.5917600346881" stroke="#222" stroke-width="0.75"/>
<line x1="79.2" y1="820.1830299622427" x2="81.4" y2="820.1830299622427" stroke="#222" stroke-width="0.75"/>
<line x1="79.2" y1="819.1835200693763" x2="81.4" y2="819.1835200693763" stroke="#222" stroke-width="0.75"/>
<line x1="79.2" y1="818.4082399653119" x2="81.4" y2="818.4082399653119" stroke="#222" stroke-width="0.75"/>
<line x1="79.2" y1="817.7747899969308" x2="81.4" y2="817.7747899969308" stroke="#222" stroke-width="0.75"/>
<line x1="79.2" y1="817.239215679886" x2="81.4" y2="817.239215679886" stroke="#222" stroke-width="0.75"/>
<line x1="79.2" y1="816.7752801040644" x2="81.4" y2="816.7752801040644" stroke="#222" stroke-width="0.75"/>
<line x1="79.2" y1="816.3660599244854" x2="81.4" y2="816.3660599244854" stroke="#222" stroke-width="0.75"/>
<line x1="77.4" y1="806.0" x2="81.4" y2="806.0" stroke="#222" stroke-width="0.75"/>
<line x1="79.2" y1="798.1732201127365" x2="81.4" y2="798.1732201127365" stroke="#222" stroke-width="0.75"/>
<line x1="79.2" y1="793.5948473772888" x2="81.4" y2="793.5948473772888" stroke="#222" stroke-width="0.75"/>
<line x1="79.2" y1="790.346440225473" x2="81.4" y2="790.346440225473" stroke="#222" stroke-width="0.75"/>
<line x1="79.2" y1="787.8267798872635" x2="81.4" y2="787.8267798872635" stroke="#222" stroke-width="0.75"/>
<line x1="79.2" y1="785.7680674900253" x2="81.4" y2="785.7680674900253" stroke="#222" stroke-width="0.75"/>
<line x1="79.2" y1="784.0274509596293" x2="81.4" y2="784.0274509596293" stroke="#222" stroke-width="0.75"/>
<line x1="79.2" y1="782.5196603382095" x2="81.4" y2="782.5196603382095" stroke="#222" stroke-width="0.75"/>
<line x1="79.2" y1="781.1896947545775" x2="81.4" y2="781.1896947545775" stroke="#222" stroke-width="0.75"/>
<line x1="77.4" y1="780.0" x2="81.4" y2="780.0" stroke="#222" stroke-width="0.75"/>
<line x1="79.2" y1="772.4742501084005" x2="81.4" y2="772.4742501084005" stroke="#222" stroke-width="0.75"/>
<line x1="79.2" y1="768.0719686320084" x2="81.4" y2="768.0719686320084" stroke="#222" stroke-width="0.75"/>
<line x1="79.2" y1="764.948500216801" x2="81.4" y2="764.948500216801" stroke="#222" stroke-width="0.75"/>
<line x1="79.2" y1="762.5257498915995" x2="81.4" y2="762.5257498915995" stroke="#222" stroke-width="0.75"/>
<line x1="79.2" y1="760.5462187404089" x2="81.4" y2="760.5462187404089" stroke="#222" stroke-width="0.75"/>
<line x1="79.2" y1="758.8725489996435" x2="81.4" y2="758.8725489996435" stroke="#222" stroke-width="0.75"/>
<line x1="79.2" y1="757.4227503252014" x2="81.4" y2="757.4227503252014" stroke="#222" stroke-width="0.75"/>
<line x1="79.2" y1="756.1439372640169" x2="81.4" y2="756.1439372640169" stroke="#222" stroke-width="0.75"/>
<line x1="77.4" y1="755.0" x2="81.4" y2="755.0" stroke="#222" stroke-width="0.75"/>
<line x1="79.2" y1="747.7752801040644" x2="81.4" y2="747.7752801040644" stroke="#222" stroke-width="0.75"/>
<line x1="79.2" y1="743.5490898867281" x2="81.4" y2="743.5490898867281" stroke="#222" stroke-width="0.75"/>
<line x1="79.2" y1="740.5505602081289" x2="81.4" y2="740.5505602081289" stroke="#222" stroke-width="0.75"/>
<line x1="79.2" y1="738.2247198959356" x2="81.4" y2="738.2247198959356" stroke="#222" stroke-width="0.75"/>
<line x1="79.2" y1="736.3243699907925" x2="81.4" y2="736.3243699907925" stroke="#222" stroke-width="0.75"/>
<line x1="79.2" y1="734.7176470396579" x2="81.4" y2="734.7176470396579" stroke="#222" stroke-width="0.75"/>
<line x1="79.2" y1="733.3258403121933" x2="81.4" y2="733.3258403121933" stroke="#222" stroke-width="0.75"/>
<line x1="79.2" y1="732.0981797734562" x2="81.4" y2="732.0981797734562" stroke="#222" stroke-width="0.75"/>
<line x1="77.4" y1="731.0" x2="81.4" y2="731.0" stroke="#222" stroke-width="0.75"/>
<line x1="79.2" y1="727.9897000433602" x2="81.4" y2="727.9897000433602" stroke="#222" stroke-width="0.75"/>
<line x1="79.2" y1="726.2287874528034" x2="81.4" y2="726.2287874528034" stroke="#222" stroke-width="0.75"/>
<line x1="79.2" y1="724.9794000867204" x2="81.4" y2="724.9794000867204" stroke="#222" stroke-width="0.75"/>
<line x1="79.2" y1="724.0102999566398" x2="81.4" y2="724.0102999566398" stroke="#222" stroke-width="0.75"/>
<line x1="79.2" y1="723.2184874961636" x2="81.4" y2="723.2184874961636" stroke="#222" stroke-width="0.75"/>
<line x1="79.2" y1="722.5490195998574" x2="81.4" y2="722.5490195998574" stroke="#222" stroke-width="0.75"/>
<line x1="79.2" y1="721.9691001300806" x2="81.4" y2="721.9691001300806" stroke="#222" stroke-width="0.75"/>
<line x1="79.2" y1="721.4575749056067" x2="81.4" y2="721.4575749056067" stroke="#222" stroke-width="0.75"/>
<line x1="95.5" y1="827" x2="95.5" y2="829.4" stroke="#222" stroke-width="0.6"/>
<line x1="96.4" y1="827" x2="96.4" y2="829.4" stroke="#222" stroke-width="0.6"/>
<line x1="97.30000000000001" y1="827" x2="97.30000000000001" y2="829.4" stroke="#222" stroke-width="0.6"/>
<line x1="98.20000000000002" y1="827" x2="98.20000000000002" y2="829.4" stroke="#222" stroke-width="0.6"/>
<line x1="99.10000000000002" y1="827" x2="99.10000000000002" y2="829.4" stroke="#222" stroke-width="0.6"/>
<line x1="100.00000000000003" y1="827" x2="100.00000000000003" y2="829.4" stroke="#222" stroke-width="0.6"/>
<line x1="100.90000000000003" y1="827" x2="100.90000000000003" y2="829.4" stroke="#222" stroke-width="0.6"/>
<line x1="101.80000000000004" y1="827" x2="101.80000000000004" y2="829.4" stroke="#222" stroke-width="0.6"/>
<line x1="102.70000000000005" y1="827" x2="102.70000000000005" y2="829.4" stroke="#222" stroke-width="0.6"/>
<line x1="103.60000000000005" y1="827" x2="103.60000000000005" y2="829.4" stroke="#222" stroke-width="0.6"/>
<line x1="99.5" y1="827" x2="99.5" y2="831" stroke="#111" stroke-width="1.2"/>
<line x1="79.0" y1="819" x2="81.4" y2="819" stroke="#222" stroke-width="0.6"/>
<line x1="79.0" y1="818.1" x2="81.4" y2="818.1" stroke="#222" stroke-width="0.6"/>
<line x1="79.0" y1="817.2" x2="81.4" y2="817.2" stroke="#222" stroke-width="0.6"/>
<line x1="79.0" y1="816.3000000000001" x2="81.4" y2="816.3000000000001" stroke="#222" stroke-width="0.6"/>
<line x1="79.0" y1="815.4000000000001" x2="81.4" y2="815.4000000000001" stroke="#222" stroke-width="0.6"/>
<line x1="79.0" y1="814.5000000000001" x2="81.4" y2="814.5000000000001" stroke="#222" stroke-width="0.6"/>
<line x1="79.0" y1="813.6000000000001" x2="81.4" y2="813.6000000000001" stroke="#222" stroke-width="0.6"/>
<line x1="79.0" y1="812.7000000000002" x2="81.4" y2="812.7000000000002" stroke="#222" stroke-width="0.6"/>
<line x1="79.0" y1="811.8000000000002" x2="81.4" y2="811.8000000000002" stroke="#222" stroke-width="0.6"/>
<line x1="79.0" y1="810.9000000000002" x2="81.4" y2="810.9000000000002" stroke="#222" stroke-width="0.6"/>
<line x1="79.0" y1="810.0000000000002" x2="81.4" y2="810.0000000000002" stroke="#222" stroke-width="0.6"/>
<line x1="79.0" y1="809.1000000000003" x2="81.4" y2="809.1000000000003" stroke="#222" stroke-width="0.6"/>
<line x1="79.0" y1="808.2000000000003" x2="81.4" y2="808.2000000000003" stroke="#222" stroke-width="0.6"/>
<line x1="79.0" y1="807.3000000000003" x2="81.4" y2="807.3000000000003" stroke="#222" stroke-width="0.6"/>
<line x1="79.0" y1="806.4000000000003" x2="81.4" y2="806.4000000000003" stroke="#222" stroke-width="0.6"/>
<line x1="79.0" y1="805.5000000000003" x2="81.4" y2="805.5000000000003" stroke="#222" stroke-width="0.6"/>
<line x1="79.0" y1="804.6000000000004" x2="81.4" y2="804.6000000000004" stroke="#222" stroke-width="0.6"/>
<line x1="79.0" y1="803.7000000000004" x2="81.4" y2="803.7000000000004" stroke="#222" stroke-width="0.6"/>
<line x1="77.2" y1="811.0" x2="81.4" y2="811.0" stroke="#111" stroke-width="1.2"/>
<text x="80.9" y="840.1" font-size="4.8" font-weight="normal" text-anchor="middle" fill="#222" >-246</text>
<text x="101.7" y="837.0" font-size="4.8" font-weight="normal" text-anchor="middle" fill="#222" >0 10<tspan dy="-2.6" font-size="3.4">2</tspan></text>
<text x="130.8" y="837.0" font-size="4.8" font-weight="normal" text-anchor="middle" fill="#222" >10<tspan dy="-2.6" font-size="3.4">3</tspan></text>
<text x="156.4" y="837.0" font-size="4.8" font-weight="normal" text-anchor="middle" fill="#222" >10<tspan dy="-2.6" font-size="3.4">4</tspan></text>
<text x="182" y="837.0" font-size="4.8" font-weight="normal" text-anchor="middle" fill="#222" >10<tspan dy="-2.6" font-size="3.4">5</tspan></text>
<text x="76.2" y="729.6" font-size="4.8" font-weight="normal" text-anchor="middle" fill="#222" transform="rotate(-90 76.2 729.6)" >10<tspan dy="-2.6" font-size="3.4">5</tspan></text>
<text x="76.2" y="753.9" font-size="4.8" font-weight="normal" text-anchor="middle" fill="#222" transform="rotate(-90 76.2 753.9)" >10<tspan dy="-2.6" font-size="3.4">4</tspan></text>
<text x="76.2" y="778.9" font-size="4.8" font-weight="normal" text-anchor="middle" fill="#222" transform="rotate(-90 76.2 778.9)" >10<tspan dy="-2.6" font-size="3.4">3</tspan></text>
<text x="76.2" y="806" font-size="4.8" font-weight="normal" text-anchor="middle" fill="#222" transform="rotate(-90 76.2 806)" >10<tspan dy="-2.6" font-size="3.4">2</tspan></text>
<text x="70.60000000000001" y="826.5" font-size="4.8" font-weight="normal" text-anchor="middle" fill="#222" transform="rotate(-90 70.60000000000001 826.5)" >-534</text>
<text x="136.7" y="843.5" font-size="6.3" font-weight="normal" text-anchor="middle" fill="#222" textLength="42.3" lengthAdjust="spacingAndGlyphs" >C-KIT APC-A</text>
<text x="66.5" y="772.7" font-size="5.8" font-weight="normal" text-anchor="middle" fill="#222" transform="rotate(-90 66.5 772.7)" textLength="40" lengthAdjust="spacingAndGlyphs" >LIN APC-Cy7-A</text>
<clipPath id="c5"><rect x="223.3" y="720.2" width="99.80000000000001" height="104.29999999999995"/></clipPath><g clip-path="url(#c5)">
<path d="M236.6 807.0h0M242.2 804.7h0M237.4 807.8h0M242.8 806.6h0M236.9 806.1h0M237.3 807.3h0M240.2 805.5h0M238.0 807.1h0M236.8 802.3h0M243.2 809.4h0M240.3 804.5h0M234.7 806.4h0M234.2 803.3h0M241.9 807.8h0M235.5 808.2h0M234.6 806.0h0M241.2 799.8h0M241.0 808.0h0M238.5 809.9h0M240.4 803.5h0M236.3 806.7h0M234.5 806.1h0M234.4 801.9h0M242.2 799.1h0M239.2 810.3h0M235.9 806.7h0M239.6 802.4h0M235.8 802.7h0M243.1 803.4h0M240.2 807.2h0M239.1 802.9h0M234.3 808.2h0M241.7 797.5h0M240.9 808.8h0M238.0 804.5h0M238.2 806.1h0M241.4 806.1h0M236.4 808.1h0M240.8 803.5h0M243.0 804.8h0M235.6 808.5h0M232.4 808.4h0M235.7 809.7h0M239.3 807.1h0M236.1 803.7h0M241.5 809.4h0M240.6 801.3h0M241.7 811.9h0M236.4 808.0h0M235.0 797.2h0M230.6 796.0h0M240.0 809.5h0M239.2 802.3h0M234.5 803.7h0M240.1 803.1h0M237.8 806.1h0M241.9 801.2h0M240.0 810.4h0M238.3 799.0h0M237.7 803.4h0M234.8 804.7h0M239.7 813.1h0M239.4 803.0h0M240.4 809.5h0M236.4 809.0h0M241.5 809.1h0M237.5 809.2h0M239.9 799.8h0M237.9 810.3h0M238.9 801.8h0M236.2 806.7h0M236.7 804.4h0M238.2 800.3h0M240.3 806.4h0M234.8 808.7h0M236.2 810.8h0M239.6 801.5h0M239.9 805.9h0M237.4 808.4h0M241.9 804.1h0M234.1 808.7h0M240.7 806.1h0M238.6 800.9h0M236.2 810.8h0M235.7 803.4h0M239.3 807.0h0M236.2 803.0h0M236.1 806.5h0M239.9 802.1h0M238.5 808.2h0M240.5 803.4h0M238.9 808.1h0M235.9 800.0h0M239.0 810.6h0M239.8 805.7h0M234.9 808.5h0M240.2 809.7h0M233.5 807.4h0M236.4 805.5h0M244.3 810.0h0M242.5 802.2h0M237.3 808.0h0M235.5 805.3h0M242.6 798.4h0M240.1 807.0h0M238.4 798.9h0M237.1 803.9h0M235.0 803.8h0M241.0 807.5h0M238.0 808.7h0M233.4 802.2h0M243.2 810.0h0M239.5 801.3h0M234.3 800.6h0M238.2 804.2h0M239.2 807.7h0M242.0 807.4h0M237.3 805.2h0M244.1 803.4h0M236.6 806.3h0M234.0 801.8h0M235.3 802.6h0M241.5 811.4h0M241.2 800.5h0M239.9 800.0h0M240.3 803.6h0M245.2 804.6h0M241.2 806.0h0M240.0 802.3h0M240.3 809.2h0M240.2 806.4h0M232.6 804.1h0M238.2 802.8h0M237.6 802.6h0M234.0 803.6h0M234.6 807.9h0M239.0 802.5h0M238.4 806.8h0M239.6 804.0h0M240.0 806.1h0M235.0 802.5h0M241.6 816.3h0M237.2 813.5h0M233.8 801.5h0M239.3 801.4h0M238.5 805.0h0M236.5 807.3h0M238.6 806.6h0M235.6 806.6h0M236.4 804.6h0M239.4 802.8h0M242.0 805.5h0M240.3 809.7h0M241.6 811.8h0M237.3 800.4h0M235.4 803.8h0M229.6 811.2h0M234.9 803.2h0M236.0 802.7h0M240.3 800.1h0M238.2 815.4h0M239.8 803.4h0M244.3 800.2h0M237.2 803.4h0M240.0 802.5h0M237.0 811.9h0M237.1 806.9h0M240.2 807.7h0M238.0 802.6h0M238.4 802.3h0M240.1 805.7h0M237.3 801.8h0M236.0 804.0h0M238.8 806.9h0M235.5 806.8h0M237.7 807.2h0M242.1 809.0h0M243.4 801.0h0M239.7 807.2h0M240.8 806.7h0M235.1 798.7h0M239.5 809.9h0M239.4 808.4h0M236.6 808.2h0M235.4 805.1h0M233.8 806.9h0M238.1 807.1h0M234.6 807.1h0M240.0 803.7h0M242.8 807.3h0M238.4 804.9h0M237.9 810.4h0M239.9 803.3h0M243.1 807.4h0M235.0 801.0h0M238.5 803.0h0M238.9 803.5h0M239.8 810.4h0M241.4 804.4h0M238.0 804.1h0M237.4 809.1h0M238.8 807.9h0M238.2 807.3h0M236.3 806.3h0M240.0 806.5h0M240.1 807.0h0M236.2 801.3h0M241.9 805.3h0M239.4 804.9h0M236.4 802.9h0M234.4 804.8h0M237.2 810.0h0M240.1 810.5h0M237.4 803.5h0M238.1 805.7h0M240.1 807.5h0M241.6 803.5h0M237.2 804.2h0M243.4 804.4h0M237.1 803.5h0M235.2 807.3h0M237.0 805.1h0M240.1 811.0h0M233.3 801.0h0M241.0 805.4h0M241.5 804.1h0M237.3 808.5h0M239.6 808.1h0M238.3 804.7h0M237.8 812.1h0M240.9 810.2h0M240.1 804.8h0M241.1 809.2h0M237.6 800.3h0M237.4 802.6h0M241.2 798.9h0M237.6 808.6h0M235.3 810.2h0M239.7 811.3h0M240.1 804.3h0M239.3 797.4h0M233.2 809.5h0M240.8 805.8h0M235.4 806.3h0M238.3 809.4h0M241.6 814.0h0M237.7 809.2h0M233.5 805.1h0M236.5 813.6h0M243.4 804.5h0M239.3 803.9h0M237.3 807.2h0M238.5 805.3h0M238.3 818.5h0M239.7 798.4h0M237.7 806.4h0M240.1 804.1h0M234.8 810.8h0M240.4 805.0h0M234.7 808.4h0M238.2 805.8h0M234.8 808.5h0M238.2 808.9h0M239.6 802.9h0M237.4 806.6h0M236.0 801.0h0M229.3 804.7h0M237.6 803.1h0M234.2 808.9h0M233.8 803.6h0M237.9 806.2h0M237.1 809.3h0M244.5 799.0h0M230.9 810.0h0M237.3 805.5h0M238.9 810.6h0M240.4 814.6h0M238.3 802.0h0M237.9 808.6h0M237.1 805.0h0M237.0 801.6h0M240.9 808.2h0M240.4 805.9h0M240.1 806.1h0M238.0 801.0h0M236.7 806.8h0M238.8 811.1h0M240.5 807.9h0M235.3 801.1h0M244.2 803.9h0M238.0 805.6h0M242.0 803.8h0M236.5 808.1h0M233.4 811.4h0M237.4 812.4h0M238.4 806.5h0M238.4 804.7h0M240.7 812.7h0M232.2 800.4h0M238.8 806.5h0M240.2 811.9h0M239.3 805.4h0M238.3 808.0h0M241.5 798.6h0M239.0 807.8h0M237.6 810.4h0M242.8 805.0h0M233.8 806.4h0M241.1 809.3h0M235.7 803.2h0M239.9 801.1h0M239.7 809.4h0M241.3 803.3h0M239.7 806.8h0M235.4 801.3h0M241.7 810.8h0M241.7 805.3h0M233.6 812.6h0M236.2 806.4h0M237.8 806.8h0M237.8 808.3h0M238.1 810.8h0M237.3 802.2h0M241.8 803.2h0M240.0 804.9h0M239.4 805.2h0M238.9 800.8h0M241.4 806.5h0M236.9 809.2h0M241.2 810.4h0M236.6 809.9h0M242.4 806.4h0M240.1 805.6h0M239.3 806.0h0M234.6 805.2h0M238.5 808.3h0M238.9 810.4h0M239.3 807.8h0M243.5 803.1h0M241.6 810.2h0M236.8 796.6h0M236.6 805.2h0M240.2 813.1h0M240.6 807.8h0M241.9 806.7h0M236.4 808.5h0M240.7 808.4h0M239.9 809.7h0M240.4 806.6h0M233.8 806.2h0M241.6 803.1h0M237.5 809.3h0M237.8 808.1h0M239.6 808.3h0M238.9 811.9h0M241.0 806.3h0M238.8 807.2h0M239.6 805.8h0M239.0 806.4h0M240.3 805.2h0M241.2 801.1h0M241.2 799.7h0M237.8 812.4h0M237.5 805.0h0M242.4 800.8h0M237.5 810.1h0M240.3 810.6h0M237.8 807.0h0M238.8 800.8h0M234.5 805.2h0M232.4 808.0h0M237.8 803.2h0M238.1 804.8h0M234.5 800.0h0M236.0 804.4h0M237.7 803.1h0M237.2 808.7h0M236.7 807.0h0M238.8 804.2h0M239.5 802.8h0M239.7 802.3h0M238.2 804.1h0M238.9 798.0h0M238.1 810.2h0M236.5 806.5h0M240.0 802.4h0M237.6 799.8h0M240.4 802.1h0M234.1 807.5h0M238.6 804.3h0M239.0 803.4h0M238.4 805.4h0M238.6 805.1h0M240.4 806.3h0M242.6 806.3h0M235.9 809.7h0M237.6 806.2h0M234.7 808.7h0M241.4 798.1h0M237.6 808.7h0M237.5 805.2h0M238.2 795.9h0M238.6 804.5h0M240.6 810.4h0M240.2 815.2h0M239.2 804.5h0M237.0 805.7h0M237.9 805.7h0M236.1 812.3h0M241.1 806.8h0M237.0 806.6h0M234.0 805.7h0M235.8 809.0h0M237.7 800.2h0M239.3 810.3h0M234.0 809.0h0M236.3 805.9h0M242.4 807.3h0M239.8 808.3h0M238.5 805.2h0M238.5 810.4h0M233.3 806.9h0M241.2 801.5h0M235.5 812.2h0M240.4 807.1h0M236.3 809.7h0M243.8 806.7h0M237.0 803.8h0M237.6 804.2h0M236.9 806.8h0M237.4 806.1h0M236.3 810.3h0M239.0 806.1h0M235.6 804.2h0M241.7 805.2h0M236.7 812.4h0M240.6 808.9h0M235.6 804.1h0M235.6 807.0h0M236.4 804.0h0M237.2 806.4h0M237.2 812.0h0M237.1 806.6h0M235.2 810.4h0M232.7 806.9h0M237.0 796.2h0M238.7 799.7h0M239.3 803.5h0M235.4 809.1h0M241.4 803.1h0M234.9 805.1h0M237.3 805.7h0M237.2 807.6h0M244.3 801.8h0M236.6 806.0h0M233.5 803.6h0M236.0 802.2h0M240.7 804.5h0M239.9 798.7h0M239.0 812.2h0M235.6 803.3h0M235.9 807.2h0M238.9 805.2h0M237.7 806.2h0M232.2 799.6h0M235.6 808.9h0M238.4 804.7h0M242.8 805.4h0M239.7 802.9h0M239.9 805.1h0M239.4 801.1h0M241.1 807.2h0M238.9 802.1h0M240.4 806.4h0M236.3 812.0h0M237.0 808.8h0M238.7 812.5h0M239.8 804.5h0M232.0 801.2h0M239.3 805.6h0M242.3 804.9h0M239.8 812.9h0M240.1 808.4h0M233.1 805.0h0M236.1 802.0h0M236.7 804.5h0M243.0 805.1h0M236.3 809.1h0M239.8 803.0h0M244.8 805.3h0M238.0 804.6h0M233.2 802.9h0M240.8 809.6h0M237.3 800.7h0M240.7 803.2h0M238.8 809.1h0M236.6 808.2h0M234.1 800.6h0M236.1 798.4h0M238.9 808.7h0M242.4 802.0h0M239.1 807.8h0M242.1 805.1h0M236.8 806.9h0M238.8 804.1h0M237.4 806.0h0M237.9 807.7h0M240.5 810.3h0M234.7 804.5h0M235.3 805.4h0M244.7 812.1h0M237.1 807.2h0M233.2 805.1h0M243.6 805.3h0M236.3 803.5h0M238.0 812.8h0M238.3 806.4h0M239.7 798.2h0M237.2 802.3h0M238.9 798.9h0M239.3 805.6h0M239.3 813.2h0M239.1 802.8h0M240.7 806.6h0M235.9 802.3h0M242.9 804.6h0M235.4 804.9h0M235.3 807.3h0M241.2 806.9h0M241.8 800.4h0M235.5 804.9h0M242.2 807.5h0M238.8 805.6h0M231.5 810.2h0M241.0 813.0h0M243.5 804.4h0M236.5 815.0h0M241.4 809.4h0M237.3 802.7h0M239.0 805.6h0M237.5 803.4h0M233.8 808.6h0M234.1 807.7h0M236.7 808.0h0M236.4 805.2h0M238.9 802.7h0M238.7 808.1h0M238.5 806.2h0M240.3 811.8h0M233.1 805.4h0M236.5 805.3h0M238.4 806.2h0M240.3 810.5h0M235.7 810.3h0M239.6 801.4h0M240.0 809.0h0M236.2 809.5h0M239.2 802.6h0M238.2 811.9h0M236.7 802.4h0M240.0 800.5h0M237.8 809.6h0M234.8 806.0h0M242.5 809.5h0M234.5 809.2h0M234.6 804.3h0M235.5 801.0h0M236.1 805.3h0M238.4 805.1h0M237.1 802.1h0M237.5 802.5h0M237.5 805.3h0M238.1 812.8h0M241.4 813.4h0M238.3 806.7h0M236.0 810.4h0M236.7 804.2h0M240.4 802.2h0M233.7 803.9h0M242.0 809.6h0M240.2 804.8h0M236.8 805.2h0M243.2 802.8h0M241.3 806.4h0M238.7 805.7h0M231.2 809.8h0M238.0 799.8h0M241.9 808.8h0M237.3 800.6h0M236.0 808.7h0M236.8 801.8h0M234.9 804.0h0M237.8 803.7h0M241.4 803.3h0M237.7 806.8h0M241.0 812.8h0M239.4 808.5h0M238.3 805.0h0M234.7 808.4h0M239.3 804.0h0M251.1 799.6h0M275.5 804.0h0M268.2 803.2h0M266.7 803.7h0M256.3 807.1h0M272.2 805.1h0M245.5 803.9h0M261.6 810.2h0M274.7 809.5h0M254.8 800.0h0M246.9 802.1h0M285.6 807.0h0M245.0 803.9h0M290.3 803.5h0M266.6 800.4h0M288.2 803.6h0M256.8 809.2h0M260.3 807.3h0M283.3 805.4h0M255.2 804.1h0M268.9 799.5h0M254.3 807.7h0M260.4 805.7h0M281.2 806.0h0M266.6 805.8h0M264.1 804.2h0M279.1 807.8h0M264.5 809.1h0M255.3 800.9h0M279.3 805.0h0M285.1 801.4h0M259.5 803.8h0M287.7 806.6h0M287.7 806.1h0M268.8 805.6h0M254.9 804.3h0M259.5 800.0h0M278.6 802.1h0M276.0 809.4h0M252.5 802.8h0M249.6 810.9h0M269.2 808.4h0M265.7 804.4h0M282.7 806.5h0M288.4 805.8h0M281.4 803.9h0M256.2 806.9h0M271.5 800.8h0M245.2 801.4h0M278.9 804.9h0M281.0 802.7h0M267.0 808.7h0M253.3 801.4h0M265.9 802.5h0M287.7 805.2h0M263.0 803.0h0M291.3 809.4h0M270.3 803.0h0M253.3 811.0h0M290.2 805.0h0M269.4 807.3h0M283.9 808.2h0M264.0 804.7h0M267.4 803.5h0M246.1 800.1h0M245.8 806.6h0M283.7 800.0h0M266.6 803.2h0M280.9 806.4h0M279.8 802.4h0M268.8 805.7h0M280.5 802.8h0M279.4 807.4h0M256.6 801.4h0M251.1 808.7h0M283.6 802.5h0M260.4 803.3h0M271.2 804.4h0M248.6 804.9h0M261.3 803.5h0M258.7 805.8h0M287.7 806.6h0M256.2 804.7h0M251.2 805.9h0M264.5 804.2h0M273.7 804.2h0M252.8 807.7h0M275.7 804.3h0M271.3 806.6h0M245.1 808.1h0M246.3 812.1h0M259.4 804.7h0M276.1 804.7h0M259.9 800.9h0M248.6 804.9h0M268.1 811.5h0M264.1 802.0h0M252.4 805.0h0M280.2 802.6h0M254.4 805.0h0M281.8 808.9h0M251.7 807.3h0M254.0 804.0h0M272.8 799.7h0M261.2 804.2h0M273.7 807.5h0M258.0 805.0h0M259.7 806.4h0M252.1 802.6h0M268.1 807.8h0M267.3 810.2h0M268.0 806.8h0M280.7 800.5h0M245.4 799.1h0M245.9 804.0h0M259.4 804.0h0M263.9 812.1h0M272.8 803.0h0M268.9 802.0h0M266.5 803.7h0M266.0 810.9h0M281.1 805.0h0M256.8 804.2h0M263.6 805.9h0M249.1 805.7h0M262.0 805.8h0M278.7 807.0h0M267.2 807.8h0M290.5 808.6h0M276.5 804.6h0M271.7 806.0h0M267.0 805.3h0M289.3 807.2h0M250.0 806.4h0M289.5 805.8h0M281.6 808.8h0M249.0 807.5h0M283.5 800.2h0M258.1 805.3h0M286.9 807.7h0M290.1 805.5h0M263.9 806.8h0M287.0 803.3h0M266.1 807.7h0M254.6 805.2h0M284.6 805.8h0M263.1 805.2h0M245.1 802.6h0M253.4 804.3h0M291.1 803.0h0M279.3 810.2h0M268.1 807.7h0M260.6 809.0h0M250.3 804.2h0M257.4 812.1h0M273.9 803.0h0M259.9 807.0h0M259.6 808.7h0M276.1 805.4h0M290.8 805.1h0M272.0 805.8h0M259.0 804.0h0M250.4 807.1h0M261.5 805.8h0M262.0 812.1h0M281.2 805.1h0M259.3 807.9h0M280.1 806.4h0M246.3 805.0h0M260.8 804.8h0M285.9 799.3h0M271.7 808.6h0M260.0 808.2h0M277.0 804.5h0M284.4 804.6h0M254.2 804.2h0M258.4 801.1h0M260.7 804.5h0M253.7 806.1h0M259.9 807.3h0M289.0 803.8h0M269.4 808.6h0M250.6 807.6h0M266.8 808.6h0M247.1 807.9h0M274.2 801.9h0M273.2 802.0h0M281.7 804.8h0M267.3 808.2h0M284.1 804.2h0M268.0 807.5h0M267.6 804.0h0M284.6 809.4h0M278.1 802.7h0M280.0 807.1h0M277.1 803.4h0M278.4 809.1h0M255.7 799.1h0M267.0 804.3h0M270.0 805.7h0M281.1 807.7h0M262.0 805.4h0M264.8 805.4h0M245.5 805.5h0M288.8 806.9h0M287.7 806.6h0M248.2 803.5h0M246.0 809.6h0M256.4 808.5h0M285.0 808.0h0M278.6 807.1h0M261.7 806.8h0M260.9 805.4h0M259.3 809.4h0M264.1 803.8h0M261.3 804.4h0M286.3 799.2h0M273.3 806.8h0M272.0 805.9h0M287.7 802.8h0M270.5 805.3h0M271.7 811.2h0M262.2 803.7h0M253.9 804.1h0M255.2 808.5h0M267.0 810.0h0M270.8 799.6h0M278.5 804.4h0M259.3 806.4h0M277.3 801.6h0M260.5 806.9h0M249.6 807.0h0M290.6 805.2h0M274.0 808.5h0M262.5 806.6h0M273.5 810.8h0M269.7 804.8h0M274.0 805.4h0M246.8 803.5h0M289.8 807.6h0M270.5 806.2h0M245.1 803.7h0M254.8 810.1h0M260.2 803.6h0M289.0 809.3h0M260.8 799.1h0M282.5 806.5h0M286.4 802.6h0M283.0 806.5h0M277.6 808.7h0M258.4 803.9h0M287.3 810.3h0M285.1 806.5h0M292.0 805.5h0M269.4 800.7h0M246.2 805.5h0M277.2 808.7h0M291.2 804.8h0M290.2 804.2h0M267.5 802.1h0M273.0 812.1h0M282.1 805.1h0M285.8 807.3h0M272.4 800.9h0M268.3 801.7h0M277.8 803.8h0M275.4 803.6h0M288.6 803.2h0M251.8 808.5h0M289.6 803.9h0M276.2 809.1h0M275.0 803.8h0M282.0 805.4h0M281.1 808.9h0M262.2 805.2h0M283.9 802.7h0M252.0 803.6h0M278.3 802.2h0M265.9 804.5h0M291.0 802.6h0M268.3 802.3h0M270.7 808.1h0M278.2 802.7h0M287.2 805.3h0M285.6 805.1h0M276.9 802.1h0M271.3 802.1h0M250.4 802.0h0M261.1 805.9h0M251.5 805.6h0M269.0 800.7h0M252.6 803.1h0M288.8 805.3h0M250.3 807.8h0M279.8 806.1h0M284.9 805.0h0M245.0 803.9h0M267.4 807.0h0M269.3 804.7h0M273.9 803.7h0M276.1 799.1h0M252.9 806.2h0M285.4 806.0h0M277.7 805.7h0M268.5 805.2h0M270.1 806.3h0M253.3 809.9h0M291.9 811.0h0M246.4 807.2h0M246.1 805.3h0M247.9 806.2h0M263.9 807.0h0M247.4 806.2h0M246.2 802.9h0M263.7 808.5h0M250.6 803.7h0M250.8 803.0h0M246.6 802.5h0M291.1 811.4h0M285.0 805.1h0M248.8 810.5h0M278.2 811.3h0M276.6 803.2h0M256.0 802.1h0M269.8 809.0h0M281.3 802.4h0M287.0 808.6h0M288.5 802.2h0M245.8 805.8h0M281.8 804.7h0M268.1 807.6h0M247.6 812.1h0M267.2 807.6h0M264.5 808.5h0M266.6 804.3h0M279.4 802.2h0M256.5 804.0h0M272.4 801.1h0M247.2 805.1h0M280.5 807.4h0M287.7 810.1h0M257.4 808.0h0M247.7 807.5h0M263.3 804.0h0M263.9 808.4h0M274.1 807.1h0M246.7 812.1h0M246.8 807.2h0M256.3 804.5h0M263.6 809.6h0M245.6 809.6h0M282.3 809.0h0M258.8 806.1h0M251.4 801.5h0M246.9 808.7h0M245.3 802.1h0M283.2 805.4h0M251.3 808.3h0M276.3 807.2h0M278.6 802.9h0M259.1 805.4h0M282.9 806.4h0M285.5 801.5h0M259.3 807.8h0M265.4 805.1h0M281.6 806.2h0M258.0 807.8h0M257.1 801.3h0M256.9 803.8h0M287.6 805.9h0M274.5 810.2h0M283.7 802.9h0M287.1 800.6h0M257.0 807.0h0M248.8 811.9h0M249.3 809.2h0M248.9 805.7h0M249.1 805.4h0M259.7 806.6h0M250.3 804.7h0M262.1 807.3h0M291.5 807.5h0M251.6 809.0h0M255.7 803.7h0M262.1 809.1h0M255.4 809.9h0M290.3 808.4h0M264.3 800.8h0M252.5 804.4h0M288.1 806.2h0M279.8 802.0h0M270.8 801.4h0M258.1 810.5h0M271.9 803.1h0M289.6 799.7h0M248.5 811.2h0M276.8 806.8h0M285.6 808.6h0M261.7 806.7h0M272.2 805.8h0M286.2 805.4h0M280.1 805.4h0M276.8 803.5h0M263.2 806.7h0M250.5 804.4h0M271.8 804.6h0M273.5 806.2h0M255.4 803.4h0M260.5 803.8h0M260.1 806.4h0M281.1 804.6h0M289.1 806.6h0M290.2 804.6h0M281.7 806.0h0M278.4 800.1h0M272.4 804.0h0M267.6 804.1h0M266.3 804.4h0M257.0 808.9h0M268.3 803.2h0M253.7 801.9h0M269.1 804.6h0M290.8 807.2h0M285.5 803.4h0M271.0 801.7h0M259.5 807.5h0M260.7 812.1h0M273.5 805.9h0M289.3 811.5h0M249.5 804.4h0M287.8 802.9h0M282.4 803.7h0M259.2 804.2h0M253.4 807.1h0M286.0 801.2h0M253.0 804.5h0M253.4 802.7h0M276.3 805.9h0M278.0 807.1h0M257.4 805.9h0M257.8 808.0h0M249.7 808.4h0M289.8 812.1h0M265.8 809.6h0M279.1 803.1h0M275.2 804.2h0M250.1 801.9h0M248.3 803.1h0M254.9 809.2h0M248.7 801.9h0M282.1 804.3h0M281.5 807.7h0M266.3 806.6h0M277.5 807.7h0M268.3 811.8h0M250.2 805.2h0M256.3 802.5h0M274.7 806.1h0M269.7 805.5h0M286.8 805.8h0M269.6 808.0h0M291.8 807.8h0M246.2 807.6h0M281.7 806.8h0M269.4 804.8h0M251.9 805.9h0M276.5 812.1h0M265.4 810.6h0M279.5 804.9h0M276.7 801.9h0M267.5 812.0h0M288.8 805.9h0M280.1 806.2h0M246.2 805.0h0M252.7 801.0h0M277.8 806.5h0M273.9 808.1h0M272.4 806.2h0M269.8 803.2h0M256.9 812.0h0M288.1 806.2h0M279.2 805.6h0M290.6 804.0h0M278.6 808.9h0M272.3 804.5h0M277.1 807.0h0M248.2 806.9h0M263.9 804.1h0M266.8 805.3h0M254.2 809.3h0M248.3 811.1h0M275.3 804.8h0M270.9 805.4h0M277.8 808.3h0M258.6 806.6h0M267.1 806.3h0M274.9 804.0h0M275.7 806.6h0M279.0 809.9h0M265.6 808.1h0M262.1 808.6h0M273.8 804.4h0M269.7 799.2h0M281.9 808.4h0M264.9 808.9h0M260.2 806.7h0M278.7 804.6h0M278.1 803.8h0M270.0 802.5h0M262.3 807.6h0M260.4 801.7h0M285.2 799.7h0M259.6 810.3h0M281.8 804.9h0M262.6 810.0h0M291.5 804.9h0M254.3 803.6h0M263.7 808.0h0M289.1 807.1h0M280.1 804.2h0M265.2 805.3h0M270.3 808.0h0M267.9 807.7h0M257.5 803.3h0M259.2 807.4h0M264.7 806.9h0M256.8 802.4h0M257.7 801.5h0M267.7 803.1h0M263.4 802.7h0M249.6 810.8h0M290.0 801.5h0M280.3 806.7h0M249.0 803.7h0M283.1 807.5h0M245.9 807.0h0M286.7 812.1h0M277.3 805.1h0M275.2 809.1h0M254.4 806.1h0M270.7 807.6h0M286.5 807.1h0M272.4 807.4h0M277.4 808.4h0M260.8 802.7h0M273.8 804.4h0M281.5 804.8h0M264.4 805.4h0M285.3 804.2h0M262.6 804.2h0M247.7 804.5h0M249.7 804.8h0M287.3 807.6h0M291.8 808.3h0M268.8 800.8h0M245.3 801.4h0M258.5 804.0h0M280.9 807.5h0M251.6 803.9h0M262.9 804.0h0M255.7 809.6h0M271.5 809.5h0M262.6 812.1h0M275.4 806.2h0M272.5 800.4h0M271.3 805.0h0M263.7 809.2h0M283.2 808.1h0M281.9 806.4h0M283.1 810.8h0M289.7 802.2h0M264.1 804.8h0M260.6 805.9h0M291.1 801.4h0M252.2 801.9h0M266.8 805.1h0M248.0 809.6h0M275.0 802.3h0M275.2 807.8h0M278.1 806.1h0M289.3 804.6h0M281.1 805.1h0M276.7 804.4h0M276.5 799.1h0M277.6 804.9h0M287.7 806.1h0M246.8 808.2h0M281.7 811.2h0M266.5 800.9h0M248.1 809.4h0M255.6 802.2h0M263.4 802.9h0M267.7 801.4h0M257.7 806.2h0M262.7 807.5h0M250.6 804.0h0M265.3 807.0h0M271.5 807.9h0M246.9 803.0h0M271.8 804.1h0M257.4 801.0h0M273.6 805.6h0M267.0 802.8h0M289.5 802.0h0M258.6 808.9h0M286.8 807.4h0M273.1 808.7h0M290.2 805.1h0M289.1 810.4h0M271.0 806.8h0M269.0 805.1h0M275.5 807.4h0M278.4 805.7h0M259.1 811.9h0M284.8 804.1h0M249.9 808.5h0M251.4 806.9h0M278.3 807.4h0M278.9 802.4h0M283.6 802.2h0M276.7 809.9h0M257.0 807.4h0M273.9 805.3h0M276.8 808.8h0M288.5 800.4h0M273.9 803.8h0M270.8 803.2h0M290.9 811.0h0M271.5 801.1h0M270.4 808.1h0M249.3 806.5h0M259.2 799.1h0M255.1 812.1h0M265.8 807.8h0M252.8 804.4h0M284.8 802.9h0M291.0 805.3h0M253.0 806.5h0M268.5 801.8h0M286.7 804.8h0M290.7 803.7h0M268.7 801.4h0M280.1 804.8h0M271.1 799.1h0M291.1 805.2h0M247.0 810.5h0M254.8 811.3h0M283.0 800.8h0M251.6 805.8h0M270.6 803.9h0M287.4 806.7h0M274.6 805.4h0M247.7 803.1h0M285.1 809.9h0M277.3 806.0h0M250.2 803.2h0M288.9 804.2h0M268.7 806.4h0M269.1 806.3h0M278.1 805.1h0M267.4 806.9h0M254.7 807.2h0M265.0 803.5h0M273.8 807.4h0M282.8 805.9h0M255.8 804.6h0M246.1 803.8h0M270.1 810.1h0M291.3 805.6h0M287.2 807.4h0M254.0 810.0h0M260.3 809.0h0M271.3 809.0h0M289.7 809.1h0M283.3 805.3h0M256.2 805.9h0M255.9 806.9h0M276.8 802.2h0M287.8 801.2h0M246.4 806.2h0M283.9 807.6h0M283.7 802.9h0M276.3 801.8h0M268.6 802.2h0M263.1 804.6h0M258.3 805.3h0M290.0 808.8h0M280.8 801.7h0M259.7 804.2h0M263.1 809.2h0M269.1 804.3h0M255.5 811.7h0M245.3 799.9h0M278.8 800.9h0M273.5 808.0h0M250.1 809.0h0M245.8 807.7h0M290.8 806.9h0M286.4 810.1h0M277.8 808.2h0M259.0 799.7h0M266.9 812.1h0M252.4 809.8h0M274.8 807.5h0M246.9 806.4h0M271.0 812.1h0M281.8 803.3h0M270.3 808.0h0M289.3 804.6h0M284.0 801.3h0M288.2 811.4h0M257.6 804.6h0M248.0 805.1h0M256.5 801.1h0M260.4 806.9h0M273.0 802.3h0M266.2 804.4h0M288.2 806.3h0M267.6 811.1h0M286.9 805.9h0M268.5 805.6h0M263.8 807.6h0M259.4 806.3h0M286.3 803.6h0M280.4 807.0h0M272.4 802.0h0M269.2 811.1h0M245.1 802.1h0M273.6 810.7h0M284.3 806.9h0M266.8 804.4h0M245.2 812.1h0M269.5 802.4h0M280.0 806.0h0M274.8 809.8h0M288.7 804.2h0M250.0 806.4h0M256.5 811.5h0M266.5 803.8h0M268.0 803.0h0M250.1 805.0h0M279.8 804.5h0M272.0 802.5h0M260.4 801.7h0M283.5 806.2h0M281.8 807.3h0M281.8 807.3h0M285.0 803.7h0M281.9 809.7h0M275.3 807.8h0M254.5 802.4h0M272.8 807.9h0M277.0 805.0h0M280.7 810.2h0M255.3 802.8h0M247.6 799.4h0M285.6 812.1h0M252.3 808.5h0M273.4 805.6h0M247.5 802.7h0M287.0 800.5h0M274.0 808.6h0M254.0 801.4h0M277.2 812.1h0M253.7 807.6h0M286.2 799.6h0M252.0 803.9h0M245.9 807.5h0M279.6 806.4h0M252.6 807.9h0M288.9 811.9h0M281.7 808.4h0M259.8 807.3h0M280.9 806.3h0M273.9 811.9h0M287.1 806.3h0M264.6 799.1h0M266.3 807.2h0M245.3 801.8h0M280.6 802.1h0M267.3 808.3h0M284.3 809.5h0M290.6 802.5h0M264.8 804.8h0M247.0 807.7h0M251.0 808.9h0M254.7 808.1h0M274.6 805.5h0M247.9 809.4h0M285.7 806.6h0M252.5 801.3h0M258.1 801.5h0M277.8 802.2h0M284.8 804.0h0M282.1 809.2h0M246.7 799.1h0M270.9 805.3h0M291.1 803.5h0M281.9 812.1h0M255.3 807.3h0M288.6 812.1h0M272.1 805.1h0M281.9 806.6h0M270.3 807.6h0M260.1 804.6h0M284.7 806.5h0M269.7 806.2h0M289.2 807.3h0M275.0 802.9h0M267.2 806.0h0M280.9 805.4h0M276.1 802.7h0M258.6 807.3h0M273.5 810.0h0M245.3 805.8h0M277.8 805.2h0M267.0 804.5h0M273.6 802.8h0M252.0 803.7h0M253.6 801.1h0M254.3 805.4h0M262.0 800.8h0M291.2 808.5h0M275.4 807.7h0M269.5 808.1h0M272.7 811.0h0M284.5 804.1h0M288.6 804.1h0M245.7 808.8h0M270.6 806.7h0M266.7 805.4h0M270.5 802.0h0M262.9 805.7h0M266.2 804.0h0M248.6 802.5h0M246.2 808.3h0M255.2 801.0h0M284.6 805.2h0M276.4 803.7h0M276.6 805.0h0M247.7 803.9h0M274.7 804.4h0M269.1 801.2h0M266.9 803.8h0M282.2 810.6h0M282.0 802.0h0M249.9 807.1h0M258.3 801.1h0M271.0 802.8h0M260.4 805.0h0M257.1 805.4h0M245.4 809.9h0M272.1 811.3h0M271.8 801.2h0M281.8 805.9h0M261.7 807.4h0M270.9 800.6h0M281.0 804.7h0M249.4 807.1h0M256.0 803.2h0M290.3 801.6h0M285.2 805.9h0M284.5 807.1h0M286.1 803.3h0M290.4 811.0h0M253.5 804.9h0M288.3 803.6h0M277.0 811.2h0M262.5 805.1h0M289.4 806.1h0M274.1 804.3h0M264.6 804.5h0M255.5 805.7h0M288.3 807.4h0M286.3 799.1h0M287.5 808.7h0M275.9 807.3h0M264.5 806.5h0M280.9 802.3h0M260.1 808.0h0M263.5 803.8h0M285.7 804.3h0M256.0 803.7h0M258.6 804.3h0M283.6 802.1h0M250.8 805.7h0M248.3 803.3h0M246.0 811.1h0M272.2 808.6h0M266.1 804.0h0M276.1 810.2h0M282.3 805.5h0M259.2 805.0h0M275.3 802.7h0M275.8 807.0h0M289.4 804.2h0M251.4 812.1h0M255.9 805.5h0M257.8 804.8h0M280.9 803.8h0M269.5 811.6h0M272.5 807.9h0M287.5 808.9h0M268.9 804.5h0M258.7 806.2h0M272.3 805.0h0M251.1 804.7h0M255.1 803.7h0M274.6 802.7h0M290.1 807.0h0M269.3 804.5h0M263.3 805.2h0M245.2 800.0h0M254.4 801.2h0M261.8 812.1h0M247.7 806.6h0M282.4 808.9h0M271.6 809.3h0M291.9 803.6h0M282.9 799.1h0M283.4 806.8h0M287.1 803.5h0M270.2 808.2h0M271.1 806.2h0M276.8 808.5h0M258.5 801.3h0M271.0 811.4h0M256.6 799.1h0M272.6 804.1h0M245.0 808.3h0M263.9 801.7h0M276.6 804.9h0M283.1 803.0h0M256.5 800.8h0M255.3 809.1h0M250.9 808.2h0M259.7 802.6h0M257.6 808.3h0M289.2 801.6h0M248.2 807.2h0M261.2 807.4h0M264.1 804.8h0M289.2 799.3h0M278.3 807.3h0M257.1 799.9h0M279.6 802.4h0M265.5 805.2h0M249.1 799.1h0M250.0 810.4h0M245.3 809.7h0M275.5 800.0h0M272.2 805.8h0M246.9 804.1h0M287.4 804.7h0M271.6 808.0h0M249.1 804.7h0M280.6 803.9h0M269.6 804.7h0M257.5 805.9h0M269.2 802.5h0M263.6 803.8h0M277.9 801.8h0M267.5 807.2h0M268.2 807.5h0M261.3 802.6h0M276.3 807.8h0M265.1 808.7h0M287.8 807.5h0M256.0 807.0h0M287.0 804.3h0M261.1 808.9h0M282.3 801.7h0M246.9 807.8h0M267.8 802.0h0M270.8 802.9h0M260.4 802.3h0M289.3 812.1h0M251.7 805.3h0M269.1 808.3h0M251.0 808.4h0M252.9 806.1h0M257.4 808.2h0M277.3 802.9h0M289.9 806.0h0M292.0 801.7h0M247.1 799.1h0M265.9 808.7h0M291.4 807.0h0M284.0 805.1h0M267.8 807.0h0M245.8 807.6h0M288.8 809.3h0M251.9 799.1h0M253.5 806.1h0M289.5 803.3h0M263.4 803.0h0M262.1 800.0h0M272.9 805.6h0M257.2 806.2h0M284.2 803.5h0M289.6 806.8h0M257.8 799.9h0M278.4 806.3h0M270.7 806.5h0M284.2 803.5h0M258.1 809.0h0M264.1 805.2h0M271.5 811.7h0M266.4 812.0h0M264.9 802.7h0M260.8 808.1h0M246.1 803.4h0M270.5 803.2h0M280.1 800.1h0M264.4 804.1h0M266.6 803.9h0M273.7 801.0h0M287.4 809.7h0M252.8 805.1h0M278.0 805.1h0M276.9 801.7h0M278.4 809.0h0M259.9 811.2h0M287.8 810.8h0M260.5 806.6h0M245.7 808.0h0M273.9 804.0h0M276.6 810.4h0M267.7 805.9h0M246.9 805.9h0M267.0 802.3h0M277.6 808.1h0M253.2 809.8h0M257.4 805.4h0M259.1 801.5h0M256.1 807.6h0M265.9 804.0h0M253.8 804.4h0M268.7 809.6h0M278.9 809.1h0M291.8 812.1h0M267.4 805.7h0M272.9 805.4h0M251.9 810.7h0M261.0 805.0h0M289.2 806.2h0M256.8 809.0h0M279.9 810.5h0M270.2 799.6h0M257.1 807.9h0M271.3 808.8h0M281.3 809.1h0M253.6 801.9h0M247.0 809.1h0M291.6 803.6h0M254.0 809.6h0M280.3 810.6h0M273.6 799.1h0M260.5 801.9h0M256.8 805.7h0M263.6 807.4h0M248.1 802.7h0M285.7 802.2h0M254.1 807.1h0M260.4 807.9h0M247.5 809.7h0M288.8 806.4h0M254.1 806.0h0M259.3 803.1h0M260.4 802.7h0M282.0 810.3h0M274.5 803.4h0M249.1 805.6h0M259.9 802.9h0M252.5 805.1h0M252.9 807.2h0M273.3 808.0h0M272.6 802.0h0M270.4 799.9h0M260.2 807.6h0M272.2 804.5h0M256.6 805.2h0M259.0 809.2h0M262.0 804.5h0M252.8 807.6h0M277.3 809.7h0M259.1 806.0h0M276.2 809.6h0M289.4 804.6h0M274.2 804.2h0M261.8 807.6h0M260.2 803.0h0M253.9 805.0h0M269.9 809.1h0M285.2 804.5h0M261.3 800.3h0M289.8 805.7h0M271.0 809.0h0M268.0 810.0h0M257.6 807.8h0M289.4 802.7h0M266.6 806.4h0M280.6 806.6h0M257.6 802.4h0M251.7 807.9h0M262.3 805.8h0M276.6 810.3h0M279.0 800.5h0M272.7 802.5h0M250.9 804.4h0M286.0 799.8h0M289.9 805.2h0M260.3 804.6h0M253.3 806.1h0M261.0 808.3h0M291.7 806.9h0M251.6 808.8h0M266.3 806.8h0M247.1 808.0h0M270.7 806.0h0M277.5 803.2h0M251.6 805.1h0M275.7 803.0h0M276.4 804.4h0M265.0 811.1h0M269.2 811.0h0M275.4 803.3h0M288.4 799.1h0M264.3 807.8h0M287.2 810.0h0M248.8 807.5h0M284.8 806.7h0M254.7 805.8h0M287.6 804.5h0M274.5 808.1h0M255.4 799.1h0M252.2 812.1h0M261.8 807.3h0M279.9 807.2h0M254.8 806.9h0M282.9 801.6h0M273.5 808.1h0M252.9 805.8h0M253.4 805.0h0M247.3 803.2h0M286.0 805.2h0M275.8 803.6h0M250.8 806.3h0M254.3 806.3h0M265.0 809.1h0M252.0 805.2h0M245.1 805.5h0M250.4 802.6h0M264.6 806.6h0M260.7 801.2h0M263.0 800.2h0M261.4 804.2h0M289.6 804.6h0M273.9 800.7h0M271.3 799.2h0M254.3 804.5h0M271.6 805.0h0M246.2 806.4h0M261.9 810.6h0M272.3 802.7h0M256.8 805.0h0M262.2 803.6h0M267.9 804.4h0M269.3 805.3h0M248.7 800.4h0M253.9 804.6h0M255.8 803.4h0M287.2 807.5h0M269.6 807.2h0M273.1 805.7h0M268.0 806.9h0M253.8 808.1h0M277.6 805.4h0M258.0 810.4h0M275.7 806.7h0M249.7 809.5h0M253.7 807.8h0M291.9 808.2h0M263.3 805.3h0M288.1 803.6h0M246.0 810.9h0M249.0 801.7h0M272.4 810.0h0M286.6 808.3h0M248.1 802.7h0M245.5 805.2h0M270.4 812.1h0M270.7 801.2h0M268.7 806.0h0M280.8 805.9h0M266.0 799.4h0M288.2 806.2h0M252.5 810.0h0M266.7 801.4h0M290.7 806.8h0M282.9 807.2h0M269.2 803.9h0M249.2 805.3h0M284.0 802.6h0M245.7 805.2h0M272.4 807.8h0M264.8 804.1h0M258.2 803.9h0M267.2 805.7h0M282.8 801.5h0M272.4 807.9h0M271.6 810.0h0M271.6 807.8h0M291.4 806.1h0M273.7 806.6h0M287.5 805.3h0M286.4 805.7h0M252.7 809.3h0M274.2 808.8h0M267.5 810.2h0M277.2 803.0h0M287.4 805.4h0M246.9 806.8h0M272.9 805.5h0M275.3 806.7h0M248.1 806.3h0M267.2 802.8h0M258.4 812.1h0M274.1 803.8h0M273.3 808.1h0M286.2 802.7h0M276.3 805.5h0M291.0 808.5h0M258.4 803.6h0M250.9 800.2h0M255.4 805.5h0M286.0 805.3h0M252.5 804.9h0M272.6 805.0h0M249.5 799.9h0M252.9 801.9h0M250.8 803.3h0M263.7 802.9h0M277.8 807.1h0M256.2 805.3h0M276.9 803.9h0M270.8 809.0h0M291.4 808.7h0M284.7 810.1h0M272.1 804.2h0M275.9 800.5h0M259.6 803.7h0M258.4 806.8h0M249.9 807.3h0M252.1 809.7h0M247.9 804.7h0M253.8 804.7h0M266.8 800.1h0M286.3 806.4h0M252.3 805.8h0M263.5 802.2h0M257.2 802.7h0M254.6 804.1h0M257.9 807.4h0M256.4 809.0h0M281.8 803.2h0M289.6 806.5h0M274.1 802.3h0M280.2 802.6h0M249.9 804.5h0M272.5 805.3h0M252.4 801.8h0M266.9 801.7h0M264.8 806.1h0M251.9 810.6h0M272.5 807.8h0M283.4 801.8h0M256.4 801.8h0M262.4 802.8h0M274.5 808.2h0M285.3 802.8h0M261.9 800.9h0M248.3 811.4h0M267.7 804.3h0M256.7 809.7h0M267.5 806.3h0M270.8 802.4h0M292.0 806.4h0M266.5 802.0h0M261.1 807.9h0M280.5 803.1h0M281.5 805.5h0M255.3 802.4h0M281.3 802.1h0M263.1 805.5h0M251.4 804.7h0M276.0 808.8h0M266.1 806.1h0M261.5 805.1h0M253.5 808.1h0M272.8 810.8h0M254.8 807.1h0M268.8 805.4h0M258.1 805.1h0M252.6 804.9h0M262.3 807.2h0M266.6 806.7h0M289.0 801.0h0M261.9 803.1h0M268.3 807.0h0M245.7 803.4h0M285.5 806.3h0M266.2 805.3h0M288.7 806.4h0M264.9 802.5h0M268.2 804.3h0M280.2 809.5h0M285.6 803.9h0M266.0 805.5h0M284.0 810.2h0M266.6 806.5h0M267.6 805.4h0M248.6 803.9h0M259.8 805.9h0M266.8 812.1h0M247.5 803.7h0M275.0 805.3h0M262.8 812.1h0M270.0 809.6h0M253.0 805.1h0M273.2 803.3h0M287.3 804.0h0M251.1 809.0h0M250.0 803.4h0M290.3 805.6h0M254.4 805.7h0M247.7 806.2h0M247.9 806.2h0M289.2 812.1h0M245.9 805.2h0M253.2 803.9h0M276.6 801.1h0M256.6 806.8h0M253.1 809.3h0M245.9 803.8h0M252.1 810.2h0M278.2 803.1h0M291.8 810.2h0M276.0 806.4h0M248.0 805.5h0M261.1 801.4h0M261.5 807.7h0M265.6 805.5h0M262.8 809.0h0M284.0 804.7h0M267.1 805.4h0M245.2 806.4h0M267.6 811.9h0M270.7 805.7h0M247.0 805.7h0M281.7 809.1h0M272.2 805.3h0M253.2 808.4h0M257.5 803.2h0M269.0 807.5h0M251.3 804.0h0M291.3 805.1h0M290.2 805.8h0M250.5 801.9h0M260.3 803.5h0M268.0 805.5h0M256.2 811.6h0M284.3 807.2h0M281.0 803.9h0M256.9 803.5h0M281.5 803.2h0M274.0 808.1h0M275.5 804.2h0M258.9 805.0h0M277.3 802.9h0M283.2 806.9h0M278.5 803.0h0M277.2 803.1h0M267.4 807.0h0M263.1 807.6h0M285.5 807.3h0M286.1 805.7h0M260.7 805.2h0M286.7 804.2h0M286.5 806.0h0M264.9 811.2h0M267.1 803.5h0M263.1 807.7h0M256.1 806.0h0M282.8 799.7h0M251.9 801.3h0M272.4 805.8h0M269.4 806.5h0M277.5 801.6h0M284.4 801.6h0M266.7 806.8h0M271.2 808.2h0M268.9 809.7h0M290.7 808.9h0M263.5 810.2h0M281.8 808.8h0M283.8 801.0h0M249.3 804.9h0M266.4 805.1h0M264.0 805.7h0M265.7 805.1h0M259.2 804.7h0M282.3 805.8h0M260.3 806.1h0M250.4 803.2h0M290.6 805.9h0M290.2 807.4h0M261.5 808.6h0M260.3 805.9h0M245.8 806.1h0M259.0 800.1h0M255.3 804.6h0M267.4 808.2h0M277.1 807.0h0M269.1 806.4h0M288.5 811.1h0M277.3 801.3h0M274.3 805.2h0M273.5 805.2h0M263.8 806.9h0M266.8 806.1h0M270.2 805.5h0M288.9 802.5h0M282.1 801.9h0M279.1 804.0h0M284.7 810.4h0M274.2 804.2h0M249.3 799.8h0M254.8 809.8h0M250.1 802.4h0M245.6 808.6h0M278.1 808.5h0M255.1 805.1h0M268.8 808.4h0M274.7 810.4h0M246.3 801.3h0M284.2 802.0h0M278.1 806.6h0M283.1 805.8h0M251.9 804.5h0M261.1 803.1h0M253.9 808.7h0M259.1 805.4h0M281.1 806.4h0M269.1 806.3h0M263.2 805.7h0M280.3 805.1h0M273.2 803.8h0M284.7 806.5h0M265.3 806.9h0M284.5 805.9h0M255.9 803.5h0M257.0 809.0h0M255.6 804.0h0M263.0 807.2h0M271.8 804.4h0M264.7 812.1h0M271.5 807.6h0M287.9 804.3h0M255.8 805.0h0M247.9 807.8h0M262.5 803.4h0M255.6 804.7h0M259.0 805.0h0M254.8 812.1h0M245.4 806.2h0M289.8 807.4h0M256.9 804.8h0M291.7 808.2h0M279.5 808.5h0M261.0 805.8h0M257.3 805.2h0M254.1 808.4h0M261.2 804.3h0M253.8 807.0h0M267.2 807.4h0M265.9 809.6h0M251.0 807.4h0M257.7 800.7h0M284.7 806.2h0M282.1 805.1h0M249.5 803.9h0M288.5 805.5h0M265.1 802.3h0M245.6 808.6h0M280.5 803.6h0M251.7 806.3h0M257.0 805.6h0M256.6 802.8h0M267.1 809.8h0M256.7 807.0h0M265.2 806.4h0M273.8 797.6h0M277.0 809.5h0M256.6 803.0h0M250.0 806.4h0M293.1 809.2h0M266.1 799.5h0M252.4 809.4h0M249.7 810.2h0M241.4 801.1h0M264.2 808.2h0M269.2 809.8h0M253.0 803.4h0M289.8 802.6h0M242.0 811.0h0M280.7 803.0h0M260.7 803.5h0M286.9 814.1h0M233.8 799.9h0M245.2 812.3h0M251.0 802.7h0M267.1 811.6h0M290.7 804.9h0M248.7 801.1h0M267.9 811.5h0M269.6 799.0h0M230.4 809.6h0M278.0 807.3h0M269.9 802.8h0M232.1 810.2h0M256.9 810.3h0M276.1 813.5h0M285.5 804.1h0M261.8 808.5h0M245.6 810.3h0M255.1 810.6h0M281.6 804.9h0M273.6 800.5h0M248.4 803.5h0M284.4 792.3h0M262.3 802.9h0M267.7 804.6h0M273.8 806.7h0M282.9 801.3h0M238.3 813.6h0M270.7 802.0h0M281.4 797.5h0M288.5 796.7h0M247.2 808.8h0M238.2 810.2h0M262.0 805.9h0M244.3 801.5h0M230.1 803.5h0M254.4 808.3h0M240.6 805.0h0M266.4 809.5h0M237.9 804.8h0M245.1 797.3h0M274.3 816.0h0M236.5 791.3h0M292.3 803.9h0M260.3 804.0h0M257.0 799.2h0M242.6 797.1h0M268.9 805.8h0M281.4 799.9h0M255.9 806.7h0M247.3 811.4h0M270.6 815.3h0M263.6 807.7h0M288.5 809.0h0M267.7 809.5h0M270.5 801.2h0M264.5 805.1h0M274.2 801.1h0M246.8 813.3h0M239.9 799.9h0M272.7 797.7h0M265.3 804.7h0M254.3 819.2h0M255.6 806.3h0M251.8 809.4h0M252.5 804.0h0M264.9 802.9h0M288.3 798.0h0M241.9 801.9h0M265.8 807.8h0M268.5 808.0h0M267.7 808.8h0M256.4 809.7h0M293.6 806.5h0M274.9 806.0h0M267.1 805.2h0M290.8 799.6h0M239.8 808.5h0M270.0 813.0h0M249.1 803.1h0M255.7 814.9h0M263.4 797.5h0M237.1 808.9h0M292.5 804.4h0M271.0 812.6h0M249.6 811.4h0M250.5 809.8h0M236.2 808.4h0M288.1 812.6h0M263.7 811.0h0M288.9 797.0h0M232.9 813.0h0M260.2 813.9h0M235.7 809.7h0M244.2 805.7h0M287.5 800.6h0M292.6 816.1h0M248.4 805.6h0M240.2 812.9h0M279.9 807.9h0M274.7 804.7h0M230.1 802.7h0M271.8 806.5h0M264.2 806.8h0M236.2 801.7h0M253.8 816.0h0M250.2 807.1h0M250.5 809.7h0M285.5 810.1h0M258.7 810.2h0M231.9 804.8h0M262.7 791.8h0M250.2 809.2h0M264.9 809.5h0M235.2 805.1h0M282.9 812.7h0M252.2 809.6h0M254.5 804.9h0M283.7 798.2h0M257.5 815.9h0M252.7 807.9h0M244.0 799.9h0M293.8 801.1h0M291.6 807.6h0M266.7 804.8h0M266.6 797.8h0M230.5 807.6h0M251.7 802.4h0M276.2 802.2h0M263.2 797.9h0M249.8 801.7h0M279.9 796.2h0M280.2 800.2h0M255.0 803.8h0M267.3 808.8h0M272.2 803.2h0M243.3 809.5h0M246.1 800.1h0M238.3 807.0h0M257.0 805.6h0M279.7 797.8h0M265.6 811.9h0M287.8 805.9h0M291.0 806.9h0M242.8 803.7h0M264.9 807.8h0M266.8 808.6h0M253.9 797.0h0M289.3 807.7h0M255.5 808.4h0M289.3 803.1h0M292.5 797.0h0M276.5 804.4h0M245.4 814.4h0M286.0 805.7h0M279.4 801.0h0M272.3 800.6h0M266.8 807.8h0M235.9 808.6h0M234.9 816.3h0M252.0 797.6h0M273.5 806.4h0M230.3 799.8h0M282.2 806.7h0M241.8 815.2h0M286.0 809.4h0M290.5 804.7h0M233.1 806.4h0M286.3 804.2h0M263.5 795.3h0M250.8 804.2h0M260.3 804.6h0M270.9 801.9h0M239.9 809.6h0M245.6 808.6h0M284.9 799.3h0M277.4 812.6h0M268.2 808.2h0M254.6 808.3h0M236.3 803.0h0M287.2 799.7h0M231.1 812.0h0M288.8 774.8h0M294.3 792.2h0M240.0 783.8h0M257.2 797.4h0M259.5 795.3h0M231.2 802.7h0M273.6 779.0h0M246.9 784.8h0M290.7 780.8h0M276.0 776.4h0M286.9 795.1h0M261.6 798.9h0M235.3 770.6h0M283.5 801.7h0M299.6 800.6h0M259.6 791.2h0M244.9 787.1h0M240.5 801.8h0M251.2 799.9h0M254.5 798.2h0M278.8 795.8h0M293.2 802.1h0M289.3 783.7h0M239.3 803.4h0M267.0 792.3h0M266.1 802.5h0M291.6 788.0h0M232.7 769.6h0M269.9 799.6h0M251.4 800.1h0M276.2 782.5h0M229.4 802.6h0M288.7 783.2h0M236.2 800.0h0M282.1 786.7h0M235.3 801.2h0M278.1 791.6h0M284.5 791.7h0M295.4 786.3h0M294.0 772.4h0M245.1 801.5h0M291.6 796.1h0M252.0 788.0h0M236.2 786.8h0M272.7 792.4h0M255.6 803.2h0M271.9 793.1h0M284.4 798.7h0M282.9 781.3h0M263.7 787.4h0M283.3 785.7h0M250.5 796.5h0M242.3 797.6h0M282.7 793.6h0M235.7 803.7h0M252.5 786.8h0M241.0 797.8h0M289.8 803.9h0M278.5 791.7h0M297.0 795.5h0M276.4 794.9h0M243.3 794.9h0M279.4 788.1h0M238.4 800.6h0M277.5 794.6h0M272.7 785.6h0M272.5 790.4h0M238.9 787.1h0M279.0 780.7h0M240.7 789.1h0M272.7 772.7h0M294.0 767.9h0M233.5 800.2h0M284.5 799.4h0M241.9 787.4h0M289.8 793.5h0M237.1 793.2h0M276.3 777.7h0M286.6 786.7h0M272.6 802.6h0M273.0 790.0h0M260.9 801.2h0M250.0 795.2h0M251.9 802.7h0M244.6 793.4h0M232.9 801.2h0M296.7 793.3h0M279.2 788.4h0M295.3 800.6h0M242.7 796.9h0M298.3 790.8h0M262.0 796.2h0M259.1 789.4h0M233.9 793.8h0M270.0 799.8h0M268.4 801.9h0M239.2 795.0h0M255.7 798.0h0M272.8 795.2h0M271.7 799.8h0M272.0 795.5h0M294.9 796.2h0M280.1 792.0h0M291.8 787.8h0M244.4 796.1h0M283.1 789.8h0M240.6 788.8h0M289.7 793.3h0M233.2 781.8h0M295.5 780.2h0M231.3 783.0h0M289.3 796.2h0M244.9 763.4h0M241.2 797.9h0M286.6 794.9h0M289.5 794.2h0M279.8 797.0h0M286.7 800.7h0M285.2 789.7h0M271.6 788.9h0M242.6 799.3h0M255.9 798.8h0M267.8 788.9h0M262.5 784.5h0M248.7 778.5h0M282.4 784.0h0M264.7 777.4h0M235.6 777.3h0M256.7 778.0h0M298.1 801.0h0M287.2 784.8h0M267.4 778.2h0M294.2 793.7h0M282.4 795.0h0M292.8 784.2h0M247.5 784.5h0M264.1 790.4h0M267.5 802.5h0M291.4 797.4h0M250.5 765.8h0M247.8 792.7h0M278.2 800.9h0M231.1 773.1h0M279.2 789.1h0M244.7 785.3h0M281.1 780.8h0M279.5 781.8h0M271.1 788.7h0M237.4 768.2h0M260.4 794.2h0M282.1 780.5h0M250.0 790.0h0M237.3 801.1h0M281.0 800.5h0M238.7 772.2h0M233.3 784.8h0M271.2 796.4h0M287.2 796.2h0M265.2 794.1h0M237.8 778.0h0M237.0 784.7h0M299.5 791.9h0M298.9 792.1h0M274.4 798.5h0M269.5 796.4h0M266.6 786.8h0M299.9 800.6h0M259.1 788.1h0M281.8 803.4h0M264.8 798.6h0M296.6 796.4h0M283.2 791.3h0M280.2 790.6h0M285.9 786.7h0M232.9 765.3h0M288.1 787.4h0M257.1 793.0h0M291.0 799.6h0M293.2 803.8h0M299.8 787.8h0M230.2 787.3h0M281.4 786.6h0M299.3 790.8h0M261.4 791.6h0M268.0 798.0h0M290.4 801.4h0M278.8 801.4h0M234.8 795.8h0M234.0 791.6h0M246.6 796.1h0M292.7 791.2h0M261.2 795.1h0M299.5 802.4h0M251.0 779.0h0M245.0 787.0h0M250.0 797.0h0M286.6 786.7h0M289.8 789.0h0M288.6 779.9h0M240.5 800.5h0M246.4 798.5h0M239.9 786.4h0M230.4 786.3h0M241.9 779.0h0M269.4 776.9h0M237.8 799.3h0M259.2 798.5h0M292.3 795.9h0M250.1 791.8h0M279.5 798.6h0M296.3 799.2h0M262.3 781.3h0M282.2 792.5h0M289.4 793.6h0M253.1 794.9h0M258.9 787.3h0M241.7 802.8h0M271.6 803.1h0M241.6 797.7h0M240.6 791.5h0M295.4 800.6h0M278.1 776.3h0M260.7 795.8h0M260.1 800.4h0M241.1 795.1h0M295.2 803.3h0M272.8 775.9h0M234.7 787.5h0M280.1 800.2h0M297.6 800.5h0M266.8 780.6h0M268.9 774.1h0M283.6 772.7h0M233.3 792.5h0M283.7 798.3h0M270.9 792.0h0M292.1 789.7h0M276.8 789.8h0M260.1 777.5h0M284.0 787.7h0M228.8 787.9h0M259.7 800.6h0M274.1 801.3h0M284.0 800.7h0M244.6 775.6h0M284.8 761.9h0M239.3 792.1h0M251.5 797.4h0M251.0 797.0h0M258.0 790.2h0M291.2 800.3h0M234.3 788.8h0M250.4 798.0h0M228.9 794.5h0M256.1 790.6h0M256.1 778.5h0M264.8 785.8h0M279.9 792.0h0M287.5 782.3h0M296.0 797.3h0" fill="none" stroke="#7f7800" stroke-width="0.8" stroke-linecap="square" opacity="0.8"/>
<ellipse cx="238.3" cy="805.8" rx="4.2" ry="5.6" fill="#7f7800" filter="url(#b10)"/>
<rect x="248" y="801.5" width="42" height="8.5" fill="#7f7800" opacity="0.5" filter="url(#b10)"/>
<path d="M294.1 779.0h0M287.6 770.4h0M295.9 777.8h0M270.5 768.2h0M292.1 778.3h0M296.9 777.6h0M294.9 772.4h0M286.5 777.5h0M296.3 786.5h0M283.2 782.2h0M285.2 778.4h0M287.5 782.6h0M293.7 776.3h0M277.7 769.0h0M297.0 775.7h0M290.7 777.5h0M291.8 771.8h0M291.1 772.3h0M273.1 772.5h0M291.1 769.8h0M272.2 785.1h0M283.5 778.5h0M295.3 772.3h0M285.9 786.5h0M284.6 777.8h0M291.1 787.5h0M274.1 781.1h0M283.5 771.4h0M299.9 773.8h0M286.0 778.4h0M285.0 767.5h0M290.2 774.9h0M280.6 786.9h0M270.7 770.0h0M281.8 775.2h0M287.7 782.4h0M283.3 773.8h0M276.9 768.6h0M280.8 787.1h0M278.7 768.1h0M285.4 778.4h0M292.5 773.1h0M289.7 780.3h0M296.3 770.7h0M276.4 769.2h0" fill="none" stroke="#8a5aa0" stroke-width="0.8" stroke-linecap="square" opacity="0.7"/>
</g>
<rect x="223.30" y="720.20" width="99.80" height="104.30" fill="none" stroke="#4a4a4a" stroke-width="1.0"/>
<rect x="266.50" y="749.80" width="36.60" height="39.90" fill="none" stroke="#333" stroke-width="0.8"/>
<text x="291.2" y="762.6" font-size="9.3" font-weight="bold" text-anchor="middle" fill="#b3248f"  stroke="#b3248f" stroke-width="0.3">1.5%</text>
<text x="301" y="736.2" font-size="5.4" font-weight="normal" text-anchor="middle" fill="#222" >P5</text>
<line x1="225.0" y1="824.5" x2="225.0" y2="828.5" stroke="#222" stroke-width="0.75"/>
<line x1="228.3113299523038" y1="824.5" x2="228.3113299523038" y2="826.7" stroke="#222" stroke-width="0.75"/>
<line x1="230.2483338019163" y1="824.5" x2="230.2483338019163" y2="826.7" stroke="#222" stroke-width="0.75"/>
<line x1="231.6226599046076" y1="824.5" x2="231.6226599046076" y2="826.7" stroke="#222" stroke-width="0.75"/>
<line x1="232.6886700476962" y1="824.5" x2="232.6886700476962" y2="826.7" stroke="#222" stroke-width="0.75"/>
<line x1="233.55966375422008" y1="824.5" x2="233.55966375422008" y2="826.7" stroke="#222" stroke-width="0.75"/>
<line x1="234.29607844015683" y1="824.5" x2="234.29607844015683" y2="826.7" stroke="#222" stroke-width="0.75"/>
<line x1="234.93398985691138" y1="824.5" x2="234.93398985691138" y2="826.7" stroke="#222" stroke-width="0.75"/>
<line x1="235.49666760383258" y1="824.5" x2="235.49666760383258" y2="826.7" stroke="#222" stroke-width="0.75"/>
<line x1="241.0" y1="824.5" x2="241.0" y2="828.5" stroke="#222" stroke-width="0.75"/>
<line x1="248.8267798872635" y1="824.5" x2="248.8267798872635" y2="826.7" stroke="#222" stroke-width="0.75"/>
<line x1="253.40515262271123" y1="824.5" x2="253.40515262271123" y2="826.7" stroke="#222" stroke-width="0.75"/>
<line x1="256.653559774527" y1="824.5" x2="256.653559774527" y2="826.7" stroke="#222" stroke-width="0.75"/>
<line x1="259.1732201127365" y1="824.5" x2="259.1732201127365" y2="826.7" stroke="#222" stroke-width="0.75"/>
<line x1="261.23193250997474" y1="824.5" x2="261.23193250997474" y2="826.7" stroke="#222" stroke-width="0.75"/>
<line x1="262.97254904037067" y1="824.5" x2="262.97254904037067" y2="826.7" stroke="#222" stroke-width="0.75"/>
<line x1="264.48033966179054" y1="824.5" x2="264.48033966179054" y2="826.7" stroke="#222" stroke-width="0.75"/>
<line x1="265.81030524542246" y1="824.5" x2="265.81030524542246" y2="826.7" stroke="#222" stroke-width="0.75"/>
<line x1="267.0" y1="824.5" x2="267.0" y2="828.5" stroke="#222" stroke-width="0.75"/>
<line x1="274.0742048981036" y1="824.5" x2="274.0742048981036" y2="826.7" stroke="#222" stroke-width="0.75"/>
<line x1="278.21234948591206" y1="824.5" x2="278.21234948591206" y2="826.7" stroke="#222" stroke-width="0.75"/>
<line x1="281.1484097962071" y1="824.5" x2="281.1484097962071" y2="826.7" stroke="#222" stroke-width="0.75"/>
<line x1="283.4257951018964" y1="824.5" x2="283.4257951018964" y2="826.7" stroke="#222" stroke-width="0.75"/>
<line x1="285.28655438401563" y1="824.5" x2="285.28655438401563" y2="826.7" stroke="#222" stroke-width="0.75"/>
<line x1="286.85980394033504" y1="824.5" x2="286.85980394033504" y2="826.7" stroke="#222" stroke-width="0.75"/>
<line x1="288.22261469431066" y1="824.5" x2="288.22261469431066" y2="826.7" stroke="#222" stroke-width="0.75"/>
<line x1="289.4246989718241" y1="824.5" x2="289.4246989718241" y2="826.7" stroke="#222" stroke-width="0.75"/>
<line x1="290.5" y1="824.5" x2="290.5" y2="828.5" stroke="#222" stroke-width="0.75"/>
<line x1="297.27317490243956" y1="824.5" x2="297.27317490243956" y2="826.7" stroke="#222" stroke-width="0.75"/>
<line x1="301.2352282311924" y1="824.5" x2="301.2352282311924" y2="826.7" stroke="#222" stroke-width="0.75"/>
<line x1="304.0463498048791" y1="824.5" x2="304.0463498048791" y2="826.7" stroke="#222" stroke-width="0.75"/>
<line x1="306.22682509756044" y1="824.5" x2="306.22682509756044" y2="826.7" stroke="#222" stroke-width="0.75"/>
<line x1="308.008403133632" y1="824.5" x2="308.008403133632" y2="826.7" stroke="#222" stroke-width="0.75"/>
<line x1="309.5147059003208" y1="824.5" x2="309.5147059003208" y2="826.7" stroke="#222" stroke-width="0.75"/>
<line x1="310.81952470731875" y1="824.5" x2="310.81952470731875" y2="826.7" stroke="#222" stroke-width="0.75"/>
<line x1="311.9704564623848" y1="824.5" x2="311.9704564623848" y2="826.7" stroke="#222" stroke-width="0.75"/>
<line x1="313.0" y1="824.5" x2="313.0" y2="828.5" stroke="#222" stroke-width="0.75"/>
<line x1="315.7092699609758" y1="824.5" x2="315.7092699609758" y2="826.7" stroke="#222" stroke-width="0.75"/>
<line x1="317.29409129247693" y1="824.5" x2="317.29409129247693" y2="826.7" stroke="#222" stroke-width="0.75"/>
<line x1="318.41853992195166" y1="824.5" x2="318.41853992195166" y2="826.7" stroke="#222" stroke-width="0.75"/>
<line x1="319.2907300390242" y1="824.5" x2="319.2907300390242" y2="826.7" stroke="#222" stroke-width="0.75"/>
<line x1="320.0033612534528" y1="824.5" x2="320.0033612534528" y2="826.7" stroke="#222" stroke-width="0.75"/>
<line x1="320.6058823601283" y1="824.5" x2="320.6058823601283" y2="826.7" stroke="#222" stroke-width="0.75"/>
<line x1="321.12780988292747" y1="824.5" x2="321.12780988292747" y2="826.7" stroke="#222" stroke-width="0.75"/>
<line x1="321.5881825849539" y1="824.5" x2="321.5881825849539" y2="826.7" stroke="#222" stroke-width="0.75"/>
<line x1="219.3" y1="822.0" x2="223.3" y2="822.0" stroke="#222" stroke-width="0.75"/>
<line x1="221.10000000000002" y1="819.5917600346881" x2="223.3" y2="819.5917600346881" stroke="#222" stroke-width="0.75"/>
<line x1="221.10000000000002" y1="818.1830299622427" x2="223.3" y2="818.1830299622427" stroke="#222" stroke-width="0.75"/>
<line x1="221.10000000000002" y1="817.1835200693763" x2="223.3" y2="817.1835200693763" stroke="#222" stroke-width="0.75"/>
<line x1="221.10000000000002" y1="816.4082399653119" x2="223.3" y2="816.4082399653119" stroke="#222" stroke-width="0.75"/>
<line x1="221.10000000000002" y1="815.7747899969308" x2="223.3" y2="815.7747899969308" stroke="#222" stroke-width="0.75"/>
<line x1="221.10000000000002" y1="815.239215679886" x2="223.3" y2="815.239215679886" stroke="#222" stroke-width="0.75"/>
<line x1="221.10000000000002" y1="814.7752801040644" x2="223.3" y2="814.7752801040644" stroke="#222" stroke-width="0.75"/>
<line x1="221.10000000000002" y1="814.3660599244854" x2="223.3" y2="814.3660599244854" stroke="#222" stroke-width="0.75"/>
<line x1="219.3" y1="804.0" x2="223.3" y2="804.0" stroke="#222" stroke-width="0.75"/>
<line x1="221.10000000000002" y1="796.1732201127365" x2="223.3" y2="796.1732201127365" stroke="#222" stroke-width="0.75"/>
<line x1="221.10000000000002" y1="791.5948473772888" x2="223.3" y2="791.5948473772888" stroke="#222" stroke-width="0.75"/>
<line x1="221.10000000000002" y1="788.346440225473" x2="223.3" y2="788.346440225473" stroke="#222" stroke-width="0.75"/>
<line x1="221.10000000000002" y1="785.8267798872635" x2="223.3" y2="785.8267798872635" stroke="#222" stroke-width="0.75"/>
<line x1="221.10000000000002" y1="783.7680674900253" x2="223.3" y2="783.7680674900253" stroke="#222" stroke-width="0.75"/>
<line x1="221.10000000000002" y1="782.0274509596293" x2="223.3" y2="782.0274509596293" stroke="#222" stroke-width="0.75"/>
<line x1="221.10000000000002" y1="780.5196603382095" x2="223.3" y2="780.5196603382095" stroke="#222" stroke-width="0.75"/>
<line x1="221.10000000000002" y1="779.1896947545775" x2="223.3" y2="779.1896947545775" stroke="#222" stroke-width="0.75"/>
<line x1="219.3" y1="778.0" x2="223.3" y2="778.0" stroke="#222" stroke-width="0.75"/>
<line x1="221.10000000000002" y1="770.7752801040644" x2="223.3" y2="770.7752801040644" stroke="#222" stroke-width="0.75"/>
<line x1="221.10000000000002" y1="766.5490898867281" x2="223.3" y2="766.5490898867281" stroke="#222" stroke-width="0.75"/>
<line x1="221.10000000000002" y1="763.5505602081289" x2="223.3" y2="763.5505602081289" stroke="#222" stroke-width="0.75"/>
<line x1="221.10000000000002" y1="761.2247198959356" x2="223.3" y2="761.2247198959356" stroke="#222" stroke-width="0.75"/>
<line x1="221.10000000000002" y1="759.3243699907925" x2="223.3" y2="759.3243699907925" stroke="#222" stroke-width="0.75"/>
<line x1="221.10000000000002" y1="757.7176470396579" x2="223.3" y2="757.7176470396579" stroke="#222" stroke-width="0.75"/>
<line x1="221.10000000000002" y1="756.3258403121933" x2="223.3" y2="756.3258403121933" stroke="#222" stroke-width="0.75"/>
<line x1="221.10000000000002" y1="755.0981797734562" x2="223.3" y2="755.0981797734562" stroke="#222" stroke-width="0.75"/>
<line x1="219.3" y1="754.0" x2="223.3" y2="754.0" stroke="#222" stroke-width="0.75"/>
<line x1="221.10000000000002" y1="746.7752801040644" x2="223.3" y2="746.7752801040644" stroke="#222" stroke-width="0.75"/>
<line x1="221.10000000000002" y1="742.5490898867281" x2="223.3" y2="742.5490898867281" stroke="#222" stroke-width="0.75"/>
<line x1="221.10000000000002" y1="739.5505602081289" x2="223.3" y2="739.5505602081289" stroke="#222" stroke-width="0.75"/>
<line x1="221.10000000000002" y1="737.2247198959356" x2="223.3" y2="737.2247198959356" stroke="#222" stroke-width="0.75"/>
<line x1="221.10000000000002" y1="735.3243699907925" x2="223.3" y2="735.3243699907925" stroke="#222" stroke-width="0.75"/>
<line x1="221.10000000000002" y1="733.7176470396579" x2="223.3" y2="733.7176470396579" stroke="#222" stroke-width="0.75"/>
<line x1="221.10000000000002" y1="732.3258403121933" x2="223.3" y2="732.3258403121933" stroke="#222" stroke-width="0.75"/>
<line x1="221.10000000000002" y1="731.0981797734562" x2="223.3" y2="731.0981797734562" stroke="#222" stroke-width="0.75"/>
<line x1="219.3" y1="730.0" x2="223.3" y2="730.0" stroke="#222" stroke-width="0.75"/>
<line x1="221.10000000000002" y1="727.2907300390242" x2="223.3" y2="727.2907300390242" stroke="#222" stroke-width="0.75"/>
<line x1="221.10000000000002" y1="725.705908707523" x2="223.3" y2="725.705908707523" stroke="#222" stroke-width="0.75"/>
<line x1="221.10000000000002" y1="724.5814600780484" x2="223.3" y2="724.5814600780484" stroke="#222" stroke-width="0.75"/>
<line x1="221.10000000000002" y1="723.7092699609758" x2="223.3" y2="723.7092699609758" stroke="#222" stroke-width="0.75"/>
<line x1="221.10000000000002" y1="722.9966387465472" x2="223.3" y2="722.9966387465472" stroke="#222" stroke-width="0.75"/>
<line x1="221.10000000000002" y1="722.3941176398716" x2="223.3" y2="722.3941176398716" stroke="#222" stroke-width="0.75"/>
<line x1="221.10000000000002" y1="721.8721901170725" x2="223.3" y2="721.8721901170725" stroke="#222" stroke-width="0.75"/>
<line x1="221.10000000000002" y1="721.4118174150461" x2="223.3" y2="721.4118174150461" stroke="#222" stroke-width="0.75"/>
<line x1="234.5" y1="824.5" x2="234.5" y2="826.9" stroke="#222" stroke-width="0.6"/>
<line x1="235.4" y1="824.5" x2="235.4" y2="826.9" stroke="#222" stroke-width="0.6"/>
<line x1="236.3" y1="824.5" x2="236.3" y2="826.9" stroke="#222" stroke-width="0.6"/>
<line x1="237.20000000000002" y1="824.5" x2="237.20000000000002" y2="826.9" stroke="#222" stroke-width="0.6"/>
<line x1="238.10000000000002" y1="824.5" x2="238.10000000000002" y2="826.9" stroke="#222" stroke-width="0.6"/>
<line x1="239.00000000000003" y1="824.5" x2="239.00000000000003" y2="826.9" stroke="#222" stroke-width="0.6"/>
<line x1="239.90000000000003" y1="824.5" x2="239.90000000000003" y2="826.9" stroke="#222" stroke-width="0.6"/>
<line x1="240.80000000000004" y1="824.5" x2="240.80000000000004" y2="826.9" stroke="#222" stroke-width="0.6"/>
<line x1="241.70000000000005" y1="824.5" x2="241.70000000000005" y2="826.9" stroke="#222" stroke-width="0.6"/>
<line x1="242.60000000000005" y1="824.5" x2="242.60000000000005" y2="826.9" stroke="#222" stroke-width="0.6"/>
<line x1="238.5" y1="824.5" x2="238.5" y2="828.5" stroke="#111" stroke-width="1.2"/>
<line x1="220.9" y1="817" x2="223.3" y2="817" stroke="#222" stroke-width="0.6"/>
<line x1="220.9" y1="816.1" x2="223.3" y2="816.1" stroke="#222" stroke-width="0.6"/>
<line x1="220.9" y1="815.2" x2="223.3" y2="815.2" stroke="#222" stroke-width="0.6"/>
<line x1="220.9" y1="814.3000000000001" x2="223.3" y2="814.3000000000001" stroke="#222" stroke-width="0.6"/>
<line x1="220.9" y1="813.4000000000001" x2="223.3" y2="813.4000000000001" stroke="#222" stroke-width="0.6"/>
<line x1="220.9" y1="812.5000000000001" x2="223.3" y2="812.5000000000001" stroke="#222" stroke-width="0.6"/>
<line x1="220.9" y1="811.6000000000001" x2="223.3" y2="811.6000000000001" stroke="#222" stroke-width="0.6"/>
<line x1="220.9" y1="810.7000000000002" x2="223.3" y2="810.7000000000002" stroke="#222" stroke-width="0.6"/>
<line x1="220.9" y1="809.8000000000002" x2="223.3" y2="809.8000000000002" stroke="#222" stroke-width="0.6"/>
<line x1="220.9" y1="808.9000000000002" x2="223.3" y2="808.9000000000002" stroke="#222" stroke-width="0.6"/>
<line x1="220.9" y1="808.0000000000002" x2="223.3" y2="808.0000000000002" stroke="#222" stroke-width="0.6"/>
<line x1="220.9" y1="807.1000000000003" x2="223.3" y2="807.1000000000003" stroke="#222" stroke-width="0.6"/>
<line x1="220.9" y1="806.2000000000003" x2="223.3" y2="806.2000000000003" stroke="#222" stroke-width="0.6"/>
<line x1="220.9" y1="805.3000000000003" x2="223.3" y2="805.3000000000003" stroke="#222" stroke-width="0.6"/>
<line x1="220.9" y1="804.4000000000003" x2="223.3" y2="804.4000000000003" stroke="#222" stroke-width="0.6"/>
<line x1="220.9" y1="803.5000000000003" x2="223.3" y2="803.5000000000003" stroke="#222" stroke-width="0.6"/>
<line x1="220.9" y1="802.6000000000004" x2="223.3" y2="802.6000000000004" stroke="#222" stroke-width="0.6"/>
<line x1="220.9" y1="801.7000000000004" x2="223.3" y2="801.7000000000004" stroke="#222" stroke-width="0.6"/>
<line x1="219.10000000000002" y1="809.0" x2="223.3" y2="809.0" stroke="#111" stroke-width="1.2"/>
<text x="222.8" y="837.6" font-size="4.8" font-weight="normal" text-anchor="middle" fill="#222" >-272</text>
<text x="237.2" y="834.5" font-size="4.8" font-weight="normal" text-anchor="middle" fill="#222" >0</text>
<text x="267.3" y="834.5" font-size="4.8" font-weight="normal" text-anchor="middle" fill="#222" >10<tspan dy="-2.6" font-size="3.4">3</tspan></text>
<text x="290.7" y="834.5" font-size="4.8" font-weight="normal" text-anchor="middle" fill="#222" >10<tspan dy="-2.6" font-size="3.4">4</tspan></text>
<text x="313" y="834.5" font-size="4.8" font-weight="normal" text-anchor="middle" fill="#222" >10<tspan dy="-2.6" font-size="3.4">5</tspan></text>
<text x="218.10000000000002" y="729.6" font-size="4.8" font-weight="normal" text-anchor="middle" fill="#222" transform="rotate(-90 218.10000000000002 729.6)" >10<tspan dy="-2.6" font-size="3.4">5</tspan></text>
<text x="218.10000000000002" y="753.9" font-size="4.8" font-weight="normal" text-anchor="middle" fill="#222" transform="rotate(-90 218.10000000000002 753.9)" >10<tspan dy="-2.6" font-size="3.4">4</tspan></text>
<text x="218.10000000000002" y="778.9" font-size="4.8" font-weight="normal" text-anchor="middle" fill="#222" transform="rotate(-90 218.10000000000002 778.9)" >10<tspan dy="-2.6" font-size="3.4">3</tspan></text>
<text x="218.10000000000002" y="806" font-size="4.8" font-weight="normal" text-anchor="middle" fill="#222" transform="rotate(-90 218.10000000000002 806)" >10<tspan dy="-2.6" font-size="3.4">2</tspan></text>
<text x="212.5" y="824.0" font-size="4.8" font-weight="normal" text-anchor="middle" fill="#222" transform="rotate(-90 212.5 824.0)" >-246</text>
<text x="272.7" y="841.4" font-size="6.3" font-weight="normal" text-anchor="middle" fill="#222" textLength="52" lengthAdjust="spacingAndGlyphs" >SCA1 PE-Cy7-A</text>
<text x="207.8" y="774" font-size="5.8" font-weight="normal" text-anchor="middle" fill="#222" transform="rotate(-90 207.8 774)" textLength="32.3" lengthAdjust="spacingAndGlyphs" >C-KIT APC-A</text>
<rect x="355.60" y="720.20" width="96.90" height="103.10" fill="none" stroke="#4a4a4a" stroke-width="1.0"/>
<line x1="384.6" y1="720.2" x2="384.6" y2="823.3" stroke="#333" stroke-width="0.8"/>
<line x1="355.6" y1="781.6" x2="452.5" y2="781.6" stroke="#333" stroke-width="0.8"/>
<path d="M374.0 798.4h0M375.0 808.5h0M374.2 791.5h0M373.5 805.1h0M374.5 807.6h0M373.6 801.8h0M374.0 799.8h0M374.1 798.1h0M373.1 801.8h0M373.6 791.1h0M374.7 795.5h0M374.7 805.9h0M372.1 794.3h0M373.2 800.2h0M374.3 805.3h0M373.6 801.3h0M375.0 803.0h0M374.0 808.0h0M372.6 804.5h0M373.7 805.3h0M373.8 790.3h0M373.9 802.4h0M373.6 797.5h0M373.1 803.8h0M374.2 798.7h0M373.8 806.1h0M375.0 798.4h0M372.4 794.9h0M374.9 794.7h0M373.4 797.8h0M374.1 802.3h0M374.7 797.1h0M375.6 800.9h0M374.0 798.2h0M374.3 803.0h0M372.6 810.7h0M373.3 805.4h0M374.8 804.9h0M374.8 807.0h0M374.5 803.6h0" fill="none" stroke="#c040b0" stroke-width="0.8" stroke-linecap="square" opacity="0.8"/>
<path d="M376.6 755.8h0M373.5 752.1h0M370.3 758.1h0M379.9 749.7h0M372.6 751.8h0M368.7 758.8h0M382.4 755.4h0M377.8 751.3h0M380.8 755.5h0M379.1 754.1h0M382.8 756.8h0M374.3 761.4h0M374.8 754.5h0M378.3 757.1h0M373.3 760.6h0M378.5 756.5h0M371.3 755.8h0M376.6 750.8h0M381.6 753.7h0M377.5 757.9h0M373.0 770.0h0M372.5 783.0h0M389.0 748.0h0M389.5 757.0h0M432.0 818.0h0" fill="none" stroke="#999" stroke-width="0.8" stroke-linecap="square" opacity="0.7"/>
<text x="370.8" y="735.6" font-size="9.3" font-weight="bold" text-anchor="middle" fill="#b3248f" textLength="26" lengthAdjust="spacingAndGlyphs"  stroke="#b3248f" stroke-width="0.3">14.1%</text>
<text x="418.5" y="735.6" font-size="9.3" font-weight="bold" text-anchor="middle" fill="#b3248f"  stroke="#b3248f" stroke-width="0.3">3.8%</text>
<line x1="357.0" y1="823.3" x2="357.0" y2="827.3" stroke="#222" stroke-width="0.75"/>
<line x1="359.7092699609758" y1="823.3" x2="359.7092699609758" y2="825.5" stroke="#222" stroke-width="0.75"/>
<line x1="361.29409129247693" y1="823.3" x2="361.29409129247693" y2="825.5" stroke="#222" stroke-width="0.75"/>
<line x1="362.41853992195166" y1="823.3" x2="362.41853992195166" y2="825.5" stroke="#222" stroke-width="0.75"/>
<line x1="363.2907300390242" y1="823.3" x2="363.2907300390242" y2="825.5" stroke="#222" stroke-width="0.75"/>
<line x1="364.0033612534528" y1="823.3" x2="364.0033612534528" y2="825.5" stroke="#222" stroke-width="0.75"/>
<line x1="364.6058823601283" y1="823.3" x2="364.6058823601283" y2="825.5" stroke="#222" stroke-width="0.75"/>
<line x1="365.12780988292747" y1="823.3" x2="365.12780988292747" y2="825.5" stroke="#222" stroke-width="0.75"/>
<line x1="365.5881825849539" y1="823.3" x2="365.5881825849539" y2="825.5" stroke="#222" stroke-width="0.75"/>
<line x1="374.0" y1="823.3" x2="374.0" y2="827.3" stroke="#222" stroke-width="0.75"/>
<line x1="381.22471989593555" y1="823.3" x2="381.22471989593555" y2="825.5" stroke="#222" stroke-width="0.75"/>
<line x1="385.4509101132719" y1="823.3" x2="385.4509101132719" y2="825.5" stroke="#222" stroke-width="0.75"/>
<line x1="388.4494397918711" y1="823.3" x2="388.4494397918711" y2="825.5" stroke="#222" stroke-width="0.75"/>
<line x1="390.77528010406445" y1="823.3" x2="390.77528010406445" y2="825.5" stroke="#222" stroke-width="0.75"/>
<line x1="392.67563000920745" y1="823.3" x2="392.67563000920745" y2="825.5" stroke="#222" stroke-width="0.75"/>
<line x1="394.28235296034217" y1="823.3" x2="394.28235296034217" y2="825.5" stroke="#222" stroke-width="0.75"/>
<line x1="395.67415968780665" y1="823.3" x2="395.67415968780665" y2="825.5" stroke="#222" stroke-width="0.75"/>
<line x1="396.9018202265438" y1="823.3" x2="396.9018202265438" y2="825.5" stroke="#222" stroke-width="0.75"/>
<line x1="398.0" y1="823.3" x2="398.0" y2="827.3" stroke="#222" stroke-width="0.75"/>
<line x1="405.0742048981036" y1="823.3" x2="405.0742048981036" y2="825.5" stroke="#222" stroke-width="0.75"/>
<line x1="409.21234948591206" y1="823.3" x2="409.21234948591206" y2="825.5" stroke="#222" stroke-width="0.75"/>
<line x1="412.1484097962071" y1="823.3" x2="412.1484097962071" y2="825.5" stroke="#222" stroke-width="0.75"/>
<line x1="414.4257951018964" y1="823.3" x2="414.4257951018964" y2="825.5" stroke="#222" stroke-width="0.75"/>
<line x1="416.28655438401563" y1="823.3" x2="416.28655438401563" y2="825.5" stroke="#222" stroke-width="0.75"/>
<line x1="417.85980394033504" y1="823.3" x2="417.85980394033504" y2="825.5" stroke="#222" stroke-width="0.75"/>
<line x1="419.22261469431066" y1="823.3" x2="419.22261469431066" y2="825.5" stroke="#222" stroke-width="0.75"/>
<line x1="420.4246989718241" y1="823.3" x2="420.4246989718241" y2="825.5" stroke="#222" stroke-width="0.75"/>
<line x1="421.5" y1="823.3" x2="421.5" y2="827.3" stroke="#222" stroke-width="0.75"/>
<line x1="428.27317490243956" y1="823.3" x2="428.27317490243956" y2="825.5" stroke="#222" stroke-width="0.75"/>
<line x1="432.2352282311924" y1="823.3" x2="432.2352282311924" y2="825.5" stroke="#222" stroke-width="0.75"/>
<line x1="435.0463498048791" y1="823.3" x2="435.0463498048791" y2="825.5" stroke="#222" stroke-width="0.75"/>
<line x1="437.22682509756044" y1="823.3" x2="437.22682509756044" y2="825.5" stroke="#222" stroke-width="0.75"/>
<line x1="439.008403133632" y1="823.3" x2="439.008403133632" y2="825.5" stroke="#222" stroke-width="0.75"/>
<line x1="440.5147059003208" y1="823.3" x2="440.5147059003208" y2="825.5" stroke="#222" stroke-width="0.75"/>
<line x1="441.81952470731875" y1="823.3" x2="441.81952470731875" y2="825.5" stroke="#222" stroke-width="0.75"/>
<line x1="442.9704564623848" y1="823.3" x2="442.9704564623848" y2="825.5" stroke="#222" stroke-width="0.75"/>
<line x1="444.0" y1="823.3" x2="444.0" y2="827.3" stroke="#222" stroke-width="0.75"/>
<line x1="446.40823996531185" y1="823.3" x2="446.40823996531185" y2="825.5" stroke="#222" stroke-width="0.75"/>
<line x1="447.8169700377573" y1="823.3" x2="447.8169700377573" y2="825.5" stroke="#222" stroke-width="0.75"/>
<line x1="448.8164799306237" y1="823.3" x2="448.8164799306237" y2="825.5" stroke="#222" stroke-width="0.75"/>
<line x1="449.59176003468815" y1="823.3" x2="449.59176003468815" y2="825.5" stroke="#222" stroke-width="0.75"/>
<line x1="450.22521000306915" y1="823.3" x2="450.22521000306915" y2="825.5" stroke="#222" stroke-width="0.75"/>
<line x1="450.76078432011406" y1="823.3" x2="450.76078432011406" y2="825.5" stroke="#222" stroke-width="0.75"/>
<line x1="451.22471989593555" y1="823.3" x2="451.22471989593555" y2="825.5" stroke="#222" stroke-width="0.75"/>
<line x1="451.6339400755146" y1="823.3" x2="451.6339400755146" y2="825.5" stroke="#222" stroke-width="0.75"/>
<line x1="351.6" y1="821.0" x2="355.6" y2="821.0" stroke="#222" stroke-width="0.75"/>
<line x1="353.40000000000003" y1="818.8927900303521" x2="355.6" y2="818.8927900303521" stroke="#222" stroke-width="0.75"/>
<line x1="353.40000000000003" y1="817.6601512169624" x2="355.6" y2="817.6601512169624" stroke="#222" stroke-width="0.75"/>
<line x1="353.40000000000003" y1="816.7855800607043" x2="355.6" y2="816.7855800607043" stroke="#222" stroke-width="0.75"/>
<line x1="353.40000000000003" y1="816.1072099696479" x2="355.6" y2="816.1072099696479" stroke="#222" stroke-width="0.75"/>
<line x1="353.40000000000003" y1="815.5529412473145" x2="355.6" y2="815.5529412473145" stroke="#222" stroke-width="0.75"/>
<line x1="353.40000000000003" y1="815.0843137199003" x2="355.6" y2="815.0843137199003" stroke="#222" stroke-width="0.75"/>
<line x1="353.40000000000003" y1="814.6783700910564" x2="355.6" y2="814.6783700910564" stroke="#222" stroke-width="0.75"/>
<line x1="353.40000000000003" y1="814.3203024339248" x2="355.6" y2="814.3203024339248" stroke="#222" stroke-width="0.75"/>
<line x1="351.6" y1="804.0" x2="355.6" y2="804.0" stroke="#222" stroke-width="0.75"/>
<line x1="353.40000000000003" y1="796.1732201127365" x2="355.6" y2="796.1732201127365" stroke="#222" stroke-width="0.75"/>
<line x1="353.40000000000003" y1="791.5948473772888" x2="355.6" y2="791.5948473772888" stroke="#222" stroke-width="0.75"/>
<line x1="353.40000000000003" y1="788.346440225473" x2="355.6" y2="788.346440225473" stroke="#222" stroke-width="0.75"/>
<line x1="353.40000000000003" y1="785.8267798872635" x2="355.6" y2="785.8267798872635" stroke="#222" stroke-width="0.75"/>
<line x1="353.40000000000003" y1="783.7680674900253" x2="355.6" y2="783.7680674900253" stroke="#222" stroke-width="0.75"/>
<line x1="353.40000000000003" y1="782.0274509596293" x2="355.6" y2="782.0274509596293" stroke="#222" stroke-width="0.75"/>
<line x1="353.40000000000003" y1="780.5196603382095" x2="355.6" y2="780.5196603382095" stroke="#222" stroke-width="0.75"/>
<line x1="353.40000000000003" y1="779.1896947545775" x2="355.6" y2="779.1896947545775" stroke="#222" stroke-width="0.75"/>
<line x1="351.6" y1="778.0" x2="355.6" y2="778.0" stroke="#222" stroke-width="0.75"/>
<line x1="353.40000000000003" y1="770.7752801040644" x2="355.6" y2="770.7752801040644" stroke="#222" stroke-width="0.75"/>
<line x1="353.40000000000003" y1="766.5490898867281" x2="355.6" y2="766.5490898867281" stroke="#222" stroke-width="0.75"/>
<line x1="353.40000000000003" y1="763.5505602081289" x2="355.6" y2="763.5505602081289" stroke="#222" stroke-width="0.75"/>
<line x1="353.40000000000003" y1="761.2247198959356" x2="355.6" y2="761.2247198959356" stroke="#222" stroke-width="0.75"/>
<line x1="353.40000000000003" y1="759.3243699907925" x2="355.6" y2="759.3243699907925" stroke="#222" stroke-width="0.75"/>
<line x1="353.40000000000003" y1="757.7176470396579" x2="355.6" y2="757.7176470396579" stroke="#222" stroke-width="0.75"/>
<line x1="353.40000000000003" y1="756.3258403121933" x2="355.6" y2="756.3258403121933" stroke="#222" stroke-width="0.75"/>
<line x1="353.40000000000003" y1="755.0981797734562" x2="355.6" y2="755.0981797734562" stroke="#222" stroke-width="0.75"/>
<line x1="351.6" y1="754.0" x2="355.6" y2="754.0" stroke="#222" stroke-width="0.75"/>
<line x1="353.40000000000003" y1="746.7752801040644" x2="355.6" y2="746.7752801040644" stroke="#222" stroke-width="0.75"/>
<line x1="353.40000000000003" y1="742.5490898867281" x2="355.6" y2="742.5490898867281" stroke="#222" stroke-width="0.75"/>
<line x1="353.40000000000003" y1="739.5505602081289" x2="355.6" y2="739.5505602081289" stroke="#222" stroke-width="0.75"/>
<line x1="353.40000000000003" y1="737.2247198959356" x2="355.6" y2="737.2247198959356" stroke="#222" stroke-width="0.75"/>
<line x1="353.40000000000003" y1="735.3243699907925" x2="355.6" y2="735.3243699907925" stroke="#222" stroke-width="0.75"/>
<line x1="353.40000000000003" y1="733.7176470396579" x2="355.6" y2="733.7176470396579" stroke="#222" stroke-width="0.75"/>
<line x1="353.40000000000003" y1="732.3258403121933" x2="355.6" y2="732.3258403121933" stroke="#222" stroke-width="0.75"/>
<line x1="353.40000000000003" y1="731.0981797734562" x2="355.6" y2="731.0981797734562" stroke="#222" stroke-width="0.75"/>
<line x1="351.6" y1="730.0" x2="355.6" y2="730.0" stroke="#222" stroke-width="0.75"/>
<line x1="353.40000000000003" y1="727.2907300390242" x2="355.6" y2="727.2907300390242" stroke="#222" stroke-width="0.75"/>
<line x1="353.40000000000003" y1="725.705908707523" x2="355.6" y2="725.705908707523" stroke="#222" stroke-width="0.75"/>
<line x1="353.40000000000003" y1="724.5814600780484" x2="355.6" y2="724.5814600780484" stroke="#222" stroke-width="0.75"/>
<line x1="353.40000000000003" y1="723.7092699609758" x2="355.6" y2="723.7092699609758" stroke="#222" stroke-width="0.75"/>
<line x1="353.40000000000003" y1="722.9966387465472" x2="355.6" y2="722.9966387465472" stroke="#222" stroke-width="0.75"/>
<line x1="353.40000000000003" y1="722.3941176398716" x2="355.6" y2="722.3941176398716" stroke="#222" stroke-width="0.75"/>
<line x1="353.40000000000003" y1="721.8721901170725" x2="355.6" y2="721.8721901170725" stroke="#222" stroke-width="0.75"/>
<line x1="353.40000000000003" y1="721.4118174150461" x2="355.6" y2="721.4118174150461" stroke="#222" stroke-width="0.75"/>
<line x1="364.5" y1="823.3" x2="364.5" y2="825.6999999999999" stroke="#222" stroke-width="0.6"/>
<line x1="365.4" y1="823.3" x2="365.4" y2="825.6999999999999" stroke="#222" stroke-width="0.6"/>
<line x1="366.29999999999995" y1="823.3" x2="366.29999999999995" y2="825.6999999999999" stroke="#222" stroke-width="0.6"/>
<line x1="367.19999999999993" y1="823.3" x2="367.19999999999993" y2="825.6999999999999" stroke="#222" stroke-width="0.6"/>
<line x1="368.0999999999999" y1="823.3" x2="368.0999999999999" y2="825.6999999999999" stroke="#222" stroke-width="0.6"/>
<line x1="368.9999999999999" y1="823.3" x2="368.9999999999999" y2="825.6999999999999" stroke="#222" stroke-width="0.6"/>
<line x1="369.89999999999986" y1="823.3" x2="369.89999999999986" y2="825.6999999999999" stroke="#222" stroke-width="0.6"/>
<line x1="370.79999999999984" y1="823.3" x2="370.79999999999984" y2="825.6999999999999" stroke="#222" stroke-width="0.6"/>
<line x1="371.6999999999998" y1="823.3" x2="371.6999999999998" y2="825.6999999999999" stroke="#222" stroke-width="0.6"/>
<line x1="372.5999999999998" y1="823.3" x2="372.5999999999998" y2="825.6999999999999" stroke="#222" stroke-width="0.6"/>
<line x1="373.4999999999998" y1="823.3" x2="373.4999999999998" y2="825.6999999999999" stroke="#222" stroke-width="0.6"/>
<line x1="374.39999999999975" y1="823.3" x2="374.39999999999975" y2="825.6999999999999" stroke="#222" stroke-width="0.6"/>
<line x1="375.2999999999997" y1="823.3" x2="375.2999999999997" y2="825.6999999999999" stroke="#222" stroke-width="0.6"/>
<line x1="376.1999999999997" y1="823.3" x2="376.1999999999997" y2="825.6999999999999" stroke="#222" stroke-width="0.6"/>
<line x1="370.0" y1="823.3" x2="370.0" y2="827.3" stroke="#111" stroke-width="1.2"/>
<line x1="353.20000000000005" y1="817" x2="355.6" y2="817" stroke="#222" stroke-width="0.6"/>
<line x1="353.20000000000005" y1="816.1" x2="355.6" y2="816.1" stroke="#222" stroke-width="0.6"/>
<line x1="353.20000000000005" y1="815.2" x2="355.6" y2="815.2" stroke="#222" stroke-width="0.6"/>
<line x1="353.20000000000005" y1="814.3000000000001" x2="355.6" y2="814.3000000000001" stroke="#222" stroke-width="0.6"/>
<line x1="353.20000000000005" y1="813.4000000000001" x2="355.6" y2="813.4000000000001" stroke="#222" stroke-width="0.6"/>
<line x1="353.20000000000005" y1="812.5000000000001" x2="355.6" y2="812.5000000000001" stroke="#222" stroke-width="0.6"/>
<line x1="353.20000000000005" y1="811.6000000000001" x2="355.6" y2="811.6000000000001" stroke="#222" stroke-width="0.6"/>
<line x1="353.20000000000005" y1="810.7000000000002" x2="355.6" y2="810.7000000000002" stroke="#222" stroke-width="0.6"/>
<line x1="353.20000000000005" y1="809.8000000000002" x2="355.6" y2="809.8000000000002" stroke="#222" stroke-width="0.6"/>
<line x1="353.20000000000005" y1="808.9000000000002" x2="355.6" y2="808.9000000000002" stroke="#222" stroke-width="0.6"/>
<line x1="353.20000000000005" y1="808.0000000000002" x2="355.6" y2="808.0000000000002" stroke="#222" stroke-width="0.6"/>
<line x1="353.20000000000005" y1="807.1000000000003" x2="355.6" y2="807.1000000000003" stroke="#222" stroke-width="0.6"/>
<line x1="353.20000000000005" y1="806.2000000000003" x2="355.6" y2="806.2000000000003" stroke="#222" stroke-width="0.6"/>
<line x1="353.20000000000005" y1="805.3000000000003" x2="355.6" y2="805.3000000000003" stroke="#222" stroke-width="0.6"/>
<line x1="353.20000000000005" y1="804.4000000000003" x2="355.6" y2="804.4000000000003" stroke="#222" stroke-width="0.6"/>
<line x1="353.20000000000005" y1="803.5000000000003" x2="355.6" y2="803.5000000000003" stroke="#222" stroke-width="0.6"/>
<line x1="353.20000000000005" y1="802.6000000000004" x2="355.6" y2="802.6000000000004" stroke="#222" stroke-width="0.6"/>
<line x1="353.20000000000005" y1="801.7000000000004" x2="355.6" y2="801.7000000000004" stroke="#222" stroke-width="0.6"/>
<line x1="351.40000000000003" y1="809.0" x2="355.6" y2="809.0" stroke="#111" stroke-width="1.2"/>
<text x="355.1" y="836.4" font-size="4.8" font-weight="normal" text-anchor="middle" fill="#222" >-353</text>
<text x="370.3" y="833.3" font-size="4.8" font-weight="normal" text-anchor="middle" fill="#222" >0</text>
<text x="398" y="833.3" font-size="4.8" font-weight="normal" text-anchor="middle" fill="#222" >10<tspan dy="-2.6" font-size="3.4">3</tspan></text>
<text x="421.5" y="833.3" font-size="4.8" font-weight="normal" text-anchor="middle" fill="#222" >10<tspan dy="-2.6" font-size="3.4">4</tspan></text>
<text x="443.9" y="833.3" font-size="4.8" font-weight="normal" text-anchor="middle" fill="#222" >10<tspan dy="-2.6" font-size="3.4">5</tspan></text>
<text x="350.40000000000003" y="729.6" font-size="4.8" font-weight="normal" text-anchor="middle" fill="#222" transform="rotate(-90 350.40000000000003 729.6)" >10<tspan dy="-2.6" font-size="3.4">5</tspan></text>
<text x="350.40000000000003" y="753.9" font-size="4.8" font-weight="normal" text-anchor="middle" fill="#222" transform="rotate(-90 350.40000000000003 753.9)" >10<tspan dy="-2.6" font-size="3.4">4</tspan></text>
<text x="350.40000000000003" y="778.9" font-size="4.8" font-weight="normal" text-anchor="middle" fill="#222" transform="rotate(-90 350.40000000000003 778.9)" >10<tspan dy="-2.6" font-size="3.4">3</tspan></text>
<text x="350.40000000000003" y="806" font-size="4.8" font-weight="normal" text-anchor="middle" fill="#222" transform="rotate(-90 350.40000000000003 806)" >10<tspan dy="-2.6" font-size="3.4">2</tspan></text>
<text x="344.8" y="822.8" font-size="4.8" font-weight="normal" text-anchor="middle" fill="#222" transform="rotate(-90 344.8 822.8)" >-223</text>
<text x="403.5" y="841" font-size="6.3" font-weight="normal" text-anchor="middle" fill="#222" textLength="24" lengthAdjust="spacingAndGlyphs" >PI PE-A</text>
<text x="339.5" y="772.5" font-size="5.8" font-weight="normal" text-anchor="middle" fill="#222" transform="rotate(-90 339.5 772.5)" textLength="51" lengthAdjust="spacingAndGlyphs" >ANNEXIN V FITC-A</text>
</svg></body></html>
